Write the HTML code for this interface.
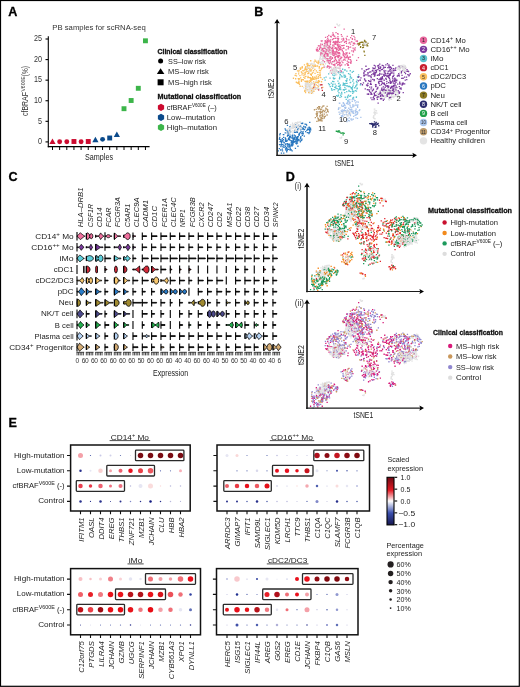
<!DOCTYPE html>
<html><head><meta charset="utf-8"><style>
html,body{margin:0;padding:0;background:#fff;}
svg{display:block;font-family:"Liberation Sans", sans-serif;will-change:transform;}
</style></head><body>
<svg width="520" height="687" viewBox="0 0 520 687">
<rect width="520" height="687" fill="#fff"/>
<rect x="0.5" y="0.5" width="518.8" height="685.8" fill="none" stroke="#000" stroke-width="1.2"/>
<text x="8.3" y="16.3" font-size="12.6" fill="#000" font-weight="bold" stroke="#000" stroke-width="0.3">A</text>
<text x="254.2" y="15.9" font-size="12.6" fill="#000" font-weight="bold" stroke="#000" stroke-width="0.3">B</text>
<text x="8.5" y="180.5" font-size="12.6" fill="#000" font-weight="bold" stroke="#000" stroke-width="0.3">C</text>
<text x="285.8" y="181" font-size="12.6" fill="#000" font-weight="bold" stroke="#000" stroke-width="0.3">D</text>
<text x="8.5" y="427" font-size="12.6" fill="#000" font-weight="bold" stroke="#000" stroke-width="0.3">E</text>
<text x="52.3" y="29.8" font-size="7.6" fill="#333" textLength="93.5" lengthAdjust="spacingAndGlyphs">PB samples for scRNA-seq</text>
<line x1="48.3" y1="36.3" x2="48.3" y2="147.2" stroke="#000" stroke-width="1.1"/>
<line x1="47.8" y1="146.6" x2="149.6" y2="146.6" stroke="#000" stroke-width="1.1"/>
<line x1="45.5" y1="39.0" x2="48.3" y2="39.0" stroke="#000" stroke-width="1.1"/>
<text x="42.0" y="41.3" font-size="8.2" fill="#333" text-anchor="end" textLength="8" lengthAdjust="spacingAndGlyphs">25</text>
<line x1="45.5" y1="59.58" x2="48.3" y2="59.58" stroke="#000" stroke-width="1.1"/>
<text x="42.0" y="61.879999999999995" font-size="8.2" fill="#333" text-anchor="end" textLength="8" lengthAdjust="spacingAndGlyphs">20</text>
<line x1="45.5" y1="80.16" x2="48.3" y2="80.16" stroke="#000" stroke-width="1.1"/>
<text x="42.0" y="82.46" font-size="8.2" fill="#333" text-anchor="end" textLength="8" lengthAdjust="spacingAndGlyphs">15</text>
<line x1="45.5" y1="100.74" x2="48.3" y2="100.74" stroke="#000" stroke-width="1.1"/>
<text x="42.0" y="103.03999999999999" font-size="8.2" fill="#333" text-anchor="end" textLength="8" lengthAdjust="spacingAndGlyphs">10</text>
<line x1="45.5" y1="121.32" x2="48.3" y2="121.32" stroke="#000" stroke-width="1.1"/>
<text x="42.0" y="123.61999999999999" font-size="8.2" fill="#333" text-anchor="end" textLength="4" lengthAdjust="spacingAndGlyphs">5</text>
<line x1="45.5" y1="141.89999999999998" x2="48.3" y2="141.89999999999998" stroke="#000" stroke-width="1.1"/>
<text x="42.0" y="144.2" font-size="8.2" fill="#333" text-anchor="end" textLength="4" lengthAdjust="spacingAndGlyphs">0</text>
<line x1="52.5" y1="146.6" x2="52.5" y2="150" stroke="#000" stroke-width="1"/>
<line x1="59.65" y1="146.6" x2="59.65" y2="150" stroke="#000" stroke-width="1"/>
<line x1="66.8" y1="146.6" x2="66.8" y2="150" stroke="#000" stroke-width="1"/>
<line x1="73.95" y1="146.6" x2="73.95" y2="150" stroke="#000" stroke-width="1"/>
<line x1="81.1" y1="146.6" x2="81.1" y2="150" stroke="#000" stroke-width="1"/>
<line x1="88.25" y1="146.6" x2="88.25" y2="150" stroke="#000" stroke-width="1"/>
<line x1="95.4" y1="146.6" x2="95.4" y2="150" stroke="#000" stroke-width="1"/>
<line x1="102.55000000000001" y1="146.6" x2="102.55000000000001" y2="150" stroke="#000" stroke-width="1"/>
<line x1="109.7" y1="146.6" x2="109.7" y2="150" stroke="#000" stroke-width="1"/>
<line x1="116.85000000000001" y1="146.6" x2="116.85000000000001" y2="150" stroke="#000" stroke-width="1"/>
<line x1="124.0" y1="146.6" x2="124.0" y2="150" stroke="#000" stroke-width="1"/>
<line x1="131.15" y1="146.6" x2="131.15" y2="150" stroke="#000" stroke-width="1"/>
<line x1="138.3" y1="146.6" x2="138.3" y2="150" stroke="#000" stroke-width="1"/>
<line x1="145.45" y1="146.6" x2="145.45" y2="150" stroke="#000" stroke-width="1"/>
<text transform="translate(28.3,116) rotate(-90)" font-size="9" fill="#333" textLength="24" lengthAdjust="spacingAndGlyphs">cfBRAF</text>
<text transform="translate(25.2,91.6) rotate(-90)" font-size="5.6" fill="#333" textLength="15.3" lengthAdjust="spacingAndGlyphs">V600E</text>
<text transform="translate(27.6,76.2) rotate(-90)" font-size="8.2" fill="#333" textLength="10" lengthAdjust="spacingAndGlyphs">(%)</text>
<text x="85" y="159.5" font-size="8.6" fill="#222" textLength="28" lengthAdjust="spacingAndGlyphs">Samples</text>
<path d="M49.4,143.95 L55.6,143.95 L52.5,138.45 Z" fill="#cc0a2f"/>
<circle cx="59.65" cy="141.7" r="2.45" fill="#cc0a2f"/>
<circle cx="66.8" cy="141.7" r="2.45" fill="#cc0a2f"/>
<rect x="71.5" y="139.05" width="4.9" height="4.9" fill="#cc0a2f"/>
<circle cx="81.1" cy="141.7" r="2.45" fill="#cc0a2f"/>
<rect x="85.8" y="139.05" width="4.9" height="4.9" fill="#cc0a2f"/>
<path d="M92.30000000000001,142.15 L98.5,142.15 L95.4,136.65 Z" fill="#0b4a8b"/>
<circle cx="102.55000000000001" cy="139.35" r="2.45" fill="#0b4a8b"/>
<rect x="107.25" y="135.55" width="4.9" height="4.9" fill="#0b4a8b"/>
<path d="M113.75000000000001,137.05 L119.95,137.05 L116.85000000000001,131.55 Z" fill="#0b4a8b"/>
<rect x="121.55" y="106.25" width="4.9" height="4.9" fill="#3cb54a"/>
<rect x="128.70000000000002" y="98.05" width="4.9" height="4.9" fill="#3cb54a"/>
<rect x="135.85000000000002" y="85.85" width="4.9" height="4.9" fill="#3cb54a"/>
<rect x="143.0" y="38.349999999999994" width="4.9" height="4.9" fill="#3cb54a"/>
<text x="157.5" y="53.5" font-size="7.2" fill="#111" font-weight="bold" stroke="#111" stroke-width="0.3" textLength="70" lengthAdjust="spacingAndGlyphs">Clinical classification</text>
<circle cx="160.6" cy="61.1" r="2.5" fill="#000"/>
<text x="168.1" y="63.6" font-size="7.3" fill="#222" textLength="37.9" lengthAdjust="spacingAndGlyphs">SS–low risk</text>
<path d="M156.85,73.89999999999999 L164.35,73.89999999999999 L160.6,68.3 Z" fill="#000"/>
<text x="168.1" y="73.9" font-size="7.3" fill="#222" textLength="40.6" lengthAdjust="spacingAndGlyphs">MS–low risk</text>
<rect x="157.6" y="79.3" width="6" height="6" fill="#000"/>
<text x="168.1" y="85.1" font-size="7.3" fill="#222" textLength="43.8" lengthAdjust="spacingAndGlyphs">MS–high risk</text>
<text x="157.6" y="99.2" font-size="7.2" fill="#111" font-weight="bold" stroke="#111" stroke-width="0.3" textLength="83.6" lengthAdjust="spacingAndGlyphs">Mutational classification</text>
<polygon points="161.00,111.00 157.88,109.20 157.88,105.60 161.00,103.80 164.12,105.60 164.12,109.20" fill="#cc0a2f"/>
<text x="166.8" y="110.1" font-size="7.3" fill="#222">cfBRAF<tspan font-size="4.6" dy="-2.8">V600E</tspan><tspan dy="2.8"> (–)</tspan></text>
<polygon points="161.00,121.00 157.88,119.20 157.88,115.60 161.00,113.80 164.12,115.60 164.12,119.20" fill="#0b4a8b"/>
<text x="166.8" y="120" font-size="7.3" fill="#222" textLength="48.4" lengthAdjust="spacingAndGlyphs">Low–mutation</text>
<polygon points="161.00,131.00 157.88,129.20 157.88,125.60 161.00,123.80 164.12,125.60 164.12,129.20" fill="#3cb54a"/>
<text x="166.8" y="129.9" font-size="7.3" fill="#222" textLength="50.2" lengthAdjust="spacingAndGlyphs">High–mutation</text>
<path d="M328.0 46.5h1.3v1.3h-1.3zM323.4 48.3h1.3v1.3h-1.3zM332.3 53.1h1.3v1.3h-1.3zM321.7 53.2h1.3v1.3h-1.3zM329.8 53.9h1.3v1.3h-1.3zM329.2 62.8h1.3v1.3h-1.3zM327.3 50.6h1.3v1.3h-1.3zM324.6 44.8h1.3v1.3h-1.3zM319.6 56.3h1.3v1.3h-1.3zM332.6 60.9h1.3v1.3h-1.3zM322.7 60.8h1.3v1.3h-1.3zM328.6 53.0h1.3v1.3h-1.3zM322.0 52.3h1.3v1.3h-1.3zM325.2 44.4h1.3v1.3h-1.3zM319.1 58.9h1.3v1.3h-1.3zM328.3 51.8h1.3v1.3h-1.3zM324.3 52.7h1.3v1.3h-1.3zM326.8 53.9h1.3v1.3h-1.3zM321.6 63.1h1.3v1.3h-1.3zM319.7 57.1h1.3v1.3h-1.3zM319.7 61.9h1.3v1.3h-1.3zM318.5 59.8h1.3v1.3h-1.3zM322.3 63.1h1.3v1.3h-1.3zM325.7 66.1h1.3v1.3h-1.3zM322.4 56.3h1.3v1.3h-1.3zM328.7 47.8h1.3v1.3h-1.3zM322.9 45.4h1.3v1.3h-1.3zM328.0 52.7h1.3v1.3h-1.3zM327.3 50.7h1.3v1.3h-1.3zM321.2 62.6h1.3v1.3h-1.3zM326.6 62.0h1.3v1.3h-1.3zM320.1 52.0h1.3v1.3h-1.3zM321.2 61.0h1.3v1.3h-1.3zM326.8 58.7h1.3v1.3h-1.3zM324.7 58.7h1.3v1.3h-1.3zM320.4 49.2h1.3v1.3h-1.3zM325.6 56.1h1.3v1.3h-1.3zM325.6 47.2h1.3v1.3h-1.3zM327.4 60.9h1.3v1.3h-1.3zM329.0 58.7h1.3v1.3h-1.3zM323.2 57.7h1.3v1.3h-1.3zM321.7 57.6h1.3v1.3h-1.3zM331.6 61.9h1.3v1.3h-1.3zM322.7 63.2h1.3v1.3h-1.3zM318.0 61.9h1.3v1.3h-1.3zM331.1 52.3h1.3v1.3h-1.3zM324.4 51.9h1.3v1.3h-1.3zM326.3 49.0h1.3v1.3h-1.3zM331.4 47.4h1.3v1.3h-1.3zM320.5 55.2h1.3v1.3h-1.3zM319.6 55.9h1.3v1.3h-1.3zM319.9 50.5h1.3v1.3h-1.3zM326.5 44.6h1.3v1.3h-1.3zM325.7 46.2h1.3v1.3h-1.3zM319.0 57.7h1.3v1.3h-1.3zM328.7 47.0h1.3v1.3h-1.3zM320.3 53.7h1.3v1.3h-1.3zM323.6 56.4h1.3v1.3h-1.3zM322.9 57.1h1.3v1.3h-1.3zM327.0 47.2h1.3v1.3h-1.3zM320.4 53.1h1.3v1.3h-1.3zM327.1 60.9h1.3v1.3h-1.3zM323.0 60.7h1.3v1.3h-1.3zM329.6 47.6h1.3v1.3h-1.3zM333.2 55.4h1.3v1.3h-1.3zM321.6 42.7h1.3v1.3h-1.3zM321.6 55.6h1.3v1.3h-1.3zM325.1 54.3h1.3v1.3h-1.3zM323.3 55.3h1.3v1.3h-1.3zM330.3 53.4h1.3v1.3h-1.3zM322.7 53.1h1.3v1.3h-1.3zM324.4 50.2h1.3v1.3h-1.3zM328.6 55.7h1.3v1.3h-1.3zM324.1 47.6h1.3v1.3h-1.3zM322.0 57.9h1.3v1.3h-1.3zM327.7 49.1h1.3v1.3h-1.3zM327.0 50.5h1.3v1.3h-1.3zM324.3 56.4h1.3v1.3h-1.3zM326.3 49.0h1.3v1.3h-1.3zM326.7 50.7h1.3v1.3h-1.3zM319.6 63.9h1.3v1.3h-1.3zM323.5 56.2h1.3v1.3h-1.3zM328.6 58.7h1.3v1.3h-1.3zM326.6 59.6h1.3v1.3h-1.3zM327.1 54.1h1.3v1.3h-1.3zM323.4 45.7h1.3v1.3h-1.3zM320.4 51.9h1.3v1.3h-1.3zM326.5 43.5h1.3v1.3h-1.3zM325.9 66.9h1.3v1.3h-1.3zM329.3 44.7h1.3v1.3h-1.3zM330.8 58.6h1.3v1.3h-1.3zM322.1 47.6h1.3v1.3h-1.3zM329.0 50.9h1.3v1.3h-1.3zM327.3 52.2h1.3v1.3h-1.3zM326.8 49.4h1.3v1.3h-1.3zM326.5 55.4h1.3v1.3h-1.3zM325.6 66.0h1.3v1.3h-1.3zM325.8 65.9h1.3v1.3h-1.3zM323.6 44.2h1.3v1.3h-1.3zM322.4 52.9h1.3v1.3h-1.3zM319.8 63.0h1.3v1.3h-1.3zM330.8 49.7h1.3v1.3h-1.3zM331.0 51.7h1.3v1.3h-1.3zM330.4 46.7h1.3v1.3h-1.3zM328.6 52.8h1.3v1.3h-1.3zM324.6 56.2h1.3v1.3h-1.3zM325.7 48.7h1.3v1.3h-1.3zM321.2 47.7h1.3v1.3h-1.3zM326.8 45.6h1.3v1.3h-1.3zM321.7 53.7h1.3v1.3h-1.3zM323.2 45.5h1.3v1.3h-1.3zM322.5 61.3h1.3v1.3h-1.3zM320.8 51.5h1.3v1.3h-1.3zM321.5 50.9h1.3v1.3h-1.3zM330.9 51.6h1.3v1.3h-1.3zM323.6 64.9h1.3v1.3h-1.3zM322.6 55.0h1.3v1.3h-1.3zM325.7 47.2h1.3v1.3h-1.3zM326.7 42.8h1.3v1.3h-1.3zM322.2 49.5h1.3v1.3h-1.3zM324.8 63.1h1.3v1.3h-1.3zM331.1 46.5h1.3v1.3h-1.3zM331.0 51.7h1.3v1.3h-1.3zM329.6 44.5h1.3v1.3h-1.3zM323.7 57.7h1.3v1.3h-1.3zM324.5 55.7h1.3v1.3h-1.3zM319.0 61.3h1.3v1.3h-1.3zM327.3 46.2h1.3v1.3h-1.3zM319.5 58.5h1.3v1.3h-1.3zM319.6 63.3h1.3v1.3h-1.3zM323.3 50.5h1.3v1.3h-1.3zM320.7 50.1h1.3v1.3h-1.3zM321.8 53.3h1.3v1.3h-1.3zM323.1 66.7h1.3v1.3h-1.3zM320.2 52.2h1.3v1.3h-1.3zM322.7 47.2h1.3v1.3h-1.3zM323.3 45.1h1.3v1.3h-1.3zM324.0 47.2h1.3v1.3h-1.3zM328.3 51.4h1.3v1.3h-1.3zM325.3 43.0h1.3v1.3h-1.3zM321.1 58.6h1.3v1.3h-1.3zM329.6 50.1h1.3v1.3h-1.3zM318.9 50.7h1.3v1.3h-1.3zM329.9 56.1h1.3v1.3h-1.3zM326.1 49.1h1.3v1.3h-1.3zM325.6 50.0h1.3v1.3h-1.3zM330.0 56.4h1.3v1.3h-1.3zM326.6 57.7h1.3v1.3h-1.3zM331.1 62.3h1.3v1.3h-1.3zM323.7 57.2h1.3v1.3h-1.3zM382.9 92.3h1.3v1.3h-1.3zM387.3 93.9h1.3v1.3h-1.3zM389.3 89.0h1.3v1.3h-1.3zM384.9 91.2h1.3v1.3h-1.3zM378.3 96.6h1.3v1.3h-1.3zM395.7 90.5h1.3v1.3h-1.3zM379.4 89.9h1.3v1.3h-1.3zM379.8 91.1h1.3v1.3h-1.3zM387.7 90.3h1.3v1.3h-1.3zM382.5 91.0h1.3v1.3h-1.3zM389.5 90.7h1.3v1.3h-1.3zM393.6 92.2h1.3v1.3h-1.3zM395.5 89.3h1.3v1.3h-1.3zM379.5 92.3h1.3v1.3h-1.3zM394.4 90.4h1.3v1.3h-1.3zM387.5 90.6h1.3v1.3h-1.3zM384.1 92.2h1.3v1.3h-1.3zM381.8 89.1h1.3v1.3h-1.3zM393.5 87.9h1.3v1.3h-1.3zM378.2 95.3h1.3v1.3h-1.3zM385.7 92.6h1.3v1.3h-1.3zM391.8 96.4h1.3v1.3h-1.3zM390.8 98.6h1.3v1.3h-1.3zM383.4 89.6h1.3v1.3h-1.3zM380.1 90.0h1.3v1.3h-1.3zM391.6 91.8h1.3v1.3h-1.3zM387.5 91.2h1.3v1.3h-1.3zM392.3 90.1h1.3v1.3h-1.3zM390.2 89.8h1.3v1.3h-1.3zM393.0 93.4h1.3v1.3h-1.3zM378.8 93.5h1.3v1.3h-1.3zM397.5 93.4h1.3v1.3h-1.3zM385.8 88.3h1.3v1.3h-1.3zM387.1 90.8h1.3v1.3h-1.3zM376.5 92.9h1.3v1.3h-1.3zM386.4 91.6h1.3v1.3h-1.3zM375.9 94.8h1.3v1.3h-1.3zM387.8 96.2h1.3v1.3h-1.3zM395.8 95.7h1.3v1.3h-1.3zM381.4 92.8h1.3v1.3h-1.3zM397.1 93.9h1.3v1.3h-1.3zM386.8 92.5h1.3v1.3h-1.3zM386.2 88.7h1.3v1.3h-1.3zM384.7 89.4h1.3v1.3h-1.3zM390.0 91.5h1.3v1.3h-1.3zM391.7 96.4h1.3v1.3h-1.3zM380.4 92.8h1.3v1.3h-1.3zM380.3 97.7h1.3v1.3h-1.3zM395.1 89.3h1.3v1.3h-1.3zM396.0 90.6h1.3v1.3h-1.3zM397.5 91.7h1.3v1.3h-1.3zM384.8 95.0h1.3v1.3h-1.3zM385.5 95.4h1.3v1.3h-1.3zM381.0 92.2h1.3v1.3h-1.3zM395.2 92.5h1.3v1.3h-1.3zM394.4 95.8h1.3v1.3h-1.3zM389.6 98.3h1.3v1.3h-1.3zM388.3 96.1h1.3v1.3h-1.3zM391.0 95.2h1.3v1.3h-1.3zM388.0 98.6h1.3v1.3h-1.3zM380.4 97.1h1.3v1.3h-1.3zM388.6 99.4h1.3v1.3h-1.3zM387.9 93.7h1.3v1.3h-1.3zM396.4 94.2h1.3v1.3h-1.3zM377.4 92.4h1.3v1.3h-1.3zM382.3 90.1h1.3v1.3h-1.3zM388.7 89.2h1.3v1.3h-1.3zM384.9 91.6h1.3v1.3h-1.3zM376.8 94.5h1.3v1.3h-1.3zM377.8 95.6h1.3v1.3h-1.3zM383.6 90.7h1.3v1.3h-1.3zM395.4 90.9h1.3v1.3h-1.3zM384.7 90.8h1.3v1.3h-1.3zM393.0 96.2h1.3v1.3h-1.3zM387.6 88.9h1.3v1.3h-1.3zM381.3 97.4h1.3v1.3h-1.3zM394.7 88.5h1.3v1.3h-1.3zM375.0 91.5h1.3v1.3h-1.3zM389.1 96.2h1.3v1.3h-1.3zM391.3 91.9h1.3v1.3h-1.3zM393.4 90.6h1.3v1.3h-1.3zM393.1 96.9h1.3v1.3h-1.3zM383.7 96.4h1.3v1.3h-1.3zM396.3 89.9h1.3v1.3h-1.3zM391.9 95.8h1.3v1.3h-1.3zM386.4 87.9h1.3v1.3h-1.3zM387.0 91.2h1.3v1.3h-1.3zM379.7 92.7h1.3v1.3h-1.3zM383.5 95.3h1.3v1.3h-1.3zM386.1 94.9h1.3v1.3h-1.3zM394.7 95.5h1.3v1.3h-1.3zM377.1 95.4h1.3v1.3h-1.3zM386.1 90.0h1.3v1.3h-1.3zM382.7 89.8h1.3v1.3h-1.3zM397.6 94.6h1.3v1.3h-1.3zM394.2 93.2h1.3v1.3h-1.3zM390.9 94.2h1.3v1.3h-1.3zM388.5 89.9h1.3v1.3h-1.3zM380.9 97.3h1.3v1.3h-1.3zM390.5 90.6h1.3v1.3h-1.3zM391.4 96.1h1.3v1.3h-1.3zM386.8 89.9h1.3v1.3h-1.3zM387.9 90.8h1.3v1.3h-1.3zM391.8 92.1h1.3v1.3h-1.3zM390.2 96.5h1.3v1.3h-1.3zM396.8 92.0h1.3v1.3h-1.3zM386.4 95.4h1.3v1.3h-1.3zM391.1 92.4h1.3v1.3h-1.3zM386.0 91.2h1.3v1.3h-1.3zM396.2 91.1h1.3v1.3h-1.3zM383.5 93.2h1.3v1.3h-1.3zM388.6 94.4h1.3v1.3h-1.3zM386.9 94.2h1.3v1.3h-1.3zM379.7 92.1h1.3v1.3h-1.3zM391.4 89.6h1.3v1.3h-1.3zM379.9 90.5h1.3v1.3h-1.3zM390.2 90.1h1.3v1.3h-1.3zM383.6 92.4h1.3v1.3h-1.3zM391.1 90.2h1.3v1.3h-1.3zM389.4 97.8h1.3v1.3h-1.3zM395.0 92.5h1.3v1.3h-1.3zM383.8 96.1h1.3v1.3h-1.3zM388.1 91.7h1.3v1.3h-1.3zM394.2 90.6h1.3v1.3h-1.3zM379.8 91.1h1.3v1.3h-1.3zM385.2 96.7h1.3v1.3h-1.3zM386.6 94.8h1.3v1.3h-1.3zM387.3 89.9h1.3v1.3h-1.3zM388.4 94.0h1.3v1.3h-1.3zM393.2 95.5h1.3v1.3h-1.3zM401.9 70.1h1.3v1.3h-1.3zM403.1 66.1h1.3v1.3h-1.3zM404.9 70.3h1.3v1.3h-1.3zM400.8 72.3h1.3v1.3h-1.3zM403.2 64.4h1.3v1.3h-1.3zM401.7 66.0h1.3v1.3h-1.3zM401.8 67.5h1.3v1.3h-1.3zM399.3 69.4h1.3v1.3h-1.3zM402.8 68.2h1.3v1.3h-1.3zM404.7 65.7h1.3v1.3h-1.3zM397.3 68.6h1.3v1.3h-1.3z" fill="#e0e0e0"/>
<path d="M380.1 66.4h1.3v1.3h-1.3zM373.2 73.7h1.3v1.3h-1.3zM373.7 97.9h1.3v1.3h-1.3zM370.6 83.7h1.3v1.3h-1.3zM396.7 75.5h1.3v1.3h-1.3zM390.5 92.6h1.3v1.3h-1.3zM368.3 68.0h1.3v1.3h-1.3zM374.6 67.2h1.3v1.3h-1.3zM372.7 68.0h1.3v1.3h-1.3zM366.7 93.5h1.3v1.3h-1.3zM398.4 91.2h1.3v1.3h-1.3zM379.9 94.4h1.3v1.3h-1.3zM391.3 69.4h1.3v1.3h-1.3zM394.4 68.3h1.3v1.3h-1.3zM379.5 70.3h1.3v1.3h-1.3zM363.1 75.3h1.3v1.3h-1.3zM381.1 98.1h1.3v1.3h-1.3zM389.7 69.0h1.3v1.3h-1.3zM383.4 69.7h1.3v1.3h-1.3zM372.5 73.0h1.3v1.3h-1.3zM382.9 88.7h1.3v1.3h-1.3zM376.2 88.5h1.3v1.3h-1.3zM402.3 83.8h1.3v1.3h-1.3zM390.9 82.3h1.3v1.3h-1.3zM394.3 78.7h1.3v1.3h-1.3zM399.4 67.1h1.3v1.3h-1.3zM372.1 78.7h1.3v1.3h-1.3zM387.0 72.9h1.3v1.3h-1.3zM381.6 89.4h1.3v1.3h-1.3zM404.1 70.1h1.3v1.3h-1.3zM392.2 80.3h1.3v1.3h-1.3zM394.4 83.0h1.3v1.3h-1.3zM386.2 75.5h1.3v1.3h-1.3zM391.5 86.4h1.3v1.3h-1.3zM388.3 66.0h1.3v1.3h-1.3zM376.7 78.0h1.3v1.3h-1.3zM397.1 83.5h1.3v1.3h-1.3zM382.7 86.3h1.3v1.3h-1.3zM389.0 97.1h1.3v1.3h-1.3zM371.2 93.7h1.3v1.3h-1.3zM366.8 85.1h1.3v1.3h-1.3zM399.2 83.4h1.3v1.3h-1.3zM383.5 88.2h1.3v1.3h-1.3zM390.4 81.0h1.3v1.3h-1.3zM388.2 89.4h1.3v1.3h-1.3zM377.2 86.8h1.3v1.3h-1.3zM401.8 82.5h1.3v1.3h-1.3zM407.5 70.6h1.3v1.3h-1.3zM387.7 74.8h1.3v1.3h-1.3zM385.3 85.3h1.3v1.3h-1.3zM400.7 72.1h1.3v1.3h-1.3zM381.5 82.8h1.3v1.3h-1.3zM404.8 67.6h1.3v1.3h-1.3zM393.1 72.4h1.3v1.3h-1.3zM370.7 92.8h1.3v1.3h-1.3zM364.3 70.8h1.3v1.3h-1.3zM365.7 69.1h1.3v1.3h-1.3zM390.8 67.6h1.3v1.3h-1.3zM375.0 72.1h1.3v1.3h-1.3zM387.4 93.2h1.3v1.3h-1.3zM379.6 80.6h1.3v1.3h-1.3zM369.1 86.4h1.3v1.3h-1.3zM392.1 75.8h1.3v1.3h-1.3zM405.9 76.4h1.3v1.3h-1.3zM379.1 63.5h1.3v1.3h-1.3zM387.7 75.4h1.3v1.3h-1.3zM395.0 69.7h1.3v1.3h-1.3zM387.2 72.5h1.3v1.3h-1.3zM389.3 79.3h1.3v1.3h-1.3zM359.3 79.4h1.3v1.3h-1.3zM381.8 95.3h1.3v1.3h-1.3zM360.3 77.3h1.3v1.3h-1.3zM386.6 95.8h1.3v1.3h-1.3zM391.3 72.5h1.3v1.3h-1.3zM380.0 95.8h1.3v1.3h-1.3zM382.3 89.9h1.3v1.3h-1.3zM368.0 93.7h1.3v1.3h-1.3zM388.0 76.9h1.3v1.3h-1.3zM373.7 92.7h1.3v1.3h-1.3zM388.7 67.1h1.3v1.3h-1.3zM373.3 70.5h1.3v1.3h-1.3zM383.3 73.8h1.3v1.3h-1.3zM394.3 81.0h1.3v1.3h-1.3zM373.8 95.0h1.3v1.3h-1.3zM389.2 79.8h1.3v1.3h-1.3zM377.0 65.3h1.3v1.3h-1.3zM387.6 70.6h1.3v1.3h-1.3zM360.2 82.9h1.3v1.3h-1.3zM379.4 73.4h1.3v1.3h-1.3zM380.8 98.2h1.3v1.3h-1.3zM392.7 67.9h1.3v1.3h-1.3zM398.1 72.9h1.3v1.3h-1.3zM375.4 94.9h1.3v1.3h-1.3zM374.9 84.1h1.3v1.3h-1.3zM388.5 92.3h1.3v1.3h-1.3zM391.3 71.2h1.3v1.3h-1.3zM400.3 87.2h1.3v1.3h-1.3zM387.7 86.4h1.3v1.3h-1.3zM390.8 85.8h1.3v1.3h-1.3zM373.6 64.8h1.3v1.3h-1.3zM381.7 76.1h1.3v1.3h-1.3zM392.4 90.0h1.3v1.3h-1.3zM380.1 77.7h1.3v1.3h-1.3zM404.6 79.5h1.3v1.3h-1.3zM387.2 92.5h1.3v1.3h-1.3zM404.0 83.3h1.3v1.3h-1.3zM370.1 93.4h1.3v1.3h-1.3zM389.1 69.4h1.3v1.3h-1.3zM383.5 79.6h1.3v1.3h-1.3zM400.4 65.2h1.3v1.3h-1.3zM406.1 78.9h1.3v1.3h-1.3zM389.7 81.0h1.3v1.3h-1.3zM407.2 73.9h1.3v1.3h-1.3zM402.5 77.6h1.3v1.3h-1.3zM386.7 94.2h1.3v1.3h-1.3zM379.6 91.5h1.3v1.3h-1.3zM367.7 75.2h1.3v1.3h-1.3zM386.9 85.6h1.3v1.3h-1.3zM386.5 75.9h1.3v1.3h-1.3zM389.4 92.2h1.3v1.3h-1.3zM363.6 70.2h1.3v1.3h-1.3zM389.8 87.2h1.3v1.3h-1.3zM389.0 66.8h1.3v1.3h-1.3zM378.1 96.3h1.3v1.3h-1.3zM361.8 84.1h1.3v1.3h-1.3zM382.8 65.3h1.3v1.3h-1.3zM381.1 88.8h1.3v1.3h-1.3zM374.3 72.4h1.3v1.3h-1.3zM369.8 83.6h1.3v1.3h-1.3zM374.1 75.1h1.3v1.3h-1.3zM385.1 84.6h1.3v1.3h-1.3zM373.7 75.5h1.3v1.3h-1.3zM402.7 82.4h1.3v1.3h-1.3zM364.9 80.4h1.3v1.3h-1.3zM385.1 85.1h1.3v1.3h-1.3zM378.2 93.7h1.3v1.3h-1.3zM381.7 68.7h1.3v1.3h-1.3zM401.4 74.7h1.3v1.3h-1.3zM404.9 72.9h1.3v1.3h-1.3zM370.1 75.4h1.3v1.3h-1.3zM367.4 73.1h1.3v1.3h-1.3zM367.3 82.8h1.3v1.3h-1.3zM386.4 75.3h1.3v1.3h-1.3zM388.6 64.5h1.3v1.3h-1.3zM379.2 84.7h1.3v1.3h-1.3zM394.4 84.5h1.3v1.3h-1.3zM383.7 83.1h1.3v1.3h-1.3zM390.8 86.8h1.3v1.3h-1.3zM401.1 77.8h1.3v1.3h-1.3zM389.8 82.2h1.3v1.3h-1.3zM378.1 67.9h1.3v1.3h-1.3zM379.9 92.6h1.3v1.3h-1.3zM373.6 78.9h1.3v1.3h-1.3zM392.1 88.3h1.3v1.3h-1.3zM373.5 92.5h1.3v1.3h-1.3zM392.7 85.1h1.3v1.3h-1.3zM397.3 74.8h1.3v1.3h-1.3zM390.3 67.3h1.3v1.3h-1.3zM372.8 88.6h1.3v1.3h-1.3zM393.2 74.6h1.3v1.3h-1.3zM359.7 79.5h1.3v1.3h-1.3zM393.1 70.2h1.3v1.3h-1.3zM370.8 92.8h1.3v1.3h-1.3zM371.9 69.8h1.3v1.3h-1.3zM383.8 75.4h1.3v1.3h-1.3zM380.8 78.8h1.3v1.3h-1.3zM365.3 65.6h1.3v1.3h-1.3zM387.2 67.0h1.3v1.3h-1.3zM367.7 75.3h1.3v1.3h-1.3zM379.1 73.5h1.3v1.3h-1.3zM379.5 68.0h1.3v1.3h-1.3zM401.5 83.6h1.3v1.3h-1.3zM378.9 70.1h1.3v1.3h-1.3zM357.5 76.3h1.3v1.3h-1.3zM385.1 70.3h1.3v1.3h-1.3zM367.3 71.9h1.3v1.3h-1.3zM398.6 92.6h1.3v1.3h-1.3zM393.1 89.2h1.3v1.3h-1.3zM364.6 88.3h1.3v1.3h-1.3zM380.8 89.5h1.3v1.3h-1.3zM408.3 75.1h1.3v1.3h-1.3zM388.8 97.3h1.3v1.3h-1.3zM401.8 66.2h1.3v1.3h-1.3zM390.0 96.7h1.3v1.3h-1.3zM406.2 70.8h1.3v1.3h-1.3zM383.7 82.4h1.3v1.3h-1.3zM384.4 89.5h1.3v1.3h-1.3zM394.6 87.3h1.3v1.3h-1.3zM382.0 89.9h1.3v1.3h-1.3zM388.7 74.8h1.3v1.3h-1.3zM370.1 80.9h1.3v1.3h-1.3zM386.8 62.9h1.3v1.3h-1.3zM374.4 74.2h1.3v1.3h-1.3zM384.7 66.8h1.3v1.3h-1.3zM365.9 84.5h1.3v1.3h-1.3zM389.0 93.3h1.3v1.3h-1.3zM378.0 64.8h1.3v1.3h-1.3zM363.9 78.3h1.3v1.3h-1.3zM390.5 87.0h1.3v1.3h-1.3zM393.3 90.9h1.3v1.3h-1.3zM399.0 91.4h1.3v1.3h-1.3zM393.3 85.7h1.3v1.3h-1.3zM379.1 72.7h1.3v1.3h-1.3zM384.5 86.7h1.3v1.3h-1.3zM391.4 93.3h1.3v1.3h-1.3zM377.9 81.5h1.3v1.3h-1.3zM357.5 76.6h1.3v1.3h-1.3zM391.9 85.9h1.3v1.3h-1.3zM374.8 65.4h1.3v1.3h-1.3zM393.0 69.8h1.3v1.3h-1.3zM364.6 74.2h1.3v1.3h-1.3zM404.0 76.5h1.3v1.3h-1.3zM383.5 74.1h1.3v1.3h-1.3zM381.0 80.4h1.3v1.3h-1.3zM363.3 71.9h1.3v1.3h-1.3zM393.0 86.3h1.3v1.3h-1.3zM382.1 82.2h1.3v1.3h-1.3zM385.1 74.6h1.3v1.3h-1.3zM383.0 67.4h1.3v1.3h-1.3zM389.6 74.5h1.3v1.3h-1.3zM384.7 92.3h1.3v1.3h-1.3zM382.7 99.8h1.3v1.3h-1.3zM366.2 74.2h1.3v1.3h-1.3zM396.0 80.0h1.3v1.3h-1.3zM362.8 82.3h1.3v1.3h-1.3zM393.9 80.6h1.3v1.3h-1.3zM375.8 70.5h1.3v1.3h-1.3zM399.1 81.6h1.3v1.3h-1.3zM380.4 77.2h1.3v1.3h-1.3zM392.3 64.7h1.3v1.3h-1.3zM377.6 74.3h1.3v1.3h-1.3zM376.4 97.0h1.3v1.3h-1.3zM380.9 69.0h1.3v1.3h-1.3zM385.6 78.6h1.3v1.3h-1.3zM385.2 64.2h1.3v1.3h-1.3zM398.5 65.5h1.3v1.3h-1.3zM379.2 92.8h1.3v1.3h-1.3zM381.2 87.5h1.3v1.3h-1.3zM372.3 67.2h1.3v1.3h-1.3zM378.3 78.9h1.3v1.3h-1.3zM383.8 84.0h1.3v1.3h-1.3zM380.9 83.9h1.3v1.3h-1.3zM387.0 85.0h1.3v1.3h-1.3zM364.2 79.2h1.3v1.3h-1.3zM388.4 76.3h1.3v1.3h-1.3zM389.2 79.7h1.3v1.3h-1.3zM399.3 88.0h1.3v1.3h-1.3zM395.5 85.4h1.3v1.3h-1.3zM386.0 85.4h1.3v1.3h-1.3zM395.2 67.2h1.3v1.3h-1.3zM375.8 71.4h1.3v1.3h-1.3zM370.3 79.4h1.3v1.3h-1.3zM389.8 66.2h1.3v1.3h-1.3zM387.4 87.0h1.3v1.3h-1.3zM373.4 72.1h1.3v1.3h-1.3zM396.2 79.5h1.3v1.3h-1.3zM371.1 74.0h1.3v1.3h-1.3zM367.3 84.8h1.3v1.3h-1.3zM370.3 97.2h1.3v1.3h-1.3zM370.5 88.3h1.3v1.3h-1.3zM373.3 98.9h1.3v1.3h-1.3zM406.4 69.0h1.3v1.3h-1.3zM368.3 89.3h1.3v1.3h-1.3zM387.9 81.9h1.3v1.3h-1.3zM368.9 90.9h1.3v1.3h-1.3zM370.1 71.2h1.3v1.3h-1.3zM400.5 88.4h1.3v1.3h-1.3zM379.4 66.2h1.3v1.3h-1.3zM380.0 78.8h1.3v1.3h-1.3zM378.0 82.1h1.3v1.3h-1.3zM366.5 84.3h1.3v1.3h-1.3zM374.3 73.7h1.3v1.3h-1.3zM399.1 82.1h1.3v1.3h-1.3zM392.3 80.9h1.3v1.3h-1.3zM393.6 84.5h1.3v1.3h-1.3zM401.4 84.4h1.3v1.3h-1.3zM377.0 96.2h1.3v1.3h-1.3zM402.1 69.9h1.3v1.3h-1.3zM383.1 83.0h1.3v1.3h-1.3zM389.5 90.3h1.3v1.3h-1.3zM385.1 77.7h1.3v1.3h-1.3zM372.6 97.1h1.3v1.3h-1.3zM403.9 66.6h1.3v1.3h-1.3zM399.5 83.3h1.3v1.3h-1.3zM408.6 74.5h1.3v1.3h-1.3zM392.6 92.7h1.3v1.3h-1.3zM387.4 72.8h1.3v1.3h-1.3zM369.0 75.3h1.3v1.3h-1.3zM370.0 82.8h1.3v1.3h-1.3zM392.1 80.1h1.3v1.3h-1.3zM392.8 88.3h1.3v1.3h-1.3zM381.9 78.3h1.3v1.3h-1.3zM383.5 75.4h1.3v1.3h-1.3zM386.2 80.7h1.3v1.3h-1.3zM370.5 76.9h1.3v1.3h-1.3zM389.5 81.2h1.3v1.3h-1.3zM389.3 79.3h1.3v1.3h-1.3zM381.7 77.3h1.3v1.3h-1.3zM388.9 77.8h1.3v1.3h-1.3zM385.4 89.8h1.3v1.3h-1.3zM395.3 81.7h1.3v1.3h-1.3zM404.1 71.8h1.3v1.3h-1.3zM375.4 85.9h1.3v1.3h-1.3zM391.9 77.3h1.3v1.3h-1.3zM373.9 67.9h1.3v1.3h-1.3zM367.2 68.8h1.3v1.3h-1.3zM368.9 71.4h1.3v1.3h-1.3zM387.9 86.0h1.3v1.3h-1.3zM377.8 66.6h1.3v1.3h-1.3zM383.3 66.7h1.3v1.3h-1.3zM396.2 87.0h1.3v1.3h-1.3zM392.9 82.4h1.3v1.3h-1.3zM384.5 72.5h1.3v1.3h-1.3zM375.0 85.8h1.3v1.3h-1.3zM402.6 91.9h1.3v1.3h-1.3zM381.1 81.0h1.3v1.3h-1.3zM372.2 89.8h1.3v1.3h-1.3zM407.9 70.9h1.3v1.3h-1.3zM370.6 76.4h1.3v1.3h-1.3zM390.0 87.7h1.3v1.3h-1.3zM375.0 70.0h1.3v1.3h-1.3zM395.1 78.5h1.3v1.3h-1.3zM375.5 84.3h1.3v1.3h-1.3zM361.3 68.3h1.3v1.3h-1.3zM379.8 67.3h1.3v1.3h-1.3zM371.8 69.9h1.3v1.3h-1.3zM387.6 64.4h1.3v1.3h-1.3zM389.7 82.6h1.3v1.3h-1.3zM388.9 73.4h1.3v1.3h-1.3zM376.7 74.8h1.3v1.3h-1.3zM375.6 69.4h1.3v1.3h-1.3zM367.9 93.3h1.3v1.3h-1.3zM378.5 83.0h1.3v1.3h-1.3zM390.1 72.4h1.3v1.3h-1.3zM394.5 69.7h1.3v1.3h-1.3zM409.6 73.1h1.3v1.3h-1.3zM373.5 80.0h1.3v1.3h-1.3zM377.2 69.0h1.3v1.3h-1.3zM392.4 78.5h1.3v1.3h-1.3zM378.4 80.9h1.3v1.3h-1.3zM371.4 99.0h1.3v1.3h-1.3zM383.5 98.4h1.3v1.3h-1.3zM386.1 82.7h1.3v1.3h-1.3zM395.3 89.3h1.3v1.3h-1.3zM357.7 80.2h1.3v1.3h-1.3zM398.5 74.5h1.3v1.3h-1.3zM398.7 85.9h1.3v1.3h-1.3zM377.0 87.9h1.3v1.3h-1.3zM373.8 94.0h1.3v1.3h-1.3zM371.7 70.1h1.3v1.3h-1.3zM376.8 98.8h1.3v1.3h-1.3zM381.4 94.1h1.3v1.3h-1.3zM383.0 74.5h1.3v1.3h-1.3zM382.0 78.2h1.3v1.3h-1.3zM381.2 73.5h1.3v1.3h-1.3zM397.6 90.0h1.3v1.3h-1.3zM388.2 93.3h1.3v1.3h-1.3zM398.5 75.4h1.3v1.3h-1.3zM366.7 89.0h1.3v1.3h-1.3zM367.5 89.2h1.3v1.3h-1.3zM383.6 71.1h1.3v1.3h-1.3zM384.3 72.3h1.3v1.3h-1.3zM389.4 70.8h1.3v1.3h-1.3zM390.0 72.5h1.3v1.3h-1.3zM363.2 73.3h1.3v1.3h-1.3zM368.0 80.0h1.3v1.3h-1.3zM397.5 66.8h1.3v1.3h-1.3zM382.7 95.4h1.3v1.3h-1.3zM392.2 92.2h1.3v1.3h-1.3zM394.6 79.9h1.3v1.3h-1.3zM377.5 102.5h1.3v1.3h-1.3zM368.8 89.5h1.3v1.3h-1.3zM388.1 85.6h1.3v1.3h-1.3zM378.6 74.7h1.3v1.3h-1.3zM398.1 66.2h1.3v1.3h-1.3zM371.7 90.3h1.3v1.3h-1.3zM365.2 80.3h1.3v1.3h-1.3zM379.9 98.1h1.3v1.3h-1.3zM380.7 78.3h1.3v1.3h-1.3zM368.8 80.8h1.3v1.3h-1.3zM381.6 64.7h1.3v1.3h-1.3zM400.8 70.8h1.3v1.3h-1.3zM363.7 75.1h1.3v1.3h-1.3zM386.3 94.2h1.3v1.3h-1.3zM378.9 78.5h1.3v1.3h-1.3zM374.8 91.4h1.3v1.3h-1.3zM389.7 73.1h1.3v1.3h-1.3zM370.1 91.7h1.3v1.3h-1.3zM358.2 76.1h1.3v1.3h-1.3zM382.8 67.4h1.3v1.3h-1.3zM391.8 89.7h1.3v1.3h-1.3zM392.7 75.7h1.3v1.3h-1.3zM375.0 94.7h1.3v1.3h-1.3zM394.0 79.8h1.3v1.3h-1.3zM375.6 90.7h1.3v1.3h-1.3zM395.0 94.0h1.3v1.3h-1.3zM394.1 77.6h1.3v1.3h-1.3zM385.1 73.0h1.3v1.3h-1.3zM373.0 96.3h1.3v1.3h-1.3zM370.9 86.5h1.3v1.3h-1.3z" fill="#7b3a9e"/>
<path d="M332.1 46.6h1.3v1.3h-1.3zM341.6 48.3h1.3v1.3h-1.3zM337.0 37.9h1.3v1.3h-1.3zM350.2 62.6h1.3v1.3h-1.3zM335.1 55.8h1.3v1.3h-1.3zM340.8 71.0h1.3v1.3h-1.3zM347.7 56.8h1.3v1.3h-1.3zM334.4 52.8h1.3v1.3h-1.3zM349.8 43.4h1.3v1.3h-1.3zM335.9 49.3h1.3v1.3h-1.3zM320.6 52.2h1.3v1.3h-1.3zM315.9 49.6h1.3v1.3h-1.3zM326.2 40.8h1.3v1.3h-1.3zM338.5 60.3h1.3v1.3h-1.3zM323.9 61.1h1.3v1.3h-1.3zM350.3 61.6h1.3v1.3h-1.3zM335.4 69.4h1.3v1.3h-1.3zM334.9 56.0h1.3v1.3h-1.3zM328.5 46.1h1.3v1.3h-1.3zM328.0 60.0h1.3v1.3h-1.3zM335.8 48.3h1.3v1.3h-1.3zM329.8 43.8h1.3v1.3h-1.3zM324.5 40.5h1.3v1.3h-1.3zM327.5 41.0h1.3v1.3h-1.3zM332.7 38.0h1.3v1.3h-1.3zM338.7 52.7h1.3v1.3h-1.3zM346.5 52.3h1.3v1.3h-1.3zM349.2 41.7h1.3v1.3h-1.3zM356.7 40.6h1.3v1.3h-1.3zM321.4 52.9h1.3v1.3h-1.3zM342.6 54.2h1.3v1.3h-1.3zM336.0 51.3h1.3v1.3h-1.3zM344.0 53.3h1.3v1.3h-1.3zM341.7 49.9h1.3v1.3h-1.3zM327.4 53.9h1.3v1.3h-1.3zM334.6 56.1h1.3v1.3h-1.3zM339.0 49.1h1.3v1.3h-1.3zM340.3 49.0h1.3v1.3h-1.3zM335.2 40.7h1.3v1.3h-1.3zM319.9 52.5h1.3v1.3h-1.3zM334.5 26.7h1.3v1.3h-1.3zM347.6 48.1h1.3v1.3h-1.3zM331.8 51.7h1.3v1.3h-1.3zM335.2 37.6h1.3v1.3h-1.3zM326.5 60.3h1.3v1.3h-1.3zM347.7 57.5h1.3v1.3h-1.3zM327.1 37.7h1.3v1.3h-1.3zM321.9 49.1h1.3v1.3h-1.3zM338.1 52.0h1.3v1.3h-1.3zM316.5 50.5h1.3v1.3h-1.3zM343.9 41.8h1.3v1.3h-1.3zM326.6 42.2h1.3v1.3h-1.3zM333.8 41.5h1.3v1.3h-1.3zM333.4 54.7h1.3v1.3h-1.3zM341.4 35.8h1.3v1.3h-1.3zM338.2 59.3h1.3v1.3h-1.3zM342.2 61.9h1.3v1.3h-1.3zM339.0 62.8h1.3v1.3h-1.3zM325.8 51.3h1.3v1.3h-1.3zM324.0 55.6h1.3v1.3h-1.3zM357.8 56.9h1.3v1.3h-1.3zM329.6 42.1h1.3v1.3h-1.3zM337.4 41.9h1.3v1.3h-1.3zM331.9 46.7h1.3v1.3h-1.3zM320.2 47.0h1.3v1.3h-1.3zM342.3 54.2h1.3v1.3h-1.3zM338.4 47.7h1.3v1.3h-1.3zM334.8 43.6h1.3v1.3h-1.3zM327.0 65.2h1.3v1.3h-1.3zM324.6 40.0h1.3v1.3h-1.3zM340.7 34.0h1.3v1.3h-1.3zM353.7 42.6h1.3v1.3h-1.3zM323.4 54.9h1.3v1.3h-1.3zM320.9 40.4h1.3v1.3h-1.3zM340.6 41.2h1.3v1.3h-1.3zM341.7 50.2h1.3v1.3h-1.3zM330.2 66.4h1.3v1.3h-1.3zM324.3 43.3h1.3v1.3h-1.3zM354.2 38.9h1.3v1.3h-1.3zM345.6 56.4h1.3v1.3h-1.3zM337.7 38.4h1.3v1.3h-1.3zM356.0 59.7h1.3v1.3h-1.3zM319.0 47.9h1.3v1.3h-1.3zM337.8 55.0h1.3v1.3h-1.3zM339.5 48.7h1.3v1.3h-1.3zM327.0 42.1h1.3v1.3h-1.3zM343.0 38.4h1.3v1.3h-1.3zM316.7 49.0h1.3v1.3h-1.3zM328.1 34.8h1.3v1.3h-1.3zM331.7 71.9h1.3v1.3h-1.3zM335.9 62.6h1.3v1.3h-1.3zM337.1 51.5h1.3v1.3h-1.3zM332.7 49.9h1.3v1.3h-1.3zM338.4 51.9h1.3v1.3h-1.3zM334.9 46.9h1.3v1.3h-1.3zM322.4 59.7h1.3v1.3h-1.3zM338.1 56.3h1.3v1.3h-1.3zM354.2 37.3h1.3v1.3h-1.3zM335.5 60.1h1.3v1.3h-1.3zM343.0 47.3h1.3v1.3h-1.3zM332.6 48.4h1.3v1.3h-1.3zM334.3 37.7h1.3v1.3h-1.3zM322.6 51.0h1.3v1.3h-1.3zM345.6 37.8h1.3v1.3h-1.3zM337.3 56.7h1.3v1.3h-1.3zM342.8 37.7h1.3v1.3h-1.3zM346.0 39.1h1.3v1.3h-1.3zM339.2 64.8h1.3v1.3h-1.3zM347.8 64.8h1.3v1.3h-1.3zM331.8 57.6h1.3v1.3h-1.3zM343.4 44.8h1.3v1.3h-1.3zM349.2 56.2h1.3v1.3h-1.3zM335.1 41.8h1.3v1.3h-1.3zM342.1 40.2h1.3v1.3h-1.3zM333.5 61.0h1.3v1.3h-1.3zM330.0 61.5h1.3v1.3h-1.3zM347.6 58.3h1.3v1.3h-1.3zM344.7 57.3h1.3v1.3h-1.3zM335.6 51.3h1.3v1.3h-1.3zM321.1 49.4h1.3v1.3h-1.3zM339.5 58.3h1.3v1.3h-1.3zM341.1 45.0h1.3v1.3h-1.3zM349.9 46.4h1.3v1.3h-1.3zM331.6 57.1h1.3v1.3h-1.3zM339.1 62.0h1.3v1.3h-1.3zM342.7 52.6h1.3v1.3h-1.3zM329.2 60.0h1.3v1.3h-1.3zM332.6 64.0h1.3v1.3h-1.3zM343.5 28.5h1.3v1.3h-1.3zM324.8 41.4h1.3v1.3h-1.3zM326.8 66.5h1.3v1.3h-1.3zM347.7 61.6h1.3v1.3h-1.3zM343.2 47.7h1.3v1.3h-1.3zM324.5 47.7h1.3v1.3h-1.3zM339.6 58.3h1.3v1.3h-1.3zM339.0 41.7h1.3v1.3h-1.3zM353.3 35.7h1.3v1.3h-1.3zM329.9 70.2h1.3v1.3h-1.3zM341.3 60.4h1.3v1.3h-1.3zM346.5 56.5h1.3v1.3h-1.3zM337.7 56.9h1.3v1.3h-1.3zM330.9 47.9h1.3v1.3h-1.3zM337.4 64.0h1.3v1.3h-1.3zM337.3 36.1h1.3v1.3h-1.3zM334.4 63.4h1.3v1.3h-1.3zM323.7 47.4h1.3v1.3h-1.3zM339.5 46.1h1.3v1.3h-1.3zM328.6 40.3h1.3v1.3h-1.3zM354.6 47.2h1.3v1.3h-1.3zM326.6 43.7h1.3v1.3h-1.3zM333.6 64.0h1.3v1.3h-1.3zM322.4 48.0h1.3v1.3h-1.3zM352.8 42.6h1.3v1.3h-1.3zM334.3 47.8h1.3v1.3h-1.3zM336.6 41.0h1.3v1.3h-1.3zM351.8 38.6h1.3v1.3h-1.3zM354.4 49.5h1.3v1.3h-1.3zM348.3 42.4h1.3v1.3h-1.3zM345.4 49.2h1.3v1.3h-1.3zM353.7 43.2h1.3v1.3h-1.3zM353.6 48.4h1.3v1.3h-1.3zM346.7 60.5h1.3v1.3h-1.3zM337.4 54.6h1.3v1.3h-1.3zM344.6 59.5h1.3v1.3h-1.3zM329.5 46.6h1.3v1.3h-1.3zM341.3 38.5h1.3v1.3h-1.3zM337.3 40.5h1.3v1.3h-1.3zM351.7 37.9h1.3v1.3h-1.3zM330.4 58.6h1.3v1.3h-1.3zM325.5 48.9h1.3v1.3h-1.3zM337.6 70.9h1.3v1.3h-1.3zM332.2 44.6h1.3v1.3h-1.3zM334.5 47.6h1.3v1.3h-1.3zM337.1 55.7h1.3v1.3h-1.3zM337.0 33.0h1.3v1.3h-1.3zM338.2 71.0h1.3v1.3h-1.3zM329.7 59.9h1.3v1.3h-1.3zM347.7 64.2h1.3v1.3h-1.3zM336.9 44.4h1.3v1.3h-1.3zM337.9 61.7h1.3v1.3h-1.3zM340.2 56.5h1.3v1.3h-1.3zM323.7 53.7h1.3v1.3h-1.3zM340.1 46.9h1.3v1.3h-1.3zM323.7 45.2h1.3v1.3h-1.3zM338.4 45.6h1.3v1.3h-1.3zM351.1 41.1h1.3v1.3h-1.3zM333.6 43.4h1.3v1.3h-1.3zM342.9 59.5h1.3v1.3h-1.3zM346.1 45.7h1.3v1.3h-1.3zM321.5 40.2h1.3v1.3h-1.3zM324.7 52.3h1.3v1.3h-1.3zM331.0 63.2h1.3v1.3h-1.3zM336.7 61.6h1.3v1.3h-1.3zM328.9 60.0h1.3v1.3h-1.3zM341.0 64.3h1.3v1.3h-1.3zM339.9 62.3h1.3v1.3h-1.3zM345.7 57.0h1.3v1.3h-1.3zM328.0 50.4h1.3v1.3h-1.3zM335.6 53.5h1.3v1.3h-1.3zM333.5 45.4h1.3v1.3h-1.3zM323.7 55.7h1.3v1.3h-1.3zM335.2 53.6h1.3v1.3h-1.3zM326.4 39.2h1.3v1.3h-1.3zM339.4 67.9h1.3v1.3h-1.3zM337.3 39.7h1.3v1.3h-1.3zM352.4 47.4h1.3v1.3h-1.3zM319.2 46.5h1.3v1.3h-1.3zM333.4 53.2h1.3v1.3h-1.3zM319.9 54.2h1.3v1.3h-1.3zM335.4 31.9h1.3v1.3h-1.3zM340.2 58.0h1.3v1.3h-1.3zM330.9 72.3h1.3v1.3h-1.3zM334.0 57.3h1.3v1.3h-1.3zM337.5 43.8h1.3v1.3h-1.3zM323.6 54.4h1.3v1.3h-1.3zM325.1 53.1h1.3v1.3h-1.3zM323.9 42.7h1.3v1.3h-1.3zM323.2 50.1h1.3v1.3h-1.3zM331.6 50.6h1.3v1.3h-1.3zM318.4 44.9h1.3v1.3h-1.3zM335.1 71.0h1.3v1.3h-1.3zM330.6 36.2h1.3v1.3h-1.3zM344.5 40.8h1.3v1.3h-1.3zM347.1 63.6h1.3v1.3h-1.3zM337.8 49.6h1.3v1.3h-1.3zM355.5 40.5h1.3v1.3h-1.3zM332.5 52.8h1.3v1.3h-1.3zM345.7 40.9h1.3v1.3h-1.3zM329.3 66.4h1.3v1.3h-1.3zM324.9 36.8h1.3v1.3h-1.3zM329.1 49.2h1.3v1.3h-1.3zM333.2 67.7h1.3v1.3h-1.3zM343.5 58.7h1.3v1.3h-1.3zM316.8 47.2h1.3v1.3h-1.3zM336.0 47.5h1.3v1.3h-1.3zM343.0 47.3h1.3v1.3h-1.3zM329.9 35.8h1.3v1.3h-1.3zM345.9 53.3h1.3v1.3h-1.3zM356.7 43.4h1.3v1.3h-1.3zM326.2 58.0h1.3v1.3h-1.3zM327.5 58.2h1.3v1.3h-1.3zM326.0 49.3h1.3v1.3h-1.3zM334.3 42.4h1.3v1.3h-1.3zM335.0 51.2h1.3v1.3h-1.3zM349.6 56.3h1.3v1.3h-1.3zM354.1 43.1h1.3v1.3h-1.3zM325.7 42.0h1.3v1.3h-1.3zM332.5 54.8h1.3v1.3h-1.3zM334.3 65.2h1.3v1.3h-1.3zM326.8 54.3h1.3v1.3h-1.3zM332.1 46.6h1.3v1.3h-1.3zM339.6 58.0h1.3v1.3h-1.3zM331.7 34.5h1.3v1.3h-1.3zM352.0 54.2h1.3v1.3h-1.3zM337.6 40.7h1.3v1.3h-1.3zM338.5 59.7h1.3v1.3h-1.3zM332.0 39.0h1.3v1.3h-1.3zM336.1 55.5h1.3v1.3h-1.3zM342.7 51.3h1.3v1.3h-1.3zM328.9 62.9h1.3v1.3h-1.3zM322.0 48.5h1.3v1.3h-1.3zM334.7 57.1h1.3v1.3h-1.3zM328.2 62.2h1.3v1.3h-1.3zM332.2 32.3h1.3v1.3h-1.3zM332.8 33.8h1.3v1.3h-1.3zM352.4 44.7h1.3v1.3h-1.3zM343.0 54.9h1.3v1.3h-1.3zM333.1 41.1h1.3v1.3h-1.3zM337.3 70.9h1.3v1.3h-1.3zM335.3 42.2h1.3v1.3h-1.3zM331.9 49.5h1.3v1.3h-1.3zM350.0 37.0h1.3v1.3h-1.3zM339.7 71.5h1.3v1.3h-1.3zM323.5 66.5h1.3v1.3h-1.3zM342.2 45.0h1.3v1.3h-1.3zM338.6 52.1h1.3v1.3h-1.3zM354.4 49.3h1.3v1.3h-1.3zM326.0 53.1h1.3v1.3h-1.3zM326.6 59.8h1.3v1.3h-1.3zM326.3 49.5h1.3v1.3h-1.3zM328.3 65.8h1.3v1.3h-1.3zM348.3 67.0h1.3v1.3h-1.3zM333.7 59.7h1.3v1.3h-1.3zM328.0 39.3h1.3v1.3h-1.3zM352.8 50.3h1.3v1.3h-1.3zM328.9 40.5h1.3v1.3h-1.3zM347.7 46.0h1.3v1.3h-1.3zM334.5 51.9h1.3v1.3h-1.3zM327.1 65.2h1.3v1.3h-1.3zM351.1 34.9h1.3v1.3h-1.3zM349.5 61.7h1.3v1.3h-1.3zM326.9 35.9h1.3v1.3h-1.3zM345.8 42.8h1.3v1.3h-1.3zM343.3 53.2h1.3v1.3h-1.3zM346.6 56.1h1.3v1.3h-1.3zM348.3 39.3h1.3v1.3h-1.3zM331.2 69.0h1.3v1.3h-1.3zM327.2 54.6h1.3v1.3h-1.3zM329.3 49.4h1.3v1.3h-1.3zM348.3 58.7h1.3v1.3h-1.3zM335.9 50.8h1.3v1.3h-1.3zM336.8 48.4h1.3v1.3h-1.3zM333.3 64.5h1.3v1.3h-1.3zM329.4 52.1h1.3v1.3h-1.3zM338.5 63.5h1.3v1.3h-1.3zM339.4 47.8h1.3v1.3h-1.3zM334.9 40.8h1.3v1.3h-1.3zM327.1 40.1h1.3v1.3h-1.3zM332.3 52.0h1.3v1.3h-1.3zM325.4 45.4h1.3v1.3h-1.3zM337.8 67.2h1.3v1.3h-1.3zM343.0 39.1h1.3v1.3h-1.3zM315.8 48.7h1.3v1.3h-1.3zM327.2 44.8h1.3v1.3h-1.3zM350.6 60.4h1.3v1.3h-1.3zM321.7 48.1h1.3v1.3h-1.3zM332.4 69.8h1.3v1.3h-1.3zM337.9 46.3h1.3v1.3h-1.3zM336.6 42.2h1.3v1.3h-1.3zM328.4 48.2h1.3v1.3h-1.3zM352.8 51.1h1.3v1.3h-1.3zM349.3 56.6h1.3v1.3h-1.3zM330.3 36.0h1.3v1.3h-1.3zM317.7 50.2h1.3v1.3h-1.3zM336.5 51.9h1.3v1.3h-1.3zM337.1 45.3h1.3v1.3h-1.3zM330.1 39.2h1.3v1.3h-1.3zM333.1 35.1h1.3v1.3h-1.3zM317.8 45.3h1.3v1.3h-1.3zM335.7 59.8h1.3v1.3h-1.3zM337.5 52.6h1.3v1.3h-1.3zM326.5 55.3h1.3v1.3h-1.3zM337.6 46.7h1.3v1.3h-1.3zM320.0 45.3h1.3v1.3h-1.3zM331.9 60.9h1.3v1.3h-1.3zM326.7 41.2h1.3v1.3h-1.3zM334.9 67.0h1.3v1.3h-1.3zM339.3 44.3h1.3v1.3h-1.3zM344.5 64.3h1.3v1.3h-1.3zM338.9 52.3h1.3v1.3h-1.3zM340.3 70.0h1.3v1.3h-1.3zM337.5 33.4h1.3v1.3h-1.3zM329.9 40.7h1.3v1.3h-1.3zM328.6 67.4h1.3v1.3h-1.3zM329.4 56.7h1.3v1.3h-1.3zM338.6 52.1h1.3v1.3h-1.3zM328.2 61.5h1.3v1.3h-1.3zM337.0 64.4h1.3v1.3h-1.3zM331.1 72.8h1.3v1.3h-1.3zM344.7 54.2h1.3v1.3h-1.3zM332.1 51.9h1.3v1.3h-1.3zM339.5 65.5h1.3v1.3h-1.3zM331.8 57.7h1.3v1.3h-1.3zM340.3 57.9h1.3v1.3h-1.3zM327.0 52.9h1.3v1.3h-1.3zM351.1 50.2h1.3v1.3h-1.3zM341.1 56.7h1.3v1.3h-1.3zM348.2 46.7h1.3v1.3h-1.3zM318.7 48.6h1.3v1.3h-1.3zM321.7 43.9h1.3v1.3h-1.3zM339.2 53.2h1.3v1.3h-1.3zM343.8 56.1h1.3v1.3h-1.3zM333.0 51.2h1.3v1.3h-1.3zM349.9 59.1h1.3v1.3h-1.3zM337.9 38.0h1.3v1.3h-1.3zM330.2 56.0h1.3v1.3h-1.3zM328.7 45.4h1.3v1.3h-1.3zM324.6 57.3h1.3v1.3h-1.3zM346.3 62.9h1.3v1.3h-1.3zM334.1 35.7h1.3v1.3h-1.3zM339.0 60.3h1.3v1.3h-1.3zM331.6 47.6h1.3v1.3h-1.3zM344.4 57.3h1.3v1.3h-1.3zM347.1 64.6h1.3v1.3h-1.3zM327.3 47.1h1.3v1.3h-1.3zM336.4 44.0h1.3v1.3h-1.3zM334.3 51.2h1.3v1.3h-1.3zM340.5 64.4h1.3v1.3h-1.3zM327.4 55.4h1.3v1.3h-1.3zM329.2 57.7h1.3v1.3h-1.3zM334.9 58.8h1.3v1.3h-1.3zM329.4 52.0h1.3v1.3h-1.3zM337.5 57.0h1.3v1.3h-1.3zM324.5 51.2h1.3v1.3h-1.3zM337.4 44.9h1.3v1.3h-1.3zM333.6 54.1h1.3v1.3h-1.3zM346.6 54.7h1.3v1.3h-1.3zM326.6 52.9h1.3v1.3h-1.3zM345.4 52.3h1.3v1.3h-1.3zM331.6 53.4h1.3v1.3h-1.3zM320.6 40.3h1.3v1.3h-1.3zM333.2 70.6h1.3v1.3h-1.3zM332.5 41.7h1.3v1.3h-1.3zM336.0 62.6h1.3v1.3h-1.3zM348.8 52.6h1.3v1.3h-1.3zM335.9 60.2h1.3v1.3h-1.3zM356.6 40.2h1.3v1.3h-1.3zM346.6 35.8h1.3v1.3h-1.3zM320.0 43.4h1.3v1.3h-1.3zM338.9 55.1h1.3v1.3h-1.3z" fill="#e8649c"/>
<path d="M352.1 86.0h1.3v1.3h-1.3zM348.5 90.6h1.3v1.3h-1.3zM334.0 89.0h1.3v1.3h-1.3zM330.9 88.1h1.3v1.3h-1.3zM338.8 78.0h1.3v1.3h-1.3zM335.7 68.5h1.3v1.3h-1.3zM332.3 83.6h1.3v1.3h-1.3zM359.8 84.1h1.3v1.3h-1.3zM337.8 85.7h1.3v1.3h-1.3zM338.7 85.6h1.3v1.3h-1.3zM352.6 78.9h1.3v1.3h-1.3zM337.8 94.6h1.3v1.3h-1.3zM356.9 76.2h1.3v1.3h-1.3zM355.8 90.4h1.3v1.3h-1.3zM346.4 82.7h1.3v1.3h-1.3zM340.1 89.0h1.3v1.3h-1.3zM344.6 96.6h1.3v1.3h-1.3zM347.3 95.5h1.3v1.3h-1.3zM349.2 95.7h1.3v1.3h-1.3zM334.8 86.6h1.3v1.3h-1.3zM345.6 98.7h1.3v1.3h-1.3zM356.6 87.6h1.3v1.3h-1.3zM334.1 86.7h1.3v1.3h-1.3zM350.0 95.0h1.3v1.3h-1.3zM356.5 79.5h1.3v1.3h-1.3zM335.9 95.0h1.3v1.3h-1.3zM343.8 82.9h1.3v1.3h-1.3zM340.1 94.7h1.3v1.3h-1.3zM332.0 85.7h1.3v1.3h-1.3zM340.3 72.0h1.3v1.3h-1.3zM349.8 75.6h1.3v1.3h-1.3zM352.5 97.6h1.3v1.3h-1.3zM352.1 97.4h1.3v1.3h-1.3zM339.0 76.6h1.3v1.3h-1.3zM338.9 78.2h1.3v1.3h-1.3zM357.9 74.2h1.3v1.3h-1.3zM333.3 89.0h1.3v1.3h-1.3zM349.0 79.3h1.3v1.3h-1.3zM343.1 83.6h1.3v1.3h-1.3zM342.7 84.0h1.3v1.3h-1.3zM355.0 85.9h1.3v1.3h-1.3zM343.5 76.3h1.3v1.3h-1.3zM344.3 68.9h1.3v1.3h-1.3zM339.3 87.1h1.3v1.3h-1.3zM344.3 69.7h1.3v1.3h-1.3zM334.1 70.8h1.3v1.3h-1.3zM356.2 84.1h1.3v1.3h-1.3zM338.4 82.4h1.3v1.3h-1.3zM347.7 85.9h1.3v1.3h-1.3zM331.4 89.6h1.3v1.3h-1.3zM341.4 76.1h1.3v1.3h-1.3zM327.9 83.0h1.3v1.3h-1.3zM337.2 71.3h1.3v1.3h-1.3zM348.4 85.6h1.3v1.3h-1.3zM337.3 80.5h1.3v1.3h-1.3zM349.6 77.2h1.3v1.3h-1.3zM339.4 70.6h1.3v1.3h-1.3zM330.7 82.4h1.3v1.3h-1.3zM333.5 78.3h1.3v1.3h-1.3zM338.3 92.1h1.3v1.3h-1.3zM328.8 84.2h1.3v1.3h-1.3zM350.0 81.7h1.3v1.3h-1.3zM332.9 78.0h1.3v1.3h-1.3zM355.8 96.2h1.3v1.3h-1.3zM345.3 79.9h1.3v1.3h-1.3zM349.6 82.0h1.3v1.3h-1.3zM349.4 86.1h1.3v1.3h-1.3zM342.4 72.2h1.3v1.3h-1.3zM342.7 89.3h1.3v1.3h-1.3zM342.7 89.1h1.3v1.3h-1.3zM337.3 90.5h1.3v1.3h-1.3zM343.3 74.5h1.3v1.3h-1.3zM345.3 88.5h1.3v1.3h-1.3zM350.9 77.5h1.3v1.3h-1.3zM347.1 100.3h1.3v1.3h-1.3zM354.6 89.9h1.3v1.3h-1.3zM353.1 91.1h1.3v1.3h-1.3zM333.2 80.9h1.3v1.3h-1.3zM349.6 70.1h1.3v1.3h-1.3zM347.9 94.4h1.3v1.3h-1.3zM351.7 89.0h1.3v1.3h-1.3zM342.0 68.6h1.3v1.3h-1.3zM350.9 87.4h1.3v1.3h-1.3zM334.2 77.8h1.3v1.3h-1.3zM346.2 70.4h1.3v1.3h-1.3zM331.7 85.5h1.3v1.3h-1.3zM352.7 90.7h1.3v1.3h-1.3zM341.2 93.3h1.3v1.3h-1.3zM343.7 89.5h1.3v1.3h-1.3zM355.4 84.9h1.3v1.3h-1.3zM342.4 71.4h1.3v1.3h-1.3zM347.9 72.9h1.3v1.3h-1.3zM334.5 83.5h1.3v1.3h-1.3zM335.5 85.2h1.3v1.3h-1.3zM336.5 87.9h1.3v1.3h-1.3zM350.5 86.9h1.3v1.3h-1.3zM341.0 91.7h1.3v1.3h-1.3zM351.6 71.6h1.3v1.3h-1.3zM339.5 85.1h1.3v1.3h-1.3zM336.0 70.3h1.3v1.3h-1.3zM339.3 96.8h1.3v1.3h-1.3zM352.7 79.0h1.3v1.3h-1.3zM344.1 91.9h1.3v1.3h-1.3zM337.2 95.6h1.3v1.3h-1.3zM352.8 70.7h1.3v1.3h-1.3zM344.2 88.7h1.3v1.3h-1.3zM349.4 73.8h1.3v1.3h-1.3zM333.4 72.8h1.3v1.3h-1.3zM351.8 87.5h1.3v1.3h-1.3zM352.5 84.4h1.3v1.3h-1.3zM352.9 96.7h1.3v1.3h-1.3zM347.0 97.0h1.3v1.3h-1.3zM346.7 96.5h1.3v1.3h-1.3zM337.9 89.3h1.3v1.3h-1.3zM352.0 90.6h1.3v1.3h-1.3zM338.6 88.8h1.3v1.3h-1.3zM325.4 76.5h1.3v1.3h-1.3zM339.6 84.3h1.3v1.3h-1.3zM340.8 75.2h1.3v1.3h-1.3zM332.0 74.3h1.3v1.3h-1.3zM350.1 90.9h1.3v1.3h-1.3zM332.0 80.8h1.3v1.3h-1.3zM355.8 80.9h1.3v1.3h-1.3zM350.7 88.0h1.3v1.3h-1.3zM339.4 74.3h1.3v1.3h-1.3zM337.9 82.9h1.3v1.3h-1.3zM334.5 74.2h1.3v1.3h-1.3zM324.5 79.4h1.3v1.3h-1.3zM338.2 72.2h1.3v1.3h-1.3zM339.7 74.0h1.3v1.3h-1.3zM351.2 86.9h1.3v1.3h-1.3zM346.1 91.0h1.3v1.3h-1.3zM333.4 72.4h1.3v1.3h-1.3zM340.8 96.0h1.3v1.3h-1.3zM335.3 87.5h1.3v1.3h-1.3zM344.2 86.7h1.3v1.3h-1.3zM329.4 77.4h1.3v1.3h-1.3zM340.5 93.3h1.3v1.3h-1.3zM338.8 88.1h1.3v1.3h-1.3zM339.9 87.4h1.3v1.3h-1.3zM350.9 77.3h1.3v1.3h-1.3zM344.6 84.7h1.3v1.3h-1.3zM354.1 87.1h1.3v1.3h-1.3zM353.1 82.5h1.3v1.3h-1.3zM344.9 76.0h1.3v1.3h-1.3zM355.7 96.6h1.3v1.3h-1.3zM346.2 79.6h1.3v1.3h-1.3zM328.9 84.1h1.3v1.3h-1.3zM356.4 82.1h1.3v1.3h-1.3zM344.3 76.7h1.3v1.3h-1.3zM329.6 85.9h1.3v1.3h-1.3zM345.9 80.7h1.3v1.3h-1.3zM344.4 74.8h1.3v1.3h-1.3zM346.0 85.2h1.3v1.3h-1.3zM332.7 77.3h1.3v1.3h-1.3zM342.4 84.8h1.3v1.3h-1.3zM323.6 77.3h1.3v1.3h-1.3zM342.7 82.4h1.3v1.3h-1.3zM348.3 89.7h1.3v1.3h-1.3zM356.3 88.3h1.3v1.3h-1.3zM332.1 83.9h1.3v1.3h-1.3zM346.4 77.9h1.3v1.3h-1.3zM332.5 80.9h1.3v1.3h-1.3zM346.7 85.3h1.3v1.3h-1.3zM333.4 75.0h1.3v1.3h-1.3zM328.0 73.2h1.3v1.3h-1.3zM344.0 84.4h1.3v1.3h-1.3zM352.1 80.5h1.3v1.3h-1.3zM352.1 92.6h1.3v1.3h-1.3zM345.2 82.8h1.3v1.3h-1.3z" fill="#5bc4d0"/>
<path d="M309.9 73.6h1.3v1.3h-1.3zM307.4 63.8h1.3v1.3h-1.3zM305.0 83.9h1.3v1.3h-1.3zM320.2 77.0h1.3v1.3h-1.3zM309.3 68.0h1.3v1.3h-1.3zM296.9 70.3h1.3v1.3h-1.3zM309.7 76.9h1.3v1.3h-1.3zM308.2 83.9h1.3v1.3h-1.3zM297.7 81.9h1.3v1.3h-1.3zM309.1 67.7h1.3v1.3h-1.3zM306.9 81.2h1.3v1.3h-1.3zM306.0 69.0h1.3v1.3h-1.3zM312.9 66.2h1.3v1.3h-1.3zM317.6 60.5h1.3v1.3h-1.3zM311.5 78.0h1.3v1.3h-1.3zM303.8 64.2h1.3v1.3h-1.3zM308.8 76.9h1.3v1.3h-1.3zM309.1 69.8h1.3v1.3h-1.3zM318.7 80.7h1.3v1.3h-1.3zM319.6 70.1h1.3v1.3h-1.3zM304.4 73.1h1.3v1.3h-1.3zM310.7 89.9h1.3v1.3h-1.3zM313.1 77.7h1.3v1.3h-1.3zM303.8 69.5h1.3v1.3h-1.3zM310.2 79.6h1.3v1.3h-1.3zM306.0 83.4h1.3v1.3h-1.3zM297.8 81.8h1.3v1.3h-1.3zM318.7 66.0h1.3v1.3h-1.3zM316.5 87.6h1.3v1.3h-1.3zM317.3 62.4h1.3v1.3h-1.3zM319.5 76.4h1.3v1.3h-1.3zM305.4 81.1h1.3v1.3h-1.3zM316.9 65.4h1.3v1.3h-1.3zM312.4 71.7h1.3v1.3h-1.3zM300.0 77.3h1.3v1.3h-1.3zM312.0 76.1h1.3v1.3h-1.3zM317.6 62.9h1.3v1.3h-1.3zM310.8 82.3h1.3v1.3h-1.3zM295.7 81.6h1.3v1.3h-1.3zM315.7 70.2h1.3v1.3h-1.3zM307.7 64.9h1.3v1.3h-1.3zM315.1 65.5h1.3v1.3h-1.3zM308.5 70.4h1.3v1.3h-1.3zM321.1 67.6h1.3v1.3h-1.3zM307.2 76.9h1.3v1.3h-1.3zM311.7 78.3h1.3v1.3h-1.3zM316.2 77.5h1.3v1.3h-1.3zM297.6 82.1h1.3v1.3h-1.3zM298.1 71.2h1.3v1.3h-1.3zM304.2 89.7h1.3v1.3h-1.3zM312.0 67.4h1.3v1.3h-1.3zM321.8 78.7h1.3v1.3h-1.3zM309.2 70.1h1.3v1.3h-1.3zM312.2 76.9h1.3v1.3h-1.3zM302.4 72.7h1.3v1.3h-1.3zM317.8 79.9h1.3v1.3h-1.3zM299.5 85.6h1.3v1.3h-1.3zM316.6 65.3h1.3v1.3h-1.3zM318.9 80.4h1.3v1.3h-1.3zM311.4 82.9h1.3v1.3h-1.3zM320.1 64.0h1.3v1.3h-1.3zM305.3 85.6h1.3v1.3h-1.3zM313.0 81.3h1.3v1.3h-1.3zM318.1 61.7h1.3v1.3h-1.3zM312.5 89.0h1.3v1.3h-1.3zM322.6 63.9h1.3v1.3h-1.3zM312.5 87.0h1.3v1.3h-1.3zM308.1 72.6h1.3v1.3h-1.3zM316.7 81.4h1.3v1.3h-1.3zM299.9 68.6h1.3v1.3h-1.3zM314.2 68.7h1.3v1.3h-1.3zM304.4 80.6h1.3v1.3h-1.3zM313.3 85.6h1.3v1.3h-1.3zM298.6 78.1h1.3v1.3h-1.3zM317.2 84.9h1.3v1.3h-1.3zM313.0 78.6h1.3v1.3h-1.3zM317.3 74.0h1.3v1.3h-1.3zM305.1 71.6h1.3v1.3h-1.3zM315.2 77.2h1.3v1.3h-1.3zM301.6 85.8h1.3v1.3h-1.3zM314.2 86.3h1.3v1.3h-1.3zM316.2 61.7h1.3v1.3h-1.3zM307.2 80.8h1.3v1.3h-1.3zM320.9 81.1h1.3v1.3h-1.3zM315.7 75.5h1.3v1.3h-1.3zM310.2 63.7h1.3v1.3h-1.3zM310.2 87.4h1.3v1.3h-1.3zM304.2 77.8h1.3v1.3h-1.3zM313.6 61.3h1.3v1.3h-1.3zM311.2 90.9h1.3v1.3h-1.3zM301.6 65.9h1.3v1.3h-1.3zM313.0 69.9h1.3v1.3h-1.3zM316.6 82.0h1.3v1.3h-1.3zM296.6 82.3h1.3v1.3h-1.3zM305.7 88.6h1.3v1.3h-1.3zM314.0 64.6h1.3v1.3h-1.3zM313.1 85.4h1.3v1.3h-1.3zM311.2 79.4h1.3v1.3h-1.3zM315.0 88.5h1.3v1.3h-1.3zM318.6 67.5h1.3v1.3h-1.3zM305.0 90.1h1.3v1.3h-1.3zM305.2 66.0h1.3v1.3h-1.3zM301.9 78.9h1.3v1.3h-1.3zM300.2 67.2h1.3v1.3h-1.3zM297.5 82.7h1.3v1.3h-1.3zM310.9 73.5h1.3v1.3h-1.3zM317.8 86.0h1.3v1.3h-1.3zM306.4 68.8h1.3v1.3h-1.3zM310.5 83.2h1.3v1.3h-1.3zM304.7 75.9h1.3v1.3h-1.3zM311.0 69.2h1.3v1.3h-1.3zM319.9 69.9h1.3v1.3h-1.3zM314.3 59.4h1.3v1.3h-1.3zM308.7 80.2h1.3v1.3h-1.3zM306.2 63.5h1.3v1.3h-1.3zM311.6 91.9h1.3v1.3h-1.3zM310.1 60.1h1.3v1.3h-1.3zM304.8 71.9h1.3v1.3h-1.3zM307.2 72.9h1.3v1.3h-1.3zM304.1 90.7h1.3v1.3h-1.3zM313.3 90.6h1.3v1.3h-1.3zM309.9 78.2h1.3v1.3h-1.3zM302.7 79.1h1.3v1.3h-1.3zM310.1 69.6h1.3v1.3h-1.3zM308.8 81.9h1.3v1.3h-1.3zM322.1 66.9h1.3v1.3h-1.3zM302.2 69.9h1.3v1.3h-1.3zM312.2 90.5h1.3v1.3h-1.3zM308.8 85.0h1.3v1.3h-1.3zM309.9 80.6h1.3v1.3h-1.3zM312.3 88.6h1.3v1.3h-1.3zM304.6 68.0h1.3v1.3h-1.3zM305.5 85.2h1.3v1.3h-1.3zM314.0 76.4h1.3v1.3h-1.3zM297.6 78.0h1.3v1.3h-1.3zM318.8 69.8h1.3v1.3h-1.3zM313.2 86.0h1.3v1.3h-1.3zM306.4 80.2h1.3v1.3h-1.3zM313.3 82.9h1.3v1.3h-1.3zM315.7 84.2h1.3v1.3h-1.3zM307.3 70.9h1.3v1.3h-1.3zM306.7 66.4h1.3v1.3h-1.3zM306.8 65.1h1.3v1.3h-1.3zM317.7 75.9h1.3v1.3h-1.3zM301.4 74.2h1.3v1.3h-1.3zM314.4 72.7h1.3v1.3h-1.3zM300.1 67.7h1.3v1.3h-1.3zM306.1 67.7h1.3v1.3h-1.3zM310.8 92.6h1.3v1.3h-1.3zM315.2 60.6h1.3v1.3h-1.3zM305.7 87.4h1.3v1.3h-1.3zM301.2 72.2h1.3v1.3h-1.3zM314.4 64.2h1.3v1.3h-1.3zM318.8 74.7h1.3v1.3h-1.3zM298.4 69.8h1.3v1.3h-1.3zM295.8 75.3h1.3v1.3h-1.3zM311.5 83.0h1.3v1.3h-1.3zM298.3 81.1h1.3v1.3h-1.3zM304.4 68.2h1.3v1.3h-1.3zM300.8 80.6h1.3v1.3h-1.3zM305.7 81.5h1.3v1.3h-1.3zM305.1 69.0h1.3v1.3h-1.3zM304.9 92.0h1.3v1.3h-1.3zM300.7 71.2h1.3v1.3h-1.3zM311.7 72.4h1.3v1.3h-1.3zM314.2 78.4h1.3v1.3h-1.3zM310.7 74.7h1.3v1.3h-1.3zM311.9 77.1h1.3v1.3h-1.3zM294.5 74.8h1.3v1.3h-1.3zM318.6 66.2h1.3v1.3h-1.3zM315.7 78.3h1.3v1.3h-1.3zM317.2 87.6h1.3v1.3h-1.3zM310.3 88.0h1.3v1.3h-1.3zM302.6 70.2h1.3v1.3h-1.3zM315.7 80.6h1.3v1.3h-1.3zM310.1 77.3h1.3v1.3h-1.3zM317.6 77.6h1.3v1.3h-1.3zM310.2 80.5h1.3v1.3h-1.3zM310.7 78.1h1.3v1.3h-1.3zM304.4 73.7h1.3v1.3h-1.3zM312.0 66.5h1.3v1.3h-1.3zM306.6 62.7h1.3v1.3h-1.3zM298.2 79.1h1.3v1.3h-1.3zM313.8 82.7h1.3v1.3h-1.3zM303.2 76.8h1.3v1.3h-1.3zM306.0 70.5h1.3v1.3h-1.3zM319.3 72.0h1.3v1.3h-1.3zM312.3 78.8h1.3v1.3h-1.3zM307.4 75.8h1.3v1.3h-1.3zM298.8 83.7h1.3v1.3h-1.3zM298.0 73.3h1.3v1.3h-1.3zM309.9 69.7h1.3v1.3h-1.3zM307.2 89.1h1.3v1.3h-1.3zM307.9 67.8h1.3v1.3h-1.3zM306.9 63.3h1.3v1.3h-1.3zM311.3 67.0h1.3v1.3h-1.3zM315.2 81.8h1.3v1.3h-1.3zM317.2 71.8h1.3v1.3h-1.3zM315.9 87.2h1.3v1.3h-1.3zM310.1 64.3h1.3v1.3h-1.3zM312.1 87.6h1.3v1.3h-1.3zM307.5 76.7h1.3v1.3h-1.3zM314.9 65.7h1.3v1.3h-1.3zM311.8 91.3h1.3v1.3h-1.3zM308.8 91.6h1.3v1.3h-1.3zM313.6 65.5h1.3v1.3h-1.3zM304.8 66.7h1.3v1.3h-1.3zM295.0 78.1h1.3v1.3h-1.3zM309.7 80.7h1.3v1.3h-1.3zM301.7 67.1h1.3v1.3h-1.3zM305.1 87.4h1.3v1.3h-1.3zM300.7 79.1h1.3v1.3h-1.3zM299.3 74.9h1.3v1.3h-1.3zM308.9 85.6h1.3v1.3h-1.3zM299.6 67.6h1.3v1.3h-1.3zM320.6 68.4h1.3v1.3h-1.3zM298.4 82.4h1.3v1.3h-1.3zM307.1 82.5h1.3v1.3h-1.3zM308.0 91.9h1.3v1.3h-1.3zM304.8 89.4h1.3v1.3h-1.3zM309.2 68.8h1.3v1.3h-1.3zM303.3 74.6h1.3v1.3h-1.3zM322.1 86.8h1.3v1.3h-1.3zM319.5 73.4h1.3v1.3h-1.3zM308.9 65.1h1.3v1.3h-1.3zM304.3 71.8h1.3v1.3h-1.3zM308.1 71.7h1.3v1.3h-1.3zM317.8 82.3h1.3v1.3h-1.3zM309.2 67.8h1.3v1.3h-1.3zM295.3 72.9h1.3v1.3h-1.3zM305.2 86.3h1.3v1.3h-1.3zM319.5 74.7h1.3v1.3h-1.3zM292.8 77.6h1.3v1.3h-1.3zM312.2 64.6h1.3v1.3h-1.3zM305.2 75.8h1.3v1.3h-1.3zM318.1 81.1h1.3v1.3h-1.3zM310.3 70.5h1.3v1.3h-1.3zM305.5 67.8h1.3v1.3h-1.3zM316.7 71.8h1.3v1.3h-1.3zM315.8 80.8h1.3v1.3h-1.3z" fill="#fbbf5e"/>
<path d="M297.0 128.8h1.3v1.3h-1.3zM290.7 149.2h1.3v1.3h-1.3zM295.0 140.8h1.3v1.3h-1.3zM297.6 135.9h1.3v1.3h-1.3zM290.6 137.2h1.3v1.3h-1.3zM284.9 144.2h1.3v1.3h-1.3zM297.0 139.5h1.3v1.3h-1.3zM303.9 129.0h1.3v1.3h-1.3zM288.1 139.0h1.3v1.3h-1.3zM280.3 145.9h1.3v1.3h-1.3zM285.6 147.3h1.3v1.3h-1.3zM296.7 138.3h1.3v1.3h-1.3zM285.9 147.0h1.3v1.3h-1.3zM300.8 122.7h1.3v1.3h-1.3zM292.3 144.1h1.3v1.3h-1.3zM310.1 129.2h1.3v1.3h-1.3zM301.3 127.3h1.3v1.3h-1.3zM289.3 126.0h1.3v1.3h-1.3zM292.7 142.1h1.3v1.3h-1.3zM288.0 131.8h1.3v1.3h-1.3zM289.6 148.1h1.3v1.3h-1.3zM290.0 131.2h1.3v1.3h-1.3zM294.1 137.0h1.3v1.3h-1.3zM284.9 148.3h1.3v1.3h-1.3zM284.6 137.3h1.3v1.3h-1.3zM294.4 136.3h1.3v1.3h-1.3zM292.8 126.5h1.3v1.3h-1.3zM289.5 146.5h1.3v1.3h-1.3zM287.4 131.7h1.3v1.3h-1.3zM292.6 137.9h1.3v1.3h-1.3zM280.2 144.3h1.3v1.3h-1.3zM283.4 146.8h1.3v1.3h-1.3zM302.7 127.6h1.3v1.3h-1.3zM283.3 144.8h1.3v1.3h-1.3zM301.3 138.4h1.3v1.3h-1.3zM304.5 127.1h1.3v1.3h-1.3zM294.1 141.0h1.3v1.3h-1.3zM293.9 141.5h1.3v1.3h-1.3zM296.5 136.9h1.3v1.3h-1.3zM279.1 136.7h1.3v1.3h-1.3zM298.4 127.7h1.3v1.3h-1.3zM298.8 125.1h1.3v1.3h-1.3zM285.2 129.6h1.3v1.3h-1.3zM307.5 127.4h1.3v1.3h-1.3zM287.2 143.8h1.3v1.3h-1.3zM305.0 126.5h1.3v1.3h-1.3zM284.5 128.2h1.3v1.3h-1.3zM284.7 146.0h1.3v1.3h-1.3zM293.9 126.5h1.3v1.3h-1.3zM309.1 127.6h1.3v1.3h-1.3zM306.0 124.4h1.3v1.3h-1.3zM285.2 138.6h1.3v1.3h-1.3zM309.1 127.1h1.3v1.3h-1.3zM289.0 143.5h1.3v1.3h-1.3zM282.9 136.8h1.3v1.3h-1.3zM299.7 127.7h1.3v1.3h-1.3zM280.2 139.0h1.3v1.3h-1.3zM296.8 129.5h1.3v1.3h-1.3zM295.9 131.5h1.3v1.3h-1.3zM298.9 125.0h1.3v1.3h-1.3zM287.4 143.4h1.3v1.3h-1.3zM293.7 134.4h1.3v1.3h-1.3zM290.8 141.0h1.3v1.3h-1.3zM288.9 127.7h1.3v1.3h-1.3zM280.8 143.8h1.3v1.3h-1.3zM294.9 124.0h1.3v1.3h-1.3zM290.6 145.3h1.3v1.3h-1.3zM281.7 138.0h1.3v1.3h-1.3zM300.5 127.6h1.3v1.3h-1.3zM298.3 133.4h1.3v1.3h-1.3zM285.6 140.3h1.3v1.3h-1.3zM304.4 123.5h1.3v1.3h-1.3zM286.7 145.5h1.3v1.3h-1.3zM280.7 140.6h1.3v1.3h-1.3zM292.4 137.0h1.3v1.3h-1.3zM308.3 133.0h1.3v1.3h-1.3zM287.6 138.6h1.3v1.3h-1.3zM288.7 143.6h1.3v1.3h-1.3zM309.1 130.2h1.3v1.3h-1.3zM305.6 123.8h1.3v1.3h-1.3zM288.9 130.2h1.3v1.3h-1.3zM291.2 143.4h1.3v1.3h-1.3zM302.0 122.6h1.3v1.3h-1.3zM281.8 139.8h1.3v1.3h-1.3zM286.8 135.4h1.3v1.3h-1.3zM288.0 148.7h1.3v1.3h-1.3zM300.1 131.9h1.3v1.3h-1.3zM294.7 126.4h1.3v1.3h-1.3zM288.9 145.3h1.3v1.3h-1.3zM294.2 138.7h1.3v1.3h-1.3zM309.9 129.1h1.3v1.3h-1.3zM282.3 140.9h1.3v1.3h-1.3zM291.7 141.1h1.3v1.3h-1.3zM303.3 129.0h1.3v1.3h-1.3zM288.6 146.5h1.3v1.3h-1.3zM286.7 132.5h1.3v1.3h-1.3zM287.2 148.7h1.3v1.3h-1.3zM280.0 149.3h1.3v1.3h-1.3zM296.9 126.8h1.3v1.3h-1.3zM301.8 134.7h1.3v1.3h-1.3zM308.0 129.0h1.3v1.3h-1.3zM290.6 140.0h1.3v1.3h-1.3zM296.5 131.0h1.3v1.3h-1.3zM280.9 144.5h1.3v1.3h-1.3zM298.7 139.4h1.3v1.3h-1.3zM304.6 126.2h1.3v1.3h-1.3zM292.1 135.7h1.3v1.3h-1.3zM285.2 143.2h1.3v1.3h-1.3zM291.6 143.1h1.3v1.3h-1.3zM288.8 138.2h1.3v1.3h-1.3zM300.2 128.8h1.3v1.3h-1.3zM292.8 139.0h1.3v1.3h-1.3zM301.4 128.3h1.3v1.3h-1.3zM299.6 141.1h1.3v1.3h-1.3zM292.2 137.6h1.3v1.3h-1.3zM295.9 131.0h1.3v1.3h-1.3zM296.1 126.6h1.3v1.3h-1.3zM292.9 137.9h1.3v1.3h-1.3zM291.8 134.5h1.3v1.3h-1.3zM302.6 133.1h1.3v1.3h-1.3zM301.4 128.0h1.3v1.3h-1.3zM285.3 149.5h1.3v1.3h-1.3zM293.9 137.5h1.3v1.3h-1.3zM297.1 138.8h1.3v1.3h-1.3zM292.8 141.1h1.3v1.3h-1.3zM285.8 140.7h1.3v1.3h-1.3zM279.1 134.2h1.3v1.3h-1.3zM282.0 139.9h1.3v1.3h-1.3zM282.3 146.1h1.3v1.3h-1.3zM294.8 147.8h1.3v1.3h-1.3zM301.4 123.0h1.3v1.3h-1.3zM303.7 135.5h1.3v1.3h-1.3zM280.2 149.4h1.3v1.3h-1.3zM300.1 140.2h1.3v1.3h-1.3zM292.4 141.4h1.3v1.3h-1.3zM302.4 128.0h1.3v1.3h-1.3zM293.2 140.4h1.3v1.3h-1.3zM278.7 148.0h1.3v1.3h-1.3zM295.7 142.4h1.3v1.3h-1.3zM301.7 134.7h1.3v1.3h-1.3zM284.8 140.8h1.3v1.3h-1.3zM307.4 128.9h1.3v1.3h-1.3zM291.1 141.3h1.3v1.3h-1.3zM307.0 128.7h1.3v1.3h-1.3zM286.4 130.7h1.3v1.3h-1.3zM293.8 131.6h1.3v1.3h-1.3zM290.7 143.7h1.3v1.3h-1.3zM295.8 131.5h1.3v1.3h-1.3zM281.9 150.3h1.3v1.3h-1.3zM289.6 136.5h1.3v1.3h-1.3zM280.9 142.1h1.3v1.3h-1.3zM302.2 131.7h1.3v1.3h-1.3zM292.2 141.3h1.3v1.3h-1.3zM278.8 138.6h1.3v1.3h-1.3zM294.8 131.8h1.3v1.3h-1.3zM289.4 149.4h1.3v1.3h-1.3zM279.5 140.9h1.3v1.3h-1.3zM297.3 140.2h1.3v1.3h-1.3zM306.7 131.9h1.3v1.3h-1.3zM286.3 147.7h1.3v1.3h-1.3zM297.5 139.5h1.3v1.3h-1.3zM279.6 133.0h1.3v1.3h-1.3zM296.6 140.5h1.3v1.3h-1.3zM295.1 142.4h1.3v1.3h-1.3zM278.9 137.8h1.3v1.3h-1.3zM291.5 142.2h1.3v1.3h-1.3zM298.8 133.3h1.3v1.3h-1.3zM281.7 148.4h1.3v1.3h-1.3zM295.9 138.1h1.3v1.3h-1.3zM287.7 146.2h1.3v1.3h-1.3zM297.3 145.6h1.3v1.3h-1.3zM299.8 138.1h1.3v1.3h-1.3zM296.2 141.6h1.3v1.3h-1.3zM292.6 126.7h1.3v1.3h-1.3zM296.1 138.8h1.3v1.3h-1.3zM290.6 142.0h1.3v1.3h-1.3zM291.8 141.5h1.3v1.3h-1.3zM291.8 137.3h1.3v1.3h-1.3zM308.2 132.0h1.3v1.3h-1.3zM292.8 141.1h1.3v1.3h-1.3zM291.6 145.2h1.3v1.3h-1.3zM296.8 136.1h1.3v1.3h-1.3zM287.0 130.4h1.3v1.3h-1.3zM301.3 133.0h1.3v1.3h-1.3zM282.8 138.9h1.3v1.3h-1.3zM294.7 135.2h1.3v1.3h-1.3zM295.8 136.7h1.3v1.3h-1.3zM309.9 127.8h1.3v1.3h-1.3zM296.7 140.2h1.3v1.3h-1.3zM291.4 143.8h1.3v1.3h-1.3zM303.1 125.8h1.3v1.3h-1.3zM297.7 138.8h1.3v1.3h-1.3zM300.1 129.2h1.3v1.3h-1.3zM289.2 144.9h1.3v1.3h-1.3zM287.0 131.6h1.3v1.3h-1.3zM290.2 135.4h1.3v1.3h-1.3zM292.8 139.8h1.3v1.3h-1.3zM292.3 139.5h1.3v1.3h-1.3zM280.8 152.4h1.3v1.3h-1.3zM296.4 140.3h1.3v1.3h-1.3zM287.0 134.6h1.3v1.3h-1.3zM286.8 124.7h1.3v1.3h-1.3zM283.8 142.2h1.3v1.3h-1.3zM286.5 140.1h1.3v1.3h-1.3zM300.0 125.6h1.3v1.3h-1.3zM296.8 142.4h1.3v1.3h-1.3zM282.7 134.0h1.3v1.3h-1.3zM301.0 139.8h1.3v1.3h-1.3zM286.1 151.1h1.3v1.3h-1.3zM298.1 134.4h1.3v1.3h-1.3zM309.0 129.1h1.3v1.3h-1.3zM291.0 144.4h1.3v1.3h-1.3zM308.6 131.9h1.3v1.3h-1.3zM302.4 130.9h1.3v1.3h-1.3zM292.0 142.7h1.3v1.3h-1.3zM296.8 131.8h1.3v1.3h-1.3zM306.2 129.8h1.3v1.3h-1.3zM294.1 129.7h1.3v1.3h-1.3zM298.0 124.8h1.3v1.3h-1.3zM284.6 132.3h1.3v1.3h-1.3zM300.2 136.1h1.3v1.3h-1.3zM295.9 143.2h1.3v1.3h-1.3zM297.0 138.9h1.3v1.3h-1.3zM282.2 143.9h1.3v1.3h-1.3zM294.2 137.6h1.3v1.3h-1.3zM284.8 139.8h1.3v1.3h-1.3zM292.0 140.8h1.3v1.3h-1.3zM297.5 128.3h1.3v1.3h-1.3zM288.9 136.7h1.3v1.3h-1.3zM297.2 136.2h1.3v1.3h-1.3zM296.9 136.9h1.3v1.3h-1.3zM289.3 139.4h1.3v1.3h-1.3zM298.9 132.6h1.3v1.3h-1.3zM299.3 126.3h1.3v1.3h-1.3zM285.8 148.0h1.3v1.3h-1.3zM294.8 140.8h1.3v1.3h-1.3zM288.9 135.6h1.3v1.3h-1.3zM277.7 150.3h1.3v1.3h-1.3zM292.2 140.8h1.3v1.3h-1.3zM302.2 127.6h1.3v1.3h-1.3zM298.7 134.4h1.3v1.3h-1.3zM286.7 143.1h1.3v1.3h-1.3zM309.4 131.1h1.3v1.3h-1.3zM295.3 139.4h1.3v1.3h-1.3zM286.6 131.4h1.3v1.3h-1.3zM289.1 129.5h1.3v1.3h-1.3zM284.9 138.3h1.3v1.3h-1.3zM280.0 139.5h1.3v1.3h-1.3zM278.9 144.0h1.3v1.3h-1.3zM301.9 128.4h1.3v1.3h-1.3zM283.1 152.5h1.3v1.3h-1.3zM287.9 133.3h1.3v1.3h-1.3zM291.2 137.3h1.3v1.3h-1.3zM305.0 130.9h1.3v1.3h-1.3zM288.0 137.5h1.3v1.3h-1.3zM300.5 130.9h1.3v1.3h-1.3zM286.6 149.6h1.3v1.3h-1.3zM292.3 137.2h1.3v1.3h-1.3zM287.4 144.6h1.3v1.3h-1.3zM298.7 134.2h1.3v1.3h-1.3zM287.7 134.8h1.3v1.3h-1.3zM299.0 127.2h1.3v1.3h-1.3zM289.1 133.8h1.3v1.3h-1.3zM283.1 133.9h1.3v1.3h-1.3zM283.3 141.9h1.3v1.3h-1.3zM291.5 150.2h1.3v1.3h-1.3zM309.1 121.7h1.3v1.3h-1.3zM299.9 137.0h1.3v1.3h-1.3zM308.5 126.5h1.3v1.3h-1.3zM291.9 134.6h1.3v1.3h-1.3z" fill="#2a78c0"/>
<path d="M350.9 107.2h1.3v1.3h-1.3zM354.5 114.7h1.3v1.3h-1.3zM348.9 112.1h1.3v1.3h-1.3zM352.5 111.6h1.3v1.3h-1.3zM339.1 102.6h1.3v1.3h-1.3zM355.6 114.1h1.3v1.3h-1.3zM351.6 100.8h1.3v1.3h-1.3zM343.9 114.2h1.3v1.3h-1.3zM347.8 109.9h1.3v1.3h-1.3zM352.3 104.9h1.3v1.3h-1.3zM351.4 111.5h1.3v1.3h-1.3zM351.2 119.4h1.3v1.3h-1.3zM345.1 110.0h1.3v1.3h-1.3zM342.8 110.5h1.3v1.3h-1.3zM358.5 110.0h1.3v1.3h-1.3zM342.9 102.5h1.3v1.3h-1.3zM352.5 112.7h1.3v1.3h-1.3zM354.5 100.0h1.3v1.3h-1.3zM354.5 104.4h1.3v1.3h-1.3zM343.6 109.2h1.3v1.3h-1.3zM355.6 108.5h1.3v1.3h-1.3zM356.2 111.1h1.3v1.3h-1.3zM354.8 114.5h1.3v1.3h-1.3zM348.3 112.8h1.3v1.3h-1.3zM346.6 119.3h1.3v1.3h-1.3zM343.8 110.3h1.3v1.3h-1.3zM353.2 105.5h1.3v1.3h-1.3zM348.4 101.5h1.3v1.3h-1.3zM344.9 110.4h1.3v1.3h-1.3zM346.3 111.1h1.3v1.3h-1.3zM355.0 110.0h1.3v1.3h-1.3zM341.0 115.7h1.3v1.3h-1.3zM360.2 116.7h1.3v1.3h-1.3zM342.3 112.1h1.3v1.3h-1.3zM348.2 100.7h1.3v1.3h-1.3zM349.2 103.1h1.3v1.3h-1.3zM347.2 115.1h1.3v1.3h-1.3zM341.6 109.3h1.3v1.3h-1.3zM342.6 102.0h1.3v1.3h-1.3zM346.8 101.7h1.3v1.3h-1.3zM351.3 109.3h1.3v1.3h-1.3zM356.2 101.3h1.3v1.3h-1.3zM347.8 100.8h1.3v1.3h-1.3zM349.4 101.7h1.3v1.3h-1.3zM338.1 108.0h1.3v1.3h-1.3zM338.5 111.6h1.3v1.3h-1.3zM340.4 119.2h1.3v1.3h-1.3zM346.0 102.8h1.3v1.3h-1.3zM353.0 115.7h1.3v1.3h-1.3zM341.4 105.7h1.3v1.3h-1.3zM354.9 112.2h1.3v1.3h-1.3zM346.6 103.1h1.3v1.3h-1.3zM348.1 107.6h1.3v1.3h-1.3zM342.7 102.9h1.3v1.3h-1.3zM348.2 110.6h1.3v1.3h-1.3zM352.3 103.9h1.3v1.3h-1.3zM342.0 114.8h1.3v1.3h-1.3zM351.6 99.0h1.3v1.3h-1.3zM357.7 101.5h1.3v1.3h-1.3zM349.2 113.4h1.3v1.3h-1.3zM347.9 103.4h1.3v1.3h-1.3zM348.0 120.0h1.3v1.3h-1.3zM355.7 104.5h1.3v1.3h-1.3zM346.3 121.0h1.3v1.3h-1.3zM348.9 120.3h1.3v1.3h-1.3zM347.8 99.5h1.3v1.3h-1.3zM350.6 118.2h1.3v1.3h-1.3zM341.0 104.5h1.3v1.3h-1.3zM352.5 118.6h1.3v1.3h-1.3zM344.9 107.8h1.3v1.3h-1.3zM357.0 106.7h1.3v1.3h-1.3zM349.9 106.5h1.3v1.3h-1.3zM340.7 115.2h1.3v1.3h-1.3zM353.1 98.6h1.3v1.3h-1.3zM342.5 116.3h1.3v1.3h-1.3zM338.3 107.1h1.3v1.3h-1.3zM357.2 104.2h1.3v1.3h-1.3zM346.8 109.5h1.3v1.3h-1.3zM346.9 110.4h1.3v1.3h-1.3zM342.7 105.7h1.3v1.3h-1.3zM356.6 111.3h1.3v1.3h-1.3zM340.3 112.5h1.3v1.3h-1.3zM357.1 112.1h1.3v1.3h-1.3zM348.6 117.2h1.3v1.3h-1.3zM341.5 115.1h1.3v1.3h-1.3zM337.8 108.6h1.3v1.3h-1.3zM342.2 110.8h1.3v1.3h-1.3zM338.9 113.7h1.3v1.3h-1.3zM356.9 117.7h1.3v1.3h-1.3zM349.8 115.0h1.3v1.3h-1.3zM350.8 109.0h1.3v1.3h-1.3zM353.1 112.7h1.3v1.3h-1.3zM344.4 105.0h1.3v1.3h-1.3zM349.4 104.9h1.3v1.3h-1.3zM355.2 111.0h1.3v1.3h-1.3zM341.0 110.6h1.3v1.3h-1.3zM349.2 99.0h1.3v1.3h-1.3zM343.2 104.9h1.3v1.3h-1.3zM343.9 103.6h1.3v1.3h-1.3zM343.1 109.9h1.3v1.3h-1.3zM342.4 113.3h1.3v1.3h-1.3zM350.2 118.5h1.3v1.3h-1.3zM356.8 113.2h1.3v1.3h-1.3zM345.6 113.7h1.3v1.3h-1.3zM340.5 110.2h1.3v1.3h-1.3zM345.9 111.9h1.3v1.3h-1.3zM356.3 113.8h1.3v1.3h-1.3zM344.1 107.1h1.3v1.3h-1.3zM355.3 108.5h1.3v1.3h-1.3zM353.3 110.3h1.3v1.3h-1.3zM345.2 106.7h1.3v1.3h-1.3zM355.3 117.3h1.3v1.3h-1.3zM338.7 102.5h1.3v1.3h-1.3zM347.1 118.2h1.3v1.3h-1.3zM350.5 110.7h1.3v1.3h-1.3zM351.6 110.8h1.3v1.3h-1.3zM349.9 109.1h1.3v1.3h-1.3zM354.9 102.2h1.3v1.3h-1.3zM359.1 109.1h1.3v1.3h-1.3zM352.2 106.1h1.3v1.3h-1.3zM347.5 114.2h1.3v1.3h-1.3zM353.9 100.2h1.3v1.3h-1.3zM356.9 105.6h1.3v1.3h-1.3zM349.1 108.7h1.3v1.3h-1.3zM349.8 114.4h1.3v1.3h-1.3z" fill="#a8c4ec"/>
<path d="M322.0 114.8h1.3v1.3h-1.3zM318.7 106.6h1.3v1.3h-1.3zM320.7 118.4h1.3v1.3h-1.3zM318.0 119.1h1.3v1.3h-1.3zM319.9 110.6h1.3v1.3h-1.3zM321.9 112.3h1.3v1.3h-1.3zM324.6 115.6h1.3v1.3h-1.3zM321.8 110.6h1.3v1.3h-1.3zM320.6 111.6h1.3v1.3h-1.3zM316.4 112.1h1.3v1.3h-1.3zM321.5 117.4h1.3v1.3h-1.3zM316.9 107.1h1.3v1.3h-1.3zM319.3 115.6h1.3v1.3h-1.3zM319.5 111.1h1.3v1.3h-1.3zM323.4 116.0h1.3v1.3h-1.3zM317.1 117.3h1.3v1.3h-1.3zM321.0 118.2h1.3v1.3h-1.3zM316.7 114.4h1.3v1.3h-1.3zM316.8 112.9h1.3v1.3h-1.3zM318.6 107.9h1.3v1.3h-1.3zM326.0 108.3h1.3v1.3h-1.3zM323.6 117.4h1.3v1.3h-1.3zM323.7 113.5h1.3v1.3h-1.3zM320.2 108.6h1.3v1.3h-1.3zM315.8 113.6h1.3v1.3h-1.3zM316.0 114.0h1.3v1.3h-1.3zM326.5 105.8h1.3v1.3h-1.3zM326.5 114.3h1.3v1.3h-1.3zM314.7 117.0h1.3v1.3h-1.3zM319.9 111.9h1.3v1.3h-1.3zM321.5 120.3h1.3v1.3h-1.3zM324.0 110.9h1.3v1.3h-1.3zM322.2 105.6h1.3v1.3h-1.3zM319.7 117.2h1.3v1.3h-1.3zM318.3 111.2h1.3v1.3h-1.3zM325.1 107.4h1.3v1.3h-1.3zM317.8 108.4h1.3v1.3h-1.3zM321.6 114.1h1.3v1.3h-1.3zM315.7 113.0h1.3v1.3h-1.3zM319.5 119.5h1.3v1.3h-1.3zM316.2 111.0h1.3v1.3h-1.3zM316.1 115.6h1.3v1.3h-1.3zM327.0 109.6h1.3v1.3h-1.3zM319.6 119.1h1.3v1.3h-1.3zM326.8 110.8h1.3v1.3h-1.3zM316.7 114.9h1.3v1.3h-1.3zM320.4 120.1h1.3v1.3h-1.3zM325.5 108.4h1.3v1.3h-1.3zM321.3 106.7h1.3v1.3h-1.3zM320.9 116.9h1.3v1.3h-1.3zM322.2 114.8h1.3v1.3h-1.3zM323.2 105.2h1.3v1.3h-1.3zM322.7 109.7h1.3v1.3h-1.3zM317.7 117.9h1.3v1.3h-1.3zM324.5 109.7h1.3v1.3h-1.3zM321.7 115.2h1.3v1.3h-1.3zM320.1 114.4h1.3v1.3h-1.3zM327.7 111.3h1.3v1.3h-1.3zM321.6 115.8h1.3v1.3h-1.3zM326.3 114.4h1.3v1.3h-1.3zM319.8 112.8h1.3v1.3h-1.3zM315.6 108.8h1.3v1.3h-1.3zM316.4 111.2h1.3v1.3h-1.3zM318.0 106.0h1.3v1.3h-1.3zM323.9 116.3h1.3v1.3h-1.3zM319.7 108.7h1.3v1.3h-1.3zM318.8 119.9h1.3v1.3h-1.3zM321.0 108.4h1.3v1.3h-1.3zM317.6 118.4h1.3v1.3h-1.3zM322.0 118.0h1.3v1.3h-1.3zM327.0 109.1h1.3v1.3h-1.3zM322.2 110.8h1.3v1.3h-1.3zM318.8 119.3h1.3v1.3h-1.3zM319.1 106.0h1.3v1.3h-1.3zM319.7 119.8h1.3v1.3h-1.3zM316.2 120.7h1.3v1.3h-1.3zM319.3 114.8h1.3v1.3h-1.3zM325.6 112.0h1.3v1.3h-1.3zM317.7 120.2h1.3v1.3h-1.3zM313.8 109.1h1.3v1.3h-1.3z" fill="#bb9a6b"/>
<path d="M364.5 41.4h1.3v1.3h-1.3zM362.2 41.4h1.3v1.3h-1.3zM359.9 46.8h1.3v1.3h-1.3zM366.7 44.8h1.3v1.3h-1.3zM365.9 44.0h1.3v1.3h-1.3zM364.9 44.7h1.3v1.3h-1.3zM361.3 41.5h1.3v1.3h-1.3zM359.4 41.9h1.3v1.3h-1.3zM366.4 44.2h1.3v1.3h-1.3zM359.1 43.7h1.3v1.3h-1.3zM362.0 44.3h1.3v1.3h-1.3zM366.4 45.1h1.3v1.3h-1.3zM357.4 42.8h1.3v1.3h-1.3zM364.1 44.6h1.3v1.3h-1.3zM363.9 39.8h1.3v1.3h-1.3zM362.8 46.6h1.3v1.3h-1.3zM358.3 43.2h1.3v1.3h-1.3zM364.1 40.6h1.3v1.3h-1.3zM360.6 41.6h1.3v1.3h-1.3zM362.8 42.8h1.3v1.3h-1.3zM361.6 41.5h1.3v1.3h-1.3zM359.0 42.7h1.3v1.3h-1.3zM367.3 42.7h1.3v1.3h-1.3zM360.0 46.0h1.3v1.3h-1.3zM362.0 46.9h1.3v1.3h-1.3zM367.1 45.3h1.3v1.3h-1.3zM362.5 44.7h1.3v1.3h-1.3zM365.6 41.6h1.3v1.3h-1.3zM363.4 44.0h1.3v1.3h-1.3zM364.4 40.6h1.3v1.3h-1.3zM361.7 41.6h1.3v1.3h-1.3zM358.1 44.4h1.3v1.3h-1.3zM363.6 51.3h1.3v1.3h-1.3zM363.4 50.5h1.3v1.3h-1.3zM364.2 54.8h1.3v1.3h-1.3z" fill="#8c7a22"/>
<path d="M378.1 125.1h1.3v1.3h-1.3zM376.2 123.5h1.3v1.3h-1.3zM377.3 123.1h1.3v1.3h-1.3zM371.3 123.8h1.3v1.3h-1.3zM373.0 123.9h1.3v1.3h-1.3zM378.1 125.1h1.3v1.3h-1.3zM369.1 122.9h1.3v1.3h-1.3zM375.1 125.4h1.3v1.3h-1.3zM371.3 123.1h1.3v1.3h-1.3zM377.5 122.8h1.3v1.3h-1.3zM374.5 126.7h1.3v1.3h-1.3zM374.0 123.3h1.3v1.3h-1.3zM372.1 126.5h1.3v1.3h-1.3zM374.8 123.5h1.3v1.3h-1.3zM376.9 123.7h1.3v1.3h-1.3zM372.3 125.3h1.3v1.3h-1.3zM372.6 124.8h1.3v1.3h-1.3zM372.2 124.1h1.3v1.3h-1.3zM371.1 122.8h1.3v1.3h-1.3zM375.4 124.3h1.3v1.3h-1.3zM373.7 124.4h1.3v1.3h-1.3zM375.4 126.5h1.3v1.3h-1.3zM370.3 123.1h1.3v1.3h-1.3zM372.9 124.3h1.3v1.3h-1.3zM373.8 121.2h1.3v1.3h-1.3zM375.1 122.4h1.3v1.3h-1.3zM371.7 122.9h1.3v1.3h-1.3zM372.0 125.2h1.3v1.3h-1.3zM375.6 121.7h1.3v1.3h-1.3zM373.2 123.1h1.3v1.3h-1.3z" fill="#2d2e70"/>
<path d="M335.7 130.6h1.3v1.3h-1.3zM339.0 131.5h1.3v1.3h-1.3zM339.4 131.5h1.3v1.3h-1.3zM338.1 130.5h1.3v1.3h-1.3zM338.4 130.1h1.3v1.3h-1.3zM336.2 130.5h1.3v1.3h-1.3zM337.0 130.8h1.3v1.3h-1.3zM337.5 130.8h1.3v1.3h-1.3zM338.6 131.4h1.3v1.3h-1.3zM337.2 131.2h1.3v1.3h-1.3zM342.5 134.2h1.3v1.3h-1.3zM342.3 132.3h1.3v1.3h-1.3zM343.5 132.8h1.3v1.3h-1.3zM341.8 132.2h1.3v1.3h-1.3zM340.4 132.6h1.3v1.3h-1.3zM342.8 132.4h1.3v1.3h-1.3zM342.2 132.5h1.3v1.3h-1.3zM342.4 132.4h1.3v1.3h-1.3z" fill="#22a04a"/>
<path d="M321.7 89.8h1.3v1.3h-1.3zM321.2 84.1h1.3v1.3h-1.3zM314.6 87.3h1.3v1.3h-1.3zM312.5 87.0h1.3v1.3h-1.3zM317.0 87.9h1.3v1.3h-1.3zM313.9 84.2h1.3v1.3h-1.3zM321.1 87.2h1.3v1.3h-1.3zM318.0 89.2h1.3v1.3h-1.3zM319.8 84.3h1.3v1.3h-1.3z" fill="#c8202e"/>
<path d="M405.0 70.5h1.3v1.3h-1.3zM402.4 71.2h1.3v1.3h-1.3zM404.2 68.3h1.3v1.3h-1.3zM397.3 67.1h1.3v1.3h-1.3zM398.2 67.0h1.3v1.3h-1.3zM403.2 70.1h1.3v1.3h-1.3zM401.6 66.6h1.3v1.3h-1.3zM396.9 66.8h1.3v1.3h-1.3zM401.0 65.2h1.3v1.3h-1.3zM404.2 66.4h1.3v1.3h-1.3zM404.5 67.5h1.3v1.3h-1.3zM400.7 65.6h1.3v1.3h-1.3zM404.1 67.3h1.3v1.3h-1.3zM402.3 68.1h1.3v1.3h-1.3zM403.2 68.9h1.3v1.3h-1.3zM400.4 67.0h1.3v1.3h-1.3zM403.9 70.5h1.3v1.3h-1.3zM398.3 68.0h1.3v1.3h-1.3zM404.2 68.3h1.3v1.3h-1.3zM399.4 65.0h1.3v1.3h-1.3zM405.2 66.7h1.3v1.3h-1.3zM401.6 64.8h1.3v1.3h-1.3zM398.8 69.2h1.3v1.3h-1.3zM404.0 67.2h1.3v1.3h-1.3zM403.7 65.7h1.3v1.3h-1.3zM400.1 66.3h1.3v1.3h-1.3zM398.9 67.7h1.3v1.3h-1.3zM397.5 66.5h1.3v1.3h-1.3zM402.5 69.6h1.3v1.3h-1.3zM404.5 65.3h1.3v1.3h-1.3zM399.2 71.8h1.3v1.3h-1.3zM404.5 69.7h1.3v1.3h-1.3zM404.2 70.4h1.3v1.3h-1.3zM402.6 71.0h1.3v1.3h-1.3zM318.8 84.0h1.3v1.3h-1.3zM307.5 85.8h1.3v1.3h-1.3zM309.5 85.1h1.3v1.3h-1.3zM304.7 82.4h1.3v1.3h-1.3zM314.7 87.6h1.3v1.3h-1.3zM303.1 87.3h1.3v1.3h-1.3zM311.2 86.4h1.3v1.3h-1.3zM308.5 84.6h1.3v1.3h-1.3zM311.0 82.4h1.3v1.3h-1.3zM309.5 88.6h1.3v1.3h-1.3zM307.7 82.3h1.3v1.3h-1.3zM318.2 83.7h1.3v1.3h-1.3zM316.2 87.6h1.3v1.3h-1.3zM308.2 84.1h1.3v1.3h-1.3zM309.2 87.9h1.3v1.3h-1.3zM310.6 82.9h1.3v1.3h-1.3zM306.8 83.7h1.3v1.3h-1.3zM315.8 80.8h1.3v1.3h-1.3zM306.2 87.3h1.3v1.3h-1.3zM309.1 89.5h1.3v1.3h-1.3zM310.8 88.8h1.3v1.3h-1.3zM305.9 85.0h1.3v1.3h-1.3zM307.1 83.5h1.3v1.3h-1.3zM306.1 86.4h1.3v1.3h-1.3zM307.1 86.4h1.3v1.3h-1.3zM307.9 90.7h1.3v1.3h-1.3zM305.7 88.4h1.3v1.3h-1.3zM306.4 90.2h1.3v1.3h-1.3zM309.5 84.1h1.3v1.3h-1.3zM306.3 85.0h1.3v1.3h-1.3zM306.7 82.7h1.3v1.3h-1.3zM316.2 86.9h1.3v1.3h-1.3zM312.6 89.3h1.3v1.3h-1.3zM313.1 84.4h1.3v1.3h-1.3zM308.8 92.4h1.3v1.3h-1.3zM310.2 88.3h1.3v1.3h-1.3zM308.0 84.4h1.3v1.3h-1.3zM312.0 90.5h1.3v1.3h-1.3zM303.1 86.7h1.3v1.3h-1.3zM312.6 81.9h1.3v1.3h-1.3zM306.1 83.4h1.3v1.3h-1.3zM309.4 86.0h1.3v1.3h-1.3zM318.4 85.0h1.3v1.3h-1.3zM307.9 85.4h1.3v1.3h-1.3zM317.3 87.7h1.3v1.3h-1.3zM314.8 83.1h1.3v1.3h-1.3zM306.0 82.5h1.3v1.3h-1.3zM305.2 89.1h1.3v1.3h-1.3zM313.8 88.6h1.3v1.3h-1.3zM309.3 91.0h1.3v1.3h-1.3zM305.1 83.7h1.3v1.3h-1.3zM307.9 83.2h1.3v1.3h-1.3zM307.8 86.2h1.3v1.3h-1.3zM305.1 86.7h1.3v1.3h-1.3zM311.1 88.8h1.3v1.3h-1.3zM311.7 83.0h1.3v1.3h-1.3zM304.4 84.4h1.3v1.3h-1.3zM308.9 88.6h1.3v1.3h-1.3zM307.5 88.4h1.3v1.3h-1.3zM310.4 82.4h1.3v1.3h-1.3zM311.9 86.7h1.3v1.3h-1.3zM318.4 88.1h1.3v1.3h-1.3zM315.4 86.9h1.3v1.3h-1.3zM310.1 84.6h1.3v1.3h-1.3zM312.2 92.4h1.3v1.3h-1.3zM310.3 83.6h1.3v1.3h-1.3zM310.7 91.4h1.3v1.3h-1.3zM309.0 87.0h1.3v1.3h-1.3zM308.5 88.6h1.3v1.3h-1.3zM309.6 85.9h1.3v1.3h-1.3zM332.0 71.9h1.3v1.3h-1.3zM330.8 67.5h1.3v1.3h-1.3zM332.0 70.6h1.3v1.3h-1.3zM333.9 71.2h1.3v1.3h-1.3zM335.4 67.7h1.3v1.3h-1.3zM331.3 72.2h1.3v1.3h-1.3zM333.7 69.4h1.3v1.3h-1.3zM333.7 68.5h1.3v1.3h-1.3zM337.2 67.7h1.3v1.3h-1.3zM337.3 66.7h1.3v1.3h-1.3zM336.7 70.0h1.3v1.3h-1.3zM332.0 72.6h1.3v1.3h-1.3zM339.6 67.3h1.3v1.3h-1.3zM329.6 70.9h1.3v1.3h-1.3zM335.1 72.4h1.3v1.3h-1.3zM335.9 74.1h1.3v1.3h-1.3zM333.7 67.3h1.3v1.3h-1.3zM334.1 69.6h1.3v1.3h-1.3zM331.1 71.4h1.3v1.3h-1.3zM338.5 66.8h1.3v1.3h-1.3zM334.0 69.4h1.3v1.3h-1.3zM336.4 67.2h1.3v1.3h-1.3zM332.4 70.6h1.3v1.3h-1.3zM334.1 71.3h1.3v1.3h-1.3zM333.2 70.9h1.3v1.3h-1.3zM336.2 73.5h1.3v1.3h-1.3zM334.5 67.9h1.3v1.3h-1.3zM335.6 67.5h1.3v1.3h-1.3zM336.1 67.1h1.3v1.3h-1.3zM334.4 72.2h1.3v1.3h-1.3zM333.0 69.7h1.3v1.3h-1.3zM335.0 70.6h1.3v1.3h-1.3zM339.4 68.1h1.3v1.3h-1.3zM331.1 68.5h1.3v1.3h-1.3zM336.5 70.7h1.3v1.3h-1.3zM335.9 73.4h1.3v1.3h-1.3zM332.8 69.0h1.3v1.3h-1.3zM335.7 68.6h1.3v1.3h-1.3zM330.6 69.1h1.3v1.3h-1.3zM329.1 72.2h1.3v1.3h-1.3zM335.0 72.9h1.3v1.3h-1.3zM332.6 67.5h1.3v1.3h-1.3zM339.2 71.1h1.3v1.3h-1.3zM335.5 66.2h1.3v1.3h-1.3zM335.1 69.7h1.3v1.3h-1.3zM300.2 127.0h1.3v1.3h-1.3zM289.2 133.5h1.3v1.3h-1.3zM292.2 130.0h1.3v1.3h-1.3zM294.9 129.9h1.3v1.3h-1.3zM286.4 132.4h1.3v1.3h-1.3zM288.3 127.9h1.3v1.3h-1.3zM294.5 126.8h1.3v1.3h-1.3zM293.7 125.5h1.3v1.3h-1.3zM293.9 126.0h1.3v1.3h-1.3zM291.2 126.7h1.3v1.3h-1.3zM298.5 128.5h1.3v1.3h-1.3zM298.8 127.3h1.3v1.3h-1.3zM293.0 126.5h1.3v1.3h-1.3zM290.4 128.3h1.3v1.3h-1.3zM295.7 122.0h1.3v1.3h-1.3zM295.0 128.0h1.3v1.3h-1.3zM299.2 126.6h1.3v1.3h-1.3zM297.3 121.5h1.3v1.3h-1.3zM296.9 122.6h1.3v1.3h-1.3zM294.6 124.6h1.3v1.3h-1.3zM292.3 128.0h1.3v1.3h-1.3zM291.7 126.4h1.3v1.3h-1.3zM298.9 124.6h1.3v1.3h-1.3zM286.1 131.0h1.3v1.3h-1.3zM292.6 131.5h1.3v1.3h-1.3zM292.1 132.5h1.3v1.3h-1.3zM291.8 125.9h1.3v1.3h-1.3zM288.2 131.4h1.3v1.3h-1.3zM296.2 129.7h1.3v1.3h-1.3zM296.9 121.6h1.3v1.3h-1.3zM294.8 128.9h1.3v1.3h-1.3zM292.1 126.3h1.3v1.3h-1.3zM294.9 127.8h1.3v1.3h-1.3zM288.7 133.4h1.3v1.3h-1.3zM298.2 121.8h1.3v1.3h-1.3zM291.4 127.5h1.3v1.3h-1.3zM299.5 121.1h1.3v1.3h-1.3zM296.3 130.2h1.3v1.3h-1.3zM300.9 128.1h1.3v1.3h-1.3zM300.0 127.7h1.3v1.3h-1.3zM293.6 123.7h1.3v1.3h-1.3zM289.9 124.4h1.3v1.3h-1.3zM298.8 126.9h1.3v1.3h-1.3zM293.2 124.2h1.3v1.3h-1.3zM297.3 126.5h1.3v1.3h-1.3zM294.0 129.1h1.3v1.3h-1.3zM292.2 126.3h1.3v1.3h-1.3zM292.7 127.3h1.3v1.3h-1.3zM290.7 130.8h1.3v1.3h-1.3zM294.0 126.3h1.3v1.3h-1.3zM286.7 128.7h1.3v1.3h-1.3zM288.8 131.2h1.3v1.3h-1.3zM297.4 125.0h1.3v1.3h-1.3zM291.8 125.2h1.3v1.3h-1.3zM294.7 122.0h1.3v1.3h-1.3zM294.5 127.1h1.3v1.3h-1.3zM297.0 126.8h1.3v1.3h-1.3zM292.8 125.0h1.3v1.3h-1.3zM299.8 128.2h1.3v1.3h-1.3zM291.9 122.6h1.3v1.3h-1.3zM288.1 129.8h1.3v1.3h-1.3zM299.9 122.1h1.3v1.3h-1.3zM294.7 126.3h1.3v1.3h-1.3zM297.2 124.4h1.3v1.3h-1.3zM288.7 127.6h1.3v1.3h-1.3zM297.9 130.0h1.3v1.3h-1.3zM296.3 125.0h1.3v1.3h-1.3zM291.8 124.2h1.3v1.3h-1.3zM299.5 126.7h1.3v1.3h-1.3zM289.3 131.4h1.3v1.3h-1.3zM293.4 124.1h1.3v1.3h-1.3zM294.1 123.0h1.3v1.3h-1.3zM290.0 124.2h1.3v1.3h-1.3zM295.0 128.3h1.3v1.3h-1.3zM296.1 123.0h1.3v1.3h-1.3zM376.3 112.4h1.3v1.3h-1.3zM374.5 114.0h1.3v1.3h-1.3zM374.2 113.6h1.3v1.3h-1.3zM375.1 112.2h1.3v1.3h-1.3zM374.1 108.5h1.3v1.3h-1.3zM373.7 108.4h1.3v1.3h-1.3zM373.1 116.7h1.3v1.3h-1.3zM373.8 110.5h1.3v1.3h-1.3zM375.3 110.1h1.3v1.3h-1.3zM373.4 112.1h1.3v1.3h-1.3zM374.7 112.1h1.3v1.3h-1.3zM375.8 110.3h1.3v1.3h-1.3zM373.2 115.1h1.3v1.3h-1.3zM372.7 116.6h1.3v1.3h-1.3zM374.3 118.1h1.3v1.3h-1.3zM373.0 117.5h1.3v1.3h-1.3zM339.0 24.3h1.3v1.3h-1.3zM336.2 23.5h1.3v1.3h-1.3zM338.3 25.3h1.3v1.3h-1.3zM337.4 25.0h1.3v1.3h-1.3zM336.8 23.7h1.3v1.3h-1.3zM364.0 42.3h1.3v1.3h-1.3zM365.2 44.5h1.3v1.3h-1.3zM365.2 43.5h1.3v1.3h-1.3zM364.6 43.3h1.3v1.3h-1.3zM364.2 44.4h1.3v1.3h-1.3zM366.1 42.5h1.3v1.3h-1.3zM364.9 43.5h1.3v1.3h-1.3zM363.0 43.2h1.3v1.3h-1.3zM313.2 63.3h1.3v1.3h-1.3zM310.6 66.0h1.3v1.3h-1.3zM305.9 67.4h1.3v1.3h-1.3zM308.2 70.1h1.3v1.3h-1.3zM313.0 67.4h1.3v1.3h-1.3zM309.0 70.4h1.3v1.3h-1.3zM308.0 62.9h1.3v1.3h-1.3zM311.0 62.8h1.3v1.3h-1.3zM313.5 64.1h1.3v1.3h-1.3zM309.1 67.4h1.3v1.3h-1.3zM313.7 63.5h1.3v1.3h-1.3zM307.6 67.2h1.3v1.3h-1.3zM311.7 66.5h1.3v1.3h-1.3zM306.1 66.5h1.3v1.3h-1.3zM312.2 66.8h1.3v1.3h-1.3zM311.4 62.9h1.3v1.3h-1.3zM307.7 66.4h1.3v1.3h-1.3zM308.3 71.0h1.3v1.3h-1.3zM311.0 63.2h1.3v1.3h-1.3zM309.8 63.5h1.3v1.3h-1.3zM347.5 109.9h1.3v1.3h-1.3zM346.8 114.0h1.3v1.3h-1.3zM343.3 111.2h1.3v1.3h-1.3zM347.8 113.9h1.3v1.3h-1.3zM339.8 107.3h1.3v1.3h-1.3zM346.1 115.3h1.3v1.3h-1.3zM344.5 111.0h1.3v1.3h-1.3zM339.0 112.5h1.3v1.3h-1.3zM350.0 112.6h1.3v1.3h-1.3zM347.2 111.7h1.3v1.3h-1.3zM342.5 112.5h1.3v1.3h-1.3zM345.1 111.1h1.3v1.3h-1.3zM342.5 113.0h1.3v1.3h-1.3zM347.3 111.0h1.3v1.3h-1.3zM347.9 115.0h1.3v1.3h-1.3zM339.4 137.3h1.3v1.3h-1.3zM340.5 137.5h1.3v1.3h-1.3zM341.0 136.6h1.3v1.3h-1.3z" fill="#e0e0e0"/>
<line x1="277.1" y1="22" x2="277.1" y2="156" stroke="#1a1a1a" stroke-width="1.5"/>
<path d="M277.1,19 L279.90000000000003,23.6 L277.1,22.8 L274.3,23.6 Z" fill="#000"/>
<line x1="276.4" y1="155.3" x2="414" y2="155.3" stroke="#1a1a1a" stroke-width="1.2"/>
<path d="M417,155.3 L412.4,152.70000000000002 L413.2,155.3 L412.4,157.9 Z" fill="#000"/>
<text transform="translate(273.7,98.2) rotate(-90)" font-size="9.8" fill="#222" textLength="19.6" lengthAdjust="spacingAndGlyphs">tSNE2</text>
<text x="335.1" y="165.6" font-size="9.6" fill="#222" textLength="19.2" lengthAdjust="spacingAndGlyphs">tSNE1</text>
<text x="351" y="33.8" font-size="7.6" fill="#222">1</text>
<text x="371.9" y="39.9" font-size="7.6" fill="#222">7</text>
<text x="293" y="69.6" font-size="7.6" fill="#222">5</text>
<text x="321.5" y="97.3" font-size="7.6" fill="#222">4</text>
<text x="332.3" y="101.2" font-size="7.6" fill="#222">3</text>
<text x="396.4" y="101.4" font-size="7.6" fill="#222">2</text>
<text x="284.2" y="124.4" font-size="7.6" fill="#222">6</text>
<text x="318.2" y="131.3" font-size="7.6" fill="#222">11</text>
<text x="338.9" y="122.3" font-size="7.6" fill="#222">10</text>
<text x="344" y="144.3" font-size="7.6" fill="#222">9</text>
<text x="372.7" y="134.8" font-size="7.6" fill="#222">8</text>
<circle cx="423.5" cy="40.2" r="3.7" fill="#e8649c"/>
<text x="423.5" y="42.1" font-size="5.3" fill="#222" text-anchor="middle">1</text>
<text x="430.4" y="42.7" font-size="7.4" fill="#222" textLength="35.5" lengthAdjust="spacingAndGlyphs">CD14<tspan font-size="5" dy="-2.6">+</tspan><tspan dy="2.6"> Mo</tspan></text>
<circle cx="423.5" cy="49.35" r="3.7" fill="#7b3a9e"/>
<text x="423.5" y="51.25" font-size="5.3" fill="#fff" text-anchor="middle">2</text>
<text x="430.4" y="51.85" font-size="7.4" fill="#222" textLength="39.2" lengthAdjust="spacingAndGlyphs">CD16<tspan font-size="5" dy="-2.6">++</tspan><tspan dy="2.6"> Mo</tspan></text>
<circle cx="423.5" cy="58.5" r="3.7" fill="#5bc4d0"/>
<text x="423.5" y="60.4" font-size="5.3" fill="#222" text-anchor="middle">3</text>
<text x="430.4" y="61.0" font-size="7.4" fill="#222" textLength="13" lengthAdjust="spacingAndGlyphs">iMo</text>
<circle cx="423.5" cy="67.65" r="3.7" fill="#c8202e"/>
<text x="423.5" y="69.55000000000001" font-size="5.3" fill="#fff" text-anchor="middle">4</text>
<text x="430.4" y="70.15" font-size="7.4" fill="#222" textLength="18" lengthAdjust="spacingAndGlyphs">cDC1</text>
<circle cx="423.5" cy="76.80000000000001" r="3.7" fill="#fbbf5e"/>
<text x="423.5" y="78.70000000000002" font-size="5.3" fill="#333" text-anchor="middle">5</text>
<text x="430.4" y="79.30000000000001" font-size="7.4" fill="#222" textLength="35.7" lengthAdjust="spacingAndGlyphs">cDC2/DC3</text>
<circle cx="423.5" cy="85.95" r="3.7" fill="#2a78c0"/>
<text x="423.5" y="87.85000000000001" font-size="5.3" fill="#fff" text-anchor="middle">6</text>
<text x="430.4" y="88.45" font-size="7.4" fill="#222" textLength="15.5" lengthAdjust="spacingAndGlyphs">pDC</text>
<circle cx="423.5" cy="95.10000000000001" r="3.7" fill="#8c7a22"/>
<text x="423.5" y="97.00000000000001" font-size="5.3" fill="#222" text-anchor="middle">7</text>
<text x="430.4" y="97.60000000000001" font-size="7.4" fill="#222" textLength="14.5" lengthAdjust="spacingAndGlyphs">Neu</text>
<circle cx="423.5" cy="104.25" r="3.7" fill="#2d2e70"/>
<text x="423.5" y="106.15" font-size="5.3" fill="#fff" text-anchor="middle">8</text>
<text x="430.4" y="106.75" font-size="7.4" fill="#222" textLength="31.2" lengthAdjust="spacingAndGlyphs">NK/T cell</text>
<circle cx="423.5" cy="113.4" r="3.7" fill="#22a04a"/>
<text x="423.5" y="115.30000000000001" font-size="5.3" fill="#fff" text-anchor="middle">9</text>
<text x="430.4" y="115.9" font-size="7.4" fill="#222" textLength="18" lengthAdjust="spacingAndGlyphs">B cell</text>
<circle cx="423.5" cy="122.55000000000001" r="3.7" fill="#a8c4ec"/>
<text x="423.5" y="124.45000000000002" font-size="4.6" fill="#333" text-anchor="middle" textLength="5" lengthAdjust="spacingAndGlyphs">10</text>
<text x="430.4" y="125.05000000000001" font-size="7.4" fill="#222" textLength="37" lengthAdjust="spacingAndGlyphs">Plasma cell</text>
<circle cx="423.5" cy="131.7" r="3.7" fill="#bb9a6b"/>
<text x="423.5" y="133.6" font-size="4.6" fill="#333" text-anchor="middle" textLength="5" lengthAdjust="spacingAndGlyphs">11</text>
<text x="430.4" y="134.2" font-size="7.4" fill="#222" textLength="60" lengthAdjust="spacingAndGlyphs">CD34<tspan font-size="5" dy="-2.6">+</tspan><tspan dy="2.6"> Progenitor</tspan></text>
<circle cx="423.5" cy="140.85000000000002" r="3.7" fill="#e4e4e4"/>
<text x="430.4" y="143.35000000000002" font-size="7.4" fill="#222" textLength="54.5" lengthAdjust="spacingAndGlyphs">Healthy children</text>
<text transform="translate(83.39999999999999,227.2) rotate(-90)" font-size="8.0" fill="#222" font-style="italic" textLength="39.7" lengthAdjust="spacingAndGlyphs">HLA–DRB1</text>
<text transform="translate(92.66,227.2) rotate(-90)" font-size="8.0" fill="#222" font-style="italic" textLength="23.4" lengthAdjust="spacingAndGlyphs">CSF1R</text>
<text transform="translate(101.91999999999999,227.2) rotate(-90)" font-size="8.0" fill="#222" font-style="italic" textLength="19.7" lengthAdjust="spacingAndGlyphs">CD14</text>
<text transform="translate(111.17999999999999,227.2) rotate(-90)" font-size="8.0" fill="#222" font-style="italic" textLength="19.7" lengthAdjust="spacingAndGlyphs">FCAR</text>
<text transform="translate(120.43999999999998,227.2) rotate(-90)" font-size="8.0" fill="#222" font-style="italic" textLength="30.3" lengthAdjust="spacingAndGlyphs">FCGR3A</text>
<text transform="translate(129.7,227.2) rotate(-90)" font-size="8.0" fill="#222" font-style="italic" textLength="23.4" lengthAdjust="spacingAndGlyphs">C5AR1</text>
<text transform="translate(138.96,227.2) rotate(-90)" font-size="8.0" fill="#222" font-style="italic" textLength="29.9" lengthAdjust="spacingAndGlyphs">CLEC9A</text>
<text transform="translate(148.22,227.2) rotate(-90)" font-size="8.0" fill="#222" font-style="italic" textLength="27.3" lengthAdjust="spacingAndGlyphs">CADM1</text>
<text transform="translate(157.48000000000002,227.2) rotate(-90)" font-size="8.0" fill="#222" font-style="italic" textLength="21.2" lengthAdjust="spacingAndGlyphs">CD1C</text>
<text transform="translate(166.74,227.2) rotate(-90)" font-size="8.0" fill="#222" font-style="italic" textLength="29.0" lengthAdjust="spacingAndGlyphs">FCER1A</text>
<text transform="translate(176.0,227.2) rotate(-90)" font-size="8.0" fill="#222" font-style="italic" textLength="29.9" lengthAdjust="spacingAndGlyphs">CLEC4C</text>
<text transform="translate(185.26,227.2) rotate(-90)" font-size="8.0" fill="#222" font-style="italic" textLength="17.8" lengthAdjust="spacingAndGlyphs">NRP1</text>
<text transform="translate(194.52,227.2) rotate(-90)" font-size="8.0" fill="#222" font-style="italic" textLength="29.9" lengthAdjust="spacingAndGlyphs">FCGR3B</text>
<text transform="translate(203.78,227.2) rotate(-90)" font-size="8.0" fill="#222" font-style="italic" textLength="24.7" lengthAdjust="spacingAndGlyphs">CXCR2</text>
<text transform="translate(213.04,227.2) rotate(-90)" font-size="8.0" fill="#222" font-style="italic" textLength="24.7" lengthAdjust="spacingAndGlyphs">CD247</text>
<text transform="translate(222.3,227.2) rotate(-90)" font-size="8.0" fill="#222" font-style="italic" textLength="15.2" lengthAdjust="spacingAndGlyphs">CD2</text>
<text transform="translate(231.56,227.2) rotate(-90)" font-size="8.0" fill="#222" font-style="italic" textLength="24.7" lengthAdjust="spacingAndGlyphs">MS4A1</text>
<text transform="translate(240.82,227.2) rotate(-90)" font-size="8.0" fill="#222" font-style="italic" textLength="20.4" lengthAdjust="spacingAndGlyphs">CD22</text>
<text transform="translate(250.08,227.2) rotate(-90)" font-size="8.0" fill="#222" font-style="italic" textLength="20.4" lengthAdjust="spacingAndGlyphs">CD38</text>
<text transform="translate(259.34,227.2) rotate(-90)" font-size="8.0" fill="#222" font-style="italic" textLength="20.4" lengthAdjust="spacingAndGlyphs">CD27</text>
<text transform="translate(268.59999999999997,227.2) rotate(-90)" font-size="8.0" fill="#222" font-style="italic" textLength="20.4" lengthAdjust="spacingAndGlyphs">CD34</text>
<text transform="translate(277.86,227.2) rotate(-90)" font-size="8.0" fill="#222" font-style="italic" textLength="24.7" lengthAdjust="spacingAndGlyphs">SPINK2</text>
<text x="73.6" y="238.7" font-size="8" fill="#222" text-anchor="end" textLength="38.4" lengthAdjust="spacingAndGlyphs">CD14<tspan font-size="6" dy="-3.2">+</tspan><tspan dy="3.2"> Mo</tspan></text>
<text x="73.6" y="249.79999999999998" font-size="8" fill="#222" text-anchor="end" textLength="42.4" lengthAdjust="spacingAndGlyphs">CD16<tspan font-size="6" dy="-3.2">++</tspan><tspan dy="3.2"> Mo</tspan></text>
<text x="73.6" y="260.9" font-size="8" fill="#222" text-anchor="end" textLength="14" lengthAdjust="spacingAndGlyphs">iMo</text>
<text x="73.6" y="272.0" font-size="8" fill="#222" text-anchor="end" textLength="19.8" lengthAdjust="spacingAndGlyphs">cDC1</text>
<text x="73.6" y="283.09999999999997" font-size="8" fill="#222" text-anchor="end" textLength="38" lengthAdjust="spacingAndGlyphs">cDC2/DC3</text>
<text x="73.6" y="294.2" font-size="8" fill="#222" text-anchor="end" textLength="15.9" lengthAdjust="spacingAndGlyphs">pDC</text>
<text x="73.6" y="305.29999999999995" font-size="8" fill="#222" text-anchor="end" textLength="14.9" lengthAdjust="spacingAndGlyphs">Neu</text>
<text x="73.6" y="316.4" font-size="8" fill="#222" text-anchor="end" textLength="32.6" lengthAdjust="spacingAndGlyphs">NK/T cell</text>
<text x="73.6" y="327.5" font-size="8" fill="#222" text-anchor="end" textLength="18.8" lengthAdjust="spacingAndGlyphs">B cell</text>
<text x="73.6" y="338.59999999999997" font-size="8" fill="#222" text-anchor="end" textLength="39" lengthAdjust="spacingAndGlyphs">Plasma cell</text>
<text x="73.6" y="349.7" font-size="8" fill="#222" text-anchor="end" textLength="64.4" lengthAdjust="spacingAndGlyphs">CD34<tspan font-size="6" dy="-3.2">+</tspan><tspan dy="3.2"> Progenitor</tspan></text>
<path d="M77.0,235.8 77.5,235.7 78.0,235.2 78.5,234.7 79.0,234.1 79.5,233.6 80.0,233.1 80.3,232.8 80.5,233.0 81.1,233.4 81.6,233.8 82.1,234.2 82.6,234.6 83.1,235.0 83.6,235.4 84.1,235.8 84.6,235.8 L84.6,236.5 84.1,236.6 83.6,237.0 83.1,237.4 82.6,237.8 82.1,238.2 81.6,238.6 81.1,239.0 80.5,239.4 80.3,239.6 80.0,239.3 79.5,238.8 79.0,238.3 78.5,237.7 78.0,237.2 77.5,236.7 77.0,236.5 Z M86.3,235.8 86.8,233.1 87.1,232.9 87.3,232.9 87.8,233.0 88.3,233.3 88.8,233.7 89.3,234.4 89.7,235.8 89.8,235.3 90.3,234.2 90.8,233.8 91.3,233.7 91.8,233.8 92.3,234.3 92.8,235.8 L92.8,236.5 92.3,238.1 91.8,238.6 91.3,238.7 90.8,238.6 90.3,238.2 89.8,237.1 89.7,236.5 89.3,238.0 88.8,238.7 88.3,239.1 87.8,239.4 87.3,239.5 87.1,239.5 86.8,239.3 86.3,236.5 Z M95.7,235.8 96.2,235.8 96.8,235.8 97.3,235.8 97.8,235.8 98.3,235.8 98.8,235.8 98.9,235.8 99.4,235.1 99.9,234.2 100.4,233.3 100.6,232.9 101.0,233.4 101.5,234.0 102.0,234.5 102.5,235.1 103.1,235.8 103.4,235.8 103.6,235.8 L103.6,236.5 103.4,236.5 103.1,236.6 102.5,237.3 102.0,237.8 101.5,238.4 101.0,239.0 100.6,239.5 100.4,239.1 99.9,238.2 99.4,237.3 98.9,236.5 98.8,236.5 98.3,236.5 97.8,236.5 97.3,236.5 96.8,236.5 96.2,236.5 95.7,236.5 Z M105.0,235.8 105.5,235.8 106.0,235.8 106.3,235.8 106.5,235.5 107.0,235.1 107.5,234.8 108.0,234.7 108.3,234.7 108.6,234.7 109.1,234.8 109.6,235.1 110.1,235.5 110.3,235.8 110.6,235.8 111.1,235.8 111.6,235.8 L111.6,236.5 111.1,236.5 110.6,236.5 110.3,236.5 110.1,236.9 109.6,237.3 109.1,237.6 108.6,237.7 108.3,237.7 108.0,237.7 107.5,237.6 107.0,237.3 106.5,236.9 106.3,236.5 106.0,236.5 105.5,236.5 105.0,236.5 Z M114.3,235.8 114.5,232.9 114.8,233.2 115.3,233.7 115.9,234.3 116.4,234.7 116.9,235.2 117.4,235.7 117.9,235.8 118.4,235.8 119.0,235.8 119.5,235.8 120.0,235.8 120.5,235.8 L120.5,236.5 120.0,236.5 119.5,236.5 119.0,236.5 118.4,236.5 117.9,236.5 117.4,236.7 116.9,237.2 116.4,237.7 115.9,238.1 115.3,238.7 114.8,239.2 114.5,239.5 114.3,236.5 Z M123.7,235.8 124.2,235.1 124.7,234.8 125.2,234.7 125.7,234.2 126.2,233.6 126.7,233.2 127.2,232.9 127.7,232.9 127.8,232.9 128.2,233.0 128.8,233.2 129.2,233.6 129.8,234.3 130.2,235.8 L130.2,236.5 129.8,238.1 129.2,238.8 128.8,239.2 128.2,239.4 127.8,239.5 127.7,239.5 127.2,239.5 126.7,239.2 126.2,238.8 125.7,238.2 125.2,237.7 124.7,237.6 124.2,237.3 123.7,236.5 Z M133.0,235.0 133.5,235.3 134.0,235.6 134.5,235.8 135.0,235.8 135.5,235.8 L135.5,236.5 135.0,236.5 134.5,236.5 134.0,236.8 133.5,237.1 133.0,237.4 Z" fill="#f0709e" stroke="#000" stroke-width="0.85" stroke-linejoin="round"/>
<path d="M142.3,235.8H146.6V236.5H142.3Z M151.6,235.8H157.1V236.5H151.6Z M161.0,235.8H167.0V236.5H161.0Z M170.3,235.8H175.3V236.5H170.3Z M179.6,235.8H185.1V236.5H179.6Z M189.0,235.8H194.0V236.5H189.0Z M198.3,235.8H203.3V236.5H198.3Z M207.6,235.8H213.1V236.5H207.6Z M216.9,235.8H221.9V236.5H216.9Z M226.3,235.8H231.3V236.5H226.3Z M235.6,235.8H241.1V236.5H235.6Z M244.9,235.8H249.9V236.5H244.9Z M254.3,235.8H259.3V236.5H254.3Z M263.6,235.8H268.6V236.5H263.6Z M272.9,235.8H276.9V236.5H272.9Z M105.0,246.9H110.2V247.6H105.0Z M142.3,246.9H146.8V247.6H142.3Z M151.6,246.9H156.1V247.6H151.6Z M161.0,246.9H166.0V247.6H161.0Z M170.3,246.9H174.8V247.6H170.3Z M179.6,246.9H184.1V247.6H179.6Z M189.0,246.9H193.0V247.6H189.0Z M198.3,246.9H202.8V247.6H198.3Z M207.6,246.9H211.6V247.6H207.6Z M216.9,246.9H220.9V247.6H216.9Z M226.3,246.9H229.3V247.6H226.3Z M235.6,246.9H240.1V247.6H235.6Z M244.9,246.9H248.9V247.6H244.9Z M254.3,246.9H257.3V247.6H254.3Z M263.6,246.9H268.1V247.6H263.6Z M272.9,246.9H276.4V247.6H272.9Z M105.0,258.0H110.7V258.8H105.0Z M133.0,258.0H136.0V258.8H133.0Z M142.3,258.0H148.3V258.8H142.3Z M151.6,258.0H158.6V258.8H151.6Z M161.0,258.0H168.0V258.8H161.0Z M170.3,258.0H177.3V258.8H170.3Z M179.6,258.0H187.1V258.8H179.6Z M189.0,258.0H196.0V258.8H189.0Z M198.3,258.0H205.3V258.8H198.3Z M207.6,258.0H214.6V258.8H207.6Z M216.9,258.0H222.9V258.8H216.9Z M226.3,258.0H233.8V258.8H226.3Z M235.6,258.0H242.6V258.8H235.6Z M244.9,258.0H251.4V258.8H244.9Z M254.3,258.0H259.3V258.8H254.3Z M263.6,258.0H269.6V258.8H263.6Z M272.9,258.0H277.4V258.8H272.9Z M161.0,269.1H166.0V269.9H161.0Z M235.6,269.1H238.6V269.9H235.6Z M244.9,269.1H247.9V269.9H244.9Z M272.9,269.1H274.9V269.9H272.9Z M105.0,280.2H108.1V280.9H105.0Z M133.0,280.2H138.0V280.9H133.0Z M142.3,280.2H148.3V280.9H142.3Z M170.3,280.2H175.3V280.9H170.3Z M179.6,280.2H184.6V280.9H179.6Z M189.0,280.2H192.0V280.9H189.0Z M198.3,280.2H203.3V280.9H198.3Z M207.6,280.2H212.6V280.9H207.6Z M216.9,280.2H222.9V280.9H216.9Z M235.6,280.2H240.6V280.9H235.6Z M244.9,280.2H250.9V280.9H244.9Z M254.3,280.2H259.3V280.9H254.3Z M263.6,280.2H268.6V280.9H263.6Z M272.9,280.2H276.9V280.9H272.9Z M105.0,291.3H108.0V292.1H105.0Z M133.0,291.3H136.0V292.1H133.0Z M142.3,291.3H145.3V292.1H142.3Z M151.6,291.3H154.6V292.1H151.6Z M198.3,291.3H202.3V292.1H198.3Z M207.6,291.3H211.6V292.1H207.6Z M216.9,291.3H221.9V292.1H216.9Z M226.3,291.3H230.3V292.1H226.3Z M235.6,291.3H239.6V292.1H235.6Z M244.9,291.3H248.9V292.1H244.9Z M254.3,291.3H258.3V292.1H254.3Z M263.6,291.3H267.6V292.1H263.6Z M272.9,291.3H276.9V292.1H272.9Z M133.0,302.4H141.5V303.1H133.0Z M142.3,302.4H147.3V303.1H142.3Z M151.6,302.4H156.6V303.1H151.6Z M161.0,302.4H165.0V303.1H161.0Z M170.3,302.4H172.3V303.1H170.3Z M179.6,302.4H182.6V303.1H179.6Z M207.6,302.4H210.6V303.1H207.6Z M216.9,302.4H219.9V303.1H216.9Z M235.6,302.4H239.6V303.1H235.6Z M254.3,302.4H258.3V303.1H254.3Z M263.6,302.4H267.6V303.1H263.6Z M272.9,302.4H275.9V303.1H272.9Z M86.3,313.5H89.3V314.2H86.3Z M105.0,313.5H107.0V314.2H105.0Z M142.3,313.5H147.3V314.2H142.3Z M151.6,313.5H154.6V314.2H151.6Z M161.0,313.5H164.0V314.2H161.0Z M179.6,313.5H182.6V314.2H179.6Z M189.0,313.5H192.0V314.2H189.0Z M198.3,313.5H202.3V314.2H198.3Z M226.3,313.5H229.3V314.2H226.3Z M235.6,313.5H239.6V314.2H235.6Z M244.9,313.5H248.9V314.2H244.9Z M254.3,313.5H258.3V314.2H254.3Z M263.6,313.5H265.6V314.2H263.6Z M272.9,313.5H276.9V314.2H272.9Z M105.0,324.6H109.0V325.4H105.0Z M142.3,324.6H144.3V325.4H142.3Z M161.0,324.6H165.0V325.4H161.0Z M179.6,324.6H182.6V325.4H179.6Z M198.3,324.6H201.3V325.4H198.3Z M207.6,324.6H210.6V325.4H207.6Z M216.9,324.6H219.9V325.4H216.9Z M244.9,324.6H248.9V325.4H244.9Z M263.6,324.6H266.6V325.4H263.6Z M272.9,324.6H275.9V325.4H272.9Z M105.0,335.7H108.0V336.4H105.0Z M133.0,335.7H137.0V336.4H133.0Z M151.6,335.7H156.6V336.4H151.6Z M161.0,335.7H166.0V336.4H161.0Z M170.3,335.7H175.3V336.4H170.3Z M179.6,335.7H184.6V336.4H179.6Z M189.0,335.7H194.0V336.4H189.0Z M198.3,335.7H203.3V336.4H198.3Z M207.6,335.7H212.6V336.4H207.6Z M216.9,335.7H221.9V336.4H216.9Z M226.3,335.7H231.3V336.4H226.3Z M235.6,335.7H240.6V336.4H235.6Z M263.6,335.7H267.6V336.4H263.6Z M272.9,335.7H276.9V336.4H272.9Z M105.0,346.8H108.0V347.6H105.0Z M133.0,346.8H138.0V347.6H133.0Z M142.3,346.8H147.3V347.6H142.3Z M151.6,346.8H154.6V347.6H151.6Z M170.3,346.8H174.3V347.6H170.3Z M179.6,346.8H183.6V347.6H179.6Z M189.0,346.8H194.0V347.6H189.0Z M198.3,346.8H203.3V347.6H198.3Z M207.6,346.8H211.6V347.6H207.6Z M216.9,346.8H219.9V347.6H216.9Z M226.3,346.8H229.3V347.6H226.3Z M235.6,346.8H240.6V347.6H235.6Z M244.9,346.8H250.9V347.6H244.9Z M254.3,346.8H258.3V347.6H254.3Z" fill="#000" stroke="#000" stroke-width="0.85" stroke-linejoin="round"/>
<path d="M77.0,246.9 77.5,246.9 78.0,246.9 78.5,246.9 79.0,246.9 79.1,246.9 79.6,246.5 80.1,245.9 80.6,245.2 81.1,244.6 81.3,244.3 81.6,244.7 82.2,245.4 82.7,246.0 83.2,246.7 83.7,246.9 L83.7,247.6 83.2,247.9 82.7,248.5 82.2,249.2 81.6,249.9 81.3,250.3 81.1,250.0 80.6,249.4 80.1,248.7 79.6,248.1 79.1,247.6 79.0,247.6 78.5,247.6 78.0,247.6 77.5,247.6 77.0,247.6 Z M86.3,246.9 86.8,246.9 87.3,246.9 87.9,246.9 88.4,246.9 88.9,246.9 89.3,246.9 89.4,246.9 89.9,246.2 90.4,245.2 90.9,244.3 91.0,244.5 91.5,245.4 92.0,246.4 92.5,246.9 L92.5,247.6 92.0,248.2 91.5,249.2 91.0,250.1 90.9,250.3 90.4,249.4 89.9,248.4 89.4,247.6 89.3,247.6 88.9,247.6 88.4,247.6 87.9,247.6 87.3,247.6 86.8,247.6 86.3,247.6 Z M95.7,246.9 95.9,244.0 96.2,244.2 96.7,244.6 97.3,245.0 97.8,245.3 98.3,245.7 98.8,246.0 99.3,246.4 99.9,246.8 100.4,246.9 100.6,246.9 100.9,246.9 101.4,246.9 102.0,246.9 102.5,246.9 103.0,246.9 L103.0,247.6 102.5,247.6 102.0,247.6 101.4,247.6 100.9,247.6 100.6,247.6 100.4,247.6 99.9,247.8 99.3,248.2 98.8,248.6 98.3,248.9 97.8,249.3 97.3,249.6 96.7,250.0 96.2,250.4 95.9,250.6 95.7,247.6 Z M114.3,246.9 114.8,246.9 115.3,246.9 115.8,246.9 116.3,246.9 116.8,246.9 117.3,246.9 117.8,246.9 118.1,246.9 118.3,246.9 118.8,246.1 119.3,245.2 119.8,244.3 120.3,245.3 120.8,246.3 121.3,246.9 L121.3,247.6 120.8,248.3 120.3,249.3 119.8,250.3 119.3,249.4 118.8,248.5 118.3,247.7 118.1,247.6 117.8,247.6 117.3,247.6 116.8,247.6 116.3,247.6 115.8,247.6 115.3,247.6 114.8,247.6 114.3,247.6 Z M123.7,246.9 124.2,246.9 124.7,246.9 125.2,246.9 125.7,246.9 125.9,246.9 126.2,246.8 126.7,246.0 127.2,245.2 127.7,244.3 127.9,244.0 128.2,244.4 128.7,245.1 129.2,245.9 129.7,246.6 130.2,246.9 L130.2,247.6 129.7,248.0 129.2,248.7 128.7,249.5 128.2,250.2 127.9,250.6 127.7,250.3 127.2,249.4 126.7,248.6 126.2,247.8 125.9,247.6 125.7,247.6 125.2,247.6 124.7,247.6 124.2,247.6 123.7,247.6 Z M133.0,246.1 133.5,246.4 134.0,246.7 134.5,246.9 135.0,246.9 135.5,246.9 L135.5,247.6 135.0,247.6 134.5,247.6 134.0,247.9 133.5,248.2 133.0,248.5 Z" fill="#7b3a9e" stroke="#000" stroke-width="0.85" stroke-linejoin="round"/>
<path d="M77.0,258.0 77.5,257.8 78.0,257.1 78.5,256.5 79.0,255.9 79.5,255.3 79.8,254.9 80.0,255.1 80.5,255.5 81.1,256.0 81.6,256.4 82.1,256.8 82.6,257.2 83.1,257.6 83.6,258.0 84.1,258.0 L84.1,258.8 83.6,258.8 83.1,259.2 82.6,259.6 82.1,260.0 81.6,260.4 81.1,260.8 80.5,261.3 80.0,261.7 79.8,261.9 79.5,261.5 79.0,260.9 78.5,260.3 78.0,259.6 77.5,259.0 77.0,258.8 Z M86.3,258.0 86.8,255.9 87.3,256.2 87.8,256.2 88.3,255.9 88.8,255.7 89.3,255.6 89.4,255.6 89.8,255.6 90.3,255.7 90.8,255.8 91.3,256.0 91.8,256.2 92.3,256.5 92.8,257.0 93.3,258.0 L93.3,258.8 92.8,259.8 92.3,260.3 91.8,260.6 91.3,260.8 90.8,261.0 90.3,261.1 89.8,261.2 89.4,261.2 89.3,261.2 88.8,261.1 88.3,260.9 87.8,260.6 87.3,260.6 86.8,260.9 86.3,258.8 Z M95.7,258.0 96.2,255.4 96.7,255.5 97.3,255.9 97.8,256.6 98.2,258.0 98.3,257.5 98.8,256.3 99.3,255.7 99.9,255.3 100.4,255.2 100.6,255.2 100.9,255.2 101.4,255.4 102.0,255.8 102.5,256.4 103.0,258.0 L103.0,258.8 102.5,260.4 102.0,261.0 101.4,261.4 100.9,261.6 100.6,261.6 100.4,261.6 99.9,261.5 99.3,261.1 98.8,260.5 98.3,259.3 98.2,258.8 97.8,260.2 97.3,260.9 96.7,261.3 96.2,261.4 95.7,258.8 Z M114.3,258.0 114.5,255.6 114.8,255.8 115.3,256.1 115.8,256.4 116.3,256.7 116.8,257.0 117.3,257.3 117.8,257.7 118.3,258.0 118.8,258.0 119.0,258.0 119.3,258.0 119.8,258.0 120.3,258.0 120.8,258.0 L120.8,258.8 120.3,258.8 119.8,258.8 119.3,258.8 119.0,258.8 118.8,258.8 118.3,258.8 117.8,259.1 117.3,259.5 116.8,259.8 116.3,260.1 115.8,260.4 115.3,260.7 114.8,261.0 114.5,261.2 114.3,258.8 Z M123.7,258.0 124.2,256.4 124.7,256.8 125.2,257.2 125.7,257.6 126.2,257.4 126.7,256.4 127.2,255.4 127.7,255.9 128.2,256.4 128.7,256.9 129.2,257.4 129.7,257.9 130.2,258.0 L130.2,258.8 129.7,258.9 129.2,259.4 128.7,259.9 128.2,260.4 127.7,260.9 127.2,261.4 126.7,260.4 126.2,259.4 125.7,259.2 125.2,259.6 124.7,260.0 124.2,260.4 123.7,258.8 Z" fill="#5fd0dc" stroke="#000" stroke-width="0.85" stroke-linejoin="round"/>
<path d="M83.6,266.3 83.9,266.0 84.1,266.1 L84.1,272.9 83.9,273.0 83.6,272.7 Z M86.3,266.0 86.8,266.0 87.4,266.2 87.9,266.3 88.4,266.6 88.9,267.0 89.5,267.7 90.0,269.1 L90.0,269.9 89.5,271.3 88.9,272.0 88.4,272.4 87.9,272.7 87.4,272.8 86.8,273.0 86.3,273.0 Z M95.7,267.1 96.3,266.1 96.7,266.0 96.9,266.0 97.5,266.6 L97.5,272.4 96.9,273.0 96.7,273.0 96.3,272.9 95.7,271.9 Z M105.0,268.3 105.5,268.6 106.0,268.9 106.5,269.1 107.0,269.1 L107.0,269.9 106.5,269.9 106.0,270.1 105.5,270.4 105.0,270.7 Z M114.5,268.6 114.8,267.2 115.3,266.3 115.9,266.0 116.4,266.2 116.9,267.0 117.3,268.6 L117.3,270.4 116.9,272.0 116.4,272.8 115.9,273.0 115.3,272.7 114.8,271.8 114.5,270.4 Z M123.7,266.0 124.2,266.0 124.8,266.2 125.2,266.5 125.8,266.9 126.4,267.6 126.9,269.1 L126.9,269.9 126.4,271.4 125.8,272.1 125.2,272.5 124.8,272.8 124.2,273.0 123.7,273.0 Z M133.0,269.1 133.5,269.1 134.0,269.1 134.5,269.1 135.0,269.1 135.5,269.1 136.0,269.1 136.5,268.6 137.0,268.2 137.5,267.8 138.0,267.3 138.5,266.9 139.0,266.4 139.5,266.0 139.9,269.1 140.0,269.1 L140.0,269.9 139.9,269.9 139.5,273.0 139.0,272.6 138.5,272.1 138.0,271.7 137.5,271.2 137.0,270.8 136.5,270.4 136.0,269.9 135.5,269.9 135.0,269.9 134.5,269.9 134.0,269.9 133.5,269.9 133.0,269.9 Z M142.3,269.1 142.8,269.1 143.3,269.1 143.6,269.1 143.8,268.3 144.4,267.3 144.9,266.8 145.4,266.4 145.9,266.2 146.4,266.1 146.9,266.0 147.1,266.0 147.5,266.1 148.0,266.4 148.5,267.1 149.0,269.1 L149.0,269.9 148.5,271.9 148.0,272.6 147.5,272.9 147.1,273.0 146.9,273.0 146.4,272.9 145.9,272.8 145.4,272.6 144.9,272.2 144.4,271.7 143.8,270.7 143.6,269.9 143.3,269.9 142.8,269.9 142.3,269.9 Z M151.6,269.1 151.8,266.0 152.1,266.3 152.6,266.8 153.1,267.3 153.6,267.8 154.1,268.2 154.6,268.7 155.2,269.1 155.4,269.1 155.7,269.1 156.2,269.1 156.7,269.1 157.2,269.1 157.7,269.1 158.2,269.1 L158.2,269.9 157.7,269.9 157.2,269.9 156.7,269.9 156.2,269.9 155.7,269.9 155.4,269.9 155.2,269.9 154.6,270.3 154.1,270.8 153.6,271.2 153.1,271.7 152.6,272.2 152.1,272.7 151.8,273.0 151.6,269.9 Z M170.3,268.5 170.7,268.8 171.1,269.0 171.4,269.1 171.8,269.1 L171.8,269.9 171.4,269.9 171.1,270.0 170.7,270.2 170.3,270.5 Z M179.6,268.5 180.0,268.8 180.4,269.0 180.7,269.1 181.1,269.1 L181.1,269.9 180.7,269.9 180.4,270.0 180.0,270.2 179.6,270.5 Z M189.0,268.3 189.5,268.6 190.0,268.9 190.5,269.1 191.0,269.1 L191.0,269.9 190.5,269.9 190.0,270.1 189.5,270.4 189.0,270.7 Z M263.6,268.3 264.1,268.6 264.6,268.9 265.1,269.1 265.6,269.1 L265.6,269.9 265.1,269.9 264.6,270.1 264.1,270.4 263.6,270.7 Z" fill="#d42a3a" stroke="#000" stroke-width="0.85" stroke-linejoin="round"/>
<path d="M77.0,280.2 77.5,280.2 78.0,280.2 78.5,280.2 79.0,280.2 79.5,280.2 80.0,280.2 80.5,279.9 81.0,279.2 81.5,278.6 82.0,277.9 82.2,277.6 82.5,278.1 83.0,278.9 83.5,279.8 84.0,280.2 L84.0,280.9 83.5,281.4 83.0,282.3 82.5,283.1 82.2,283.6 82.0,283.3 81.5,282.6 81.0,282.0 80.5,281.3 80.0,280.9 79.5,280.9 79.0,280.9 78.5,280.9 78.0,280.9 77.5,280.9 77.0,280.9 Z M86.3,280.2 86.8,277.7 87.0,277.6 87.3,277.6 87.9,278.0 88.4,278.7 88.8,280.2 88.9,280.2 89.2,280.2 89.4,279.2 89.9,278.2 90.4,277.8 91.0,277.6 91.5,277.8 92.0,278.4 92.5,280.2 L92.5,280.9 92.0,282.8 91.5,283.4 91.0,283.6 90.4,283.4 89.9,283.0 89.4,282.0 89.2,280.9 88.9,280.9 88.8,280.9 88.4,282.5 87.9,283.2 87.3,283.6 87.0,283.6 86.8,283.5 86.3,280.9 Z M95.7,280.2 95.9,277.3 96.2,277.5 96.8,278.0 97.3,278.4 97.8,278.8 98.4,279.3 98.9,279.7 99.5,280.1 100.0,280.2 100.1,280.2 100.5,280.2 101.1,280.2 101.6,280.2 L101.6,280.9 101.1,280.9 100.5,280.9 100.1,280.9 100.0,280.9 99.5,281.1 98.9,281.5 98.4,281.9 97.8,282.4 97.3,282.8 96.8,283.2 96.2,283.7 95.9,283.9 95.7,280.9 Z M114.3,280.2 114.8,277.8 115.4,277.1 115.6,277.1 115.9,277.1 116.4,277.3 116.9,277.5 117.5,278.1 118.0,279.0 118.3,280.2 118.5,280.2 119.0,280.2 119.6,280.2 120.1,280.2 L120.1,280.9 119.6,280.9 119.0,280.9 118.5,280.9 118.3,280.9 118.0,282.2 117.5,283.1 116.9,283.7 116.4,283.9 115.9,284.1 115.6,284.1 115.4,284.1 114.8,283.4 114.3,280.9 Z M123.7,280.2 123.9,277.1 124.2,277.4 124.7,277.9 125.2,278.4 125.7,278.9 126.2,279.4 126.7,279.9 127.2,280.2 127.4,280.2 127.7,280.2 128.2,280.2 128.7,280.2 129.2,280.2 129.7,280.2 L129.7,280.9 129.2,280.9 128.7,280.9 128.2,280.9 127.7,280.9 127.4,280.9 127.2,280.9 126.7,281.3 126.2,281.8 125.7,282.3 125.2,282.8 124.7,283.3 124.2,283.8 123.9,284.1 123.7,280.9 Z M151.6,280.2 152.1,278.9 152.6,278.6 153.1,278.9 153.6,280.2 153.7,280.2 154.1,278.7 154.6,277.9 155.1,277.5 155.7,277.2 156.2,277.1 156.7,277.2 157.2,277.4 157.7,277.8 158.2,278.5 158.7,280.2 L158.7,280.9 158.2,282.7 157.7,283.4 157.2,283.8 156.7,284.0 156.2,284.1 155.7,284.0 155.1,283.7 154.6,283.3 154.1,282.5 153.7,280.9 153.6,280.9 153.1,282.3 152.6,282.6 152.1,282.3 151.6,280.9 Z M161.0,280.2 161.5,280.2 162.0,280.2 162.6,280.2 163.1,280.2 163.6,280.2 164.1,280.2 164.4,280.2 164.6,280.2 165.2,279.6 165.7,279.0 166.2,278.4 166.7,277.8 166.9,277.6 167.3,278.5 167.8,279.5 168.3,280.2 L168.3,280.9 167.8,281.7 167.3,282.7 166.9,283.6 166.7,283.4 166.2,282.8 165.7,282.2 165.2,281.6 164.6,280.9 164.4,280.9 164.1,280.9 163.6,280.9 163.1,280.9 162.6,280.9 162.0,280.9 161.5,280.9 161.0,280.9 Z" fill="#f8c870" stroke="#000" stroke-width="0.85" stroke-linejoin="round"/>
<path d="M77.0,291.3 77.5,291.3 78.0,291.3 78.5,291.3 78.8,291.3 79.0,291.3 79.5,290.5 80.0,289.7 80.5,288.9 81.0,288.1 81.2,287.8 81.5,288.0 82.0,288.6 82.5,289.2 83.0,289.8 83.5,290.4 84.0,291.0 84.5,291.3 L84.5,292.1 84.0,292.4 83.5,293.0 83.0,293.6 82.5,294.2 82.0,294.8 81.5,295.4 81.2,295.6 81.0,295.3 80.5,294.5 80.0,293.7 79.5,292.9 79.0,292.1 78.8,292.1 78.5,292.1 78.0,292.1 77.5,292.1 77.0,292.1 Z M86.3,291.3 86.5,288.4 86.8,288.8 87.3,289.4 87.9,290.1 88.4,290.7 88.9,291.3 89.2,291.3 89.4,291.3 89.9,291.3 90.5,291.3 91.0,291.3 91.5,291.3 L91.5,292.1 91.0,292.1 90.5,292.1 89.9,292.1 89.4,292.1 89.2,292.1 88.9,292.1 88.4,292.7 87.9,293.3 87.3,294.0 86.8,294.6 86.5,295.0 86.3,292.1 Z M95.7,291.3 95.9,288.7 96.2,288.9 96.8,289.4 97.3,289.8 97.9,290.2 98.4,290.6 98.9,291.0 99.5,291.3 99.8,291.3 100.0,291.3 100.6,291.3 101.1,291.3 L101.1,292.1 100.6,292.1 100.0,292.1 99.8,292.1 99.5,292.1 98.9,292.4 98.4,292.8 97.9,293.2 97.3,293.6 96.8,294.0 96.2,294.5 95.9,294.7 95.7,292.1 Z M114.3,291.3 114.5,288.2 114.8,288.4 115.4,288.9 115.9,289.3 116.4,289.7 116.9,290.2 117.5,290.6 118.0,291.0 118.5,291.3 118.8,291.3 119.0,291.3 119.6,291.3 120.1,291.3 L120.1,292.1 119.6,292.1 119.0,292.1 118.8,292.1 118.5,292.1 118.0,292.4 117.5,292.8 116.9,293.2 116.4,293.7 115.9,294.1 115.4,294.5 114.8,295.0 114.5,295.2 114.3,292.1 Z M123.7,291.3 123.9,288.7 124.2,289.0 124.7,289.5 125.2,290.0 125.7,290.5 126.2,291.0 126.7,291.3 126.9,291.3 127.2,291.3 127.7,291.3 128.2,291.3 L128.2,292.1 127.7,292.1 127.2,292.1 126.9,292.1 126.7,292.1 126.2,292.4 125.7,292.9 125.2,293.4 124.7,293.9 124.2,294.4 123.9,294.7 123.7,292.1 Z M161.0,291.3 161.3,288.7 161.5,288.9 162.1,289.7 162.6,290.3 163.1,290.9 163.7,291.3 163.8,291.3 164.2,291.3 164.7,290.2 165.2,289.7 165.8,289.5 166.0,289.5 166.3,289.5 166.8,289.7 167.4,290.3 167.8,291.3 167.9,291.3 L167.9,292.1 167.8,292.1 167.4,293.1 166.8,293.7 166.3,293.9 166.0,293.9 165.8,293.9 165.2,293.7 164.7,293.2 164.2,292.1 163.8,292.1 163.7,292.1 163.1,292.5 162.6,293.1 162.1,293.7 161.5,294.5 161.3,294.7 161.0,292.1 Z M170.3,291.3 170.6,288.7 170.8,288.9 171.4,289.7 171.9,290.3 172.4,290.9 173.0,291.3 173.1,291.3 173.5,291.3 174.0,290.2 174.5,289.7 175.1,289.5 175.3,289.5 175.6,289.5 176.1,289.7 176.7,290.3 177.1,291.3 177.2,291.3 L177.2,292.1 177.1,292.1 176.7,293.1 176.1,293.7 175.6,293.9 175.3,293.9 175.1,293.9 174.5,293.7 174.0,293.2 173.5,292.1 173.1,292.1 173.0,292.1 172.4,292.5 171.9,293.1 171.4,293.7 170.8,294.5 170.6,294.7 170.3,292.1 Z M179.6,291.3 179.9,288.7 180.1,288.9 180.7,289.7 181.2,290.3 181.7,290.9 182.3,291.3 182.4,291.3 182.8,291.3 183.3,290.2 183.8,289.7 184.4,289.5 184.6,289.5 184.9,289.5 185.4,289.7 186.0,290.3 186.4,291.3 186.5,291.3 L186.5,292.1 186.4,292.1 186.0,293.1 185.4,293.7 184.9,293.9 184.6,293.9 184.4,293.9 183.8,293.7 183.3,293.2 182.8,292.1 182.4,292.1 182.3,292.1 181.7,292.5 181.2,293.1 180.7,293.7 180.1,294.5 179.9,294.7 179.6,292.1 Z" fill="#2a7cc8" stroke="#000" stroke-width="0.85" stroke-linejoin="round"/>
<path d="M77.0,302.4 77.5,299.3 78.0,299.3 78.5,299.5 79.0,299.8 79.5,300.2 80.0,300.9 80.5,302.4 L80.5,303.1 80.0,304.7 79.5,305.4 79.0,305.8 78.5,306.1 78.0,306.3 77.5,306.3 77.0,303.1 Z M86.3,302.4 86.5,300.3 86.8,300.6 87.3,301.0 87.9,301.6 88.4,302.1 88.9,302.4 89.2,302.4 89.4,302.4 90.0,302.4 90.5,302.4 91.0,302.4 L91.0,303.1 90.5,303.1 90.0,303.1 89.4,303.1 89.2,303.1 88.9,303.1 88.4,303.5 87.9,304.0 87.3,304.6 86.8,305.0 86.5,305.3 86.3,303.1 Z M95.7,302.4 95.9,299.3 96.2,299.5 96.8,299.9 97.3,300.2 97.8,300.6 98.3,300.9 98.9,301.3 99.4,301.7 99.9,302.0 100.5,302.4 101.0,302.4 101.1,302.4 101.5,302.4 102.0,302.4 102.6,302.4 103.1,302.4 L103.1,303.1 102.6,303.1 102.0,303.1 101.5,303.1 101.1,303.1 101.0,303.1 100.5,303.2 99.9,303.6 99.4,303.9 98.9,304.3 98.3,304.7 97.8,305.0 97.3,305.4 96.8,305.7 96.2,306.1 95.9,306.3 95.7,303.1 Z M105.0,302.4 105.2,299.6 105.5,299.8 106.0,300.2 106.5,300.5 107.0,300.9 107.5,301.2 108.0,301.6 108.5,301.9 109.0,302.3 109.5,302.4 109.7,302.4 110.0,302.4 110.5,302.4 111.0,302.4 111.5,302.4 112.0,302.4 112.5,302.4 113.0,302.4 L113.0,303.1 112.5,303.1 112.0,303.1 111.5,303.1 111.0,303.1 110.5,303.1 110.0,303.1 109.7,303.1 109.5,303.1 109.0,303.3 108.5,303.7 108.0,304.0 107.5,304.4 107.0,304.7 106.5,305.1 106.0,305.4 105.5,305.8 105.2,306.0 105.0,303.1 Z M114.3,302.4 114.8,300.0 115.4,299.3 115.5,299.3 115.9,299.3 116.4,299.4 117.0,299.6 117.5,299.9 118.0,300.3 118.6,301.0 119.1,302.4 L119.1,303.1 118.6,304.6 118.0,305.3 117.5,305.7 117.0,306.0 116.4,306.2 115.9,306.3 115.5,306.3 115.4,306.3 114.8,305.6 114.3,303.1 Z M123.7,302.4 124.2,301.5 124.7,301.3 125.2,301.4 125.7,301.7 126.0,302.1 126.2,301.4 126.7,300.4 127.2,299.8 127.7,299.5 128.2,299.3 128.5,299.3 128.7,299.3 129.2,299.4 129.7,299.7 130.2,300.1 130.7,300.8 131.2,302.4 L131.2,303.1 130.7,304.8 130.2,305.5 129.7,305.9 129.2,306.2 128.7,306.3 128.5,306.3 128.2,306.3 127.7,306.1 127.2,305.8 126.7,305.2 126.2,304.2 126.0,303.5 125.7,303.9 125.2,304.2 124.7,304.3 124.2,304.1 123.7,303.1 Z M189.0,302.4 189.5,302.4 190.1,302.4 190.6,302.4 191.1,302.4 191.5,302.4 191.6,302.4 192.2,302.0 192.7,301.4 193.2,300.8 193.8,300.0 194.0,299.8 194.3,301.6 194.5,302.4 194.8,302.4 195.3,302.4 195.9,302.4 196.4,302.4 L196.4,303.1 195.9,303.1 195.3,303.1 194.8,303.1 194.5,303.1 194.3,304.0 194.0,305.8 193.8,305.6 193.2,304.8 192.7,304.2 192.2,303.6 191.6,303.1 191.5,303.1 191.1,303.1 190.6,303.1 190.1,303.1 189.5,303.1 189.0,303.1 Z M198.3,302.4 198.8,301.5 199.3,301.3 199.4,301.3 199.9,301.6 200.0,301.7 200.3,301.2 200.4,300.9 201.0,300.0 201.5,299.6 202.0,299.4 202.5,299.3 202.6,299.3 203.1,299.4 203.6,299.6 204.1,299.9 204.7,300.7 205.2,302.4 L205.2,303.1 204.7,304.9 204.1,305.7 203.6,306.0 203.1,306.2 202.6,306.3 202.5,306.3 202.0,306.2 201.5,306.0 201.0,305.6 200.4,304.7 200.3,304.4 200.0,303.9 199.9,304.0 199.4,304.3 199.3,304.3 198.8,304.1 198.3,303.1 Z M226.3,302.4 226.8,302.4 227.3,301.8 227.8,302.2 228.3,302.4 228.5,302.4 228.8,302.4 229.3,302.4 229.8,302.4 230.3,302.4 L230.3,303.1 229.8,303.1 229.3,303.1 228.8,303.1 228.5,303.1 228.3,303.1 227.8,303.4 227.3,303.8 226.8,303.1 226.3,303.1 Z M244.9,302.4 245.1,301.3 245.4,301.6 246.0,302.2 246.5,302.4 246.6,302.4 247.0,301.5 247.6,301.0 247.9,301.0 248.1,301.0 248.7,301.4 249.2,302.4 L249.2,303.1 248.7,304.2 248.1,304.6 247.9,304.6 247.6,304.6 247.0,304.1 246.6,303.1 246.5,303.1 246.0,303.4 245.4,304.0 245.1,304.3 244.9,303.1 Z" fill="#a08a30" stroke="#000" stroke-width="0.85" stroke-linejoin="round"/>
<path d="M77.0,313.5 77.5,313.2 78.0,312.6 78.5,311.9 79.0,311.2 79.5,310.6 80.0,309.9 80.5,310.5 81.0,311.0 81.5,311.6 82.0,312.2 82.5,312.8 83.0,313.3 83.5,313.5 L83.5,314.2 83.0,314.5 82.5,315.0 82.0,315.6 81.5,316.2 81.0,316.8 80.5,317.3 80.0,317.9 79.5,317.2 79.0,316.6 78.5,315.9 78.0,315.2 77.5,314.6 77.0,314.2 Z M95.7,313.5 95.9,310.4 96.2,310.6 96.8,311.1 97.3,311.6 97.8,312.0 98.4,312.5 98.9,312.9 99.4,313.3 100.0,313.5 100.1,313.5 100.5,313.5 101.0,313.5 101.6,313.5 102.1,313.5 L102.1,314.2 101.6,314.2 101.0,314.2 100.5,314.2 100.1,314.2 100.0,314.2 99.4,314.5 98.9,314.9 98.4,315.3 97.8,315.8 97.3,316.2 96.8,316.6 96.2,317.1 95.9,317.4 95.7,314.2 Z M114.3,313.5 114.5,310.4 114.8,310.7 115.3,311.1 115.9,311.6 116.4,312.0 116.9,312.4 117.4,312.9 118.0,313.4 118.5,313.5 118.6,313.5 119.0,313.5 119.5,313.5 120.1,313.5 120.6,313.5 121.1,313.5 L121.1,314.2 120.6,314.2 120.1,314.2 119.5,314.2 119.0,314.2 118.6,314.2 118.5,314.2 118.0,314.4 117.4,314.9 116.9,315.4 116.4,315.8 115.9,316.2 115.3,316.7 114.8,317.1 114.5,317.4 114.3,314.2 Z M123.7,313.5 123.9,311.4 124.2,311.6 124.7,312.1 125.2,312.5 125.7,312.9 126.2,313.3 126.7,313.5 126.9,313.5 127.2,313.5 127.7,313.5 128.2,313.5 128.7,313.5 129.2,313.5 129.7,313.5 L129.7,314.2 129.2,314.2 128.7,314.2 128.2,314.2 127.7,314.2 127.2,314.2 126.9,314.2 126.7,314.2 126.2,314.5 125.7,314.9 125.2,315.3 124.7,315.7 124.2,316.1 123.9,316.4 123.7,314.2 Z M207.6,313.5 208.1,311.6 208.6,310.9 209.1,310.5 209.6,310.4 209.7,310.4 210.2,310.6 210.7,311.1 211.2,312.3 211.4,313.5 211.6,313.5 211.7,312.9 212.2,311.7 212.7,311.1 213.2,310.9 213.4,310.9 213.8,311.0 214.3,311.3 214.8,311.9 215.3,313.5 L215.3,314.2 214.8,315.9 214.3,316.5 213.8,316.8 213.4,316.9 213.2,316.9 212.7,316.7 212.2,316.1 211.7,314.9 211.6,314.2 211.4,314.2 211.2,315.5 210.7,316.7 210.2,317.2 209.7,317.4 209.6,317.4 209.1,317.3 208.6,316.9 208.1,316.2 207.6,314.2 Z M216.9,313.5 217.4,310.9 217.9,311.5 218.4,312.1 218.9,312.7 219.4,313.3 219.9,313.5 220.4,313.5 220.6,313.5 220.9,312.5 221.4,311.8 221.9,311.5 222.4,311.4 222.9,311.5 223.4,311.8 223.9,312.5 224.2,313.5 224.4,313.5 L224.4,314.2 224.2,314.2 223.9,315.3 223.4,316.0 222.9,316.3 222.4,316.4 221.9,316.3 221.4,316.0 220.9,315.3 220.6,314.2 220.4,314.2 219.9,314.2 219.4,314.5 218.9,315.1 218.4,315.7 217.9,316.3 217.4,316.9 216.9,314.2 Z" fill="#4c4a8c" stroke="#000" stroke-width="0.85" stroke-linejoin="round"/>
<path d="M77.0,324.6 77.5,324.6 78.0,324.6 78.5,324.3 79.0,323.6 79.5,322.9 80.0,322.2 80.5,321.5 81.0,322.1 81.5,322.7 82.0,323.2 82.5,323.8 83.0,324.4 83.5,324.6 L83.5,325.4 83.0,325.6 82.5,326.2 82.0,326.8 81.5,327.3 81.0,327.9 80.5,328.5 80.0,327.8 79.5,327.1 79.0,326.4 78.5,325.7 78.0,325.4 77.5,325.4 77.0,325.4 Z M86.3,324.6 86.5,322.3 86.8,322.6 87.3,323.2 87.8,323.7 88.3,324.2 88.8,324.6 89.0,324.6 89.3,324.6 L89.3,325.4 89.0,325.4 88.8,325.4 88.3,325.8 87.8,326.3 87.3,326.8 86.8,327.4 86.5,327.7 86.3,325.4 Z M95.7,324.6 95.9,321.5 96.2,321.8 96.7,322.2 97.2,322.6 97.7,323.0 98.3,323.5 98.8,323.9 99.3,324.3 99.8,324.6 100.1,324.6 100.3,324.6 L100.3,325.4 100.1,325.4 99.8,325.4 99.3,325.7 98.8,326.1 98.3,326.5 97.7,327.0 97.2,327.4 96.7,327.8 96.2,328.2 95.9,328.5 95.7,325.4 Z M114.3,324.6 114.5,321.7 114.8,322.0 115.3,322.4 115.8,322.9 116.3,323.4 116.8,323.8 117.3,324.3 117.8,324.6 118.1,324.6 118.3,324.6 L118.3,325.4 118.1,325.4 117.8,325.4 117.3,325.7 116.8,326.2 116.3,326.6 115.8,327.1 115.3,327.6 114.8,328.0 114.5,328.3 114.3,325.4 Z M123.7,324.6 123.9,322.2 124.2,322.5 124.7,323.0 125.2,323.5 125.7,324.0 126.2,324.5 126.7,324.6 127.2,324.6 127.7,324.6 128.2,324.6 128.7,324.6 L128.7,325.4 128.2,325.4 127.7,325.4 127.2,325.4 126.7,325.4 126.2,325.5 125.7,326.0 125.2,326.5 124.7,327.0 124.2,327.5 123.9,327.8 123.7,325.4 Z M151.6,324.6 152.1,322.0 152.6,322.4 153.1,322.9 153.6,323.3 154.1,323.7 154.6,324.1 155.1,324.6 155.6,324.6 156.1,324.5 156.6,324.0 157.1,323.5 157.6,323.0 158.1,322.5 158.6,322.0 159.1,324.6 L159.1,325.4 158.6,328.0 158.1,327.5 157.6,327.0 157.1,326.5 156.6,326.0 156.1,325.5 155.6,325.4 155.1,325.4 154.6,325.9 154.1,326.3 153.6,326.7 153.1,327.1 152.6,327.6 152.1,328.0 151.6,325.4 Z M189.0,324.0 189.5,324.3 190.0,324.6 190.5,324.6 191.0,324.6 L191.0,325.4 190.5,325.4 190.0,325.4 189.5,325.7 189.0,326.0 Z M226.3,324.6 226.8,324.6 227.3,324.6 227.8,324.6 228.3,324.6 228.8,324.6 229.3,324.6 229.8,324.1 230.3,323.7 230.8,323.3 231.3,322.9 231.8,322.4 232.3,322.0 232.8,323.9 233.1,324.6 233.3,324.6 L233.3,325.4 233.1,325.4 232.8,326.1 232.3,328.0 231.8,327.6 231.3,327.1 230.8,326.7 230.3,326.3 229.8,325.9 229.3,325.4 228.8,325.4 228.3,325.4 227.8,325.4 227.3,325.4 226.8,325.4 226.3,325.4 Z M235.6,324.6 236.1,322.0 236.6,322.5 237.2,323.1 237.7,323.6 238.2,324.1 238.7,324.6 239.1,324.6 239.3,324.6 239.8,324.2 240.3,323.6 240.8,323.0 241.4,322.2 241.6,322.0 241.9,323.1 242.4,324.6 L242.4,325.4 241.9,326.9 241.6,328.0 241.4,327.8 240.8,327.0 240.3,326.4 239.8,325.8 239.3,325.4 239.1,325.4 238.7,325.4 238.2,325.9 237.7,326.4 237.2,326.9 236.6,327.5 236.1,328.0 235.6,325.4 Z M254.3,324.6 254.8,324.6 255.3,324.6 255.8,324.6 256.3,323.5 256.8,324.0 257.3,324.5 257.8,324.6 258.3,324.6 L258.3,325.4 257.8,325.4 257.3,325.5 256.8,326.0 256.3,326.5 255.8,325.4 255.3,325.4 254.8,325.4 254.3,325.4 Z" fill="#22b04e" stroke="#000" stroke-width="0.85" stroke-linejoin="round"/>
<path d="M77.0,335.7 77.5,335.4 78.0,334.7 78.5,334.0 79.0,333.3 79.5,332.6 80.0,333.1 80.5,333.6 81.0,334.1 81.5,334.6 82.0,335.1 82.5,335.6 83.0,335.7 L83.0,336.4 82.5,336.6 82.0,337.1 81.5,337.6 81.0,338.1 80.5,338.6 80.0,339.1 79.5,339.6 79.0,338.9 78.5,338.2 78.0,337.5 77.5,336.8 77.0,336.4 Z M86.3,335.7 86.5,333.6 86.8,333.8 87.3,334.3 87.8,334.7 88.3,335.1 88.8,335.5 89.3,335.7 89.5,335.7 89.8,335.7 90.3,335.7 90.8,335.7 91.3,335.7 L91.3,336.4 90.8,336.4 90.3,336.4 89.8,336.4 89.5,336.4 89.3,336.4 88.8,336.7 88.3,337.1 87.8,337.5 87.3,337.9 86.8,338.3 86.5,338.6 86.3,336.4 Z M95.7,335.7 95.9,333.1 96.2,333.3 96.7,333.7 97.2,334.1 97.7,334.5 98.2,334.9 98.7,335.3 99.2,335.7 99.7,335.7 L99.7,336.4 99.2,336.5 98.7,336.9 98.2,337.3 97.7,337.7 97.2,338.1 96.7,338.5 96.2,338.9 95.9,339.1 95.7,336.4 Z M114.3,335.7 114.8,333.2 115.3,332.8 115.4,332.8 115.9,332.9 116.5,333.1 117.0,333.5 117.6,334.2 118.1,335.7 L118.1,336.4 117.6,338.0 117.0,338.7 116.5,339.1 115.9,339.3 115.4,339.4 115.3,339.4 114.8,339.0 114.3,336.4 Z M123.7,335.7 123.9,333.1 124.2,333.4 124.7,333.8 125.2,334.3 125.7,334.7 126.2,335.2 126.7,335.6 127.2,335.7 L127.2,336.4 126.7,336.6 126.2,337.0 125.7,337.5 125.2,337.9 124.7,338.4 124.2,338.8 123.9,339.1 123.7,336.4 Z M142.3,335.7 142.8,335.7 143.3,335.7 143.8,335.7 144.3,335.7 144.8,335.7 145.3,335.7 145.8,335.7 146.3,334.6 146.8,334.9 147.3,335.2 147.8,335.5 148.3,335.7 148.8,335.7 149.3,335.7 L149.3,336.4 148.8,336.4 148.3,336.4 147.8,336.7 147.3,337.0 146.8,337.3 146.3,337.6 145.8,336.4 145.3,336.4 144.8,336.4 144.3,336.4 143.8,336.4 143.3,336.4 142.8,336.4 142.3,336.4 Z M244.9,335.7 245.4,333.8 245.9,333.5 246.0,333.5 246.5,334.0 246.9,335.7 247.0,335.7 247.5,335.2 248.1,334.2 248.6,333.5 249.1,332.7 249.7,333.3 250.2,333.9 250.7,334.4 251.2,334.9 251.8,335.6 252.3,335.7 L252.3,336.4 251.8,336.6 251.2,337.3 250.7,337.8 250.2,338.3 249.7,338.9 249.1,339.5 248.6,338.7 248.1,338.0 247.5,337.0 247.0,336.4 246.9,336.4 246.5,338.2 246.0,338.7 245.9,338.7 245.4,338.4 244.9,336.4 Z M254.3,335.7 254.8,333.8 255.3,333.5 255.4,333.5 255.9,334.0 256.3,335.7 256.4,335.7 256.6,335.7 256.9,335.6 257.5,334.7 258.0,333.9 258.5,333.2 258.8,332.7 259.0,332.9 259.6,333.5 260.1,334.0 260.6,334.5 261.1,335.0 261.7,335.6 262.2,335.7 L262.2,336.4 261.7,336.6 261.1,337.2 260.6,337.7 260.1,338.2 259.6,338.7 259.0,339.3 258.8,339.5 258.5,339.0 258.0,338.3 257.5,337.5 256.9,336.6 256.6,336.4 256.4,336.4 256.3,336.4 255.9,338.2 255.4,338.7 255.3,338.7 254.8,338.4 254.3,336.4 Z" fill="#b4d2f4" stroke="#000" stroke-width="0.85" stroke-linejoin="round"/>
<path d="M77.0,346.8 77.5,346.4 78.0,345.6 78.5,344.8 79.0,344.0 79.5,343.2 80.0,343.6 80.5,344.1 81.0,344.5 81.5,345.0 82.0,345.4 82.5,345.9 83.0,346.3 83.5,346.8 84.0,346.8 L84.0,347.6 83.5,347.6 83.0,348.1 82.5,348.5 82.0,349.0 81.5,349.4 81.0,349.9 80.5,350.3 80.0,350.8 79.5,351.2 79.0,350.4 78.5,349.6 78.0,348.8 77.5,348.0 77.0,347.6 Z M86.3,346.8 86.5,344.5 86.8,344.8 87.3,345.3 87.8,345.8 88.3,346.2 88.8,346.7 89.3,346.8 L89.3,347.6 88.8,347.7 88.3,348.2 87.8,348.6 87.3,349.1 86.8,349.6 86.5,349.9 86.3,347.6 Z M95.7,346.8 95.9,344.2 96.2,344.5 96.8,345.0 97.3,345.4 97.9,345.9 98.4,346.3 99.0,346.8 99.4,346.8 99.5,346.8 L99.5,347.6 99.4,347.6 99.0,347.6 98.4,348.1 97.9,348.5 97.3,349.0 96.8,349.4 96.2,349.9 95.9,350.2 95.7,347.6 Z M114.3,346.8 114.8,344.2 115.3,343.7 115.8,343.7 116.3,343.9 116.8,344.2 117.3,344.6 117.8,345.3 118.3,346.8 L118.3,347.6 117.8,349.1 117.3,349.8 116.8,350.2 116.3,350.5 115.8,350.7 115.3,350.7 114.8,350.2 114.3,347.6 Z M123.7,346.8 123.9,344.2 124.2,344.5 124.7,344.9 125.2,345.4 125.7,345.9 126.2,346.4 126.7,346.8 127.1,346.8 127.2,346.8 L127.2,347.6 127.1,347.6 126.7,347.6 126.2,348.0 125.7,348.5 125.2,349.0 124.7,349.4 124.2,349.9 123.9,350.2 123.7,347.6 Z M161.0,346.8 161.5,346.8 162.0,346.2 162.5,346.7 163.0,346.8 163.5,346.8 164.0,346.8 L164.0,347.6 163.5,347.6 163.0,347.6 162.5,347.7 162.0,348.2 161.5,347.6 161.0,347.6 Z M263.6,346.8 264.1,343.7 264.7,344.4 265.2,345.0 265.7,345.6 266.2,346.1 266.8,346.8 267.1,346.8 267.3,345.8 267.8,344.8 268.3,344.2 268.8,343.9 269.4,343.7 269.6,343.7 269.9,343.7 270.4,343.9 271.0,344.4 271.5,345.1 272.0,346.8 L272.0,347.6 271.5,349.3 271.0,350.0 270.4,350.5 269.9,350.7 269.6,350.7 269.4,350.7 268.8,350.5 268.3,350.2 267.8,349.6 267.3,348.6 267.1,347.6 266.8,347.6 266.2,348.2 265.7,348.8 265.2,349.4 264.7,350.0 264.1,350.7 263.6,347.6 Z M272.9,346.8 273.4,344.2 273.9,344.7 274.4,345.2 274.9,345.7 275.4,346.2 275.9,346.7 276.4,346.5 276.9,345.8 277.5,345.0 278.0,344.3 278.4,343.7 278.5,343.8 279.0,344.5 279.5,345.2 280.0,345.9 280.5,346.5 281.0,346.8 L281.0,347.6 280.5,347.9 280.0,348.5 279.5,349.2 279.0,349.9 278.5,350.6 278.4,350.7 278.0,350.1 277.5,349.4 276.9,348.6 276.4,347.9 275.9,347.7 275.4,348.2 274.9,348.7 274.4,349.2 273.9,349.7 273.4,350.2 272.9,347.6 Z" fill="#d4ac74" stroke="#000" stroke-width="0.85" stroke-linejoin="round"/>
<path d="M77.00 231.90V240.50M86.33 232.90V239.50M95.66 234.70V237.70M104.99 232.20V240.20M114.32 232.90V239.50M123.65 234.70V237.70M132.98 232.40V240.00M142.31 232.40V240.00M151.64 232.40V240.00M160.97 232.40V240.00M170.30 232.40V240.00M179.63 232.40V240.00M188.96 232.40V240.00M198.29 232.40V240.00M207.62 232.40V240.00M216.95 232.40V240.00M226.28 232.40V240.00M235.61 232.40V240.00M244.94 232.40V240.00M254.27 232.40V240.00M263.60 232.40V240.00M272.93 232.40V240.00M77.00 243.00V251.60M86.33 246.30V248.30M95.66 244.00V250.60M104.99 243.80V250.80M114.32 246.30V248.30M123.65 246.30V248.30M132.98 243.80V250.80M142.31 243.50V251.10M151.64 243.50V251.10M160.97 243.50V251.10M170.30 243.50V251.10M179.63 243.50V251.10M188.96 243.50V251.10M198.29 243.50V251.10M207.62 243.50V251.10M216.95 243.50V251.10M226.28 243.50V251.10M235.61 243.50V251.10M244.94 243.50V251.10M254.27 243.50V251.10M263.60 243.50V251.10M272.93 243.50V251.10M77.00 254.10V262.70M86.33 255.90V260.90M95.66 255.40V261.40M104.99 254.60V262.20M114.32 255.60V261.20M123.65 256.40V260.40M132.98 254.60V262.20M142.31 254.60V262.20M151.64 254.60V262.20M160.97 254.60V262.20M170.30 254.60V262.20M179.63 254.60V262.20M188.96 254.60V262.20M198.29 254.60V262.20M207.62 254.60V262.20M216.95 254.60V262.20M226.28 254.60V262.20M235.61 254.60V262.20M244.94 254.60V262.20M254.27 254.60V262.20M263.60 254.60V262.20M272.93 254.60V262.20M77.00 265.00V274.00M86.33 266.00V273.00M104.99 266.00V273.00M123.65 266.00V273.00M132.98 268.70V270.30M142.31 268.70V270.30M151.64 266.00V273.00M160.97 265.50V273.50M170.30 265.50V273.50M179.63 265.50V273.50M188.96 265.50V273.50M198.29 265.50V273.50M207.62 265.50V273.50M216.95 265.50V273.50M226.28 266.00V273.00M235.61 265.70V273.30M244.94 265.70V273.30M254.27 265.50V273.50M263.60 266.00V273.00M272.93 265.70V273.30M77.00 276.30V284.90M86.33 277.60V283.60M95.66 277.30V283.90M104.99 277.10V284.10M114.32 277.60V283.60M123.65 277.10V284.10M132.98 276.80V284.40M142.31 276.80V284.40M151.64 278.60V282.60M160.97 279.10V282.10M170.30 276.80V284.40M179.63 276.80V284.40M188.96 276.80V284.40M198.29 276.80V284.40M207.62 276.80V284.40M216.95 276.80V284.40M226.28 276.60V284.60M235.61 276.80V284.40M244.94 276.80V284.40M254.27 276.80V284.40M263.60 276.80V284.40M272.93 276.80V284.40M77.00 287.40V296.00M86.33 288.20V295.20M95.66 288.70V294.70M104.99 288.20V295.20M114.32 288.20V295.20M123.65 288.70V294.70M132.98 287.90V295.50M142.31 287.90V295.50M151.64 287.90V295.50M160.97 288.70V294.70M170.30 288.70V294.70M179.63 288.70V294.70M188.96 287.70V295.70M198.29 287.90V295.50M207.62 287.90V295.50M216.95 287.90V295.50M226.28 287.90V295.50M235.61 287.90V295.50M244.94 287.90V295.50M254.27 287.90V295.50M263.60 287.90V295.50M272.93 287.90V295.50M77.00 298.50V307.10M86.33 299.80V305.80M95.66 299.30V306.30M104.99 299.30V306.30M114.32 299.30V306.30M123.65 301.30V304.30M132.98 299.00V306.60M142.31 299.00V306.60M151.64 299.00V306.60M160.97 299.00V306.60M170.30 299.00V306.60M179.63 299.00V306.60M188.96 301.80V303.80M198.29 301.30V304.30M207.62 299.00V306.60M216.95 299.00V306.60M226.28 299.30V306.30M235.61 299.00V306.60M244.94 299.80V305.80M254.27 299.00V306.60M263.60 299.00V306.60M272.93 299.00V306.60M77.00 309.60V318.20M86.33 310.40V317.40M95.66 310.40V317.40M104.99 310.40V317.40M114.32 310.40V317.40M123.65 310.90V316.90M132.98 309.90V317.90M142.31 310.10V317.70M151.64 310.10V317.70M160.97 310.10V317.70M170.30 309.90V317.90M179.63 310.10V317.70M188.96 310.10V317.70M198.29 310.10V317.70M207.62 311.90V315.90M216.95 310.90V316.90M226.28 310.10V317.70M235.61 310.10V317.70M244.94 310.10V317.70M254.27 310.10V317.70M263.60 310.10V317.70M272.93 310.10V317.70M77.00 320.70V329.30M86.33 322.30V327.70M95.66 321.50V328.50M104.99 321.50V328.50M114.32 321.70V328.30M123.65 322.20V327.80M132.98 321.00V329.00M142.31 321.20V328.80M151.64 322.00V328.00M160.97 321.20V328.80M170.30 321.00V329.00M179.63 321.20V328.80M188.96 321.50V328.50M198.29 321.20V328.80M207.62 321.20V328.80M216.95 321.20V328.80M226.28 324.00V326.00M235.61 322.00V328.00M244.94 321.20V328.80M254.27 321.50V328.50M263.60 321.20V328.80M272.93 321.20V328.80M77.00 331.80V340.40M86.33 333.10V339.10M95.66 333.10V339.10M104.99 332.60V339.60M114.32 332.80V339.40M123.65 333.10V339.10M132.98 332.30V339.90M142.31 332.60V339.60M151.64 332.30V339.90M160.97 332.30V339.90M170.30 332.30V339.90M179.63 332.30V339.90M188.96 332.30V339.90M198.29 332.30V339.90M207.62 332.30V339.90M216.95 332.30V339.90M226.28 332.30V339.90M235.61 332.30V339.90M244.94 333.30V338.90M254.27 333.30V338.90M263.60 332.30V339.90M272.93 332.30V339.90M77.00 342.90V351.50M86.33 344.50V349.90M95.66 344.20V350.20M104.99 343.70V350.70M114.32 343.70V350.70M123.65 344.20V350.20M132.98 343.40V351.00M142.31 343.40V351.00M151.64 343.40V351.00M160.97 343.70V350.70M170.30 343.40V351.00M179.63 343.40V351.00M188.96 343.40V351.00M198.29 343.40V351.00M207.62 343.40V351.00M216.95 343.40V351.00M226.28 343.40V351.00M235.61 343.40V351.00M244.94 343.40V351.00M254.27 343.40V351.00M263.60 343.70V350.70M272.93 344.20V350.20" stroke="#000" stroke-width="1.1" fill="none"/>
<path d="M76.50 352.3H84.20M77.00 352.3V355.4M78.60 352.3V355.4M80.20 352.3V355.4M81.80 352.3V355.4M83.40 352.3V355.4M85.83 352.3H93.53M86.33 352.3V355.4M87.93 352.3V355.4M89.53 352.3V355.4M91.13 352.3V355.4M92.73 352.3V355.4M95.16 352.3H102.86M95.66 352.3V355.4M97.26 352.3V355.4M98.86 352.3V355.4M100.46 352.3V355.4M102.06 352.3V355.4M104.49 352.3H112.19M104.99 352.3V355.4M106.59 352.3V355.4M108.19 352.3V355.4M109.79 352.3V355.4M111.39 352.3V355.4M113.82 352.3H121.52M114.32 352.3V355.4M115.92 352.3V355.4M117.52 352.3V355.4M119.12 352.3V355.4M120.72 352.3V355.4M123.15 352.3H130.85M123.65 352.3V355.4M125.25 352.3V355.4M126.85 352.3V355.4M128.45 352.3V355.4M130.05 352.3V355.4M132.48 352.3H140.18M132.98 352.3V355.4M134.58 352.3V355.4M136.18 352.3V355.4M137.78 352.3V355.4M139.38 352.3V355.4M141.81 352.3H149.51M142.31 352.3V355.4M143.91 352.3V355.4M145.51 352.3V355.4M147.11 352.3V355.4M148.71 352.3V355.4M151.14 352.3H158.84M151.64 352.3V355.4M153.24 352.3V355.4M154.84 352.3V355.4M156.44 352.3V355.4M158.04 352.3V355.4M160.47 352.3H168.17M160.97 352.3V355.4M162.57 352.3V355.4M164.17 352.3V355.4M165.77 352.3V355.4M167.37 352.3V355.4M169.80 352.3H177.50M170.30 352.3V355.4M171.90 352.3V355.4M173.50 352.3V355.4M175.10 352.3V355.4M176.70 352.3V355.4M179.13 352.3H186.83M179.63 352.3V355.4M181.23 352.3V355.4M182.83 352.3V355.4M184.43 352.3V355.4M186.03 352.3V355.4M188.46 352.3H196.16M188.96 352.3V355.4M190.56 352.3V355.4M192.16 352.3V355.4M193.76 352.3V355.4M195.36 352.3V355.4M197.79 352.3H205.49M198.29 352.3V355.4M199.89 352.3V355.4M201.49 352.3V355.4M203.09 352.3V355.4M204.69 352.3V355.4M207.12 352.3H214.82M207.62 352.3V355.4M209.22 352.3V355.4M210.82 352.3V355.4M212.42 352.3V355.4M214.02 352.3V355.4M216.45 352.3H224.15M216.95 352.3V355.4M218.55 352.3V355.4M220.15 352.3V355.4M221.75 352.3V355.4M223.35 352.3V355.4M225.78 352.3H233.48M226.28 352.3V355.4M227.88 352.3V355.4M229.48 352.3V355.4M231.08 352.3V355.4M232.68 352.3V355.4M235.11 352.3H242.81M235.61 352.3V355.4M237.21 352.3V355.4M238.81 352.3V355.4M240.41 352.3V355.4M242.01 352.3V355.4M244.44 352.3H252.14M244.94 352.3V355.4M246.54 352.3V355.4M248.14 352.3V355.4M249.74 352.3V355.4M251.34 352.3V355.4M253.77 352.3H261.47M254.27 352.3V355.4M255.87 352.3V355.4M257.47 352.3V355.4M259.07 352.3V355.4M260.67 352.3V355.4M263.10 352.3H270.80M263.60 352.3V355.4M265.20 352.3V355.4M266.80 352.3V355.4M268.40 352.3V355.4M270.00 352.3V355.4M272.43 352.3H280.13M272.93 352.3V355.4M274.53 352.3V355.4M276.13 352.3V355.4M277.73 352.3V355.4M279.33 352.3V355.4" stroke="#111" stroke-width="0.75" fill="none"/>
<text x="77.4" y="363.2" font-size="6.6" fill="#333" text-anchor="middle">0</text>
<text x="83.5" y="363.2" font-size="6.6" fill="#333" text-anchor="middle">6</text>
<text x="86.73" y="363.2" font-size="6.6" fill="#333" text-anchor="middle">0</text>
<text x="92.83" y="363.2" font-size="6.6" fill="#333" text-anchor="middle">6</text>
<text x="96.06" y="363.2" font-size="6.6" fill="#333" text-anchor="middle">0</text>
<text x="102.16" y="363.2" font-size="6.6" fill="#333" text-anchor="middle">6</text>
<text x="105.39000000000001" y="363.2" font-size="6.6" fill="#333" text-anchor="middle">0</text>
<text x="111.49000000000001" y="363.2" font-size="6.6" fill="#333" text-anchor="middle">6</text>
<text x="114.72" y="363.2" font-size="6.6" fill="#333" text-anchor="middle">0</text>
<text x="120.82" y="363.2" font-size="6.6" fill="#333" text-anchor="middle">6</text>
<text x="124.05000000000001" y="363.2" font-size="6.6" fill="#333" text-anchor="middle">0</text>
<text x="130.15" y="363.2" font-size="6.6" fill="#333" text-anchor="middle">6</text>
<text x="133.38000000000002" y="363.2" font-size="6.6" fill="#333" text-anchor="middle">0</text>
<text x="139.48000000000002" y="363.2" font-size="6.6" fill="#333" text-anchor="middle">5</text>
<text x="142.71" y="363.2" font-size="6.6" fill="#333" text-anchor="middle">0</text>
<text x="148.81" y="363.2" font-size="6.6" fill="#333" text-anchor="middle">6</text>
<text x="152.04" y="363.2" font-size="6.6" fill="#333" text-anchor="middle">0</text>
<text x="158.14" y="363.2" font-size="6.6" fill="#333" text-anchor="middle">6</text>
<text x="161.37" y="363.2" font-size="6.6" fill="#333" text-anchor="middle">0</text>
<text x="167.47" y="363.2" font-size="6.6" fill="#333" text-anchor="middle">6</text>
<text x="170.70000000000002" y="363.2" font-size="6.6" fill="#333" text-anchor="middle">0</text>
<text x="176.8" y="363.2" font-size="6.6" fill="#333" text-anchor="middle">4</text>
<text x="180.03" y="363.2" font-size="6.6" fill="#333" text-anchor="middle">0</text>
<text x="186.13" y="363.2" font-size="6.6" fill="#333" text-anchor="middle">4</text>
<text x="189.36" y="363.2" font-size="6.6" fill="#333" text-anchor="middle">0</text>
<text x="195.46" y="363.2" font-size="6.6" fill="#333" text-anchor="middle">6</text>
<text x="198.69000000000003" y="363.2" font-size="6.6" fill="#333" text-anchor="middle">0</text>
<text x="204.79000000000002" y="363.2" font-size="6.6" fill="#333" text-anchor="middle">6</text>
<text x="208.02" y="363.2" font-size="6.6" fill="#333" text-anchor="middle">0</text>
<text x="214.12" y="363.2" font-size="6.6" fill="#333" text-anchor="middle">4</text>
<text x="217.35" y="363.2" font-size="6.6" fill="#333" text-anchor="middle">0</text>
<text x="223.45" y="363.2" font-size="6.6" fill="#333" text-anchor="middle">5</text>
<text x="226.68" y="363.2" font-size="6.6" fill="#333" text-anchor="middle">0</text>
<text x="232.78" y="363.2" font-size="6.6" fill="#333" text-anchor="middle">6</text>
<text x="236.01000000000002" y="363.2" font-size="6.6" fill="#333" text-anchor="middle">0</text>
<text x="242.11" y="363.2" font-size="6.6" fill="#333" text-anchor="middle">5</text>
<text x="245.34" y="363.2" font-size="6.6" fill="#333" text-anchor="middle">0</text>
<text x="251.44" y="363.2" font-size="6.6" fill="#333" text-anchor="middle">4</text>
<text x="254.67000000000002" y="363.2" font-size="6.6" fill="#333" text-anchor="middle">0</text>
<text x="260.77" y="363.2" font-size="6.6" fill="#333" text-anchor="middle">6</text>
<text x="264.0" y="363.2" font-size="6.6" fill="#333" text-anchor="middle">0</text>
<text x="270.1" y="363.2" font-size="6.6" fill="#333" text-anchor="middle">4</text>
<text x="273.33" y="363.2" font-size="6.6" fill="#333" text-anchor="middle">0</text>
<text x="279.43" y="363.2" font-size="6.6" fill="#333" text-anchor="middle">6</text>
<text x="170.6" y="376.3" font-size="8.2" fill="#222" text-anchor="middle" textLength="35" lengthAdjust="spacingAndGlyphs">Expression</text>
<path d="M352.5 202.0h1.3v1.3h-1.3zM348.6 203.5h1.3v1.3h-1.3zM356.2 207.5h1.3v1.3h-1.3zM347.1 207.6h1.3v1.3h-1.3zM354.0 208.2h1.3v1.3h-1.3zM353.5 215.6h1.3v1.3h-1.3zM351.9 205.4h1.3v1.3h-1.3zM349.6 200.5h1.3v1.3h-1.3zM345.4 210.2h1.3v1.3h-1.3zM356.3 214.1h1.3v1.3h-1.3zM348.0 214.0h1.3v1.3h-1.3zM353.0 207.4h1.3v1.3h-1.3zM347.4 206.9h1.3v1.3h-1.3zM350.1 200.2h1.3v1.3h-1.3zM345.0 212.3h1.3v1.3h-1.3zM352.7 206.4h1.3v1.3h-1.3zM349.4 207.1h1.3v1.3h-1.3zM351.4 208.2h1.3v1.3h-1.3zM347.1 215.9h1.3v1.3h-1.3zM345.5 210.8h1.3v1.3h-1.3zM345.5 214.9h1.3v1.3h-1.3zM344.5 213.1h1.3v1.3h-1.3zM347.7 215.9h1.3v1.3h-1.3zM350.5 218.4h1.3v1.3h-1.3zM347.7 210.2h1.3v1.3h-1.3zM353.0 203.0h1.3v1.3h-1.3zM348.1 201.0h1.3v1.3h-1.3zM352.5 207.1h1.3v1.3h-1.3zM351.9 205.5h1.3v1.3h-1.3zM346.7 215.5h1.3v1.3h-1.3zM351.3 215.0h1.3v1.3h-1.3zM345.8 206.6h1.3v1.3h-1.3zM346.8 214.1h1.3v1.3h-1.3zM351.5 212.2h1.3v1.3h-1.3zM349.7 212.2h1.3v1.3h-1.3zM346.1 204.2h1.3v1.3h-1.3zM350.4 210.0h1.3v1.3h-1.3zM350.4 202.5h1.3v1.3h-1.3zM352.0 214.0h1.3v1.3h-1.3zM353.4 212.2h1.3v1.3h-1.3zM348.5 211.3h1.3v1.3h-1.3zM347.2 211.3h1.3v1.3h-1.3zM355.5 214.9h1.3v1.3h-1.3zM348.0 216.0h1.3v1.3h-1.3zM344.0 214.8h1.3v1.3h-1.3zM355.1 206.8h1.3v1.3h-1.3zM349.5 206.5h1.3v1.3h-1.3zM351.1 204.0h1.3v1.3h-1.3zM355.4 202.7h1.3v1.3h-1.3zM346.2 209.2h1.3v1.3h-1.3zM345.4 209.9h1.3v1.3h-1.3zM345.6 205.3h1.3v1.3h-1.3zM351.2 200.4h1.3v1.3h-1.3zM350.5 201.7h1.3v1.3h-1.3zM344.9 211.4h1.3v1.3h-1.3zM353.1 202.4h1.3v1.3h-1.3zM346.0 208.0h1.3v1.3h-1.3zM348.8 210.2h1.3v1.3h-1.3zM348.1 210.8h1.3v1.3h-1.3zM351.6 202.5h1.3v1.3h-1.3zM346.1 207.5h1.3v1.3h-1.3zM351.7 214.0h1.3v1.3h-1.3zM348.3 213.8h1.3v1.3h-1.3zM353.8 202.9h1.3v1.3h-1.3zM356.9 209.4h1.3v1.3h-1.3zM347.1 198.7h1.3v1.3h-1.3zM347.1 209.6h1.3v1.3h-1.3zM350.0 208.5h1.3v1.3h-1.3zM348.5 209.4h1.3v1.3h-1.3zM354.5 207.7h1.3v1.3h-1.3zM348.0 207.5h1.3v1.3h-1.3zM349.5 205.1h1.3v1.3h-1.3zM353.0 209.6h1.3v1.3h-1.3zM349.2 202.9h1.3v1.3h-1.3zM347.4 211.5h1.3v1.3h-1.3zM352.2 204.2h1.3v1.3h-1.3zM351.6 205.3h1.3v1.3h-1.3zM349.3 210.2h1.3v1.3h-1.3zM351.0 204.1h1.3v1.3h-1.3zM351.4 205.5h1.3v1.3h-1.3zM345.4 216.6h1.3v1.3h-1.3zM348.7 210.1h1.3v1.3h-1.3zM353.0 212.2h1.3v1.3h-1.3zM351.3 213.0h1.3v1.3h-1.3zM351.7 208.3h1.3v1.3h-1.3zM348.6 201.3h1.3v1.3h-1.3zM346.1 206.5h1.3v1.3h-1.3zM351.2 199.4h1.3v1.3h-1.3zM350.7 219.1h1.3v1.3h-1.3zM353.6 200.5h1.3v1.3h-1.3zM354.9 212.1h1.3v1.3h-1.3zM347.5 202.9h1.3v1.3h-1.3zM353.3 205.7h1.3v1.3h-1.3zM351.9 206.7h1.3v1.3h-1.3zM351.5 204.4h1.3v1.3h-1.3zM351.2 209.4h1.3v1.3h-1.3zM350.5 218.3h1.3v1.3h-1.3zM350.6 218.3h1.3v1.3h-1.3zM348.8 200.0h1.3v1.3h-1.3zM347.7 207.3h1.3v1.3h-1.3zM345.6 215.8h1.3v1.3h-1.3zM354.8 204.6h1.3v1.3h-1.3zM355.1 206.3h1.3v1.3h-1.3zM354.5 202.1h1.3v1.3h-1.3zM353.0 207.3h1.3v1.3h-1.3zM349.6 210.1h1.3v1.3h-1.3zM350.6 203.8h1.3v1.3h-1.3zM346.8 203.0h1.3v1.3h-1.3zM351.5 201.2h1.3v1.3h-1.3zM347.2 208.0h1.3v1.3h-1.3zM348.4 201.1h1.3v1.3h-1.3zM347.9 214.3h1.3v1.3h-1.3zM346.4 206.2h1.3v1.3h-1.3zM347.0 205.7h1.3v1.3h-1.3zM354.9 206.3h1.3v1.3h-1.3zM348.7 217.4h1.3v1.3h-1.3zM347.9 209.1h1.3v1.3h-1.3zM350.5 202.6h1.3v1.3h-1.3zM351.4 198.9h1.3v1.3h-1.3zM347.6 204.5h1.3v1.3h-1.3zM349.8 215.9h1.3v1.3h-1.3zM355.1 202.0h1.3v1.3h-1.3zM355.0 206.3h1.3v1.3h-1.3zM353.9 200.3h1.3v1.3h-1.3zM348.8 211.3h1.3v1.3h-1.3zM349.5 209.7h1.3v1.3h-1.3zM344.9 214.4h1.3v1.3h-1.3zM351.9 201.7h1.3v1.3h-1.3zM345.3 212.0h1.3v1.3h-1.3zM345.4 216.0h1.3v1.3h-1.3zM348.5 205.3h1.3v1.3h-1.3zM346.4 205.0h1.3v1.3h-1.3zM347.3 207.6h1.3v1.3h-1.3zM348.3 218.9h1.3v1.3h-1.3zM345.9 206.7h1.3v1.3h-1.3zM348.0 202.6h1.3v1.3h-1.3zM348.5 200.8h1.3v1.3h-1.3zM349.1 202.5h1.3v1.3h-1.3zM352.8 206.1h1.3v1.3h-1.3zM350.2 199.0h1.3v1.3h-1.3zM346.6 212.1h1.3v1.3h-1.3zM353.9 205.0h1.3v1.3h-1.3zM344.8 205.5h1.3v1.3h-1.3zM354.1 210.0h1.3v1.3h-1.3zM350.9 204.1h1.3v1.3h-1.3zM350.4 204.9h1.3v1.3h-1.3zM354.1 210.3h1.3v1.3h-1.3zM351.3 211.3h1.3v1.3h-1.3zM355.1 215.2h1.3v1.3h-1.3zM348.9 211.0h1.3v1.3h-1.3zM399.0 240.4h1.3v1.3h-1.3zM402.7 241.8h1.3v1.3h-1.3zM404.4 237.6h1.3v1.3h-1.3zM400.6 239.5h1.3v1.3h-1.3zM395.0 244.0h1.3v1.3h-1.3zM409.7 238.9h1.3v1.3h-1.3zM396.0 238.4h1.3v1.3h-1.3zM396.3 239.4h1.3v1.3h-1.3zM403.0 238.7h1.3v1.3h-1.3zM398.6 239.3h1.3v1.3h-1.3zM404.5 239.0h1.3v1.3h-1.3zM408.0 240.3h1.3v1.3h-1.3zM409.6 237.8h1.3v1.3h-1.3zM396.1 240.4h1.3v1.3h-1.3zM408.7 238.8h1.3v1.3h-1.3zM402.8 239.0h1.3v1.3h-1.3zM399.9 240.3h1.3v1.3h-1.3zM398.0 237.7h1.3v1.3h-1.3zM407.9 236.7h1.3v1.3h-1.3zM395.0 242.9h1.3v1.3h-1.3zM401.3 240.7h1.3v1.3h-1.3zM406.4 243.9h1.3v1.3h-1.3zM405.6 245.7h1.3v1.3h-1.3zM399.4 238.1h1.3v1.3h-1.3zM396.6 238.4h1.3v1.3h-1.3zM406.3 240.0h1.3v1.3h-1.3zM402.8 239.4h1.3v1.3h-1.3zM406.9 238.5h1.3v1.3h-1.3zM405.2 238.3h1.3v1.3h-1.3zM407.4 241.3h1.3v1.3h-1.3zM395.5 241.4h1.3v1.3h-1.3zM411.3 241.3h1.3v1.3h-1.3zM401.4 237.0h1.3v1.3h-1.3zM402.5 239.1h1.3v1.3h-1.3zM393.5 240.9h1.3v1.3h-1.3zM401.9 239.8h1.3v1.3h-1.3zM393.0 242.5h1.3v1.3h-1.3zM403.0 243.6h1.3v1.3h-1.3zM409.8 243.2h1.3v1.3h-1.3zM397.7 240.8h1.3v1.3h-1.3zM410.9 241.8h1.3v1.3h-1.3zM402.3 240.5h1.3v1.3h-1.3zM401.8 237.4h1.3v1.3h-1.3zM400.4 237.9h1.3v1.3h-1.3zM404.9 239.7h1.3v1.3h-1.3zM406.4 243.8h1.3v1.3h-1.3zM396.9 240.8h1.3v1.3h-1.3zM396.7 244.9h1.3v1.3h-1.3zM409.3 237.9h1.3v1.3h-1.3zM410.0 239.0h1.3v1.3h-1.3zM411.3 239.9h1.3v1.3h-1.3zM400.6 242.6h1.3v1.3h-1.3zM401.2 243.0h1.3v1.3h-1.3zM397.3 240.3h1.3v1.3h-1.3zM409.4 240.6h1.3v1.3h-1.3zM408.7 243.3h1.3v1.3h-1.3zM404.6 245.5h1.3v1.3h-1.3zM403.5 243.5h1.3v1.3h-1.3zM405.8 242.8h1.3v1.3h-1.3zM403.2 245.7h1.3v1.3h-1.3zM396.8 244.4h1.3v1.3h-1.3zM403.8 246.4h1.3v1.3h-1.3zM403.2 241.6h1.3v1.3h-1.3zM410.3 242.0h1.3v1.3h-1.3zM394.2 240.5h1.3v1.3h-1.3zM398.5 238.5h1.3v1.3h-1.3zM403.9 237.7h1.3v1.3h-1.3zM400.6 239.8h1.3v1.3h-1.3zM393.8 242.3h1.3v1.3h-1.3zM394.6 243.2h1.3v1.3h-1.3zM399.5 239.0h1.3v1.3h-1.3zM409.5 239.2h1.3v1.3h-1.3zM400.5 239.1h1.3v1.3h-1.3zM407.5 243.6h1.3v1.3h-1.3zM402.9 237.6h1.3v1.3h-1.3zM397.6 244.6h1.3v1.3h-1.3zM408.9 237.2h1.3v1.3h-1.3zM392.3 239.7h1.3v1.3h-1.3zM404.1 243.7h1.3v1.3h-1.3zM406.1 240.1h1.3v1.3h-1.3zM407.8 239.0h1.3v1.3h-1.3zM407.6 244.2h1.3v1.3h-1.3zM399.6 243.9h1.3v1.3h-1.3zM410.2 238.4h1.3v1.3h-1.3zM406.5 243.3h1.3v1.3h-1.3zM401.9 236.7h1.3v1.3h-1.3zM402.4 239.5h1.3v1.3h-1.3zM396.2 240.7h1.3v1.3h-1.3zM399.5 242.9h1.3v1.3h-1.3zM401.6 242.5h1.3v1.3h-1.3zM408.9 243.1h1.3v1.3h-1.3zM394.0 243.0h1.3v1.3h-1.3zM401.6 238.4h1.3v1.3h-1.3zM398.8 238.3h1.3v1.3h-1.3zM411.4 242.3h1.3v1.3h-1.3zM408.5 241.1h1.3v1.3h-1.3zM405.7 242.0h1.3v1.3h-1.3zM403.7 238.4h1.3v1.3h-1.3zM397.3 244.5h1.3v1.3h-1.3zM405.4 238.9h1.3v1.3h-1.3zM406.1 243.6h1.3v1.3h-1.3zM402.2 238.4h1.3v1.3h-1.3zM403.2 239.2h1.3v1.3h-1.3zM406.5 240.2h1.3v1.3h-1.3zM405.1 243.9h1.3v1.3h-1.3zM410.7 240.2h1.3v1.3h-1.3zM401.9 243.0h1.3v1.3h-1.3zM405.9 240.4h1.3v1.3h-1.3zM401.6 239.5h1.3v1.3h-1.3zM410.2 239.4h1.3v1.3h-1.3zM399.5 241.1h1.3v1.3h-1.3zM403.8 242.2h1.3v1.3h-1.3zM402.3 241.9h1.3v1.3h-1.3zM396.2 240.2h1.3v1.3h-1.3zM406.1 238.1h1.3v1.3h-1.3zM396.4 238.9h1.3v1.3h-1.3zM405.1 238.5h1.3v1.3h-1.3zM399.5 240.5h1.3v1.3h-1.3zM405.9 238.6h1.3v1.3h-1.3zM404.5 245.0h1.3v1.3h-1.3zM409.1 240.5h1.3v1.3h-1.3zM399.7 243.6h1.3v1.3h-1.3zM403.3 239.9h1.3v1.3h-1.3zM408.5 239.0h1.3v1.3h-1.3zM396.3 239.4h1.3v1.3h-1.3zM400.9 244.1h1.3v1.3h-1.3zM402.0 242.5h1.3v1.3h-1.3zM402.7 238.3h1.3v1.3h-1.3zM403.6 241.8h1.3v1.3h-1.3zM407.7 243.1h1.3v1.3h-1.3zM415.0 221.7h1.3v1.3h-1.3zM416.0 218.4h1.3v1.3h-1.3zM417.5 221.9h1.3v1.3h-1.3zM414.1 223.6h1.3v1.3h-1.3zM416.1 217.0h1.3v1.3h-1.3zM414.9 218.3h1.3v1.3h-1.3zM414.9 219.5h1.3v1.3h-1.3zM412.8 221.2h1.3v1.3h-1.3zM415.8 220.2h1.3v1.3h-1.3zM417.4 218.1h1.3v1.3h-1.3zM411.1 220.5h1.3v1.3h-1.3zM417.6 222.1h1.3v1.3h-1.3zM415.4 222.7h1.3v1.3h-1.3zM417.0 220.2h1.3v1.3h-1.3zM411.1 219.2h1.3v1.3h-1.3zM411.8 219.2h1.3v1.3h-1.3zM416.1 221.8h1.3v1.3h-1.3zM414.8 218.8h1.3v1.3h-1.3zM410.8 219.0h1.3v1.3h-1.3zM414.2 217.6h1.3v1.3h-1.3zM416.9 218.6h1.3v1.3h-1.3zM417.2 219.5h1.3v1.3h-1.3zM414.0 218.0h1.3v1.3h-1.3zM416.9 219.4h1.3v1.3h-1.3zM415.3 220.1h1.3v1.3h-1.3zM416.1 220.7h1.3v1.3h-1.3zM413.7 219.1h1.3v1.3h-1.3zM416.7 222.1h1.3v1.3h-1.3zM411.9 220.0h1.3v1.3h-1.3zM417.0 220.2h1.3v1.3h-1.3zM412.9 217.5h1.3v1.3h-1.3zM417.8 218.9h1.3v1.3h-1.3zM414.7 217.3h1.3v1.3h-1.3zM412.4 221.0h1.3v1.3h-1.3zM416.8 219.3h1.3v1.3h-1.3zM416.5 218.1h1.3v1.3h-1.3zM413.4 218.5h1.3v1.3h-1.3zM412.4 219.8h1.3v1.3h-1.3zM411.3 218.8h1.3v1.3h-1.3zM415.5 221.4h1.3v1.3h-1.3zM417.2 217.7h1.3v1.3h-1.3zM412.7 223.2h1.3v1.3h-1.3zM417.2 221.4h1.3v1.3h-1.3zM417.0 222.0h1.3v1.3h-1.3zM415.6 222.5h1.3v1.3h-1.3zM344.7 233.5h1.3v1.3h-1.3zM335.2 234.9h1.3v1.3h-1.3zM336.8 234.3h1.3v1.3h-1.3zM332.8 232.1h1.3v1.3h-1.3zM341.3 236.4h1.3v1.3h-1.3zM331.4 236.2h1.3v1.3h-1.3zM338.3 235.4h1.3v1.3h-1.3zM336.0 234.0h1.3v1.3h-1.3zM338.1 232.1h1.3v1.3h-1.3zM336.9 237.3h1.3v1.3h-1.3zM335.3 232.0h1.3v1.3h-1.3zM344.2 233.1h1.3v1.3h-1.3zM342.5 236.4h1.3v1.3h-1.3zM335.7 233.5h1.3v1.3h-1.3zM336.6 236.7h1.3v1.3h-1.3zM337.7 232.5h1.3v1.3h-1.3zM334.6 233.2h1.3v1.3h-1.3zM342.2 230.7h1.3v1.3h-1.3zM334.1 236.2h1.3v1.3h-1.3zM336.5 238.0h1.3v1.3h-1.3zM337.9 237.5h1.3v1.3h-1.3zM333.8 234.3h1.3v1.3h-1.3zM334.8 233.0h1.3v1.3h-1.3zM334.0 235.4h1.3v1.3h-1.3zM334.8 235.5h1.3v1.3h-1.3zM335.5 239.1h1.3v1.3h-1.3zM333.6 237.1h1.3v1.3h-1.3zM334.2 238.6h1.3v1.3h-1.3zM336.8 233.5h1.3v1.3h-1.3zM334.2 234.3h1.3v1.3h-1.3zM334.5 232.3h1.3v1.3h-1.3zM342.5 235.9h1.3v1.3h-1.3zM339.4 237.8h1.3v1.3h-1.3zM339.9 233.7h1.3v1.3h-1.3zM336.2 240.5h1.3v1.3h-1.3zM337.5 237.1h1.3v1.3h-1.3zM335.6 233.7h1.3v1.3h-1.3zM339.0 238.9h1.3v1.3h-1.3zM331.4 235.6h1.3v1.3h-1.3zM339.5 231.7h1.3v1.3h-1.3zM334.0 232.9h1.3v1.3h-1.3zM336.7 235.1h1.3v1.3h-1.3zM344.3 234.2h1.3v1.3h-1.3zM335.5 234.6h1.3v1.3h-1.3zM343.4 236.6h1.3v1.3h-1.3zM341.4 232.7h1.3v1.3h-1.3zM333.8 232.1h1.3v1.3h-1.3zM333.2 237.7h1.3v1.3h-1.3zM340.4 237.3h1.3v1.3h-1.3zM336.6 239.3h1.3v1.3h-1.3zM333.1 233.2h1.3v1.3h-1.3zM335.4 232.7h1.3v1.3h-1.3zM335.4 235.3h1.3v1.3h-1.3zM333.1 235.7h1.3v1.3h-1.3zM338.2 237.5h1.3v1.3h-1.3zM338.7 232.6h1.3v1.3h-1.3zM332.5 233.7h1.3v1.3h-1.3zM336.3 237.3h1.3v1.3h-1.3zM335.1 237.2h1.3v1.3h-1.3zM337.6 232.1h1.3v1.3h-1.3zM338.9 235.7h1.3v1.3h-1.3zM344.4 236.8h1.3v1.3h-1.3zM341.9 235.9h1.3v1.3h-1.3zM337.3 233.9h1.3v1.3h-1.3zM339.1 240.5h1.3v1.3h-1.3zM337.5 233.0h1.3v1.3h-1.3zM337.8 239.6h1.3v1.3h-1.3zM336.4 235.9h1.3v1.3h-1.3zM336.0 237.3h1.3v1.3h-1.3zM336.9 235.0h1.3v1.3h-1.3zM355.9 223.3h1.3v1.3h-1.3zM354.9 219.6h1.3v1.3h-1.3zM355.9 222.2h1.3v1.3h-1.3zM357.5 222.6h1.3v1.3h-1.3zM358.8 219.8h1.3v1.3h-1.3zM355.3 223.5h1.3v1.3h-1.3zM357.3 221.2h1.3v1.3h-1.3zM357.3 220.4h1.3v1.3h-1.3zM360.3 219.8h1.3v1.3h-1.3zM360.4 218.9h1.3v1.3h-1.3zM359.8 221.7h1.3v1.3h-1.3zM355.8 223.8h1.3v1.3h-1.3zM362.3 219.4h1.3v1.3h-1.3zM353.8 222.5h1.3v1.3h-1.3zM358.5 223.7h1.3v1.3h-1.3zM359.1 225.1h1.3v1.3h-1.3zM357.3 219.4h1.3v1.3h-1.3zM357.6 221.3h1.3v1.3h-1.3zM355.1 222.8h1.3v1.3h-1.3zM361.4 219.0h1.3v1.3h-1.3zM357.5 221.2h1.3v1.3h-1.3zM359.6 219.3h1.3v1.3h-1.3zM356.2 222.1h1.3v1.3h-1.3zM357.7 222.8h1.3v1.3h-1.3zM356.9 222.4h1.3v1.3h-1.3zM359.4 224.6h1.3v1.3h-1.3zM358.0 219.9h1.3v1.3h-1.3zM358.9 219.5h1.3v1.3h-1.3zM359.3 219.3h1.3v1.3h-1.3zM357.9 223.5h1.3v1.3h-1.3zM356.7 221.4h1.3v1.3h-1.3zM358.4 222.2h1.3v1.3h-1.3zM362.2 220.1h1.3v1.3h-1.3zM355.1 220.4h1.3v1.3h-1.3zM359.7 222.2h1.3v1.3h-1.3zM359.1 224.5h1.3v1.3h-1.3zM356.5 220.8h1.3v1.3h-1.3zM359.0 220.5h1.3v1.3h-1.3zM354.7 220.9h1.3v1.3h-1.3zM353.4 223.5h1.3v1.3h-1.3zM358.4 224.1h1.3v1.3h-1.3zM356.4 219.6h1.3v1.3h-1.3zM362.0 222.6h1.3v1.3h-1.3zM358.8 218.5h1.3v1.3h-1.3zM358.5 221.4h1.3v1.3h-1.3zM329.0 269.5h1.3v1.3h-1.3zM319.7 274.9h1.3v1.3h-1.3zM322.2 272.0h1.3v1.3h-1.3zM324.5 272.0h1.3v1.3h-1.3zM317.3 274.1h1.3v1.3h-1.3zM318.9 270.3h1.3v1.3h-1.3zM324.1 269.3h1.3v1.3h-1.3zM323.4 268.3h1.3v1.3h-1.3zM323.6 268.7h1.3v1.3h-1.3zM321.4 269.2h1.3v1.3h-1.3zM327.5 270.7h1.3v1.3h-1.3zM327.8 269.7h1.3v1.3h-1.3zM322.9 269.1h1.3v1.3h-1.3zM320.6 270.6h1.3v1.3h-1.3zM325.2 265.3h1.3v1.3h-1.3zM324.6 270.3h1.3v1.3h-1.3zM328.1 269.1h1.3v1.3h-1.3zM326.5 264.8h1.3v1.3h-1.3zM326.2 265.8h1.3v1.3h-1.3zM324.2 267.5h1.3v1.3h-1.3zM322.3 270.3h1.3v1.3h-1.3zM321.7 269.0h1.3v1.3h-1.3zM327.9 267.4h1.3v1.3h-1.3zM317.0 272.9h1.3v1.3h-1.3zM322.6 273.3h1.3v1.3h-1.3zM322.1 274.1h1.3v1.3h-1.3zM321.9 268.6h1.3v1.3h-1.3zM318.9 273.2h1.3v1.3h-1.3zM325.6 271.8h1.3v1.3h-1.3zM326.2 265.0h1.3v1.3h-1.3zM324.4 271.1h1.3v1.3h-1.3zM322.1 268.9h1.3v1.3h-1.3zM324.5 270.2h1.3v1.3h-1.3zM319.2 274.9h1.3v1.3h-1.3zM327.3 265.2h1.3v1.3h-1.3zM321.5 269.9h1.3v1.3h-1.3zM328.4 264.5h1.3v1.3h-1.3zM325.7 272.2h1.3v1.3h-1.3zM329.5 270.4h1.3v1.3h-1.3zM328.8 270.1h1.3v1.3h-1.3zM323.3 266.7h1.3v1.3h-1.3zM320.3 267.3h1.3v1.3h-1.3zM327.8 269.4h1.3v1.3h-1.3zM323.1 267.1h1.3v1.3h-1.3zM326.5 269.1h1.3v1.3h-1.3zM323.7 271.2h1.3v1.3h-1.3zM322.2 268.9h1.3v1.3h-1.3zM322.6 269.7h1.3v1.3h-1.3zM320.9 272.7h1.3v1.3h-1.3zM323.7 268.9h1.3v1.3h-1.3zM317.5 270.9h1.3v1.3h-1.3zM319.3 273.0h1.3v1.3h-1.3zM326.6 267.9h1.3v1.3h-1.3zM321.9 268.0h1.3v1.3h-1.3zM324.3 265.3h1.3v1.3h-1.3zM324.1 269.6h1.3v1.3h-1.3zM326.3 269.3h1.3v1.3h-1.3zM322.7 267.8h1.3v1.3h-1.3zM328.7 270.5h1.3v1.3h-1.3zM321.9 265.8h1.3v1.3h-1.3zM318.7 271.9h1.3v1.3h-1.3zM328.7 265.3h1.3v1.3h-1.3zM324.3 268.9h1.3v1.3h-1.3zM326.4 267.4h1.3v1.3h-1.3zM319.2 270.0h1.3v1.3h-1.3zM327.0 272.1h1.3v1.3h-1.3zM325.7 267.8h1.3v1.3h-1.3zM321.9 267.2h1.3v1.3h-1.3zM328.4 269.3h1.3v1.3h-1.3zM319.8 273.2h1.3v1.3h-1.3zM323.2 267.1h1.3v1.3h-1.3zM323.8 266.1h1.3v1.3h-1.3zM320.3 267.2h1.3v1.3h-1.3zM324.6 270.6h1.3v1.3h-1.3zM325.5 266.2h1.3v1.3h-1.3zM393.4 257.3h1.3v1.3h-1.3zM391.8 258.6h1.3v1.3h-1.3zM391.6 258.2h1.3v1.3h-1.3zM392.3 257.1h1.3v1.3h-1.3zM391.5 253.9h1.3v1.3h-1.3zM391.2 253.9h1.3v1.3h-1.3zM390.6 260.9h1.3v1.3h-1.3zM391.2 255.6h1.3v1.3h-1.3zM392.5 255.4h1.3v1.3h-1.3zM390.9 257.0h1.3v1.3h-1.3zM392.0 257.0h1.3v1.3h-1.3zM392.9 255.5h1.3v1.3h-1.3zM390.7 259.5h1.3v1.3h-1.3zM390.3 260.8h1.3v1.3h-1.3zM391.7 262.1h1.3v1.3h-1.3zM390.6 261.5h1.3v1.3h-1.3zM361.8 183.4h1.3v1.3h-1.3zM359.5 182.7h1.3v1.3h-1.3zM361.2 184.2h1.3v1.3h-1.3zM360.4 183.9h1.3v1.3h-1.3zM360.0 182.8h1.3v1.3h-1.3zM383.0 198.4h1.3v1.3h-1.3zM383.9 200.3h1.3v1.3h-1.3zM384.0 199.4h1.3v1.3h-1.3zM383.4 199.3h1.3v1.3h-1.3zM383.1 200.2h1.3v1.3h-1.3zM384.7 198.6h1.3v1.3h-1.3zM383.7 199.4h1.3v1.3h-1.3zM382.1 199.2h1.3v1.3h-1.3zM340.0 216.0h1.3v1.3h-1.3zM337.7 218.3h1.3v1.3h-1.3zM333.8 219.5h1.3v1.3h-1.3zM335.7 221.8h1.3v1.3h-1.3zM339.8 219.5h1.3v1.3h-1.3zM336.4 222.0h1.3v1.3h-1.3zM335.6 215.7h1.3v1.3h-1.3zM338.1 215.6h1.3v1.3h-1.3zM340.2 216.7h1.3v1.3h-1.3zM336.5 219.5h1.3v1.3h-1.3zM340.4 216.3h1.3v1.3h-1.3zM335.2 219.3h1.3v1.3h-1.3zM338.7 218.7h1.3v1.3h-1.3zM334.0 218.7h1.3v1.3h-1.3zM339.1 219.0h1.3v1.3h-1.3zM338.5 215.7h1.3v1.3h-1.3zM335.3 218.7h1.3v1.3h-1.3zM335.9 222.5h1.3v1.3h-1.3zM338.1 216.0h1.3v1.3h-1.3zM337.1 216.2h1.3v1.3h-1.3zM369.0 255.2h1.3v1.3h-1.3zM368.4 258.6h1.3v1.3h-1.3zM365.4 256.3h1.3v1.3h-1.3zM369.3 258.5h1.3v1.3h-1.3zM362.5 252.9h1.3v1.3h-1.3zM367.8 259.6h1.3v1.3h-1.3zM366.4 256.1h1.3v1.3h-1.3zM361.8 257.3h1.3v1.3h-1.3zM371.1 257.4h1.3v1.3h-1.3zM368.8 256.7h1.3v1.3h-1.3zM364.7 257.4h1.3v1.3h-1.3zM367.0 256.2h1.3v1.3h-1.3zM364.8 257.8h1.3v1.3h-1.3zM368.8 256.1h1.3v1.3h-1.3zM369.3 259.4h1.3v1.3h-1.3zM362.1 278.2h1.3v1.3h-1.3zM363.1 278.3h1.3v1.3h-1.3zM363.5 277.6h1.3v1.3h-1.3zM330.5 236.5h1.3v1.3h-1.3zM332.9 227.3h1.3v1.3h-1.3zM341.5 233.0h1.3v1.3h-1.3zM329.3 233.6h1.3v1.3h-1.3zM331.5 234.8h1.3v1.3h-1.3zM331.7 237.5h1.3v1.3h-1.3zM340.5 233.9h1.3v1.3h-1.3zM338.7 232.9h1.3v1.3h-1.3zM340.1 230.5h1.3v1.3h-1.3zM334.3 233.7h1.3v1.3h-1.3zM339.6 236.7h1.3v1.3h-1.3zM332.4 229.7h1.3v1.3h-1.3zM329.1 236.3h1.3v1.3h-1.3zM333.6 231.4h1.3v1.3h-1.3zM333.8 233.2h1.3v1.3h-1.3zM336.9 227.5h1.3v1.3h-1.3zM334.9 229.3h1.3v1.3h-1.3zM337.5 236.4h1.3v1.3h-1.3zM337.7 236.7h1.3v1.3h-1.3zM338.0 227.4h1.3v1.3h-1.3zM338.1 236.1h1.3v1.3h-1.3zM340.6 231.7h1.3v1.3h-1.3zM332.5 235.8h1.3v1.3h-1.3zM342.6 229.8h1.3v1.3h-1.3zM330.3 231.3h1.3v1.3h-1.3zM335.6 229.2h1.3v1.3h-1.3z" fill="#e2e2e2"/>
<path d="M370.7 221.8h1.3v1.3h-1.3zM362.9 223.4h1.3v1.3h-1.3zM365.6 226.9h1.3v1.3h-1.3zM370.3 229.5h1.3v1.3h-1.3zM341.1 236.2h1.3v1.3h-1.3zM319.3 278.9h1.3v1.3h-1.3zM333.6 236.3h1.3v1.3h-1.3zM372.4 255.9h1.3v1.3h-1.3zM354.5 212.1h1.3v1.3h-1.3zM369.5 253.3h1.3v1.3h-1.3zM360.8 242.3h1.3v1.3h-1.3zM369.7 248.1h1.3v1.3h-1.3zM364.4 196.7h1.3v1.3h-1.3zM370.4 254.2h1.3v1.3h-1.3zM333.9 267.3h1.3v1.3h-1.3zM337.4 230.5h1.3v1.3h-1.3zM370.6 235.2h1.3v1.3h-1.3zM396.5 229.1h1.3v1.3h-1.3zM355.9 230.7h1.3v1.3h-1.3zM393.4 244.3h1.3v1.3h-1.3zM366.0 233.8h1.3v1.3h-1.3zM359.5 272.5h1.3v1.3h-1.3zM373.7 245.6h1.3v1.3h-1.3zM353.0 219.5h1.3v1.3h-1.3zM383.5 237.0h1.3v1.3h-1.3zM351.5 218.7h1.3v1.3h-1.3zM326.7 228.4h1.3v1.3h-1.3zM371.7 236.8h1.3v1.3h-1.3zM349.4 199.2h1.3v1.3h-1.3zM388.3 266.2h1.3v1.3h-1.3zM361.4 206.6h1.3v1.3h-1.3zM385.0 200.8h1.3v1.3h-1.3zM360.2 222.8h1.3v1.3h-1.3zM402.8 236.0h1.3v1.3h-1.3zM391.2 240.7h1.3v1.3h-1.3zM373.7 232.1h1.3v1.3h-1.3zM376.7 236.5h1.3v1.3h-1.3zM389.7 268.0h1.3v1.3h-1.3zM327.5 232.1h1.3v1.3h-1.3zM390.0 219.4h1.3v1.3h-1.3zM387.0 238.0h1.3v1.3h-1.3zM373.2 262.4h1.3v1.3h-1.3zM396.0 224.5h1.3v1.3h-1.3zM398.8 246.7h1.3v1.3h-1.3zM378.0 226.8h1.3v1.3h-1.3zM362.4 223.0h1.3v1.3h-1.3zM371.8 254.4h1.3v1.3h-1.3zM362.7 237.6h1.3v1.3h-1.3zM356.0 202.0h1.3v1.3h-1.3zM321.3 283.3h1.3v1.3h-1.3zM408.6 228.9h1.3v1.3h-1.3zM388.1 241.3h1.3v1.3h-1.3zM358.7 236.4h1.3v1.3h-1.3zM385.9 237.8h1.3v1.3h-1.3zM347.2 238.3h1.3v1.3h-1.3zM361.5 206.7h1.3v1.3h-1.3zM364.9 232.1h1.3v1.3h-1.3zM372.7 236.3h1.3v1.3h-1.3zM377.2 250.3h1.3v1.3h-1.3zM367.9 229.7h1.3v1.3h-1.3zM345.3 256.2h1.3v1.3h-1.3zM361.0 272.4h1.3v1.3h-1.3zM328.8 227.8h1.3v1.3h-1.3zM360.0 200.2h1.3v1.3h-1.3zM334.9 230.7h1.3v1.3h-1.3zM389.6 221.6h1.3v1.3h-1.3zM381.0 197.9h1.3v1.3h-1.3zM399.5 245.5h1.3v1.3h-1.3zM351.8 208.8h1.3v1.3h-1.3zM407.3 237.0h1.3v1.3h-1.3zM364.9 237.7h1.3v1.3h-1.3zM313.3 287.4h1.3v1.3h-1.3zM349.1 209.6h1.3v1.3h-1.3zM388.7 240.8h1.3v1.3h-1.3zM356.7 228.4h1.3v1.3h-1.3zM373.4 239.0h1.3v1.3h-1.3zM388.5 227.0h1.3v1.3h-1.3zM392.2 234.9h1.3v1.3h-1.3zM414.1 222.3h1.3v1.3h-1.3zM385.7 232.4h1.3v1.3h-1.3zM325.2 231.4h1.3v1.3h-1.3zM359.8 197.3h1.3v1.3h-1.3zM352.0 208.2h1.3v1.3h-1.3zM353.9 235.1h1.3v1.3h-1.3zM364.7 258.0h1.3v1.3h-1.3zM385.3 237.6h1.3v1.3h-1.3zM354.4 193.2h1.3v1.3h-1.3zM353.2 233.6h1.3v1.3h-1.3zM334.3 230.2h1.3v1.3h-1.3zM350.0 207.5h1.3v1.3h-1.3zM358.8 221.2h1.3v1.3h-1.3zM365.8 238.0h1.3v1.3h-1.3zM363.3 226.0h1.3v1.3h-1.3zM362.3 233.6h1.3v1.3h-1.3zM394.4 249.0h1.3v1.3h-1.3zM364.6 257.0h1.3v1.3h-1.3zM390.1 224.2h1.3v1.3h-1.3zM325.3 272.9h1.3v1.3h-1.3zM355.6 205.4h1.3v1.3h-1.3zM372.8 230.5h1.3v1.3h-1.3zM361.6 228.4h1.3v1.3h-1.3zM360.3 230.5h1.3v1.3h-1.3zM356.3 230.8h1.3v1.3h-1.3zM397.2 233.4h1.3v1.3h-1.3zM359.9 214.7h1.3v1.3h-1.3zM353.2 213.3h1.3v1.3h-1.3zM374.4 247.0h1.3v1.3h-1.3zM343.1 252.8h1.3v1.3h-1.3zM382.2 224.5h1.3v1.3h-1.3zM358.3 219.2h1.3v1.3h-1.3zM385.6 201.0h1.3v1.3h-1.3z" fill="#e0262e"/>
<path d="M398.2 228.6h1.3v1.3h-1.3zM390.6 243.7h1.3v1.3h-1.3zM347.4 257.1h1.3v1.3h-1.3zM329.9 269.7h1.3v1.3h-1.3zM401.0 238.3h1.3v1.3h-1.3zM345.6 255.8h1.3v1.3h-1.3zM394.9 267.9h1.3v1.3h-1.3zM350.8 253.8h1.3v1.3h-1.3zM412.8 236.7h1.3v1.3h-1.3zM343.7 261.9h1.3v1.3h-1.3zM355.9 233.3h1.3v1.3h-1.3zM316.8 281.0h1.3v1.3h-1.3zM338.3 239.2h1.3v1.3h-1.3zM390.9 223.4h1.3v1.3h-1.3zM326.8 231.8h1.3v1.3h-1.3zM370.4 197.9h1.3v1.3h-1.3zM406.7 230.1h1.3v1.3h-1.3zM400.8 234.3h1.3v1.3h-1.3zM346.5 231.0h1.3v1.3h-1.3zM363.3 222.5h1.3v1.3h-1.3zM410.2 235.9h1.3v1.3h-1.3zM330.2 219.3h1.3v1.3h-1.3zM366.8 253.4h1.3v1.3h-1.3zM333.4 231.0h1.3v1.3h-1.3zM408.7 233.8h1.3v1.3h-1.3zM315.9 285.4h1.3v1.3h-1.3zM312.5 280.9h1.3v1.3h-1.3zM344.5 253.5h1.3v1.3h-1.3zM356.1 190.0h1.3v1.3h-1.3zM386.6 220.0h1.3v1.3h-1.3zM345.6 233.7h1.3v1.3h-1.3zM364.3 259.2h1.3v1.3h-1.3zM348.8 209.6h1.3v1.3h-1.3zM330.0 270.6h1.3v1.3h-1.3zM396.3 219.4h1.3v1.3h-1.3zM388.0 232.4h1.3v1.3h-1.3zM349.6 259.9h1.3v1.3h-1.3zM311.1 275.6h1.3v1.3h-1.3zM368.1 228.3h1.3v1.3h-1.3zM392.3 221.7h1.3v1.3h-1.3zM373.0 250.9h1.3v1.3h-1.3zM357.9 207.2h1.3v1.3h-1.3zM364.0 254.7h1.3v1.3h-1.3zM323.6 273.3h1.3v1.3h-1.3zM341.2 261.1h1.3v1.3h-1.3zM354.1 221.8h1.3v1.3h-1.3zM316.6 286.5h1.3v1.3h-1.3zM345.4 261.3h1.3v1.3h-1.3zM313.7 283.6h1.3v1.3h-1.3zM324.8 224.1h1.3v1.3h-1.3zM397.1 238.0h1.3v1.3h-1.3zM370.9 199.3h1.3v1.3h-1.3zM404.1 244.4h1.3v1.3h-1.3zM396.0 221.9h1.3v1.3h-1.3zM321.7 283.0h1.3v1.3h-1.3zM372.9 240.7h1.3v1.3h-1.3zM343.7 215.7h1.3v1.3h-1.3zM358.9 206.0h1.3v1.3h-1.3zM364.8 275.6h1.3v1.3h-1.3zM333.0 272.8h1.3v1.3h-1.3zM364.8 208.4h1.3v1.3h-1.3zM344.7 263.1h1.3v1.3h-1.3zM342.1 233.6h1.3v1.3h-1.3zM345.6 256.8h1.3v1.3h-1.3zM351.2 251.7h1.3v1.3h-1.3zM372.0 192.3h1.3v1.3h-1.3zM326.3 279.5h1.3v1.3h-1.3zM339.2 237.3h1.3v1.3h-1.3zM375.9 244.0h1.3v1.3h-1.3zM342.3 258.6h1.3v1.3h-1.3zM324.4 273.5h1.3v1.3h-1.3zM351.9 202.5h1.3v1.3h-1.3z" fill="#f5891f"/>
<path d="M336.6 221.7h1.3v1.3h-1.3zM405.6 234.9h1.3v1.3h-1.3zM407.6 221.9h1.3v1.3h-1.3zM320.0 287.2h1.3v1.3h-1.3zM353.2 215.7h1.3v1.3h-1.3zM313.5 289.0h1.3v1.3h-1.3zM412.2 240.6h1.3v1.3h-1.3zM335.8 233.3h1.3v1.3h-1.3zM399.3 224.9h1.3v1.3h-1.3zM368.2 210.0h1.3v1.3h-1.3zM319.4 272.2h1.3v1.3h-1.3zM339.2 229.1h1.3v1.3h-1.3zM414.9 232.2h1.3v1.3h-1.3zM342.8 236.4h1.3v1.3h-1.3zM399.3 218.9h1.3v1.3h-1.3zM408.3 230.6h1.3v1.3h-1.3zM319.7 284.5h1.3v1.3h-1.3zM359.2 204.3h1.3v1.3h-1.3zM355.7 211.3h1.3v1.3h-1.3zM346.2 206.8h1.3v1.3h-1.3zM322.1 276.8h1.3v1.3h-1.3zM367.7 207.6h1.3v1.3h-1.3zM363.1 217.0h1.3v1.3h-1.3zM343.4 223.2h1.3v1.3h-1.3zM342.5 228.0h1.3v1.3h-1.3zM337.4 213.4h1.3v1.3h-1.3zM412.9 219.2h1.3v1.3h-1.3zM317.2 286.9h1.3v1.3h-1.3zM405.3 230.9h1.3v1.3h-1.3zM325.9 277.8h1.3v1.3h-1.3zM320.9 280.4h1.3v1.3h-1.3zM394.9 243.7h1.3v1.3h-1.3zM413.8 237.1h1.3v1.3h-1.3zM403.2 231.6h1.3v1.3h-1.3zM404.0 228.2h1.3v1.3h-1.3zM404.7 231.9h1.3v1.3h-1.3zM330.2 218.2h1.3v1.3h-1.3zM399.0 219.5h1.3v1.3h-1.3zM333.0 233.3h1.3v1.3h-1.3zM395.7 223.9h1.3v1.3h-1.3zM367.9 222.0h1.3v1.3h-1.3zM335.6 240.0h1.3v1.3h-1.3zM335.7 273.7h1.3v1.3h-1.3zM325.2 273.3h1.3v1.3h-1.3zM345.4 221.7h1.3v1.3h-1.3zM334.6 217.6h1.3v1.3h-1.3zM334.1 271.9h1.3v1.3h-1.3zM336.7 220.0h1.3v1.3h-1.3zM360.8 204.5h1.3v1.3h-1.3zM355.7 211.3h1.3v1.3h-1.3zM328.6 278.8h1.3v1.3h-1.3zM361.8 197.9h1.3v1.3h-1.3zM336.1 273.6h1.3v1.3h-1.3zM399.5 226.2h1.3v1.3h-1.3zM364.5 200.7h1.3v1.3h-1.3zM396.1 239.7h1.3v1.3h-1.3zM395.6 221.8h1.3v1.3h-1.3zM391.1 267.3h1.3v1.3h-1.3zM407.6 223.7h1.3v1.3h-1.3zM338.8 239.6h1.3v1.3h-1.3zM404.1 241.2h1.3v1.3h-1.3zM332.0 216.8h1.3v1.3h-1.3zM363.2 197.6h1.3v1.3h-1.3zM352.5 195.9h1.3v1.3h-1.3zM342.2 236.1h1.3v1.3h-1.3zM332.5 220.1h1.3v1.3h-1.3zM408.6 230.9h1.3v1.3h-1.3zM320.8 282.1h1.3v1.3h-1.3zM373.2 200.5h1.3v1.3h-1.3zM369.0 203.3h1.3v1.3h-1.3zM363.0 262.9h1.3v1.3h-1.3zM337.3 221.3h1.3v1.3h-1.3zM342.2 230.7h1.3v1.3h-1.3zM318.1 273.4h1.3v1.3h-1.3zM357.9 216.1h1.3v1.3h-1.3zM363.5 260.0h1.3v1.3h-1.3zM333.1 223.0h1.3v1.3h-1.3zM330.6 273.4h1.3v1.3h-1.3zM406.8 230.3h1.3v1.3h-1.3zM335.7 223.9h1.3v1.3h-1.3zM337.6 232.7h1.3v1.3h-1.3zM404.6 238.7h1.3v1.3h-1.3zM370.7 231.8h1.3v1.3h-1.3zM358.3 212.3h1.3v1.3h-1.3zM349.6 211.0h1.3v1.3h-1.3zM360.7 195.2h1.3v1.3h-1.3zM412.5 239.6h1.3v1.3h-1.3zM367.0 255.2h1.3v1.3h-1.3zM325.9 280.8h1.3v1.3h-1.3zM369.2 210.6h1.3v1.3h-1.3zM407.4 232.1h1.3v1.3h-1.3zM400.3 235.7h1.3v1.3h-1.3zM404.4 240.3h1.3v1.3h-1.3zM396.5 228.1h1.3v1.3h-1.3zM354.3 195.8h1.3v1.3h-1.3zM328.7 220.5h1.3v1.3h-1.3zM327.8 274.8h1.3v1.3h-1.3zM318.6 287.7h1.3v1.3h-1.3zM406.1 221.2h1.3v1.3h-1.3zM374.6 199.1h1.3v1.3h-1.3zM340.8 228.7h1.3v1.3h-1.3zM310.9 279.2h1.3v1.3h-1.3zM364.9 207.1h1.3v1.3h-1.3zM403.0 217.0h1.3v1.3h-1.3zM375.2 257.1h1.3v1.3h-1.3zM337.9 240.6h1.3v1.3h-1.3zM407.2 219.9h1.3v1.3h-1.3zM375.8 196.9h1.3v1.3h-1.3zM347.5 235.8h1.3v1.3h-1.3zM336.3 217.6h1.3v1.3h-1.3zM360.3 243.1h1.3v1.3h-1.3zM354.0 199.7h1.3v1.3h-1.3zM404.8 218.5h1.3v1.3h-1.3zM337.1 224.7h1.3v1.3h-1.3zM394.1 235.8h1.3v1.3h-1.3zM309.9 289.0h1.3v1.3h-1.3zM400.8 224.2h1.3v1.3h-1.3zM370.6 250.9h1.3v1.3h-1.3zM325.7 280.6h1.3v1.3h-1.3zM374.2 198.7h1.3v1.3h-1.3zM326.1 282.4h1.3v1.3h-1.3zM415.6 240.0h1.3v1.3h-1.3zM344.5 219.6h1.3v1.3h-1.3zM346.9 196.7h1.3v1.3h-1.3zM316.4 288.4h1.3v1.3h-1.3zM328.5 270.1h1.3v1.3h-1.3zM391.7 223.7h1.3v1.3h-1.3zM355.6 202.9h1.3v1.3h-1.3zM356.1 206.5h1.3v1.3h-1.3zM342.9 217.7h1.3v1.3h-1.3zM421.5 224.3h1.3v1.3h-1.3zM345.7 199.3h1.3v1.3h-1.3zM340.3 214.3h1.3v1.3h-1.3zM387.2 226.2h1.3v1.3h-1.3zM375.0 202.5h1.3v1.3h-1.3zM368.2 206.8h1.3v1.3h-1.3zM397.9 220.6h1.3v1.3h-1.3zM329.3 272.8h1.3v1.3h-1.3zM350.6 206.0h1.3v1.3h-1.3zM314.2 279.5h1.3v1.3h-1.3zM402.3 234.7h1.3v1.3h-1.3zM332.4 223.2h1.3v1.3h-1.3zM404.7 224.3h1.3v1.3h-1.3zM371.8 252.9h1.3v1.3h-1.3zM396.4 240.7h1.3v1.3h-1.3zM328.9 271.0h1.3v1.3h-1.3zM369.2 247.5h1.3v1.3h-1.3zM397.9 238.0h1.3v1.3h-1.3zM391.0 230.1h1.3v1.3h-1.3zM408.4 228.0h1.3v1.3h-1.3zM333.6 237.3h1.3v1.3h-1.3zM373.5 205.9h1.3v1.3h-1.3zM370.4 249.4h1.3v1.3h-1.3zM357.7 235.7h1.3v1.3h-1.3zM389.5 221.7h1.3v1.3h-1.3zM405.2 219.4h1.3v1.3h-1.3z" fill="#1c9a5c"/>
<path d="M358.5 222.5h1.3v1.3h-1.3zM402.5 240.6h1.3v1.3h-1.3zM354.3 209.9h1.3v1.3h-1.3zM384.8 225.2h1.3v1.3h-1.3zM394.2 266.3h1.3v1.3h-1.3zM405.4 240.6h1.3v1.3h-1.3zM364.9 251.7h1.3v1.3h-1.3zM392.9 222.1h1.3v1.3h-1.3zM366.1 252.8h1.3v1.3h-1.3zM399.6 232.1h1.3v1.3h-1.3zM361.7 236.9h1.3v1.3h-1.3zM388.9 225.0h1.3v1.3h-1.3zM355.1 216.0h1.3v1.3h-1.3zM356.9 222.1h1.3v1.3h-1.3zM360.6 222.4h1.3v1.3h-1.3zM377.1 257.0h1.3v1.3h-1.3zM354.2 214.5h1.3v1.3h-1.3zM361.1 223.5h1.3v1.3h-1.3zM367.6 230.7h1.3v1.3h-1.3zM398.8 243.0h1.3v1.3h-1.3zM388.2 229.6h1.3v1.3h-1.3zM390.3 220.0h1.3v1.3h-1.3zM375.0 238.4h1.3v1.3h-1.3zM337.4 236.3h1.3v1.3h-1.3zM377.5 227.0h1.3v1.3h-1.3zM392.6 233.6h1.3v1.3h-1.3zM352.6 192.1h1.3v1.3h-1.3zM380.6 220.3h1.3v1.3h-1.3zM372.8 235.1h1.3v1.3h-1.3zM360.9 237.9h1.3v1.3h-1.3zM321.9 281.7h1.3v1.3h-1.3zM345.7 207.0h1.3v1.3h-1.3zM351.6 207.3h1.3v1.3h-1.3zM352.5 213.3h1.3v1.3h-1.3zM327.3 229.3h1.3v1.3h-1.3zM333.9 220.8h1.3v1.3h-1.3zM386.1 226.0h1.3v1.3h-1.3zM370.7 214.7h1.3v1.3h-1.3zM369.3 249.7h1.3v1.3h-1.3zM345.7 200.9h1.3v1.3h-1.3zM368.6 244.3h1.3v1.3h-1.3zM384.4 220.9h1.3v1.3h-1.3zM367.4 245.8h1.3v1.3h-1.3zM399.5 237.0h1.3v1.3h-1.3zM347.6 251.6h1.3v1.3h-1.3zM407.5 235.4h1.3v1.3h-1.3zM387.1 222.8h1.3v1.3h-1.3zM397.4 245.2h1.3v1.3h-1.3zM393.7 228.4h1.3v1.3h-1.3zM373.6 244.1h1.3v1.3h-1.3zM349.5 205.9h1.3v1.3h-1.3zM366.1 240.1h1.3v1.3h-1.3zM408.7 221.4h1.3v1.3h-1.3zM351.6 193.1h1.3v1.3h-1.3zM356.4 216.7h1.3v1.3h-1.3zM370.6 248.3h1.3v1.3h-1.3zM373.2 244.9h1.3v1.3h-1.3zM357.8 217.7h1.3v1.3h-1.3zM326.9 231.6h1.3v1.3h-1.3zM358.3 209.9h1.3v1.3h-1.3zM337.0 227.5h1.3v1.3h-1.3zM373.2 257.5h1.3v1.3h-1.3zM379.4 233.5h1.3v1.3h-1.3zM334.9 222.5h1.3v1.3h-1.3zM393.3 266.6h1.3v1.3h-1.3zM373.0 250.2h1.3v1.3h-1.3zM333.3 234.8h1.3v1.3h-1.3zM333.9 232.9h1.3v1.3h-1.3zM373.2 233.7h1.3v1.3h-1.3zM358.8 234.5h1.3v1.3h-1.3zM352.6 214.6h1.3v1.3h-1.3zM368.0 232.4h1.3v1.3h-1.3zM377.6 248.1h1.3v1.3h-1.3zM372.1 235.9h1.3v1.3h-1.3zM385.2 200.6h1.3v1.3h-1.3zM347.4 203.6h1.3v1.3h-1.3zM368.2 208.8h1.3v1.3h-1.3zM334.8 232.1h1.3v1.3h-1.3zM327.1 224.4h1.3v1.3h-1.3zM357.0 207.5h1.3v1.3h-1.3zM369.6 247.4h1.3v1.3h-1.3zM347.3 255.8h1.3v1.3h-1.3zM398.1 228.7h1.3v1.3h-1.3zM408.3 229.9h1.3v1.3h-1.3zM349.0 198.8h1.3v1.3h-1.3zM369.7 238.2h1.3v1.3h-1.3zM361.2 252.8h1.3v1.3h-1.3zM375.3 235.0h1.3v1.3h-1.3zM371.6 235.9h1.3v1.3h-1.3zM381.4 197.7h1.3v1.3h-1.3zM356.5 227.8h1.3v1.3h-1.3zM359.1 203.5h1.3v1.3h-1.3zM370.4 243.2h1.3v1.3h-1.3zM389.0 266.0h1.3v1.3h-1.3zM402.1 243.4h1.3v1.3h-1.3zM397.4 237.4h1.3v1.3h-1.3zM391.5 225.9h1.3v1.3h-1.3zM353.1 201.0h1.3v1.3h-1.3zM394.0 243.7h1.3v1.3h-1.3zM331.0 221.8h1.3v1.3h-1.3zM362.0 207.6h1.3v1.3h-1.3zM392.3 265.6h1.3v1.3h-1.3zM355.4 238.2h1.3v1.3h-1.3zM359.0 220.4h1.3v1.3h-1.3zM376.9 251.5h1.3v1.3h-1.3zM388.4 227.4h1.3v1.3h-1.3z" fill="#e0262e"/>
<path d="M360.5 191.0h1.3v1.3h-1.3zM345.8 258.9h1.3v1.3h-1.3zM368.7 216.3h1.3v1.3h-1.3zM399.5 229.7h1.3v1.3h-1.3zM326.5 280.5h1.3v1.3h-1.3zM338.9 218.8h1.3v1.3h-1.3zM420.4 226.0h1.3v1.3h-1.3zM393.9 236.7h1.3v1.3h-1.3zM334.6 231.1h1.3v1.3h-1.3zM326.0 280.5h1.3v1.3h-1.3zM391.2 241.8h1.3v1.3h-1.3zM389.9 238.3h1.3v1.3h-1.3zM386.3 241.6h1.3v1.3h-1.3zM409.4 237.9h1.3v1.3h-1.3zM326.1 273.5h1.3v1.3h-1.3zM362.5 215.3h1.3v1.3h-1.3zM358.5 198.0h1.3v1.3h-1.3zM354.1 193.0h1.3v1.3h-1.3zM373.2 202.7h1.3v1.3h-1.3zM328.8 268.4h1.3v1.3h-1.3zM318.3 279.3h1.3v1.3h-1.3zM356.3 207.2h1.3v1.3h-1.3zM351.3 198.3h1.3v1.3h-1.3zM334.4 215.6h1.3v1.3h-1.3zM349.0 260.5h1.3v1.3h-1.3zM386.0 226.2h1.3v1.3h-1.3zM340.5 254.5h1.3v1.3h-1.3zM350.8 204.3h1.3v1.3h-1.3zM361.9 215.0h1.3v1.3h-1.3zM342.9 259.4h1.3v1.3h-1.3zM377.0 261.7h1.3v1.3h-1.3zM358.3 197.2h1.3v1.3h-1.3zM403.3 234.7h1.3v1.3h-1.3zM359.2 215.5h1.3v1.3h-1.3zM315.8 273.9h1.3v1.3h-1.3zM357.6 237.6h1.3v1.3h-1.3zM349.8 193.8h1.3v1.3h-1.3zM364.6 223.5h1.3v1.3h-1.3zM342.5 214.7h1.3v1.3h-1.3zM360.7 210.7h1.3v1.3h-1.3zM403.4 241.2h1.3v1.3h-1.3zM371.4 214.6h1.3v1.3h-1.3zM357.8 194.6h1.3v1.3h-1.3zM329.9 274.5h1.3v1.3h-1.3zM358.6 194.5h1.3v1.3h-1.3zM351.3 209.4h1.3v1.3h-1.3zM327.8 267.9h1.3v1.3h-1.3zM399.1 232.6h1.3v1.3h-1.3zM368.6 247.1h1.3v1.3h-1.3zM330.0 270.3h1.3v1.3h-1.3zM352.9 201.7h1.3v1.3h-1.3zM319.4 276.7h1.3v1.3h-1.3zM325.3 283.1h1.3v1.3h-1.3zM327.8 233.2h1.3v1.3h-1.3zM367.2 204.2h1.3v1.3h-1.3zM340.0 235.1h1.3v1.3h-1.3zM361.1 206.6h1.3v1.3h-1.3zM355.1 224.0h1.3v1.3h-1.3zM313.6 280.3h1.3v1.3h-1.3zM395.0 229.1h1.3v1.3h-1.3zM336.3 234.3h1.3v1.3h-1.3zM380.1 197.8h1.3v1.3h-1.3zM364.0 204.8h1.3v1.3h-1.3zM376.5 231.8h1.3v1.3h-1.3zM402.4 224.1h1.3v1.3h-1.3zM407.7 225.5h1.3v1.3h-1.3zM319.4 277.6h1.3v1.3h-1.3zM338.6 240.1h1.3v1.3h-1.3zM365.3 202.9h1.3v1.3h-1.3zM367.2 206.8h1.3v1.3h-1.3zM397.8 217.3h1.3v1.3h-1.3zM347.1 203.3h1.3v1.3h-1.3zM353.6 204.4h1.3v1.3h-1.3zM333.5 219.8h1.3v1.3h-1.3zM331.1 270.0h1.3v1.3h-1.3zM367.4 210.8h1.3v1.3h-1.3zM363.2 191.5h1.3v1.3h-1.3zM321.1 284.1h1.3v1.3h-1.3zM351.1 258.9h1.3v1.3h-1.3zM336.0 222.0h1.3v1.3h-1.3z" fill="#f5891f"/>
<path d="M417.5 219.7h1.3v1.3h-1.3zM365.5 207.6h1.3v1.3h-1.3zM403.8 219.3h1.3v1.3h-1.3zM359.2 202.8h1.3v1.3h-1.3zM323.8 281.2h1.3v1.3h-1.3zM336.6 220.7h1.3v1.3h-1.3zM336.3 234.8h1.3v1.3h-1.3zM358.0 225.2h1.3v1.3h-1.3zM404.4 229.4h1.3v1.3h-1.3zM362.3 211.9h1.3v1.3h-1.3zM369.7 198.5h1.3v1.3h-1.3zM335.1 216.5h1.3v1.3h-1.3zM328.2 268.9h1.3v1.3h-1.3zM324.6 228.4h1.3v1.3h-1.3zM316.0 287.4h1.3v1.3h-1.3zM321.4 278.1h1.3v1.3h-1.3zM398.9 237.4h1.3v1.3h-1.3zM353.4 204.2h1.3v1.3h-1.3zM362.9 204.0h1.3v1.3h-1.3zM395.7 216.2h1.3v1.3h-1.3zM360.8 209.1h1.3v1.3h-1.3zM396.4 242.1h1.3v1.3h-1.3zM322.2 278.4h1.3v1.3h-1.3zM353.0 196.8h1.3v1.3h-1.3zM322.7 279.6h1.3v1.3h-1.3zM414.6 233.8h1.3v1.3h-1.3zM344.7 221.5h1.3v1.3h-1.3zM370.7 210.2h1.3v1.3h-1.3zM336.2 239.8h1.3v1.3h-1.3zM319.5 271.6h1.3v1.3h-1.3zM396.8 227.7h1.3v1.3h-1.3zM406.1 223.7h1.3v1.3h-1.3zM412.7 232.9h1.3v1.3h-1.3zM415.3 233.2h1.3v1.3h-1.3zM361.5 207.2h1.3v1.3h-1.3zM321.0 281.2h1.3v1.3h-1.3zM351.8 200.5h1.3v1.3h-1.3zM331.4 268.5h1.3v1.3h-1.3zM401.9 226.1h1.3v1.3h-1.3zM403.1 235.1h1.3v1.3h-1.3zM312.1 284.1h1.3v1.3h-1.3zM334.9 224.1h1.3v1.3h-1.3zM367.6 198.9h1.3v1.3h-1.3zM369.2 216.8h1.3v1.3h-1.3zM361.3 232.0h1.3v1.3h-1.3zM405.0 236.5h1.3v1.3h-1.3zM355.9 202.0h1.3v1.3h-1.3zM403.9 244.6h1.3v1.3h-1.3zM373.7 257.5h1.3v1.3h-1.3zM311.0 283.8h1.3v1.3h-1.3zM402.0 226.6h1.3v1.3h-1.3zM367.9 264.5h1.3v1.3h-1.3zM339.1 227.4h1.3v1.3h-1.3zM407.0 228.8h1.3v1.3h-1.3zM415.0 218.5h1.3v1.3h-1.3zM343.9 230.0h1.3v1.3h-1.3zM313.3 278.7h1.3v1.3h-1.3zM400.5 219.0h1.3v1.3h-1.3zM360.9 194.8h1.3v1.3h-1.3zM318.4 285.6h1.3v1.3h-1.3zM361.3 203.0h1.3v1.3h-1.3zM358.2 210.8h1.3v1.3h-1.3zM385.8 224.3h1.3v1.3h-1.3zM355.6 223.2h1.3v1.3h-1.3zM342.8 231.8h1.3v1.3h-1.3zM326.1 221.9h1.3v1.3h-1.3zM360.4 197.0h1.3v1.3h-1.3zM383.1 229.4h1.3v1.3h-1.3zM353.5 211.3h1.3v1.3h-1.3zM356.2 221.5h1.3v1.3h-1.3zM414.6 233.1h1.3v1.3h-1.3zM417.6 224.1h1.3v1.3h-1.3zM329.0 277.1h1.3v1.3h-1.3zM337.2 221.5h1.3v1.3h-1.3zM412.1 239.5h1.3v1.3h-1.3zM377.0 252.5h1.3v1.3h-1.3zM400.3 223.8h1.3v1.3h-1.3zM337.3 216.9h1.3v1.3h-1.3zM356.8 197.4h1.3v1.3h-1.3zM345.8 216.6h1.3v1.3h-1.3zM317.8 273.4h1.3v1.3h-1.3zM324.4 281.1h1.3v1.3h-1.3zM364.9 206.0h1.3v1.3h-1.3zM312.5 290.8h1.3v1.3h-1.3zM403.5 218.3h1.3v1.3h-1.3zM407.7 239.2h1.3v1.3h-1.3zM322.2 281.0h1.3v1.3h-1.3zM374.8 204.5h1.3v1.3h-1.3zM311.1 277.6h1.3v1.3h-1.3zM401.8 226.3h1.3v1.3h-1.3zM367.6 256.8h1.3v1.3h-1.3zM322.0 275.9h1.3v1.3h-1.3zM341.6 227.7h1.3v1.3h-1.3zM316.3 271.7h1.3v1.3h-1.3zM361.7 228.5h1.3v1.3h-1.3zM325.5 269.2h1.3v1.3h-1.3zM407.7 234.8h1.3v1.3h-1.3zM367.4 210.3h1.3v1.3h-1.3zM323.9 278.4h1.3v1.3h-1.3zM359.6 199.9h1.3v1.3h-1.3zM404.3 229.9h1.3v1.3h-1.3zM351.1 204.5h1.3v1.3h-1.3zM398.9 219.5h1.3v1.3h-1.3zM374.3 199.2h1.3v1.3h-1.3zM370.4 246.0h1.3v1.3h-1.3zM316.1 279.0h1.3v1.3h-1.3zM321.6 289.0h1.3v1.3h-1.3zM333.2 226.5h1.3v1.3h-1.3zM405.0 244.1h1.3v1.3h-1.3zM369.1 211.8h1.3v1.3h-1.3zM332.3 239.1h1.3v1.3h-1.3zM356.9 237.6h1.3v1.3h-1.3zM403.9 225.7h1.3v1.3h-1.3zM338.1 221.0h1.3v1.3h-1.3zM346.7 219.7h1.3v1.3h-1.3zM376.3 248.0h1.3v1.3h-1.3zM319.4 284.9h1.3v1.3h-1.3zM353.5 213.2h1.3v1.3h-1.3zM372.1 263.2h1.3v1.3h-1.3zM402.7 241.2h1.3v1.3h-1.3zM350.6 198.2h1.3v1.3h-1.3zM409.2 241.8h1.3v1.3h-1.3zM367.8 201.3h1.3v1.3h-1.3zM407.0 238.4h1.3v1.3h-1.3zM418.6 229.2h1.3v1.3h-1.3zM406.8 217.2h1.3v1.3h-1.3zM328.9 280.6h1.3v1.3h-1.3zM406.5 227.8h1.3v1.3h-1.3zM369.1 201.6h1.3v1.3h-1.3zM385.3 241.4h1.3v1.3h-1.3zM357.3 213.0h1.3v1.3h-1.3zM378.8 254.5h1.3v1.3h-1.3zM397.6 241.9h1.3v1.3h-1.3zM388.3 244.5h1.3v1.3h-1.3zM387.8 233.1h1.3v1.3h-1.3zM342.3 204.6h1.3v1.3h-1.3zM344.7 225.7h1.3v1.3h-1.3zM345.9 202.4h1.3v1.3h-1.3zM360.1 194.7h1.3v1.3h-1.3zM365.7 254.6h1.3v1.3h-1.3zM413.7 236.1h1.3v1.3h-1.3zM398.8 235.3h1.3v1.3h-1.3zM359.2 215.5h1.3v1.3h-1.3zM322.7 281.3h1.3v1.3h-1.3zM358.6 207.9h1.3v1.3h-1.3zM357.7 192.9h1.3v1.3h-1.3zM391.7 225.2h1.3v1.3h-1.3zM362.8 242.4h1.3v1.3h-1.3zM333.4 234.4h1.3v1.3h-1.3zM327.4 221.5h1.3v1.3h-1.3zM329.9 225.2h1.3v1.3h-1.3zM403.6 226.9h1.3v1.3h-1.3zM360.4 238.9h1.3v1.3h-1.3zM372.2 254.7h1.3v1.3h-1.3z" fill="#1c9a5c"/>
<path d="M357.1 228.6h1.3v1.3h-1.3zM332.5 224.3h1.3v1.3h-1.3zM357.2 216.7h1.3v1.3h-1.3zM332.8 218.9h1.3v1.3h-1.3zM361.7 258.3h1.3v1.3h-1.3zM362.9 211.5h1.3v1.3h-1.3zM361.5 249.0h1.3v1.3h-1.3zM362.1 225.2h1.3v1.3h-1.3zM378.8 199.6h1.3v1.3h-1.3zM361.6 234.7h1.3v1.3h-1.3zM369.7 219.2h1.3v1.3h-1.3zM355.9 234.9h1.3v1.3h-1.3zM408.7 232.6h1.3v1.3h-1.3zM404.3 229.9h1.3v1.3h-1.3zM370.6 224.9h1.3v1.3h-1.3zM361.3 213.5h1.3v1.3h-1.3zM375.8 253.9h1.3v1.3h-1.3zM379.3 229.6h1.3v1.3h-1.3zM366.4 216.9h1.3v1.3h-1.3zM383.5 225.2h1.3v1.3h-1.3zM370.2 257.0h1.3v1.3h-1.3zM367.2 229.9h1.3v1.3h-1.3zM397.4 230.9h1.3v1.3h-1.3zM360.2 206.2h1.3v1.3h-1.3zM354.9 236.8h1.3v1.3h-1.3zM388.1 226.2h1.3v1.3h-1.3zM397.9 226.8h1.3v1.3h-1.3zM344.4 200.7h1.3v1.3h-1.3zM384.1 218.0h1.3v1.3h-1.3zM328.5 219.7h1.3v1.3h-1.3zM388.6 240.8h1.3v1.3h-1.3zM354.4 218.7h1.3v1.3h-1.3zM373.8 251.4h1.3v1.3h-1.3zM373.2 256.6h1.3v1.3h-1.3zM336.2 231.6h1.3v1.3h-1.3zM376.0 243.7h1.3v1.3h-1.3zM394.8 267.9h1.3v1.3h-1.3zM376.4 233.5h1.3v1.3h-1.3zM317.8 272.3h1.3v1.3h-1.3zM389.8 269.0h1.3v1.3h-1.3zM365.1 248.9h1.3v1.3h-1.3zM361.8 273.2h1.3v1.3h-1.3zM381.1 233.5h1.3v1.3h-1.3zM374.6 236.0h1.3v1.3h-1.3zM395.8 234.0h1.3v1.3h-1.3zM348.9 202.7h1.3v1.3h-1.3zM341.5 237.2h1.3v1.3h-1.3zM365.2 233.1h1.3v1.3h-1.3zM358.3 235.6h1.3v1.3h-1.3zM357.1 224.1h1.3v1.3h-1.3zM342.8 205.3h1.3v1.3h-1.3zM395.1 230.8h1.3v1.3h-1.3zM389.8 229.0h1.3v1.3h-1.3zM362.9 257.4h1.3v1.3h-1.3zM369.2 235.0h1.3v1.3h-1.3zM361.8 204.1h1.3v1.3h-1.3zM343.1 202.6h1.3v1.3h-1.3zM404.1 219.0h1.3v1.3h-1.3zM345.1 260.0h1.3v1.3h-1.3zM351.3 199.6h1.3v1.3h-1.3zM394.1 220.8h1.3v1.3h-1.3zM362.1 236.0h1.3v1.3h-1.3zM357.1 201.0h1.3v1.3h-1.3zM364.7 222.9h1.3v1.3h-1.3zM358.9 213.3h1.3v1.3h-1.3zM393.0 222.9h1.3v1.3h-1.3zM345.6 208.4h1.3v1.3h-1.3zM392.6 235.1h1.3v1.3h-1.3zM398.2 238.3h1.3v1.3h-1.3zM378.3 255.2h1.3v1.3h-1.3zM338.5 228.4h1.3v1.3h-1.3zM399.6 232.6h1.3v1.3h-1.3zM398.8 217.7h1.3v1.3h-1.3zM391.1 229.1h1.3v1.3h-1.3zM382.6 221.8h1.3v1.3h-1.3zM371.8 227.8h1.3v1.3h-1.3zM350.3 201.0h1.3v1.3h-1.3zM356.4 204.8h1.3v1.3h-1.3zM361.3 216.2h1.3v1.3h-1.3zM397.9 227.8h1.3v1.3h-1.3zM342.0 254.2h1.3v1.3h-1.3zM371.3 262.4h1.3v1.3h-1.3zM379.7 260.8h1.3v1.3h-1.3zM347.8 203.2h1.3v1.3h-1.3zM390.8 222.1h1.3v1.3h-1.3zM382.5 205.3h1.3v1.3h-1.3zM387.0 230.8h1.3v1.3h-1.3zM380.6 197.7h1.3v1.3h-1.3zM370.4 258.1h1.3v1.3h-1.3zM365.9 249.9h1.3v1.3h-1.3zM402.6 223.8h1.3v1.3h-1.3zM353.3 233.5h1.3v1.3h-1.3zM359.3 209.5h1.3v1.3h-1.3zM347.6 259.3h1.3v1.3h-1.3zM341.6 231.6h1.3v1.3h-1.3zM357.1 225.9h1.3v1.3h-1.3zM348.4 205.0h1.3v1.3h-1.3zM366.2 220.8h1.3v1.3h-1.3zM347.0 263.9h1.3v1.3h-1.3zM366.2 237.3h1.3v1.3h-1.3zM371.9 236.3h1.3v1.3h-1.3zM404.8 236.1h1.3v1.3h-1.3zM391.9 219.3h1.3v1.3h-1.3zM390.4 237.3h1.3v1.3h-1.3zM376.0 238.8h1.3v1.3h-1.3z" fill="#e0262e"/>
<path d="M368.3 234.5h1.3v1.3h-1.3zM324.3 276.4h1.3v1.3h-1.3zM362.8 211.6h1.3v1.3h-1.3zM333.0 240.1h1.3v1.3h-1.3zM403.7 217.1h1.3v1.3h-1.3zM399.7 226.2h1.3v1.3h-1.3zM379.8 227.8h1.3v1.3h-1.3zM365.5 200.5h1.3v1.3h-1.3zM343.3 261.3h1.3v1.3h-1.3zM360.5 272.7h1.3v1.3h-1.3zM359.2 213.4h1.3v1.3h-1.3zM330.5 265.8h1.3v1.3h-1.3zM322.3 278.0h1.3v1.3h-1.3zM328.4 234.8h1.3v1.3h-1.3zM330.8 223.9h1.3v1.3h-1.3zM373.4 229.3h1.3v1.3h-1.3zM360.6 202.1h1.3v1.3h-1.3zM376.6 229.7h1.3v1.3h-1.3zM346.6 253.9h1.3v1.3h-1.3zM390.7 224.8h1.3v1.3h-1.3zM358.3 202.3h1.3v1.3h-1.3zM346.4 261.0h1.3v1.3h-1.3zM406.8 240.3h1.3v1.3h-1.3zM327.9 274.2h1.3v1.3h-1.3zM371.6 213.6h1.3v1.3h-1.3zM342.5 256.1h1.3v1.3h-1.3zM392.7 239.0h1.3v1.3h-1.3zM361.7 209.2h1.3v1.3h-1.3zM359.1 242.6h1.3v1.3h-1.3zM362.7 202.3h1.3v1.3h-1.3zM360.1 217.0h1.3v1.3h-1.3zM364.9 233.4h1.3v1.3h-1.3zM346.3 262.3h1.3v1.3h-1.3zM383.2 222.3h1.3v1.3h-1.3zM327.2 222.7h1.3v1.3h-1.3zM320.9 284.9h1.3v1.3h-1.3zM352.2 256.4h1.3v1.3h-1.3zM350.1 253.0h1.3v1.3h-1.3zM327.5 270.1h1.3v1.3h-1.3zM397.1 228.6h1.3v1.3h-1.3zM390.5 266.9h1.3v1.3h-1.3zM393.3 237.2h1.3v1.3h-1.3zM361.8 227.2h1.3v1.3h-1.3zM400.8 216.8h1.3v1.3h-1.3zM335.2 269.9h1.3v1.3h-1.3zM391.8 269.2h1.3v1.3h-1.3zM348.4 251.2h1.3v1.3h-1.3zM355.8 214.0h1.3v1.3h-1.3zM321.7 284.7h1.3v1.3h-1.3zM333.6 266.8h1.3v1.3h-1.3zM343.1 217.8h1.3v1.3h-1.3zM412.6 231.4h1.3v1.3h-1.3zM362.8 210.4h1.3v1.3h-1.3zM360.3 273.0h1.3v1.3h-1.3zM358.7 198.4h1.3v1.3h-1.3zM382.9 228.6h1.3v1.3h-1.3zM328.9 273.6h1.3v1.3h-1.3zM350.3 227.1h1.3v1.3h-1.3zM325.2 226.1h1.3v1.3h-1.3zM328.9 219.3h1.3v1.3h-1.3zM313.4 280.3h1.3v1.3h-1.3zM323.8 271.8h1.3v1.3h-1.3zM365.0 237.8h1.3v1.3h-1.3zM386.3 241.3h1.3v1.3h-1.3z" fill="#f5891f"/>
<path d="M344.9 203.1h1.3v1.3h-1.3zM402.3 215.8h1.3v1.3h-1.3zM319.5 283.3h1.3v1.3h-1.3zM376.9 257.9h1.3v1.3h-1.3zM333.1 236.3h1.3v1.3h-1.3zM373.7 260.0h1.3v1.3h-1.3zM322.3 280.0h1.3v1.3h-1.3zM354.0 213.2h1.3v1.3h-1.3zM314.8 286.1h1.3v1.3h-1.3zM389.5 238.7h1.3v1.3h-1.3zM371.0 212.5h1.3v1.3h-1.3zM357.6 211.0h1.3v1.3h-1.3zM332.7 220.0h1.3v1.3h-1.3zM353.7 206.7h1.3v1.3h-1.3zM345.4 262.9h1.3v1.3h-1.3zM361.3 201.2h1.3v1.3h-1.3zM395.3 225.6h1.3v1.3h-1.3zM354.9 223.6h1.3v1.3h-1.3zM342.9 223.1h1.3v1.3h-1.3zM332.5 230.5h1.3v1.3h-1.3zM407.2 240.7h1.3v1.3h-1.3zM363.5 216.9h1.3v1.3h-1.3zM325.2 282.4h1.3v1.3h-1.3zM335.8 274.5h1.3v1.3h-1.3zM347.8 213.0h1.3v1.3h-1.3zM394.8 217.3h1.3v1.3h-1.3zM409.6 234.6h1.3v1.3h-1.3zM366.6 211.0h1.3v1.3h-1.3zM323.7 278.3h1.3v1.3h-1.3zM388.5 233.2h1.3v1.3h-1.3zM397.5 236.4h1.3v1.3h-1.3zM365.2 195.8h1.3v1.3h-1.3zM350.4 204.0h1.3v1.3h-1.3zM330.6 221.6h1.3v1.3h-1.3zM408.0 233.8h1.3v1.3h-1.3zM418.6 222.3h1.3v1.3h-1.3zM363.7 241.2h1.3v1.3h-1.3zM412.3 235.0h1.3v1.3h-1.3zM405.7 232.0h1.3v1.3h-1.3zM376.7 256.4h1.3v1.3h-1.3zM343.8 235.1h1.3v1.3h-1.3zM345.3 227.0h1.3v1.3h-1.3zM339.9 228.1h1.3v1.3h-1.3zM340.7 217.1h1.3v1.3h-1.3zM320.0 277.5h1.3v1.3h-1.3zM369.2 255.1h1.3v1.3h-1.3zM360.4 216.6h1.3v1.3h-1.3zM351.4 255.9h1.3v1.3h-1.3zM403.0 235.5h1.3v1.3h-1.3zM406.1 222.7h1.3v1.3h-1.3zM324.5 267.0h1.3v1.3h-1.3zM397.5 224.6h1.3v1.3h-1.3zM349.0 214.2h1.3v1.3h-1.3zM371.0 254.5h1.3v1.3h-1.3zM373.9 192.9h1.3v1.3h-1.3zM339.7 218.5h1.3v1.3h-1.3zM372.7 195.3h1.3v1.3h-1.3zM340.1 234.8h1.3v1.3h-1.3zM351.0 197.1h1.3v1.3h-1.3zM413.8 217.7h1.3v1.3h-1.3zM362.2 203.1h1.3v1.3h-1.3zM317.3 272.6h1.3v1.3h-1.3zM317.6 274.1h1.3v1.3h-1.3zM343.3 236.5h1.3v1.3h-1.3zM336.2 230.2h1.3v1.3h-1.3zM397.3 230.4h1.3v1.3h-1.3zM315.9 280.3h1.3v1.3h-1.3zM349.5 196.9h1.3v1.3h-1.3zM394.6 218.9h1.3v1.3h-1.3zM398.0 242.9h1.3v1.3h-1.3zM317.8 275.9h1.3v1.3h-1.3zM401.7 230.7h1.3v1.3h-1.3zM364.6 208.4h1.3v1.3h-1.3zM338.9 227.6h1.3v1.3h-1.3zM332.7 268.9h1.3v1.3h-1.3zM311.5 274.5h1.3v1.3h-1.3zM360.4 210.5h1.3v1.3h-1.3zM410.9 233.0h1.3v1.3h-1.3zM332.5 224.7h1.3v1.3h-1.3zM358.0 202.9h1.3v1.3h-1.3zM331.0 274.6h1.3v1.3h-1.3zM416.8 223.2h1.3v1.3h-1.3zM391.6 224.8h1.3v1.3h-1.3zM408.9 230.0h1.3v1.3h-1.3zM406.2 241.2h1.3v1.3h-1.3zM392.3 223.4h1.3v1.3h-1.3zM368.3 213.7h1.3v1.3h-1.3zM420.7 225.5h1.3v1.3h-1.3zM364.1 205.1h1.3v1.3h-1.3zM312.2 285.3h1.3v1.3h-1.3zM357.8 203.0h1.3v1.3h-1.3zM404.6 220.8h1.3v1.3h-1.3zM340.5 232.3h1.3v1.3h-1.3zM313.8 281.2h1.3v1.3h-1.3zM420.1 222.4h1.3v1.3h-1.3zM353.2 196.9h1.3v1.3h-1.3zM328.9 271.3h1.3v1.3h-1.3zM370.9 259.0h1.3v1.3h-1.3zM369.7 257.6h1.3v1.3h-1.3zM338.3 219.2h1.3v1.3h-1.3zM336.5 272.2h1.3v1.3h-1.3zM348.6 209.0h1.3v1.3h-1.3zM365.8 210.0h1.3v1.3h-1.3zM418.4 227.0h1.3v1.3h-1.3zM322.7 280.3h1.3v1.3h-1.3zM406.7 237.1h1.3v1.3h-1.3zM312.6 283.6h1.3v1.3h-1.3zM369.3 217.3h1.3v1.3h-1.3zM368.2 193.0h1.3v1.3h-1.3zM361.8 213.5h1.3v1.3h-1.3zM362.2 211.9h1.3v1.3h-1.3zM343.7 228.0h1.3v1.3h-1.3zM343.4 215.3h1.3v1.3h-1.3zM366.4 225.7h1.3v1.3h-1.3zM409.2 228.8h1.3v1.3h-1.3zM349.6 196.5h1.3v1.3h-1.3zM333.2 235.3h1.3v1.3h-1.3zM403.0 226.2h1.3v1.3h-1.3zM328.2 225.8h1.3v1.3h-1.3zM391.2 226.3h1.3v1.3h-1.3zM320.5 276.5h1.3v1.3h-1.3zM367.3 194.7h1.3v1.3h-1.3zM363.0 255.4h1.3v1.3h-1.3zM414.3 228.3h1.3v1.3h-1.3zM409.4 219.3h1.3v1.3h-1.3zM337.5 216.4h1.3v1.3h-1.3zM363.5 250.6h1.3v1.3h-1.3zM396.4 245.2h1.3v1.3h-1.3zM343.5 225.1h1.3v1.3h-1.3zM396.5 243.3h1.3v1.3h-1.3zM337.2 271.3h1.3v1.3h-1.3zM404.9 223.8h1.3v1.3h-1.3zM361.1 212.7h1.3v1.3h-1.3zM323.6 269.1h1.3v1.3h-1.3zM407.5 237.8h1.3v1.3h-1.3zM344.1 231.0h1.3v1.3h-1.3zM399.4 225.1h1.3v1.3h-1.3zM401.2 228.9h1.3v1.3h-1.3zM367.7 249.2h1.3v1.3h-1.3zM365.9 258.7h1.3v1.3h-1.3zM403.6 240.4h1.3v1.3h-1.3zM393.7 245.8h1.3v1.3h-1.3zM368.1 210.3h1.3v1.3h-1.3zM337.5 236.7h1.3v1.3h-1.3zM331.6 271.2h1.3v1.3h-1.3zM333.0 269.1h1.3v1.3h-1.3zM412.7 231.8h1.3v1.3h-1.3zM408.7 220.2h1.3v1.3h-1.3zM368.8 243.1h1.3v1.3h-1.3zM335.1 271.1h1.3v1.3h-1.3zM321.8 281.3h1.3v1.3h-1.3zM368.0 215.7h1.3v1.3h-1.3zM372.0 205.1h1.3v1.3h-1.3zM337.2 228.5h1.3v1.3h-1.3zM395.0 241.5h1.3v1.3h-1.3zM327.1 267.7h1.3v1.3h-1.3zM321.7 282.3h1.3v1.3h-1.3zM339.0 226.8h1.3v1.3h-1.3zM351.3 207.3h1.3v1.3h-1.3zM326.2 269.3h1.3v1.3h-1.3zM318.0 287.7h1.3v1.3h-1.3zM393.7 225.7h1.3v1.3h-1.3zM400.8 221.9h1.3v1.3h-1.3zM317.4 280.5h1.3v1.3h-1.3zM316.3 279.3h1.3v1.3h-1.3zM311.4 281.1h1.3v1.3h-1.3zM329.8 223.5h1.3v1.3h-1.3zM332.0 221.3h1.3v1.3h-1.3zM400.8 234.0h1.3v1.3h-1.3zM411.3 219.0h1.3v1.3h-1.3zM322.3 283.9h1.3v1.3h-1.3z" fill="#1c9a5c"/>
<path d="M364.6 274.0h1.3v1.3h-1.3zM356.9 230.8h1.3v1.3h-1.3zM364.9 248.5h1.3v1.3h-1.3zM377.0 226.9h1.3v1.3h-1.3zM387.2 235.4h1.3v1.3h-1.3zM357.2 199.4h1.3v1.3h-1.3zM366.5 244.0h1.3v1.3h-1.3zM354.8 232.1h1.3v1.3h-1.3zM315.8 278.1h1.3v1.3h-1.3zM349.5 229.6h1.3v1.3h-1.3zM372.6 237.6h1.3v1.3h-1.3zM394.8 231.9h1.3v1.3h-1.3zM362.2 234.4h1.3v1.3h-1.3zM346.2 196.8h1.3v1.3h-1.3zM397.2 245.3h1.3v1.3h-1.3zM331.1 229.3h1.3v1.3h-1.3zM373.9 255.5h1.3v1.3h-1.3zM361.0 253.6h1.3v1.3h-1.3zM352.0 197.4h1.3v1.3h-1.3zM372.5 223.0h1.3v1.3h-1.3zM377.8 225.2h1.3v1.3h-1.3zM406.2 235.4h1.3v1.3h-1.3zM351.7 196.6h1.3v1.3h-1.3zM363.1 241.3h1.3v1.3h-1.3zM371.8 227.9h1.3v1.3h-1.3zM364.9 249.3h1.3v1.3h-1.3zM365.2 209.0h1.3v1.3h-1.3zM385.7 223.2h1.3v1.3h-1.3zM381.9 232.0h1.3v1.3h-1.3zM378.9 229.6h1.3v1.3h-1.3zM396.0 218.5h1.3v1.3h-1.3zM357.6 222.3h1.3v1.3h-1.3zM372.3 256.5h1.3v1.3h-1.3zM396.2 230.6h1.3v1.3h-1.3zM371.2 239.2h1.3v1.3h-1.3zM368.4 248.3h1.3v1.3h-1.3zM364.7 234.1h1.3v1.3h-1.3zM391.0 240.5h1.3v1.3h-1.3zM377.5 227.2h1.3v1.3h-1.3zM391.3 242.6h1.3v1.3h-1.3zM355.0 203.2h1.3v1.3h-1.3zM362.1 219.9h1.3v1.3h-1.3zM371.5 255.8h1.3v1.3h-1.3zM368.6 217.1h1.3v1.3h-1.3zM358.0 233.0h1.3v1.3h-1.3zM326.6 232.3h1.3v1.3h-1.3zM370.7 227.7h1.3v1.3h-1.3zM393.9 217.7h1.3v1.3h-1.3zM345.0 202.0h1.3v1.3h-1.3zM402.2 242.0h1.3v1.3h-1.3zM369.7 234.8h1.3v1.3h-1.3zM364.5 274.1h1.3v1.3h-1.3zM373.7 239.4h1.3v1.3h-1.3zM358.4 205.9h1.3v1.3h-1.3zM379.5 202.2h1.3v1.3h-1.3zM345.3 263.2h1.3v1.3h-1.3zM376.0 230.8h1.3v1.3h-1.3zM365.6 212.2h1.3v1.3h-1.3zM392.6 267.2h1.3v1.3h-1.3zM339.4 236.0h1.3v1.3h-1.3zM392.0 266.5h1.3v1.3h-1.3zM388.1 222.7h1.3v1.3h-1.3zM360.8 201.8h1.3v1.3h-1.3zM364.3 220.5h1.3v1.3h-1.3zM351.3 213.1h1.3v1.3h-1.3zM363.3 243.5h1.3v1.3h-1.3zM352.4 232.6h1.3v1.3h-1.3zM367.8 239.3h1.3v1.3h-1.3zM365.4 225.4h1.3v1.3h-1.3zM346.5 196.9h1.3v1.3h-1.3zM369.3 242.2h1.3v1.3h-1.3zM325.9 232.0h1.3v1.3h-1.3zM366.7 226.7h1.3v1.3h-1.3zM362.2 273.2h1.3v1.3h-1.3zM357.0 217.0h1.3v1.3h-1.3zM366.2 235.7h1.3v1.3h-1.3zM351.5 208.5h1.3v1.3h-1.3zM363.2 259.6h1.3v1.3h-1.3zM356.3 197.9h1.3v1.3h-1.3zM343.7 205.0h1.3v1.3h-1.3zM342.2 203.8h1.3v1.3h-1.3zM372.9 252.0h1.3v1.3h-1.3zM390.2 267.7h1.3v1.3h-1.3zM389.0 241.6h1.3v1.3h-1.3zM402.9 222.2h1.3v1.3h-1.3zM377.6 230.2h1.3v1.3h-1.3zM372.5 247.5h1.3v1.3h-1.3zM367.7 234.4h1.3v1.3h-1.3zM362.6 236.3h1.3v1.3h-1.3zM362.2 201.6h1.3v1.3h-1.3zM369.4 263.6h1.3v1.3h-1.3zM360.7 234.8h1.3v1.3h-1.3zM346.7 204.4h1.3v1.3h-1.3zM391.2 264.6h1.3v1.3h-1.3z" fill="#e0262e"/>
<path d="M351.2 213.5h1.3v1.3h-1.3zM352.8 203.4h1.3v1.3h-1.3zM401.5 234.6h1.3v1.3h-1.3zM392.1 233.5h1.3v1.3h-1.3zM339.8 221.6h1.3v1.3h-1.3zM348.7 227.8h1.3v1.3h-1.3zM361.4 213.1h1.3v1.3h-1.3zM376.4 237.1h1.3v1.3h-1.3zM317.6 267.6h1.3v1.3h-1.3zM353.7 206.6h1.3v1.3h-1.3zM325.8 272.8h1.3v1.3h-1.3zM330.3 276.0h1.3v1.3h-1.3zM370.5 210.1h1.3v1.3h-1.3zM373.4 222.3h1.3v1.3h-1.3zM360.4 208.7h1.3v1.3h-1.3zM344.7 252.4h1.3v1.3h-1.3zM356.1 200.4h1.3v1.3h-1.3zM335.6 271.2h1.3v1.3h-1.3zM356.7 205.9h1.3v1.3h-1.3zM363.6 200.7h1.3v1.3h-1.3zM400.8 225.6h1.3v1.3h-1.3zM327.4 274.8h1.3v1.3h-1.3zM312.6 282.2h1.3v1.3h-1.3zM376.2 213.0h1.3v1.3h-1.3zM346.1 263.7h1.3v1.3h-1.3zM317.1 289.7h1.3v1.3h-1.3zM360.9 214.7h1.3v1.3h-1.3zM355.5 210.9h1.3v1.3h-1.3zM344.6 230.7h1.3v1.3h-1.3zM362.2 222.2h1.3v1.3h-1.3zM347.1 259.6h1.3v1.3h-1.3zM341.0 223.9h1.3v1.3h-1.3zM311.9 280.0h1.3v1.3h-1.3zM366.3 227.3h1.3v1.3h-1.3zM349.5 255.0h1.3v1.3h-1.3zM318.6 274.8h1.3v1.3h-1.3zM342.9 258.9h1.3v1.3h-1.3zM362.3 211.6h1.3v1.3h-1.3zM369.7 195.9h1.3v1.3h-1.3zM372.0 197.4h1.3v1.3h-1.3zM389.6 221.5h1.3v1.3h-1.3zM351.7 254.4h1.3v1.3h-1.3zM352.0 209.5h1.3v1.3h-1.3zM371.0 252.3h1.3v1.3h-1.3zM383.7 230.4h1.3v1.3h-1.3zM347.3 204.1h1.3v1.3h-1.3zM317.5 273.2h1.3v1.3h-1.3zM366.5 212.8h1.3v1.3h-1.3zM346.6 262.2h1.3v1.3h-1.3zM341.4 218.1h1.3v1.3h-1.3zM347.1 260.1h1.3v1.3h-1.3zM400.5 240.4h1.3v1.3h-1.3zM369.3 224.1h1.3v1.3h-1.3zM339.9 234.6h1.3v1.3h-1.3zM371.1 242.6h1.3v1.3h-1.3zM351.1 195.8h1.3v1.3h-1.3zM352.5 224.4h1.3v1.3h-1.3zM410.2 229.6h1.3v1.3h-1.3zM326.5 285.1h1.3v1.3h-1.3zM367.7 195.8h1.3v1.3h-1.3zM366.4 197.2h1.3v1.3h-1.3zM347.9 205.7h1.3v1.3h-1.3zM351.8 217.6h1.3v1.3h-1.3zM357.4 197.8h1.3v1.3h-1.3zM352.7 218.2h1.3v1.3h-1.3zM325.3 273.3h1.3v1.3h-1.3zM362.2 217.9h1.3v1.3h-1.3zM339.8 231.2h1.3v1.3h-1.3zM319.4 270.1h1.3v1.3h-1.3zM334.1 216.2h1.3v1.3h-1.3zM348.8 261.4h1.3v1.3h-1.3zM355.2 220.9h1.3v1.3h-1.3zM315.7 270.5h1.3v1.3h-1.3zM339.4 237.6h1.3v1.3h-1.3zM362.2 203.8h1.3v1.3h-1.3zM332.4 238.2h1.3v1.3h-1.3zM346.8 252.5h1.3v1.3h-1.3zM374.6 195.6h1.3v1.3h-1.3zM416.8 232.9h1.3v1.3h-1.3zM312.1 279.5h1.3v1.3h-1.3zM326.1 271.6h1.3v1.3h-1.3zM362.4 225.0h1.3v1.3h-1.3zM367.5 197.3h1.3v1.3h-1.3zM327.7 279.9h1.3v1.3h-1.3zM381.2 200.1h1.3v1.3h-1.3z" fill="#f5891f"/>
<path d="M369.6 212.2h1.3v1.3h-1.3zM329.4 229.3h1.3v1.3h-1.3zM405.7 219.7h1.3v1.3h-1.3zM399.5 222.6h1.3v1.3h-1.3zM402.6 219.1h1.3v1.3h-1.3zM382.3 223.3h1.3v1.3h-1.3zM405.3 236.0h1.3v1.3h-1.3zM404.5 231.1h1.3v1.3h-1.3zM370.0 207.1h1.3v1.3h-1.3zM355.8 225.3h1.3v1.3h-1.3zM409.1 221.4h1.3v1.3h-1.3zM357.1 214.1h1.3v1.3h-1.3zM388.8 235.5h1.3v1.3h-1.3zM315.1 282.2h1.3v1.3h-1.3zM316.6 280.6h1.3v1.3h-1.3zM342.7 257.0h1.3v1.3h-1.3zM322.0 282.7h1.3v1.3h-1.3zM404.3 229.5h1.3v1.3h-1.3zM324.0 277.3h1.3v1.3h-1.3zM400.1 223.6h1.3v1.3h-1.3zM408.8 236.2h1.3v1.3h-1.3zM340.8 220.6h1.3v1.3h-1.3zM335.5 219.8h1.3v1.3h-1.3zM364.5 214.9h1.3v1.3h-1.3zM360.4 198.1h1.3v1.3h-1.3zM405.0 223.7h1.3v1.3h-1.3zM360.8 254.0h1.3v1.3h-1.3zM344.2 214.7h1.3v1.3h-1.3zM335.0 226.6h1.3v1.3h-1.3zM373.5 205.1h1.3v1.3h-1.3zM414.0 223.4h1.3v1.3h-1.3zM397.1 229.1h1.3v1.3h-1.3zM361.8 215.6h1.3v1.3h-1.3zM415.7 232.0h1.3v1.3h-1.3zM410.6 226.3h1.3v1.3h-1.3zM419.5 224.9h1.3v1.3h-1.3zM396.1 220.0h1.3v1.3h-1.3zM411.2 225.7h1.3v1.3h-1.3zM366.0 207.6h1.3v1.3h-1.3zM313.8 285.5h1.3v1.3h-1.3zM369.0 258.7h1.3v1.3h-1.3zM365.0 255.6h1.3v1.3h-1.3zM330.1 234.9h1.3v1.3h-1.3zM376.8 199.3h1.3v1.3h-1.3zM373.5 198.7h1.3v1.3h-1.3zM411.8 224.1h1.3v1.3h-1.3zM345.3 225.6h1.3v1.3h-1.3zM337.8 225.6h1.3v1.3h-1.3zM369.2 246.5h1.3v1.3h-1.3zM395.6 228.8h1.3v1.3h-1.3zM333.9 222.1h1.3v1.3h-1.3zM416.9 221.7h1.3v1.3h-1.3zM317.9 283.6h1.3v1.3h-1.3zM392.7 265.1h1.3v1.3h-1.3zM338.7 223.7h1.3v1.3h-1.3zM365.2 202.6h1.3v1.3h-1.3zM360.6 197.1h1.3v1.3h-1.3zM338.5 232.5h1.3v1.3h-1.3zM328.7 277.9h1.3v1.3h-1.3zM363.7 195.3h1.3v1.3h-1.3zM336.5 269.6h1.3v1.3h-1.3zM327.6 228.5h1.3v1.3h-1.3zM346.2 220.4h1.3v1.3h-1.3zM318.7 279.5h1.3v1.3h-1.3zM372.6 194.7h1.3v1.3h-1.3zM327.7 275.5h1.3v1.3h-1.3zM402.4 234.3h1.3v1.3h-1.3zM419.8 222.2h1.3v1.3h-1.3zM334.8 270.9h1.3v1.3h-1.3zM337.5 222.1h1.3v1.3h-1.3zM334.0 219.7h1.3v1.3h-1.3zM326.3 280.0h1.3v1.3h-1.3zM318.6 273.5h1.3v1.3h-1.3zM358.5 197.1h1.3v1.3h-1.3zM369.6 255.7h1.3v1.3h-1.3zM321.9 278.1h1.3v1.3h-1.3zM355.8 202.1h1.3v1.3h-1.3zM352.5 205.2h1.3v1.3h-1.3zM323.5 275.7h1.3v1.3h-1.3zM368.5 255.5h1.3v1.3h-1.3zM377.7 210.7h1.3v1.3h-1.3zM406.9 230.8h1.3v1.3h-1.3zM371.3 215.5h1.3v1.3h-1.3zM352.7 215.2h1.3v1.3h-1.3zM370.5 210.5h1.3v1.3h-1.3zM401.0 234.5h1.3v1.3h-1.3zM362.0 217.3h1.3v1.3h-1.3zM371.1 194.0h1.3v1.3h-1.3zM360.1 190.6h1.3v1.3h-1.3zM388.1 230.8h1.3v1.3h-1.3zM342.9 204.1h1.3v1.3h-1.3zM375.5 261.4h1.3v1.3h-1.3zM403.0 225.7h1.3v1.3h-1.3zM348.7 208.6h1.3v1.3h-1.3zM359.2 205.5h1.3v1.3h-1.3zM416.7 218.8h1.3v1.3h-1.3zM349.1 256.0h1.3v1.3h-1.3zM403.4 237.9h1.3v1.3h-1.3zM355.6 191.9h1.3v1.3h-1.3zM322.4 277.9h1.3v1.3h-1.3zM369.2 214.6h1.3v1.3h-1.3zM339.8 228.9h1.3v1.3h-1.3zM319.6 275.2h1.3v1.3h-1.3zM320.9 283.5h1.3v1.3h-1.3zM411.4 238.4h1.3v1.3h-1.3zM343.8 226.6h1.3v1.3h-1.3zM355.9 195.6h1.3v1.3h-1.3zM343.8 200.9h1.3v1.3h-1.3zM347.9 216.6h1.3v1.3h-1.3zM312.6 284.2h1.3v1.3h-1.3zM404.7 232.2h1.3v1.3h-1.3zM351.0 211.6h1.3v1.3h-1.3zM412.9 232.8h1.3v1.3h-1.3zM359.9 203.5h1.3v1.3h-1.3zM333.2 218.3h1.3v1.3h-1.3zM338.7 228.6h1.3v1.3h-1.3zM363.8 193.0h1.3v1.3h-1.3zM314.2 275.3h1.3v1.3h-1.3zM394.7 231.3h1.3v1.3h-1.3zM333.0 238.5h1.3v1.3h-1.3zM316.9 286.3h1.3v1.3h-1.3zM336.5 270.0h1.3v1.3h-1.3zM354.1 197.1h1.3v1.3h-1.3zM350.4 256.9h1.3v1.3h-1.3zM318.6 278.3h1.3v1.3h-1.3zM414.6 225.6h1.3v1.3h-1.3zM364.8 260.5h1.3v1.3h-1.3zM355.8 204.4h1.3v1.3h-1.3zM376.4 258.4h1.3v1.3h-1.3zM376.8 197.1h1.3v1.3h-1.3zM337.2 270.1h1.3v1.3h-1.3zM324.3 269.0h1.3v1.3h-1.3zM412.1 225.5h1.3v1.3h-1.3zM347.3 229.0h1.3v1.3h-1.3zM417.3 229.7h1.3v1.3h-1.3zM358.7 189.7h1.3v1.3h-1.3zM323.0 280.7h1.3v1.3h-1.3zM357.2 208.4h1.3v1.3h-1.3zM358.0 185.4h1.3v1.3h-1.3zM338.3 229.6h1.3v1.3h-1.3zM407.5 221.5h1.3v1.3h-1.3zM340.0 238.9h1.3v1.3h-1.3zM366.6 208.4h1.3v1.3h-1.3zM356.5 194.8h1.3v1.3h-1.3zM385.6 220.7h1.3v1.3h-1.3zM406.7 226.6h1.3v1.3h-1.3zM329.2 270.0h1.3v1.3h-1.3zM355.7 206.3h1.3v1.3h-1.3zM348.9 208.0h1.3v1.3h-1.3zM360.4 196.3h1.3v1.3h-1.3zM363.5 210.5h1.3v1.3h-1.3zM326.9 279.4h1.3v1.3h-1.3zM327.9 269.7h1.3v1.3h-1.3zM404.2 221.2h1.3v1.3h-1.3zM344.5 218.5h1.3v1.3h-1.3zM356.0 206.5h1.3v1.3h-1.3zM418.8 220.8h1.3v1.3h-1.3zM328.9 219.7h1.3v1.3h-1.3zM330.4 270.7h1.3v1.3h-1.3zM327.9 267.8h1.3v1.3h-1.3zM326.0 279.0h1.3v1.3h-1.3z" fill="#1c9a5c"/>
<path d="M335.1 235.4h1.3v1.3h-1.3zM334.4 232.2h1.3v1.3h-1.3zM333.2 238.9h1.3v1.3h-1.3zM333.3 233.6h1.3v1.3h-1.3zM332.2 231.6h1.3v1.3h-1.3zM335.3 234.0h1.3v1.3h-1.3zM342.4 234.4h1.3v1.3h-1.3zM330.0 237.1h1.3v1.3h-1.3zM333.5 228.1h1.3v1.3h-1.3zM339.7 229.4h1.3v1.3h-1.3zM332.1 232.6h1.3v1.3h-1.3zM338.3 239.3h1.3v1.3h-1.3zM334.0 228.7h1.3v1.3h-1.3zM332.3 229.9h1.3v1.3h-1.3zM329.6 231.4h1.3v1.3h-1.3zM337.7 227.5h1.3v1.3h-1.3zM338.1 234.4h1.3v1.3h-1.3zM328.4 228.2h1.3v1.3h-1.3zM331.6 236.6h1.3v1.3h-1.3zM335.2 231.6h1.3v1.3h-1.3zM328.2 233.7h1.3v1.3h-1.3zM337.4 235.8h1.3v1.3h-1.3zM341.1 229.2h1.3v1.3h-1.3zM339.0 233.5h1.3v1.3h-1.3zM334.0 239.1h1.3v1.3h-1.3zM331.4 238.5h1.3v1.3h-1.3zM341.6 234.6h1.3v1.3h-1.3zM336.8 232.0h1.3v1.3h-1.3zM334.2 235.8h1.3v1.3h-1.3zM331.2 230.2h1.3v1.3h-1.3zM334.5 232.6h1.3v1.3h-1.3zM335.7 239.2h1.3v1.3h-1.3zM337.1 230.4h1.3v1.3h-1.3zM337.1 230.0h1.3v1.3h-1.3zM334.3 237.9h1.3v1.3h-1.3zM337.1 240.3h1.3v1.3h-1.3zM336.6 236.3h1.3v1.3h-1.3zM339.1 238.5h1.3v1.3h-1.3zM329.6 237.3h1.3v1.3h-1.3zM337.2 230.5h1.3v1.3h-1.3zM338.9 233.7h1.3v1.3h-1.3zM336.6 227.7h1.3v1.3h-1.3zM336.1 231.3h1.3v1.3h-1.3zM328.0 231.4h1.3v1.3h-1.3zM342.5 231.6h1.3v1.3h-1.3zM333.2 228.9h1.3v1.3h-1.3zM342.6 230.4h1.3v1.3h-1.3zM338.6 232.4h1.3v1.3h-1.3zM334.6 239.8h1.3v1.3h-1.3zM343.4 235.9h1.3v1.3h-1.3zM339.9 234.7h1.3v1.3h-1.3zM333.7 238.1h1.3v1.3h-1.3zM334.3 239.1h1.3v1.3h-1.3zM333.4 236.4h1.3v1.3h-1.3zM335.0 238.2h1.3v1.3h-1.3zM339.1 239.7h1.3v1.3h-1.3zM335.2 227.4h1.3v1.3h-1.3zM337.3 233.1h1.3v1.3h-1.3zM335.4 237.8h1.3v1.3h-1.3zM333.7 237.9h1.3v1.3h-1.3zM340.1 231.9h1.3v1.3h-1.3zM332.3 239.8h1.3v1.3h-1.3zM331.1 230.2h1.3v1.3h-1.3zM327.5 232.1h1.3v1.3h-1.3zM399.1 243.4h1.3v1.3h-1.3zM406.1 235.8h1.3v1.3h-1.3zM410.2 230.1h1.3v1.3h-1.3zM416.1 238.1h1.3v1.3h-1.3zM401.2 239.3h1.3v1.3h-1.3zM405.2 242.7h1.3v1.3h-1.3zM415.7 240.4h1.3v1.3h-1.3zM405.9 237.5h1.3v1.3h-1.3zM407.6 243.1h1.3v1.3h-1.3zM405.4 240.4h1.3v1.3h-1.3zM404.8 233.7h1.3v1.3h-1.3zM418.0 239.0h1.3v1.3h-1.3zM410.0 239.3h1.3v1.3h-1.3zM414.2 237.4h1.3v1.3h-1.3zM397.2 237.6h1.3v1.3h-1.3zM409.3 241.6h1.3v1.3h-1.3zM407.7 236.0h1.3v1.3h-1.3zM403.7 239.7h1.3v1.3h-1.3zM409.8 240.7h1.3v1.3h-1.3zM398.7 236.8h1.3v1.3h-1.3zM406.2 240.0h1.3v1.3h-1.3zM409.4 238.1h1.3v1.3h-1.3zM404.0 236.1h1.3v1.3h-1.3zM404.6 236.3h1.3v1.3h-1.3zM413.8 235.4h1.3v1.3h-1.3zM415.1 234.6h1.3v1.3h-1.3zM398.2 240.2h1.3v1.3h-1.3zM416.0 236.6h1.3v1.3h-1.3zM409.6 236.2h1.3v1.3h-1.3zM407.9 236.0h1.3v1.3h-1.3zM403.7 235.3h1.3v1.3h-1.3zM407.0 236.8h1.3v1.3h-1.3zM413.6 241.0h1.3v1.3h-1.3zM403.7 234.4h1.3v1.3h-1.3zM406.2 241.1h1.3v1.3h-1.3zM405.8 236.7h1.3v1.3h-1.3zM415.8 241.1h1.3v1.3h-1.3zM412.0 232.0h1.3v1.3h-1.3zM412.8 239.5h1.3v1.3h-1.3zM408.6 244.0h1.3v1.3h-1.3zM407.6 239.8h1.3v1.3h-1.3zM415.7 237.8h1.3v1.3h-1.3zM407.1 243.8h1.3v1.3h-1.3zM415.9 237.9h1.3v1.3h-1.3zM410.7 241.3h1.3v1.3h-1.3zM397.0 238.9h1.3v1.3h-1.3zM403.7 242.6h1.3v1.3h-1.3zM404.3 239.5h1.3v1.3h-1.3zM405.5 230.2h1.3v1.3h-1.3zM414.2 239.4h1.3v1.3h-1.3zM408.3 238.1h1.3v1.3h-1.3zM415.6 234.5h1.3v1.3h-1.3zM405.8 231.8h1.3v1.3h-1.3zM398.6 237.0h1.3v1.3h-1.3zM409.1 238.4h1.3v1.3h-1.3zM411.2 242.2h1.3v1.3h-1.3zM414.8 235.9h1.3v1.3h-1.3zM408.8 240.1h1.3v1.3h-1.3zM407.5 238.8h1.3v1.3h-1.3zM400.4 235.2h1.3v1.3h-1.3zM408.6 239.2h1.3v1.3h-1.3zM409.5 238.8h1.3v1.3h-1.3zM415.2 235.3h1.3v1.3h-1.3zM400.7 241.6h1.3v1.3h-1.3zM415.0 234.6h1.3v1.3h-1.3zM410.1 242.4h1.3v1.3h-1.3zM397.3 240.6h1.3v1.3h-1.3zM400.7 237.5h1.3v1.3h-1.3zM410.4 233.7h1.3v1.3h-1.3zM411.4 243.8h1.3v1.3h-1.3zM407.8 239.6h1.3v1.3h-1.3zM400.2 235.7h1.3v1.3h-1.3zM399.0 234.7h1.3v1.3h-1.3zM413.1 240.9h1.3v1.3h-1.3zM412.3 235.8h1.3v1.3h-1.3zM401.1 241.9h1.3v1.3h-1.3zM401.8 240.7h1.3v1.3h-1.3zM417.5 239.4h1.3v1.3h-1.3zM405.8 238.1h1.3v1.3h-1.3zM409.7 229.9h1.3v1.3h-1.3zM415.2 241.8h1.3v1.3h-1.3zM412.1 237.3h1.3v1.3h-1.3zM403.9 237.1h1.3v1.3h-1.3zM407.4 243.9h1.3v1.3h-1.3zM416.6 242.4h1.3v1.3h-1.3zM403.5 240.1h1.3v1.3h-1.3zM414.7 238.5h1.3v1.3h-1.3zM407.6 232.7h1.3v1.3h-1.3zM414.5 241.9h1.3v1.3h-1.3zM404.6 241.6h1.3v1.3h-1.3zM326.7 267.1h1.3v1.3h-1.3zM324.5 267.1h1.3v1.3h-1.3zM326.7 269.7h1.3v1.3h-1.3zM322.6 275.2h1.3v1.3h-1.3zM324.5 275.3h1.3v1.3h-1.3zM317.7 278.4h1.3v1.3h-1.3zM315.4 276.7h1.3v1.3h-1.3zM316.6 275.6h1.3v1.3h-1.3zM317.5 272.2h1.3v1.3h-1.3zM324.2 269.7h1.3v1.3h-1.3zM316.9 271.3h1.3v1.3h-1.3zM323.5 275.4h1.3v1.3h-1.3zM325.7 274.2h1.3v1.3h-1.3zM324.4 270.0h1.3v1.3h-1.3zM319.1 279.7h1.3v1.3h-1.3zM327.6 273.1h1.3v1.3h-1.3zM320.1 275.1h1.3v1.3h-1.3zM320.8 275.9h1.3v1.3h-1.3zM317.0 275.7h1.3v1.3h-1.3zM318.9 272.8h1.3v1.3h-1.3zM319.7 275.0h1.3v1.3h-1.3zM320.5 271.9h1.3v1.3h-1.3zM320.5 275.1h1.3v1.3h-1.3zM317.9 276.7h1.3v1.3h-1.3zM320.9 274.2h1.3v1.3h-1.3zM315.3 271.7h1.3v1.3h-1.3zM322.3 272.8h1.3v1.3h-1.3zM325.9 266.9h1.3v1.3h-1.3zM321.6 273.2h1.3v1.3h-1.3zM326.2 267.8h1.3v1.3h-1.3zM325.5 268.7h1.3v1.3h-1.3zM326.1 267.0h1.3v1.3h-1.3zM321.9 278.3h1.3v1.3h-1.3zM323.1 273.2h1.3v1.3h-1.3zM326.0 273.6h1.3v1.3h-1.3zM317.8 277.7h1.3v1.3h-1.3zM324.8 270.6h1.3v1.3h-1.3zM320.5 272.5h1.3v1.3h-1.3zM329.0 267.5h1.3v1.3h-1.3zM322.2 272.7h1.3v1.3h-1.3zM349.4 202.8h1.3v1.3h-1.3zM348.5 215.6h1.3v1.3h-1.3zM351.1 215.6h1.3v1.3h-1.3zM348.7 208.3h1.3v1.3h-1.3zM349.2 218.4h1.3v1.3h-1.3zM355.5 214.8h1.3v1.3h-1.3zM350.9 217.1h1.3v1.3h-1.3zM352.1 214.7h1.3v1.3h-1.3zM350.8 205.1h1.3v1.3h-1.3zM349.9 213.6h1.3v1.3h-1.3zM347.0 210.7h1.3v1.3h-1.3zM351.2 202.8h1.3v1.3h-1.3zM349.5 216.6h1.3v1.3h-1.3zM352.9 213.3h1.3v1.3h-1.3zM349.9 211.0h1.3v1.3h-1.3zM351.1 219.1h1.3v1.3h-1.3zM349.3 213.7h1.3v1.3h-1.3zM350.9 206.1h1.3v1.3h-1.3zM354.3 216.1h1.3v1.3h-1.3zM349.9 218.0h1.3v1.3h-1.3zM350.1 219.2h1.3v1.3h-1.3zM354.2 209.5h1.3v1.3h-1.3zM354.7 212.3h1.3v1.3h-1.3zM346.8 212.1h1.3v1.3h-1.3zM351.7 209.5h1.3v1.3h-1.3zM354.4 207.7h1.3v1.3h-1.3zM354.2 212.9h1.3v1.3h-1.3zM352.8 212.5h1.3v1.3h-1.3zM350.3 220.6h1.3v1.3h-1.3zM350.4 205.7h1.3v1.3h-1.3zM354.4 212.4h1.3v1.3h-1.3zM346.1 212.5h1.3v1.3h-1.3zM350.5 203.6h1.3v1.3h-1.3zM354.7 212.4h1.3v1.3h-1.3zM349.1 210.4h1.3v1.3h-1.3zM353.2 213.5h1.3v1.3h-1.3zM352.0 212.3h1.3v1.3h-1.3zM355.4 216.5h1.3v1.3h-1.3zM353.2 215.4h1.3v1.3h-1.3zM356.2 207.8h1.3v1.3h-1.3zM367.7 223.7h1.3v1.3h-1.3zM363.1 225.8h1.3v1.3h-1.3zM363.4 227.9h1.3v1.3h-1.3zM361.7 227.8h1.3v1.3h-1.3zM363.3 224.8h1.3v1.3h-1.3zM362.2 220.8h1.3v1.3h-1.3zM367.4 224.2h1.3v1.3h-1.3zM358.0 224.1h1.3v1.3h-1.3zM359.7 227.0h1.3v1.3h-1.3zM359.8 226.1h1.3v1.3h-1.3zM364.0 221.9h1.3v1.3h-1.3zM361.4 227.7h1.3v1.3h-1.3zM358.2 227.4h1.3v1.3h-1.3zM365.9 228.3h1.3v1.3h-1.3zM362.3 219.2h1.3v1.3h-1.3zM361.8 226.7h1.3v1.3h-1.3zM356.7 225.0h1.3v1.3h-1.3zM360.2 226.6h1.3v1.3h-1.3zM355.3 225.8h1.3v1.3h-1.3zM356.7 226.9h1.3v1.3h-1.3zM369.8 255.9h1.3v1.3h-1.3zM371.1 249.1h1.3v1.3h-1.3zM369.4 256.5h1.3v1.3h-1.3zM369.5 258.2h1.3v1.3h-1.3zM370.2 254.5h1.3v1.3h-1.3zM363.2 251.8h1.3v1.3h-1.3zM363.2 250.4h1.3v1.3h-1.3zM369.5 252.9h1.3v1.3h-1.3zM366.3 254.8h1.3v1.3h-1.3zM366.5 255.1h1.3v1.3h-1.3zM373.8 248.9h1.3v1.3h-1.3zM365.5 254.7h1.3v1.3h-1.3zM370.9 254.9h1.3v1.3h-1.3zM366.4 254.9h1.3v1.3h-1.3zM366.6 256.8h1.3v1.3h-1.3zM367.1 248.4h1.3v1.3h-1.3zM363.5 255.7h1.3v1.3h-1.3zM370.1 254.6h1.3v1.3h-1.3zM366.8 250.4h1.3v1.3h-1.3zM374.0 254.9h1.3v1.3h-1.3zM371.9 255.3h1.3v1.3h-1.3zM372.7 248.8h1.3v1.3h-1.3zM374.9 254.9h1.3v1.3h-1.3zM372.1 253.4h1.3v1.3h-1.3zM375.5 249.7h1.3v1.3h-1.3zM373.9 250.2h1.3v1.3h-1.3zM367.9 254.8h1.3v1.3h-1.3zM366.2 256.3h1.3v1.3h-1.3zM366.4 253.2h1.3v1.3h-1.3zM371.5 249.7h1.3v1.3h-1.3zM345.3 261.4h1.3v1.3h-1.3zM347.0 261.3h1.3v1.3h-1.3zM347.0 252.8h1.3v1.3h-1.3zM346.4 260.7h1.3v1.3h-1.3zM347.2 256.4h1.3v1.3h-1.3zM345.2 259.0h1.3v1.3h-1.3zM344.6 258.0h1.3v1.3h-1.3zM347.5 256.7h1.3v1.3h-1.3zM349.2 256.5h1.3v1.3h-1.3zM348.6 259.0h1.3v1.3h-1.3zM348.2 259.0h1.3v1.3h-1.3zM345.3 256.5h1.3v1.3h-1.3zM346.2 259.5h1.3v1.3h-1.3zM348.0 259.7h1.3v1.3h-1.3zM346.4 259.8h1.3v1.3h-1.3zM345.9 255.8h1.3v1.3h-1.3zM345.3 255.7h1.3v1.3h-1.3zM342.9 256.8h1.3v1.3h-1.3zM346.1 259.7h1.3v1.3h-1.3zM345.8 256.3h1.3v1.3h-1.3z" fill="#e2e2e2"/>
<line x1="307" y1="186" x2="307" y2="292.3" stroke="#1a1a1a" stroke-width="1.6"/>
<path d="M307,182.8 L309.8,187.4 L307,186.60000000000002 L304.2,187.4 Z" fill="#000"/>
<line x1="306.2" y1="291.5" x2="420" y2="291.5" stroke="#1a1a1a" stroke-width="1.2"/>
<path d="M424,291.5 L419.4,288.9 L420.2,291.5 L419.4,294.1 Z" fill="#000"/>
<text transform="translate(304.3,248.5) rotate(-90)" font-size="9.6" fill="#222" textLength="19.8" lengthAdjust="spacingAndGlyphs">tSNE2</text>
<path d="M352.5 318.6h1.3v1.3h-1.3zM348.6 320.1h1.3v1.3h-1.3zM356.2 324.1h1.3v1.3h-1.3zM347.1 324.2h1.3v1.3h-1.3zM354.0 324.8h1.3v1.3h-1.3zM353.5 332.2h1.3v1.3h-1.3zM351.9 322.0h1.3v1.3h-1.3zM349.6 317.1h1.3v1.3h-1.3zM345.4 326.8h1.3v1.3h-1.3zM356.3 330.7h1.3v1.3h-1.3zM348.0 330.6h1.3v1.3h-1.3zM353.0 324.0h1.3v1.3h-1.3zM347.4 323.5h1.3v1.3h-1.3zM350.1 316.8h1.3v1.3h-1.3zM345.0 328.9h1.3v1.3h-1.3zM352.7 323.0h1.3v1.3h-1.3zM349.4 323.7h1.3v1.3h-1.3zM351.4 324.8h1.3v1.3h-1.3zM347.1 332.5h1.3v1.3h-1.3zM345.5 327.4h1.3v1.3h-1.3zM345.5 331.5h1.3v1.3h-1.3zM344.5 329.7h1.3v1.3h-1.3zM347.7 332.5h1.3v1.3h-1.3zM350.5 335.0h1.3v1.3h-1.3zM347.7 326.8h1.3v1.3h-1.3zM353.0 319.6h1.3v1.3h-1.3zM348.1 317.6h1.3v1.3h-1.3zM352.5 323.7h1.3v1.3h-1.3zM351.9 322.1h1.3v1.3h-1.3zM346.7 332.1h1.3v1.3h-1.3zM351.3 331.6h1.3v1.3h-1.3zM345.8 323.2h1.3v1.3h-1.3zM346.8 330.7h1.3v1.3h-1.3zM351.5 328.8h1.3v1.3h-1.3zM349.7 328.8h1.3v1.3h-1.3zM346.1 320.8h1.3v1.3h-1.3zM350.4 326.6h1.3v1.3h-1.3zM350.4 319.1h1.3v1.3h-1.3zM352.0 330.6h1.3v1.3h-1.3zM353.4 328.8h1.3v1.3h-1.3zM348.5 327.9h1.3v1.3h-1.3zM347.2 327.9h1.3v1.3h-1.3zM355.5 331.5h1.3v1.3h-1.3zM348.0 332.6h1.3v1.3h-1.3zM344.0 331.4h1.3v1.3h-1.3zM355.1 323.4h1.3v1.3h-1.3zM349.5 323.1h1.3v1.3h-1.3zM351.1 320.6h1.3v1.3h-1.3zM355.4 319.3h1.3v1.3h-1.3zM346.2 325.8h1.3v1.3h-1.3zM345.4 326.5h1.3v1.3h-1.3zM345.6 321.9h1.3v1.3h-1.3zM351.2 317.0h1.3v1.3h-1.3zM350.5 318.3h1.3v1.3h-1.3zM344.9 328.0h1.3v1.3h-1.3zM353.1 319.0h1.3v1.3h-1.3zM346.0 324.6h1.3v1.3h-1.3zM348.8 326.8h1.3v1.3h-1.3zM348.1 327.4h1.3v1.3h-1.3zM351.6 319.1h1.3v1.3h-1.3zM346.1 324.1h1.3v1.3h-1.3zM351.7 330.6h1.3v1.3h-1.3zM348.3 330.4h1.3v1.3h-1.3zM353.8 319.5h1.3v1.3h-1.3zM356.9 326.0h1.3v1.3h-1.3zM347.1 315.3h1.3v1.3h-1.3zM347.1 326.2h1.3v1.3h-1.3zM350.0 325.1h1.3v1.3h-1.3zM348.5 326.0h1.3v1.3h-1.3zM354.5 324.3h1.3v1.3h-1.3zM348.0 324.1h1.3v1.3h-1.3zM349.5 321.7h1.3v1.3h-1.3zM353.0 326.2h1.3v1.3h-1.3zM349.2 319.5h1.3v1.3h-1.3zM347.4 328.1h1.3v1.3h-1.3zM352.2 320.8h1.3v1.3h-1.3zM351.6 321.9h1.3v1.3h-1.3zM349.3 326.8h1.3v1.3h-1.3zM351.0 320.7h1.3v1.3h-1.3zM351.4 322.1h1.3v1.3h-1.3zM345.4 333.2h1.3v1.3h-1.3zM348.7 326.7h1.3v1.3h-1.3zM353.0 328.8h1.3v1.3h-1.3zM351.3 329.6h1.3v1.3h-1.3zM351.7 324.9h1.3v1.3h-1.3zM348.6 317.9h1.3v1.3h-1.3zM346.1 323.1h1.3v1.3h-1.3zM351.2 316.0h1.3v1.3h-1.3zM350.7 335.7h1.3v1.3h-1.3zM353.6 317.1h1.3v1.3h-1.3zM354.9 328.7h1.3v1.3h-1.3zM347.5 319.5h1.3v1.3h-1.3zM353.3 322.3h1.3v1.3h-1.3zM351.9 323.3h1.3v1.3h-1.3zM351.5 321.0h1.3v1.3h-1.3zM351.2 326.0h1.3v1.3h-1.3zM350.5 334.9h1.3v1.3h-1.3zM350.6 334.9h1.3v1.3h-1.3zM348.8 316.6h1.3v1.3h-1.3zM347.7 323.9h1.3v1.3h-1.3zM345.6 332.4h1.3v1.3h-1.3zM354.8 321.2h1.3v1.3h-1.3zM355.1 322.9h1.3v1.3h-1.3zM354.5 318.7h1.3v1.3h-1.3zM353.0 323.9h1.3v1.3h-1.3zM349.6 326.7h1.3v1.3h-1.3zM350.6 320.4h1.3v1.3h-1.3zM346.8 319.6h1.3v1.3h-1.3zM351.5 317.8h1.3v1.3h-1.3zM347.2 324.6h1.3v1.3h-1.3zM348.4 317.7h1.3v1.3h-1.3zM347.9 330.9h1.3v1.3h-1.3zM346.4 322.8h1.3v1.3h-1.3zM347.0 322.3h1.3v1.3h-1.3zM354.9 322.9h1.3v1.3h-1.3zM348.7 334.0h1.3v1.3h-1.3zM347.9 325.7h1.3v1.3h-1.3zM350.5 319.2h1.3v1.3h-1.3zM351.4 315.5h1.3v1.3h-1.3zM347.6 321.1h1.3v1.3h-1.3zM349.8 332.5h1.3v1.3h-1.3zM355.1 318.6h1.3v1.3h-1.3zM355.0 322.9h1.3v1.3h-1.3zM353.9 316.9h1.3v1.3h-1.3zM348.8 327.9h1.3v1.3h-1.3zM349.5 326.3h1.3v1.3h-1.3zM344.9 331.0h1.3v1.3h-1.3zM351.9 318.3h1.3v1.3h-1.3zM345.3 328.6h1.3v1.3h-1.3zM345.4 332.6h1.3v1.3h-1.3zM348.5 321.9h1.3v1.3h-1.3zM346.4 321.6h1.3v1.3h-1.3zM347.3 324.2h1.3v1.3h-1.3zM348.3 335.5h1.3v1.3h-1.3zM345.9 323.3h1.3v1.3h-1.3zM348.0 319.2h1.3v1.3h-1.3zM348.5 317.4h1.3v1.3h-1.3zM349.1 319.1h1.3v1.3h-1.3zM352.8 322.7h1.3v1.3h-1.3zM350.2 315.6h1.3v1.3h-1.3zM346.6 328.7h1.3v1.3h-1.3zM353.9 321.6h1.3v1.3h-1.3zM344.8 322.1h1.3v1.3h-1.3zM354.1 326.6h1.3v1.3h-1.3zM350.9 320.7h1.3v1.3h-1.3zM350.4 321.5h1.3v1.3h-1.3zM354.1 326.9h1.3v1.3h-1.3zM351.3 327.9h1.3v1.3h-1.3zM355.1 331.8h1.3v1.3h-1.3zM348.9 327.6h1.3v1.3h-1.3zM399.0 357.0h1.3v1.3h-1.3zM402.7 358.4h1.3v1.3h-1.3zM404.4 354.2h1.3v1.3h-1.3zM400.6 356.1h1.3v1.3h-1.3zM395.0 360.6h1.3v1.3h-1.3zM409.7 355.5h1.3v1.3h-1.3zM396.0 355.0h1.3v1.3h-1.3zM396.3 356.0h1.3v1.3h-1.3zM403.0 355.3h1.3v1.3h-1.3zM398.6 355.9h1.3v1.3h-1.3zM404.5 355.6h1.3v1.3h-1.3zM408.0 356.9h1.3v1.3h-1.3zM409.6 354.4h1.3v1.3h-1.3zM396.1 357.0h1.3v1.3h-1.3zM408.7 355.4h1.3v1.3h-1.3zM402.8 355.6h1.3v1.3h-1.3zM399.9 356.9h1.3v1.3h-1.3zM398.0 354.3h1.3v1.3h-1.3zM407.9 353.3h1.3v1.3h-1.3zM395.0 359.5h1.3v1.3h-1.3zM401.3 357.3h1.3v1.3h-1.3zM406.4 360.5h1.3v1.3h-1.3zM405.6 362.3h1.3v1.3h-1.3zM399.4 354.7h1.3v1.3h-1.3zM396.6 355.0h1.3v1.3h-1.3zM406.3 356.6h1.3v1.3h-1.3zM402.8 356.0h1.3v1.3h-1.3zM406.9 355.1h1.3v1.3h-1.3zM405.2 354.9h1.3v1.3h-1.3zM407.4 357.9h1.3v1.3h-1.3zM395.5 358.0h1.3v1.3h-1.3zM411.3 357.9h1.3v1.3h-1.3zM401.4 353.6h1.3v1.3h-1.3zM402.5 355.7h1.3v1.3h-1.3zM393.5 357.5h1.3v1.3h-1.3zM401.9 356.4h1.3v1.3h-1.3zM393.0 359.1h1.3v1.3h-1.3zM403.0 360.2h1.3v1.3h-1.3zM409.8 359.8h1.3v1.3h-1.3zM397.7 357.4h1.3v1.3h-1.3zM410.9 358.4h1.3v1.3h-1.3zM402.3 357.1h1.3v1.3h-1.3zM401.8 354.0h1.3v1.3h-1.3zM400.4 354.5h1.3v1.3h-1.3zM404.9 356.3h1.3v1.3h-1.3zM406.4 360.4h1.3v1.3h-1.3zM396.9 357.4h1.3v1.3h-1.3zM396.7 361.5h1.3v1.3h-1.3zM409.3 354.5h1.3v1.3h-1.3zM410.0 355.6h1.3v1.3h-1.3zM411.3 356.5h1.3v1.3h-1.3zM400.6 359.2h1.3v1.3h-1.3zM401.2 359.6h1.3v1.3h-1.3zM397.3 356.9h1.3v1.3h-1.3zM409.4 357.2h1.3v1.3h-1.3zM408.7 359.9h1.3v1.3h-1.3zM404.6 362.1h1.3v1.3h-1.3zM403.5 360.1h1.3v1.3h-1.3zM405.8 359.4h1.3v1.3h-1.3zM403.2 362.3h1.3v1.3h-1.3zM396.8 361.0h1.3v1.3h-1.3zM403.8 363.0h1.3v1.3h-1.3zM403.2 358.2h1.3v1.3h-1.3zM410.3 358.6h1.3v1.3h-1.3zM394.2 357.1h1.3v1.3h-1.3zM398.5 355.1h1.3v1.3h-1.3zM403.9 354.3h1.3v1.3h-1.3zM400.6 356.4h1.3v1.3h-1.3zM393.8 358.9h1.3v1.3h-1.3zM394.6 359.8h1.3v1.3h-1.3zM399.5 355.6h1.3v1.3h-1.3zM409.5 355.8h1.3v1.3h-1.3zM400.5 355.7h1.3v1.3h-1.3zM407.5 360.2h1.3v1.3h-1.3zM402.9 354.2h1.3v1.3h-1.3zM397.6 361.2h1.3v1.3h-1.3zM408.9 353.8h1.3v1.3h-1.3zM392.3 356.3h1.3v1.3h-1.3zM404.1 360.3h1.3v1.3h-1.3zM406.1 356.7h1.3v1.3h-1.3zM407.8 355.6h1.3v1.3h-1.3zM407.6 360.8h1.3v1.3h-1.3zM399.6 360.5h1.3v1.3h-1.3zM410.2 355.0h1.3v1.3h-1.3zM406.5 359.9h1.3v1.3h-1.3zM401.9 353.3h1.3v1.3h-1.3zM402.4 356.1h1.3v1.3h-1.3zM396.2 357.3h1.3v1.3h-1.3zM399.5 359.5h1.3v1.3h-1.3zM401.6 359.1h1.3v1.3h-1.3zM408.9 359.7h1.3v1.3h-1.3zM394.0 359.6h1.3v1.3h-1.3zM401.6 355.0h1.3v1.3h-1.3zM398.8 354.9h1.3v1.3h-1.3zM411.4 358.9h1.3v1.3h-1.3zM408.5 357.7h1.3v1.3h-1.3zM405.7 358.6h1.3v1.3h-1.3zM403.7 355.0h1.3v1.3h-1.3zM397.3 361.1h1.3v1.3h-1.3zM405.4 355.5h1.3v1.3h-1.3zM406.1 360.2h1.3v1.3h-1.3zM402.2 355.0h1.3v1.3h-1.3zM403.2 355.8h1.3v1.3h-1.3zM406.5 356.8h1.3v1.3h-1.3zM405.1 360.5h1.3v1.3h-1.3zM410.7 356.8h1.3v1.3h-1.3zM401.9 359.6h1.3v1.3h-1.3zM405.9 357.0h1.3v1.3h-1.3zM401.6 356.1h1.3v1.3h-1.3zM410.2 356.0h1.3v1.3h-1.3zM399.5 357.7h1.3v1.3h-1.3zM403.8 358.8h1.3v1.3h-1.3zM402.3 358.5h1.3v1.3h-1.3zM396.2 356.8h1.3v1.3h-1.3zM406.1 354.7h1.3v1.3h-1.3zM396.4 355.5h1.3v1.3h-1.3zM405.1 355.1h1.3v1.3h-1.3zM399.5 357.1h1.3v1.3h-1.3zM405.9 355.2h1.3v1.3h-1.3zM404.5 361.6h1.3v1.3h-1.3zM409.1 357.1h1.3v1.3h-1.3zM399.7 360.2h1.3v1.3h-1.3zM403.3 356.5h1.3v1.3h-1.3zM408.5 355.6h1.3v1.3h-1.3zM396.3 356.0h1.3v1.3h-1.3zM400.9 360.7h1.3v1.3h-1.3zM402.0 359.1h1.3v1.3h-1.3zM402.7 354.9h1.3v1.3h-1.3zM403.6 358.4h1.3v1.3h-1.3zM407.7 359.7h1.3v1.3h-1.3zM415.0 338.3h1.3v1.3h-1.3zM416.0 335.0h1.3v1.3h-1.3zM417.5 338.5h1.3v1.3h-1.3zM414.1 340.2h1.3v1.3h-1.3zM416.1 333.6h1.3v1.3h-1.3zM414.9 334.9h1.3v1.3h-1.3zM414.9 336.1h1.3v1.3h-1.3zM412.8 337.8h1.3v1.3h-1.3zM415.8 336.8h1.3v1.3h-1.3zM417.4 334.7h1.3v1.3h-1.3zM411.1 337.1h1.3v1.3h-1.3zM417.6 338.7h1.3v1.3h-1.3zM415.4 339.3h1.3v1.3h-1.3zM417.0 336.8h1.3v1.3h-1.3zM411.1 335.8h1.3v1.3h-1.3zM411.8 335.8h1.3v1.3h-1.3zM416.1 338.4h1.3v1.3h-1.3zM414.8 335.4h1.3v1.3h-1.3zM410.8 335.6h1.3v1.3h-1.3zM414.2 334.2h1.3v1.3h-1.3zM416.9 335.2h1.3v1.3h-1.3zM417.2 336.1h1.3v1.3h-1.3zM414.0 334.6h1.3v1.3h-1.3zM416.9 336.0h1.3v1.3h-1.3zM415.3 336.7h1.3v1.3h-1.3zM416.1 337.3h1.3v1.3h-1.3zM413.7 335.7h1.3v1.3h-1.3zM416.7 338.7h1.3v1.3h-1.3zM411.9 336.6h1.3v1.3h-1.3zM417.0 336.8h1.3v1.3h-1.3zM412.9 334.1h1.3v1.3h-1.3zM417.8 335.5h1.3v1.3h-1.3zM414.7 333.9h1.3v1.3h-1.3zM412.4 337.6h1.3v1.3h-1.3zM416.8 335.9h1.3v1.3h-1.3zM416.5 334.7h1.3v1.3h-1.3zM413.4 335.1h1.3v1.3h-1.3zM412.4 336.4h1.3v1.3h-1.3zM411.3 335.4h1.3v1.3h-1.3zM415.5 338.0h1.3v1.3h-1.3zM417.2 334.3h1.3v1.3h-1.3zM412.7 339.8h1.3v1.3h-1.3zM417.2 338.0h1.3v1.3h-1.3zM417.0 338.6h1.3v1.3h-1.3zM415.6 339.1h1.3v1.3h-1.3zM344.7 350.1h1.3v1.3h-1.3zM335.2 351.5h1.3v1.3h-1.3zM336.8 350.9h1.3v1.3h-1.3zM332.8 348.7h1.3v1.3h-1.3zM341.3 353.0h1.3v1.3h-1.3zM331.4 352.8h1.3v1.3h-1.3zM338.3 352.0h1.3v1.3h-1.3zM336.0 350.6h1.3v1.3h-1.3zM338.1 348.7h1.3v1.3h-1.3zM336.9 353.9h1.3v1.3h-1.3zM335.3 348.6h1.3v1.3h-1.3zM344.2 349.7h1.3v1.3h-1.3zM342.5 353.0h1.3v1.3h-1.3zM335.7 350.1h1.3v1.3h-1.3zM336.6 353.3h1.3v1.3h-1.3zM337.7 349.1h1.3v1.3h-1.3zM334.6 349.8h1.3v1.3h-1.3zM342.2 347.3h1.3v1.3h-1.3zM334.1 352.8h1.3v1.3h-1.3zM336.5 354.6h1.3v1.3h-1.3zM337.9 354.1h1.3v1.3h-1.3zM333.8 350.9h1.3v1.3h-1.3zM334.8 349.6h1.3v1.3h-1.3zM334.0 352.0h1.3v1.3h-1.3zM334.8 352.1h1.3v1.3h-1.3zM335.5 355.7h1.3v1.3h-1.3zM333.6 353.7h1.3v1.3h-1.3zM334.2 355.2h1.3v1.3h-1.3zM336.8 350.1h1.3v1.3h-1.3zM334.2 350.9h1.3v1.3h-1.3zM334.5 348.9h1.3v1.3h-1.3zM342.5 352.5h1.3v1.3h-1.3zM339.4 354.4h1.3v1.3h-1.3zM339.9 350.3h1.3v1.3h-1.3zM336.2 357.1h1.3v1.3h-1.3zM337.5 353.7h1.3v1.3h-1.3zM335.6 350.3h1.3v1.3h-1.3zM339.0 355.5h1.3v1.3h-1.3zM331.4 352.2h1.3v1.3h-1.3zM339.5 348.3h1.3v1.3h-1.3zM334.0 349.5h1.3v1.3h-1.3zM336.7 351.7h1.3v1.3h-1.3zM344.3 350.8h1.3v1.3h-1.3zM335.5 351.2h1.3v1.3h-1.3zM343.4 353.2h1.3v1.3h-1.3zM341.4 349.3h1.3v1.3h-1.3zM333.8 348.7h1.3v1.3h-1.3zM333.2 354.3h1.3v1.3h-1.3zM340.4 353.9h1.3v1.3h-1.3zM336.6 355.9h1.3v1.3h-1.3zM333.1 349.8h1.3v1.3h-1.3zM335.4 349.3h1.3v1.3h-1.3zM335.4 351.9h1.3v1.3h-1.3zM333.1 352.3h1.3v1.3h-1.3zM338.2 354.1h1.3v1.3h-1.3zM338.7 349.2h1.3v1.3h-1.3zM332.5 350.3h1.3v1.3h-1.3zM336.3 353.9h1.3v1.3h-1.3zM335.1 353.8h1.3v1.3h-1.3zM337.6 348.7h1.3v1.3h-1.3zM338.9 352.3h1.3v1.3h-1.3zM344.4 353.4h1.3v1.3h-1.3zM341.9 352.5h1.3v1.3h-1.3zM337.3 350.5h1.3v1.3h-1.3zM339.1 357.1h1.3v1.3h-1.3zM337.5 349.6h1.3v1.3h-1.3zM337.8 356.2h1.3v1.3h-1.3zM336.4 352.5h1.3v1.3h-1.3zM336.0 353.9h1.3v1.3h-1.3zM336.9 351.6h1.3v1.3h-1.3zM355.9 339.9h1.3v1.3h-1.3zM354.9 336.2h1.3v1.3h-1.3zM355.9 338.8h1.3v1.3h-1.3zM357.5 339.2h1.3v1.3h-1.3zM358.8 336.4h1.3v1.3h-1.3zM355.3 340.1h1.3v1.3h-1.3zM357.3 337.8h1.3v1.3h-1.3zM357.3 337.0h1.3v1.3h-1.3zM360.3 336.4h1.3v1.3h-1.3zM360.4 335.5h1.3v1.3h-1.3zM359.8 338.3h1.3v1.3h-1.3zM355.8 340.4h1.3v1.3h-1.3zM362.3 336.0h1.3v1.3h-1.3zM353.8 339.1h1.3v1.3h-1.3zM358.5 340.3h1.3v1.3h-1.3zM359.1 341.7h1.3v1.3h-1.3zM357.3 336.0h1.3v1.3h-1.3zM357.6 337.9h1.3v1.3h-1.3zM355.1 339.4h1.3v1.3h-1.3zM361.4 335.6h1.3v1.3h-1.3zM357.5 337.8h1.3v1.3h-1.3zM359.6 335.9h1.3v1.3h-1.3zM356.2 338.7h1.3v1.3h-1.3zM357.7 339.4h1.3v1.3h-1.3zM356.9 339.0h1.3v1.3h-1.3zM359.4 341.2h1.3v1.3h-1.3zM358.0 336.5h1.3v1.3h-1.3zM358.9 336.1h1.3v1.3h-1.3zM359.3 335.9h1.3v1.3h-1.3zM357.9 340.1h1.3v1.3h-1.3zM356.7 338.0h1.3v1.3h-1.3zM358.4 338.8h1.3v1.3h-1.3zM362.2 336.7h1.3v1.3h-1.3zM355.1 337.0h1.3v1.3h-1.3zM359.7 338.8h1.3v1.3h-1.3zM359.1 341.1h1.3v1.3h-1.3zM356.5 337.4h1.3v1.3h-1.3zM359.0 337.1h1.3v1.3h-1.3zM354.7 337.5h1.3v1.3h-1.3zM353.4 340.1h1.3v1.3h-1.3zM358.4 340.7h1.3v1.3h-1.3zM356.4 336.2h1.3v1.3h-1.3zM362.0 339.2h1.3v1.3h-1.3zM358.8 335.1h1.3v1.3h-1.3zM358.5 338.0h1.3v1.3h-1.3zM329.0 386.1h1.3v1.3h-1.3zM319.7 391.5h1.3v1.3h-1.3zM322.2 388.6h1.3v1.3h-1.3zM324.5 388.6h1.3v1.3h-1.3zM317.3 390.7h1.3v1.3h-1.3zM318.9 386.9h1.3v1.3h-1.3zM324.1 385.9h1.3v1.3h-1.3zM323.4 384.9h1.3v1.3h-1.3zM323.6 385.3h1.3v1.3h-1.3zM321.4 385.8h1.3v1.3h-1.3zM327.5 387.3h1.3v1.3h-1.3zM327.8 386.3h1.3v1.3h-1.3zM322.9 385.7h1.3v1.3h-1.3zM320.6 387.2h1.3v1.3h-1.3zM325.2 381.9h1.3v1.3h-1.3zM324.6 386.9h1.3v1.3h-1.3zM328.1 385.7h1.3v1.3h-1.3zM326.5 381.4h1.3v1.3h-1.3zM326.2 382.4h1.3v1.3h-1.3zM324.2 384.1h1.3v1.3h-1.3zM322.3 386.9h1.3v1.3h-1.3zM321.7 385.6h1.3v1.3h-1.3zM327.9 384.0h1.3v1.3h-1.3zM317.0 389.5h1.3v1.3h-1.3zM322.6 389.9h1.3v1.3h-1.3zM322.1 390.7h1.3v1.3h-1.3zM321.9 385.2h1.3v1.3h-1.3zM318.9 389.8h1.3v1.3h-1.3zM325.6 388.4h1.3v1.3h-1.3zM326.2 381.6h1.3v1.3h-1.3zM324.4 387.7h1.3v1.3h-1.3zM322.1 385.5h1.3v1.3h-1.3zM324.5 386.8h1.3v1.3h-1.3zM319.2 391.5h1.3v1.3h-1.3zM327.3 381.8h1.3v1.3h-1.3zM321.5 386.5h1.3v1.3h-1.3zM328.4 381.1h1.3v1.3h-1.3zM325.7 388.8h1.3v1.3h-1.3zM329.5 387.0h1.3v1.3h-1.3zM328.8 386.7h1.3v1.3h-1.3zM323.3 383.3h1.3v1.3h-1.3zM320.3 383.9h1.3v1.3h-1.3zM327.8 386.0h1.3v1.3h-1.3zM323.1 383.7h1.3v1.3h-1.3zM326.5 385.7h1.3v1.3h-1.3zM323.7 387.8h1.3v1.3h-1.3zM322.2 385.5h1.3v1.3h-1.3zM322.6 386.3h1.3v1.3h-1.3zM320.9 389.3h1.3v1.3h-1.3zM323.7 385.5h1.3v1.3h-1.3zM317.5 387.5h1.3v1.3h-1.3zM319.3 389.6h1.3v1.3h-1.3zM326.6 384.5h1.3v1.3h-1.3zM321.9 384.6h1.3v1.3h-1.3zM324.3 381.9h1.3v1.3h-1.3zM324.1 386.2h1.3v1.3h-1.3zM326.3 385.9h1.3v1.3h-1.3zM322.7 384.4h1.3v1.3h-1.3zM328.7 387.1h1.3v1.3h-1.3zM321.9 382.4h1.3v1.3h-1.3zM318.7 388.5h1.3v1.3h-1.3zM328.7 381.9h1.3v1.3h-1.3zM324.3 385.5h1.3v1.3h-1.3zM326.4 384.0h1.3v1.3h-1.3zM319.2 386.6h1.3v1.3h-1.3zM327.0 388.7h1.3v1.3h-1.3zM325.7 384.4h1.3v1.3h-1.3zM321.9 383.8h1.3v1.3h-1.3zM328.4 385.9h1.3v1.3h-1.3zM319.8 389.8h1.3v1.3h-1.3zM323.2 383.7h1.3v1.3h-1.3zM323.8 382.7h1.3v1.3h-1.3zM320.3 383.8h1.3v1.3h-1.3zM324.6 387.2h1.3v1.3h-1.3zM325.5 382.8h1.3v1.3h-1.3zM393.4 373.9h1.3v1.3h-1.3zM391.8 375.2h1.3v1.3h-1.3zM391.6 374.8h1.3v1.3h-1.3zM392.3 373.7h1.3v1.3h-1.3zM391.5 370.5h1.3v1.3h-1.3zM391.2 370.5h1.3v1.3h-1.3zM390.6 377.5h1.3v1.3h-1.3zM391.2 372.2h1.3v1.3h-1.3zM392.5 372.0h1.3v1.3h-1.3zM390.9 373.6h1.3v1.3h-1.3zM392.0 373.6h1.3v1.3h-1.3zM392.9 372.1h1.3v1.3h-1.3zM390.7 376.1h1.3v1.3h-1.3zM390.3 377.4h1.3v1.3h-1.3zM391.7 378.7h1.3v1.3h-1.3zM390.6 378.1h1.3v1.3h-1.3zM361.8 300.0h1.3v1.3h-1.3zM359.5 299.3h1.3v1.3h-1.3zM361.2 300.8h1.3v1.3h-1.3zM360.4 300.5h1.3v1.3h-1.3zM360.0 299.4h1.3v1.3h-1.3zM383.0 315.0h1.3v1.3h-1.3zM383.9 316.9h1.3v1.3h-1.3zM384.0 316.0h1.3v1.3h-1.3zM383.4 315.9h1.3v1.3h-1.3zM383.1 316.8h1.3v1.3h-1.3zM384.7 315.2h1.3v1.3h-1.3zM383.7 316.0h1.3v1.3h-1.3zM382.1 315.8h1.3v1.3h-1.3zM340.0 332.6h1.3v1.3h-1.3zM337.7 334.9h1.3v1.3h-1.3zM333.8 336.1h1.3v1.3h-1.3zM335.7 338.4h1.3v1.3h-1.3zM339.8 336.1h1.3v1.3h-1.3zM336.4 338.6h1.3v1.3h-1.3zM335.6 332.3h1.3v1.3h-1.3zM338.1 332.2h1.3v1.3h-1.3zM340.2 333.3h1.3v1.3h-1.3zM336.5 336.1h1.3v1.3h-1.3zM340.4 332.9h1.3v1.3h-1.3zM335.2 335.9h1.3v1.3h-1.3zM338.7 335.3h1.3v1.3h-1.3zM334.0 335.3h1.3v1.3h-1.3zM339.1 335.6h1.3v1.3h-1.3zM338.5 332.3h1.3v1.3h-1.3zM335.3 335.3h1.3v1.3h-1.3zM335.9 339.1h1.3v1.3h-1.3zM338.1 332.6h1.3v1.3h-1.3zM337.1 332.8h1.3v1.3h-1.3zM369.0 371.8h1.3v1.3h-1.3zM368.4 375.2h1.3v1.3h-1.3zM365.4 372.9h1.3v1.3h-1.3zM369.3 375.1h1.3v1.3h-1.3zM362.5 369.5h1.3v1.3h-1.3zM367.8 376.2h1.3v1.3h-1.3zM366.4 372.7h1.3v1.3h-1.3zM361.8 373.9h1.3v1.3h-1.3zM371.1 374.0h1.3v1.3h-1.3zM368.8 373.3h1.3v1.3h-1.3zM364.7 374.0h1.3v1.3h-1.3zM367.0 372.8h1.3v1.3h-1.3zM364.8 374.4h1.3v1.3h-1.3zM368.8 372.7h1.3v1.3h-1.3zM369.3 376.0h1.3v1.3h-1.3zM362.1 394.8h1.3v1.3h-1.3zM363.1 394.9h1.3v1.3h-1.3zM363.5 394.2h1.3v1.3h-1.3zM330.5 353.1h1.3v1.3h-1.3zM332.9 343.9h1.3v1.3h-1.3zM341.5 349.6h1.3v1.3h-1.3zM329.3 350.2h1.3v1.3h-1.3zM331.5 351.4h1.3v1.3h-1.3zM331.7 354.1h1.3v1.3h-1.3zM340.5 350.5h1.3v1.3h-1.3zM338.7 349.5h1.3v1.3h-1.3zM340.1 347.1h1.3v1.3h-1.3zM334.3 350.3h1.3v1.3h-1.3zM339.6 353.3h1.3v1.3h-1.3zM332.4 346.3h1.3v1.3h-1.3zM329.1 352.9h1.3v1.3h-1.3zM333.6 348.0h1.3v1.3h-1.3zM333.8 349.8h1.3v1.3h-1.3zM336.9 344.1h1.3v1.3h-1.3zM334.9 345.9h1.3v1.3h-1.3zM337.5 353.0h1.3v1.3h-1.3zM337.7 353.3h1.3v1.3h-1.3zM338.0 344.0h1.3v1.3h-1.3zM338.1 352.7h1.3v1.3h-1.3zM340.6 348.3h1.3v1.3h-1.3zM332.5 352.4h1.3v1.3h-1.3zM342.6 346.4h1.3v1.3h-1.3zM330.3 347.9h1.3v1.3h-1.3zM335.6 345.8h1.3v1.3h-1.3z" fill="#e2e2e2"/>
<path d="M345.0 318.6h1.3v1.3h-1.3zM389.6 338.2h1.3v1.3h-1.3zM371.8 344.5h1.3v1.3h-1.3zM347.8 319.8h1.3v1.3h-1.3zM369.7 364.7h1.3v1.3h-1.3zM362.1 336.5h1.3v1.3h-1.3zM389.0 358.2h1.3v1.3h-1.3zM373.7 348.7h1.3v1.3h-1.3zM332.7 336.6h1.3v1.3h-1.3zM333.5 336.4h1.3v1.3h-1.3zM348.4 321.6h1.3v1.3h-1.3zM364.9 365.1h1.3v1.3h-1.3zM342.1 350.2h1.3v1.3h-1.3zM388.3 382.8h1.3v1.3h-1.3zM316.3 388.3h1.3v1.3h-1.3zM356.7 345.0h1.3v1.3h-1.3zM333.6 353.9h1.3v1.3h-1.3zM333.0 389.4h1.3v1.3h-1.3zM320.8 398.7h1.3v1.3h-1.3zM361.9 331.6h1.3v1.3h-1.3zM359.5 389.1h1.3v1.3h-1.3zM403.0 342.3h1.3v1.3h-1.3zM323.6 389.9h1.3v1.3h-1.3zM388.9 341.6h1.3v1.3h-1.3zM320.0 394.1h1.3v1.3h-1.3zM313.7 400.2h1.3v1.3h-1.3zM361.3 332.8h1.3v1.3h-1.3zM363.8 309.6h1.3v1.3h-1.3zM353.3 350.1h1.3v1.3h-1.3zM358.7 315.0h1.3v1.3h-1.3zM351.8 325.4h1.3v1.3h-1.3zM377.0 343.5h1.3v1.3h-1.3zM397.2 350.0h1.3v1.3h-1.3zM368.0 332.3h1.3v1.3h-1.3zM367.4 362.4h1.3v1.3h-1.3zM334.3 346.8h1.3v1.3h-1.3zM326.0 395.6h1.3v1.3h-1.3zM366.1 369.4h1.3v1.3h-1.3zM366.2 337.4h1.3v1.3h-1.3zM402.1 360.0h1.3v1.3h-1.3zM376.9 374.5h1.3v1.3h-1.3zM332.5 340.9h1.3v1.3h-1.3zM352.5 329.9h1.3v1.3h-1.3zM389.8 385.6h1.3v1.3h-1.3zM316.1 395.6h1.3v1.3h-1.3zM358.8 337.8h1.3v1.3h-1.3zM350.3 317.6h1.3v1.3h-1.3zM372.8 351.7h1.3v1.3h-1.3zM404.1 357.8h1.3v1.3h-1.3zM364.9 322.6h1.3v1.3h-1.3zM392.2 351.5h1.3v1.3h-1.3zM354.9 353.4h1.3v1.3h-1.3zM333.9 337.4h1.3v1.3h-1.3zM364.5 390.7h1.3v1.3h-1.3zM377.6 364.7h1.3v1.3h-1.3zM351.6 309.7h1.3v1.3h-1.3zM373.2 379.0h1.3v1.3h-1.3zM337.4 347.1h1.3v1.3h-1.3zM407.7 342.1h1.3v1.3h-1.3zM352.0 324.8h1.3v1.3h-1.3zM366.1 356.7h1.3v1.3h-1.3zM341.1 352.8h1.3v1.3h-1.3zM398.1 345.3h1.3v1.3h-1.3zM371.4 331.2h1.3v1.3h-1.3zM371.2 355.8h1.3v1.3h-1.3zM367.4 327.4h1.3v1.3h-1.3zM322.2 397.6h1.3v1.3h-1.3zM372.6 354.2h1.3v1.3h-1.3zM394.4 365.6h1.3v1.3h-1.3zM362.4 339.6h1.3v1.3h-1.3zM384.4 337.5h1.3v1.3h-1.3zM325.2 342.7h1.3v1.3h-1.3zM360.8 318.4h1.3v1.3h-1.3zM409.4 354.5h1.3v1.3h-1.3zM329.9 341.8h1.3v1.3h-1.3zM368.4 364.9h1.3v1.3h-1.3zM354.2 331.1h1.3v1.3h-1.3zM390.9 340.0h1.3v1.3h-1.3zM357.8 319.6h1.3v1.3h-1.3zM398.8 363.3h1.3v1.3h-1.3zM357.1 340.7h1.3v1.3h-1.3zM354.8 348.7h1.3v1.3h-1.3zM371.7 353.4h1.3v1.3h-1.3zM353.2 350.2h1.3v1.3h-1.3zM335.7 340.5h1.3v1.3h-1.3zM358.5 339.1h1.3v1.3h-1.3zM348.9 324.6h1.3v1.3h-1.3zM367.8 355.9h1.3v1.3h-1.3zM372.5 364.1h1.3v1.3h-1.3zM391.2 381.2h1.3v1.3h-1.3zM348.9 319.3h1.3v1.3h-1.3zM353.0 336.1h1.3v1.3h-1.3zM328.6 395.4h1.3v1.3h-1.3zM351.9 319.1h1.3v1.3h-1.3zM360.8 321.1h1.3v1.3h-1.3zM364.0 321.4h1.3v1.3h-1.3zM418.4 343.6h1.3v1.3h-1.3zM408.7 349.2h1.3v1.3h-1.3zM365.7 371.2h1.3v1.3h-1.3zM368.6 333.7h1.3v1.3h-1.3zM318.3 395.9h1.3v1.3h-1.3zM328.4 351.4h1.3v1.3h-1.3zM385.8 340.9h1.3v1.3h-1.3zM353.1 317.6h1.3v1.3h-1.3zM364.5 317.3h1.3v1.3h-1.3zM381.1 350.1h1.3v1.3h-1.3zM369.2 351.6h1.3v1.3h-1.3zM321.6 405.6h1.3v1.3h-1.3zM396.5 359.9h1.3v1.3h-1.3zM405.3 352.6h1.3v1.3h-1.3zM371.5 372.4h1.3v1.3h-1.3zM392.6 383.8h1.3v1.3h-1.3zM380.6 314.3h1.3v1.3h-1.3zM369.4 380.2h1.3v1.3h-1.3zM364.6 390.6h1.3v1.3h-1.3zM356.3 314.5h1.3v1.3h-1.3zM407.3 353.6h1.3v1.3h-1.3zM321.7 401.3h1.3v1.3h-1.3zM374.6 352.6h1.3v1.3h-1.3zM389.8 345.6h1.3v1.3h-1.3zM393.7 345.0h1.3v1.3h-1.3zM356.9 338.7h1.3v1.3h-1.3zM351.3 316.2h1.3v1.3h-1.3zM352.6 331.2h1.3v1.3h-1.3zM377.5 343.8h1.3v1.3h-1.3zM361.1 340.1h1.3v1.3h-1.3zM370.2 373.6h1.3v1.3h-1.3zM370.6 367.5h1.3v1.3h-1.3zM312.5 397.5h1.3v1.3h-1.3zM369.6 364.0h1.3v1.3h-1.3zM357.8 334.3h1.3v1.3h-1.3zM388.1 339.3h1.3v1.3h-1.3zM376.7 353.1h1.3v1.3h-1.3zM347.6 368.2h1.3v1.3h-1.3zM383.5 353.6h1.3v1.3h-1.3zM327.8 384.5h1.3v1.3h-1.3zM373.0 367.5h1.3v1.3h-1.3zM376.0 355.4h1.3v1.3h-1.3zM349.5 322.5h1.3v1.3h-1.3zM361.5 323.3h1.3v1.3h-1.3zM358.7 353.0h1.3v1.3h-1.3z" fill="#d81b7a"/>
<path d="M339.8 338.2h1.3v1.3h-1.3zM328.8 344.4h1.3v1.3h-1.3zM333.4 347.6h1.3v1.3h-1.3zM362.2 320.4h1.3v1.3h-1.3zM353.2 313.5h1.3v1.3h-1.3zM370.5 326.7h1.3v1.3h-1.3zM327.9 384.4h1.3v1.3h-1.3zM355.6 339.8h1.3v1.3h-1.3zM324.5 383.6h1.3v1.3h-1.3zM367.2 323.4h1.3v1.3h-1.3zM365.5 317.1h1.3v1.3h-1.3zM342.3 321.2h1.3v1.3h-1.3zM414.6 349.7h1.3v1.3h-1.3zM364.6 325.0h1.3v1.3h-1.3zM358.2 327.4h1.3v1.3h-1.3zM361.1 323.2h1.3v1.3h-1.3zM329.9 386.3h1.3v1.3h-1.3zM395.3 342.2h1.3v1.3h-1.3zM405.4 357.2h1.3v1.3h-1.3zM412.9 335.8h1.3v1.3h-1.3zM341.5 353.8h1.3v1.3h-1.3zM366.6 327.6h1.3v1.3h-1.3zM321.8 397.9h1.3v1.3h-1.3zM412.5 356.2h1.3v1.3h-1.3zM368.6 363.7h1.3v1.3h-1.3zM404.7 348.8h1.3v1.3h-1.3zM356.1 306.6h1.3v1.3h-1.3zM344.5 370.1h1.3v1.3h-1.3zM367.9 338.6h1.3v1.3h-1.3zM327.4 391.4h1.3v1.3h-1.3zM371.1 359.2h1.3v1.3h-1.3zM329.9 391.1h1.3v1.3h-1.3zM348.7 344.4h1.3v1.3h-1.3zM341.2 377.7h1.3v1.3h-1.3zM369.7 351.4h1.3v1.3h-1.3zM321.7 398.9h1.3v1.3h-1.3zM399.5 353.6h1.3v1.3h-1.3zM361.4 329.7h1.3v1.3h-1.3zM358.3 352.2h1.3v1.3h-1.3zM361.3 330.1h1.3v1.3h-1.3zM369.2 363.1h1.3v1.3h-1.3zM349.0 330.8h1.3v1.3h-1.3zM375.9 360.6h1.3v1.3h-1.3zM340.1 351.4h1.3v1.3h-1.3zM311.0 400.4h1.3v1.3h-1.3zM319.5 399.9h1.3v1.3h-1.3zM347.1 376.7h1.3v1.3h-1.3zM367.5 313.9h1.3v1.3h-1.3zM362.5 331.9h1.3v1.3h-1.3zM362.2 334.5h1.3v1.3h-1.3zM369.0 375.3h1.3v1.3h-1.3zM370.7 326.8h1.3v1.3h-1.3zM358.9 329.9h1.3v1.3h-1.3zM326.8 348.4h1.3v1.3h-1.3zM345.9 319.0h1.3v1.3h-1.3zM355.5 327.5h1.3v1.3h-1.3zM415.3 349.8h1.3v1.3h-1.3zM368.1 344.9h1.3v1.3h-1.3zM407.7 355.8h1.3v1.3h-1.3zM401.0 354.9h1.3v1.3h-1.3zM319.4 394.2h1.3v1.3h-1.3z" fill="#c9975b"/>
<path d="M396.0 338.5h1.3v1.3h-1.3zM365.9 375.3h1.3v1.3h-1.3zM320.0 403.8h1.3v1.3h-1.3zM394.9 360.3h1.3v1.3h-1.3zM337.3 333.5h1.3v1.3h-1.3zM418.6 338.9h1.3v1.3h-1.3zM405.0 360.7h1.3v1.3h-1.3zM420.7 342.1h1.3v1.3h-1.3zM372.1 379.8h1.3v1.3h-1.3zM317.4 397.1h1.3v1.3h-1.3zM342.5 372.7h1.3v1.3h-1.3zM337.5 333.0h1.3v1.3h-1.3zM339.0 343.4h1.3v1.3h-1.3zM344.1 347.6h1.3v1.3h-1.3zM406.1 340.3h1.3v1.3h-1.3zM402.7 357.8h1.3v1.3h-1.3zM412.7 348.4h1.3v1.3h-1.3zM334.8 387.5h1.3v1.3h-1.3zM345.6 350.3h1.3v1.3h-1.3zM401.9 342.7h1.3v1.3h-1.3zM324.6 345.0h1.3v1.3h-1.3zM332.0 333.4h1.3v1.3h-1.3zM343.8 317.5h1.3v1.3h-1.3zM355.9 312.2h1.3v1.3h-1.3zM342.8 353.0h1.3v1.3h-1.3zM363.5 376.6h1.3v1.3h-1.3zM338.8 356.2h1.3v1.3h-1.3zM364.0 371.3h1.3v1.3h-1.3zM360.6 313.7h1.3v1.3h-1.3zM405.6 351.5h1.3v1.3h-1.3zM406.2 357.8h1.3v1.3h-1.3zM327.7 392.1h1.3v1.3h-1.3zM403.3 351.3h1.3v1.3h-1.3zM327.9 386.3h1.3v1.3h-1.3zM337.2 386.7h1.3v1.3h-1.3zM336.3 351.4h1.3v1.3h-1.3zM322.0 392.5h1.3v1.3h-1.3zM360.8 370.6h1.3v1.3h-1.3zM368.2 326.6h1.3v1.3h-1.3zM402.6 335.7h1.3v1.3h-1.3zM396.4 357.3h1.3v1.3h-1.3zM325.2 389.9h1.3v1.3h-1.3zM316.4 405.0h1.3v1.3h-1.3zM353.0 313.4h1.3v1.3h-1.3zM328.9 397.2h1.3v1.3h-1.3zM371.0 371.1h1.3v1.3h-1.3zM350.4 373.5h1.3v1.3h-1.3zM336.5 386.2h1.3v1.3h-1.3zM394.8 333.9h1.3v1.3h-1.3zM406.1 337.8h1.3v1.3h-1.3zM417.5 336.3h1.3v1.3h-1.3zM377.0 369.1h1.3v1.3h-1.3zM367.4 326.9h1.3v1.3h-1.3zM315.8 390.5h1.3v1.3h-1.3zM363.0 379.5h1.3v1.3h-1.3zM314.2 391.9h1.3v1.3h-1.3zM414.6 350.4h1.3v1.3h-1.3zM355.7 327.9h1.3v1.3h-1.3zM401.0 351.1h1.3v1.3h-1.3zM324.8 340.7h1.3v1.3h-1.3zM375.2 373.7h1.3v1.3h-1.3zM400.8 340.8h1.3v1.3h-1.3zM369.3 333.9h1.3v1.3h-1.3zM328.7 394.5h1.3v1.3h-1.3zM352.9 318.3h1.3v1.3h-1.3zM404.9 340.4h1.3v1.3h-1.3zM326.1 388.2h1.3v1.3h-1.3zM394.1 352.4h1.3v1.3h-1.3zM379.8 344.4h1.3v1.3h-1.3zM406.7 343.2h1.3v1.3h-1.3zM361.7 345.1h1.3v1.3h-1.3zM333.2 343.1h1.3v1.3h-1.3zM362.4 341.6h1.3v1.3h-1.3zM361.8 314.5h1.3v1.3h-1.3zM323.6 385.7h1.3v1.3h-1.3zM402.3 332.4h1.3v1.3h-1.3zM371.1 310.6h1.3v1.3h-1.3zM325.3 399.7h1.3v1.3h-1.3zM401.8 342.9h1.3v1.3h-1.3zM402.4 350.9h1.3v1.3h-1.3zM328.9 335.9h1.3v1.3h-1.3zM351.1 312.4h1.3v1.3h-1.3zM413.8 334.3h1.3v1.3h-1.3zM355.6 319.5h1.3v1.3h-1.3zM369.3 340.7h1.3v1.3h-1.3zM322.3 400.5h1.3v1.3h-1.3zM357.6 354.2h1.3v1.3h-1.3zM353.5 327.9h1.3v1.3h-1.3zM360.1 307.2h1.3v1.3h-1.3zM364.5 331.5h1.3v1.3h-1.3zM364.8 377.1h1.3v1.3h-1.3zM365.2 319.2h1.3v1.3h-1.3zM331.0 391.2h1.3v1.3h-1.3zM407.6 340.3h1.3v1.3h-1.3zM337.2 387.9h1.3v1.3h-1.3zM375.5 378.0h1.3v1.3h-1.3zM373.9 309.5h1.3v1.3h-1.3zM317.5 389.8h1.3v1.3h-1.3zM388.1 347.4h1.3v1.3h-1.3zM403.4 357.8h1.3v1.3h-1.3zM338.7 340.3h1.3v1.3h-1.3zM341.6 344.3h1.3v1.3h-1.3zM321.7 399.6h1.3v1.3h-1.3zM334.1 332.8h1.3v1.3h-1.3zM359.2 319.4h1.3v1.3h-1.3zM317.8 392.5h1.3v1.3h-1.3zM358.0 319.5h1.3v1.3h-1.3zM339.2 345.7h1.3v1.3h-1.3zM357.3 329.6h1.3v1.3h-1.3zM388.0 349.0h1.3v1.3h-1.3zM358.5 313.7h1.3v1.3h-1.3zM373.4 345.9h1.3v1.3h-1.3zM336.1 390.2h1.3v1.3h-1.3zM403.9 342.3h1.3v1.3h-1.3zM328.9 387.6h1.3v1.3h-1.3zM374.2 315.3h1.3v1.3h-1.3zM342.9 320.7h1.3v1.3h-1.3zM333.9 338.7h1.3v1.3h-1.3zM369.1 318.2h1.3v1.3h-1.3zM340.8 345.3h1.3v1.3h-1.3zM392.7 381.7h1.3v1.3h-1.3zM323.8 397.8h1.3v1.3h-1.3zM412.9 349.4h1.3v1.3h-1.3zM335.7 390.3h1.3v1.3h-1.3zM399.5 342.8h1.3v1.3h-1.3zM316.6 397.2h1.3v1.3h-1.3zM370.9 375.6h1.3v1.3h-1.3zM317.8 390.0h1.3v1.3h-1.3zM345.4 338.3h1.3v1.3h-1.3zM357.2 325.0h1.3v1.3h-1.3zM396.4 358.7h1.3v1.3h-1.3zM354.9 340.2h1.3v1.3h-1.3zM383.1 346.0h1.3v1.3h-1.3zM334.9 340.7h1.3v1.3h-1.3zM349.5 313.5h1.3v1.3h-1.3zM324.4 390.1h1.3v1.3h-1.3zM323.5 392.3h1.3v1.3h-1.3z" fill="#8f86cf"/>
<path d="M319.4 388.8h1.3v1.3h-1.3zM332.8 335.5h1.3v1.3h-1.3zM376.4 350.1h1.3v1.3h-1.3zM388.7 357.4h1.3v1.3h-1.3zM384.1 334.6h1.3v1.3h-1.3zM415.6 356.6h1.3v1.3h-1.3zM332.7 385.5h1.3v1.3h-1.3zM356.5 344.4h1.3v1.3h-1.3zM408.7 338.0h1.3v1.3h-1.3zM347.5 352.4h1.3v1.3h-1.3zM331.1 386.6h1.3v1.3h-1.3zM373.7 374.1h1.3v1.3h-1.3zM313.3 404.0h1.3v1.3h-1.3zM395.1 347.4h1.3v1.3h-1.3zM325.3 389.5h1.3v1.3h-1.3zM359.0 337.0h1.3v1.3h-1.3zM393.7 362.4h1.3v1.3h-1.3zM362.1 352.6h1.3v1.3h-1.3zM349.6 313.1h1.3v1.3h-1.3zM340.0 355.5h1.3v1.3h-1.3zM366.5 360.6h1.3v1.3h-1.3zM376.0 360.3h1.3v1.3h-1.3zM344.7 342.3h1.3v1.3h-1.3zM313.8 397.8h1.3v1.3h-1.3zM346.7 321.0h1.3v1.3h-1.3zM350.0 324.1h1.3v1.3h-1.3zM364.9 348.7h1.3v1.3h-1.3zM392.0 383.1h1.3v1.3h-1.3zM357.1 345.2h1.3v1.3h-1.3zM366.5 329.4h1.3v1.3h-1.3zM376.7 373.0h1.3v1.3h-1.3zM404.7 348.5h1.3v1.3h-1.3zM407.6 338.5h1.3v1.3h-1.3zM344.5 335.1h1.3v1.3h-1.3zM362.2 389.8h1.3v1.3h-1.3zM325.9 348.6h1.3v1.3h-1.3zM369.7 312.5h1.3v1.3h-1.3zM350.8 320.9h1.3v1.3h-1.3zM400.8 350.9h1.3v1.3h-1.3zM407.5 352.0h1.3v1.3h-1.3zM320.5 393.1h1.3v1.3h-1.3zM311.4 397.7h1.3v1.3h-1.3zM396.2 347.2h1.3v1.3h-1.3zM333.9 349.5h1.3v1.3h-1.3zM366.2 352.3h1.3v1.3h-1.3zM360.4 312.9h1.3v1.3h-1.3zM385.7 339.8h1.3v1.3h-1.3zM328.8 385.0h1.3v1.3h-1.3zM319.3 395.5h1.3v1.3h-1.3zM357.2 316.0h1.3v1.3h-1.3zM360.2 322.8h1.3v1.3h-1.3zM362.2 318.2h1.3v1.3h-1.3zM358.8 351.1h1.3v1.3h-1.3zM365.1 365.5h1.3v1.3h-1.3zM313.6 396.9h1.3v1.3h-1.3zM330.0 387.2h1.3v1.3h-1.3zM371.3 379.0h1.3v1.3h-1.3zM379.7 377.4h1.3v1.3h-1.3zM343.4 339.8h1.3v1.3h-1.3zM373.9 372.1h1.3v1.3h-1.3zM373.7 362.2h1.3v1.3h-1.3zM322.4 394.5h1.3v1.3h-1.3zM361.8 389.8h1.3v1.3h-1.3zM347.4 320.2h1.3v1.3h-1.3zM399.6 349.2h1.3v1.3h-1.3zM390.3 336.6h1.3v1.3h-1.3zM398.2 354.9h1.3v1.3h-1.3zM338.3 355.8h1.3v1.3h-1.3zM372.7 352.9h1.3v1.3h-1.3zM360.4 325.3h1.3v1.3h-1.3zM367.9 381.1h1.3v1.3h-1.3zM348.8 378.0h1.3v1.3h-1.3zM354.4 335.3h1.3v1.3h-1.3zM335.5 336.4h1.3v1.3h-1.3zM372.3 373.1h1.3v1.3h-1.3zM342.2 320.4h1.3v1.3h-1.3zM312.6 400.8h1.3v1.3h-1.3zM347.3 372.4h1.3v1.3h-1.3zM376.3 364.6h1.3v1.3h-1.3zM347.6 375.9h1.3v1.3h-1.3zM397.9 344.4h1.3v1.3h-1.3zM321.3 399.9h1.3v1.3h-1.3zM408.6 347.5h1.3v1.3h-1.3zM396.1 336.6h1.3v1.3h-1.3zM309.9 405.6h1.3v1.3h-1.3zM380.6 336.9h1.3v1.3h-1.3zM352.2 373.0h1.3v1.3h-1.3zM334.9 347.3h1.3v1.3h-1.3zM387.1 339.4h1.3v1.3h-1.3zM392.6 350.2h1.3v1.3h-1.3zM363.2 376.2h1.3v1.3h-1.3zM327.1 384.3h1.3v1.3h-1.3zM328.5 336.3h1.3v1.3h-1.3zM373.2 374.1h1.3v1.3h-1.3zM361.7 374.9h1.3v1.3h-1.3zM372.9 368.6h1.3v1.3h-1.3zM356.4 321.4h1.3v1.3h-1.3zM367.6 347.3h1.3v1.3h-1.3zM382.2 341.1h1.3v1.3h-1.3zM403.6 357.0h1.3v1.3h-1.3zM379.4 350.1h1.3v1.3h-1.3zM349.0 315.4h1.3v1.3h-1.3zM355.9 318.6h1.3v1.3h-1.3zM358.3 318.9h1.3v1.3h-1.3zM365.2 325.6h1.3v1.3h-1.3zM362.7 354.2h1.3v1.3h-1.3zM391.7 340.3h1.3v1.3h-1.3zM390.2 384.3h1.3v1.3h-1.3zM354.5 328.7h1.3v1.3h-1.3zM391.0 357.1h1.3v1.3h-1.3zM355.8 318.7h1.3v1.3h-1.3zM357.6 338.9h1.3v1.3h-1.3zM368.2 325.4h1.3v1.3h-1.3zM342.0 370.8h1.3v1.3h-1.3zM358.0 349.6h1.3v1.3h-1.3zM392.9 338.7h1.3v1.3h-1.3zM327.4 338.1h1.3v1.3h-1.3zM373.2 319.3h1.3v1.3h-1.3zM386.0 342.8h1.3v1.3h-1.3zM339.4 352.6h1.3v1.3h-1.3zM360.9 354.5h1.3v1.3h-1.3zM344.7 369.0h1.3v1.3h-1.3zM392.1 350.1h1.3v1.3h-1.3zM370.4 370.8h1.3v1.3h-1.3zM350.8 370.4h1.3v1.3h-1.3zM373.2 373.2h1.3v1.3h-1.3zM416.9 338.3h1.3v1.3h-1.3zM406.1 339.3h1.3v1.3h-1.3zM381.0 314.5h1.3v1.3h-1.3zM360.2 339.4h1.3v1.3h-1.3zM345.7 323.6h1.3v1.3h-1.3zM381.4 314.3h1.3v1.3h-1.3zM336.5 386.6h1.3v1.3h-1.3zM390.8 338.7h1.3v1.3h-1.3zM372.5 339.6h1.3v1.3h-1.3zM357.1 342.5h1.3v1.3h-1.3zM352.7 331.8h1.3v1.3h-1.3zM346.2 313.4h1.3v1.3h-1.3zM322.7 396.9h1.3v1.3h-1.3zM388.6 357.4h1.3v1.3h-1.3zM361.8 332.2h1.3v1.3h-1.3zM382.6 338.4h1.3v1.3h-1.3zM364.9 354.3h1.3v1.3h-1.3zM374.4 363.6h1.3v1.3h-1.3zM397.9 343.4h1.3v1.3h-1.3zM404.0 344.8h1.3v1.3h-1.3zM355.6 322.0h1.3v1.3h-1.3zM341.6 348.2h1.3v1.3h-1.3zM333.9 383.9h1.3v1.3h-1.3zM369.2 371.7h1.3v1.3h-1.3zM384.8 341.8h1.3v1.3h-1.3zM391.2 357.3h1.3v1.3h-1.3zM363.3 342.6h1.3v1.3h-1.3zM355.1 332.6h1.3v1.3h-1.3zM353.5 329.8h1.3v1.3h-1.3z" fill="#d81b7a"/>
<path d="M344.7 379.7h1.3v1.3h-1.3zM318.6 390.1h1.3v1.3h-1.3zM361.3 317.8h1.3v1.3h-1.3zM321.9 394.7h1.3v1.3h-1.3zM342.8 321.9h1.3v1.3h-1.3zM362.2 338.8h1.3v1.3h-1.3zM369.2 331.2h1.3v1.3h-1.3zM334.0 336.3h1.3v1.3h-1.3zM361.2 369.4h1.3v1.3h-1.3zM337.2 345.1h1.3v1.3h-1.3zM362.8 327.0h1.3v1.3h-1.3zM383.2 338.9h1.3v1.3h-1.3zM317.9 400.2h1.3v1.3h-1.3zM360.5 389.3h1.3v1.3h-1.3zM334.6 347.7h1.3v1.3h-1.3zM387.2 342.8h1.3v1.3h-1.3zM344.6 347.3h1.3v1.3h-1.3zM332.3 355.7h1.3v1.3h-1.3zM411.3 335.6h1.3v1.3h-1.3zM355.1 340.6h1.3v1.3h-1.3zM358.6 324.5h1.3v1.3h-1.3zM364.8 392.2h1.3v1.3h-1.3zM343.4 331.9h1.3v1.3h-1.3zM399.1 349.2h1.3v1.3h-1.3zM406.8 356.9h1.3v1.3h-1.3zM404.4 356.9h1.3v1.3h-1.3zM342.9 334.3h1.3v1.3h-1.3zM360.5 307.6h1.3v1.3h-1.3zM338.9 335.4h1.3v1.3h-1.3zM348.4 367.8h1.3v1.3h-1.3zM335.8 391.1h1.3v1.3h-1.3zM394.0 360.3h1.3v1.3h-1.3zM337.6 349.3h1.3v1.3h-1.3zM359.8 313.9h1.3v1.3h-1.3zM351.3 326.0h1.3v1.3h-1.3zM343.7 344.6h1.3v1.3h-1.3zM322.0 399.3h1.3v1.3h-1.3zM393.9 353.3h1.3v1.3h-1.3zM324.3 393.0h1.3v1.3h-1.3zM379.3 346.2h1.3v1.3h-1.3zM372.1 352.5h1.3v1.3h-1.3zM338.6 356.7h1.3v1.3h-1.3zM316.8 397.6h1.3v1.3h-1.3zM411.2 342.3h1.3v1.3h-1.3zM365.5 324.2h1.3v1.3h-1.3zM400.5 357.0h1.3v1.3h-1.3zM320.9 401.5h1.3v1.3h-1.3zM403.7 333.7h1.3v1.3h-1.3zM347.9 322.3h1.3v1.3h-1.3zM404.8 335.1h1.3v1.3h-1.3zM342.9 339.7h1.3v1.3h-1.3zM357.1 330.7h1.3v1.3h-1.3zM311.1 392.2h1.3v1.3h-1.3z" fill="#c9975b"/>
<path d="M332.4 339.8h1.3v1.3h-1.3zM369.2 327.2h1.3v1.3h-1.3zM354.0 329.8h1.3v1.3h-1.3zM343.9 346.6h1.3v1.3h-1.3zM338.3 335.8h1.3v1.3h-1.3zM319.4 386.7h1.3v1.3h-1.3zM404.4 346.0h1.3v1.3h-1.3zM360.8 325.7h1.3v1.3h-1.3zM372.0 314.0h1.3v1.3h-1.3zM324.0 393.9h1.3v1.3h-1.3zM403.0 342.8h1.3v1.3h-1.3zM367.2 320.8h1.3v1.3h-1.3zM383.7 347.0h1.3v1.3h-1.3zM335.6 387.8h1.3v1.3h-1.3zM408.9 346.6h1.3v1.3h-1.3zM376.5 348.4h1.3v1.3h-1.3zM420.1 339.0h1.3v1.3h-1.3zM400.1 340.2h1.3v1.3h-1.3zM397.1 345.2h1.3v1.3h-1.3zM326.2 385.9h1.3v1.3h-1.3zM325.2 399.0h1.3v1.3h-1.3zM370.0 323.7h1.3v1.3h-1.3zM390.6 360.3h1.3v1.3h-1.3zM397.9 337.2h1.3v1.3h-1.3zM351.1 375.5h1.3v1.3h-1.3zM318.0 404.3h1.3v1.3h-1.3zM416.8 349.5h1.3v1.3h-1.3zM382.3 339.9h1.3v1.3h-1.3zM318.7 396.1h1.3v1.3h-1.3zM355.9 349.9h1.3v1.3h-1.3zM409.2 345.4h1.3v1.3h-1.3zM360.1 311.3h1.3v1.3h-1.3zM359.2 332.1h1.3v1.3h-1.3zM346.6 378.8h1.3v1.3h-1.3zM368.5 372.1h1.3v1.3h-1.3zM370.5 327.1h1.3v1.3h-1.3zM371.3 332.1h1.3v1.3h-1.3zM360.3 359.7h1.3v1.3h-1.3zM404.3 346.1h1.3v1.3h-1.3zM350.4 320.6h1.3v1.3h-1.3zM326.9 396.0h1.3v1.3h-1.3zM357.4 314.4h1.3v1.3h-1.3zM345.7 315.9h1.3v1.3h-1.3zM315.1 398.8h1.3v1.3h-1.3zM411.8 340.7h1.3v1.3h-1.3zM400.5 335.6h1.3v1.3h-1.3zM369.7 315.1h1.3v1.3h-1.3zM326.0 397.1h1.3v1.3h-1.3zM387.8 349.7h1.3v1.3h-1.3zM325.9 397.4h1.3v1.3h-1.3zM357.7 352.3h1.3v1.3h-1.3zM412.1 342.1h1.3v1.3h-1.3zM399.3 335.5h1.3v1.3h-1.3zM418.8 337.4h1.3v1.3h-1.3zM389.6 338.1h1.3v1.3h-1.3zM358.6 311.1h1.3v1.3h-1.3zM347.8 329.6h1.3v1.3h-1.3zM362.7 318.9h1.3v1.3h-1.3zM342.5 331.3h1.3v1.3h-1.3zM347.9 333.2h1.3v1.3h-1.3zM413.7 352.7h1.3v1.3h-1.3zM386.3 358.2h1.3v1.3h-1.3zM321.4 394.7h1.3v1.3h-1.3zM404.6 355.3h1.3v1.3h-1.3zM363.2 314.2h1.3v1.3h-1.3zM373.5 315.3h1.3v1.3h-1.3zM360.4 333.2h1.3v1.3h-1.3zM359.6 316.5h1.3v1.3h-1.3zM351.8 317.1h1.3v1.3h-1.3zM323.0 397.3h1.3v1.3h-1.3zM338.3 346.2h1.3v1.3h-1.3zM335.2 386.5h1.3v1.3h-1.3zM396.5 344.7h1.3v1.3h-1.3zM336.2 356.4h1.3v1.3h-1.3zM404.1 361.0h1.3v1.3h-1.3zM325.5 385.8h1.3v1.3h-1.3zM332.5 341.3h1.3v1.3h-1.3zM406.5 344.4h1.3v1.3h-1.3zM395.6 345.4h1.3v1.3h-1.3zM356.2 338.1h1.3v1.3h-1.3zM367.6 373.4h1.3v1.3h-1.3zM394.6 335.5h1.3v1.3h-1.3zM316.9 402.9h1.3v1.3h-1.3zM345.4 377.9h1.3v1.3h-1.3zM362.3 328.2h1.3v1.3h-1.3zM330.8 340.5h1.3v1.3h-1.3zM319.4 393.3h1.3v1.3h-1.3zM390.5 383.5h1.3v1.3h-1.3zM353.4 320.8h1.3v1.3h-1.3zM357.7 309.5h1.3v1.3h-1.3zM410.9 349.6h1.3v1.3h-1.3zM345.4 379.5h1.3v1.3h-1.3zM351.2 368.3h1.3v1.3h-1.3zM329.8 340.1h1.3v1.3h-1.3zM417.6 340.7h1.3v1.3h-1.3zM367.7 324.2h1.3v1.3h-1.3zM395.6 338.4h1.3v1.3h-1.3zM375.8 313.5h1.3v1.3h-1.3zM391.0 346.7h1.3v1.3h-1.3zM361.3 348.6h1.3v1.3h-1.3zM339.9 344.7h1.3v1.3h-1.3zM403.1 351.7h1.3v1.3h-1.3zM343.8 343.2h1.3v1.3h-1.3zM333.4 351.0h1.3v1.3h-1.3zM373.7 376.6h1.3v1.3h-1.3zM338.5 349.1h1.3v1.3h-1.3zM361.3 319.6h1.3v1.3h-1.3zM363.1 333.6h1.3v1.3h-1.3zM351.0 313.7h1.3v1.3h-1.3zM360.4 314.7h1.3v1.3h-1.3zM335.6 356.6h1.3v1.3h-1.3zM330.2 334.8h1.3v1.3h-1.3zM313.3 395.3h1.3v1.3h-1.3zM342.5 344.6h1.3v1.3h-1.3zM409.4 335.9h1.3v1.3h-1.3zM346.7 336.3h1.3v1.3h-1.3zM360.9 311.4h1.3v1.3h-1.3zM349.6 376.5h1.3v1.3h-1.3zM336.3 350.9h1.3v1.3h-1.3zM328.2 342.4h1.3v1.3h-1.3zM355.7 322.9h1.3v1.3h-1.3zM358.3 328.9h1.3v1.3h-1.3zM388.5 349.8h1.3v1.3h-1.3zM400.8 342.2h1.3v1.3h-1.3zM316.0 404.0h1.3v1.3h-1.3zM322.1 393.4h1.3v1.3h-1.3zM342.9 375.5h1.3v1.3h-1.3zM405.3 347.5h1.3v1.3h-1.3zM392.3 340.0h1.3v1.3h-1.3zM313.4 396.9h1.3v1.3h-1.3zM360.6 318.7h1.3v1.3h-1.3zM391.1 383.9h1.3v1.3h-1.3z" fill="#8f86cf"/>
<path d="M354.4 309.8h1.3v1.3h-1.3zM323.7 394.9h1.3v1.3h-1.3zM317.8 388.9h1.3v1.3h-1.3zM352.6 308.7h1.3v1.3h-1.3zM404.3 346.5h1.3v1.3h-1.3zM388.5 343.6h1.3v1.3h-1.3zM363.5 367.2h1.3v1.3h-1.3zM356.9 347.4h1.3v1.3h-1.3zM351.0 328.2h1.3v1.3h-1.3zM397.4 354.0h1.3v1.3h-1.3zM391.5 342.5h1.3v1.3h-1.3zM333.2 334.9h1.3v1.3h-1.3zM396.5 345.7h1.3v1.3h-1.3zM397.4 361.8h1.3v1.3h-1.3zM361.4 323.2h1.3v1.3h-1.3zM393.9 334.3h1.3v1.3h-1.3zM345.3 372.8h1.3v1.3h-1.3zM398.8 334.3h1.3v1.3h-1.3zM407.2 336.5h1.3v1.3h-1.3zM346.4 377.6h1.3v1.3h-1.3zM325.2 348.0h1.3v1.3h-1.3zM402.8 352.6h1.3v1.3h-1.3zM402.6 340.4h1.3v1.3h-1.3zM377.1 373.6h1.3v1.3h-1.3zM370.7 338.4h1.3v1.3h-1.3zM371.0 329.1h1.3v1.3h-1.3zM326.9 348.2h1.3v1.3h-1.3zM362.9 328.1h1.3v1.3h-1.3zM404.1 335.6h1.3v1.3h-1.3zM385.7 349.0h1.3v1.3h-1.3zM371.8 344.4h1.3v1.3h-1.3zM402.9 338.8h1.3v1.3h-1.3zM410.6 342.9h1.3v1.3h-1.3zM387.0 354.6h1.3v1.3h-1.3zM331.0 338.4h1.3v1.3h-1.3zM351.6 323.9h1.3v1.3h-1.3zM322.2 395.0h1.3v1.3h-1.3zM358.3 326.5h1.3v1.3h-1.3zM396.0 335.1h1.3v1.3h-1.3zM333.2 351.9h1.3v1.3h-1.3zM364.7 374.6h1.3v1.3h-1.3zM315.8 394.7h1.3v1.3h-1.3zM338.5 345.0h1.3v1.3h-1.3zM400.3 340.4h1.3v1.3h-1.3zM347.2 354.9h1.3v1.3h-1.3zM356.0 318.6h1.3v1.3h-1.3zM333.6 352.9h1.3v1.3h-1.3zM355.6 308.5h1.3v1.3h-1.3zM346.5 313.5h1.3v1.3h-1.3zM337.0 344.1h1.3v1.3h-1.3zM405.7 336.3h1.3v1.3h-1.3zM377.2 366.9h1.3v1.3h-1.3zM326.6 348.9h1.3v1.3h-1.3zM388.1 357.9h1.3v1.3h-1.3zM413.8 353.7h1.3v1.3h-1.3zM355.9 347.3h1.3v1.3h-1.3zM379.5 318.8h1.3v1.3h-1.3zM361.5 365.6h1.3v1.3h-1.3zM410.2 352.5h1.3v1.3h-1.3zM373.2 350.3h1.3v1.3h-1.3zM336.5 388.8h1.3v1.3h-1.3zM357.0 324.1h1.3v1.3h-1.3zM381.9 348.6h1.3v1.3h-1.3zM351.3 329.7h1.3v1.3h-1.3zM398.8 359.6h1.3v1.3h-1.3zM369.3 358.8h1.3v1.3h-1.3zM356.3 347.4h1.3v1.3h-1.3zM364.7 350.7h1.3v1.3h-1.3zM376.0 347.4h1.3v1.3h-1.3zM370.3 346.1h1.3v1.3h-1.3zM362.2 351.0h1.3v1.3h-1.3zM404.8 352.7h1.3v1.3h-1.3zM345.3 342.2h1.3v1.3h-1.3zM377.6 346.8h1.3v1.3h-1.3zM382.9 345.2h1.3v1.3h-1.3zM337.3 337.9h1.3v1.3h-1.3zM399.6 348.7h1.3v1.3h-1.3zM365.2 349.7h1.3v1.3h-1.3zM370.4 374.7h1.3v1.3h-1.3zM360.7 351.4h1.3v1.3h-1.3zM326.5 401.7h1.3v1.3h-1.3zM346.5 347.6h1.3v1.3h-1.3zM361.0 389.0h1.3v1.3h-1.3zM343.7 321.6h1.3v1.3h-1.3zM340.7 333.7h1.3v1.3h-1.3zM349.4 315.8h1.3v1.3h-1.3zM389.0 382.6h1.3v1.3h-1.3zM399.7 342.8h1.3v1.3h-1.3zM386.1 342.6h1.3v1.3h-1.3zM366.0 350.4h1.3v1.3h-1.3zM358.0 302.0h1.3v1.3h-1.3zM375.3 351.6h1.3v1.3h-1.3zM408.0 350.4h1.3v1.3h-1.3zM369.5 369.9h1.3v1.3h-1.3zM387.0 347.4h1.3v1.3h-1.3zM345.1 376.6h1.3v1.3h-1.3zM358.3 335.8h1.3v1.3h-1.3zM385.2 317.2h1.3v1.3h-1.3zM346.1 380.3h1.3v1.3h-1.3zM362.1 341.8h1.3v1.3h-1.3zM364.3 337.1h1.3v1.3h-1.3zM322.3 394.6h1.3v1.3h-1.3zM366.4 333.5h1.3v1.3h-1.3zM345.3 379.8h1.3v1.3h-1.3zM394.7 347.9h1.3v1.3h-1.3zM393.4 360.9h1.3v1.3h-1.3zM412.7 349.5h1.3v1.3h-1.3zM328.5 386.7h1.3v1.3h-1.3zM370.6 341.5h1.3v1.3h-1.3zM364.4 313.3h1.3v1.3h-1.3zM394.2 382.9h1.3v1.3h-1.3zM392.3 382.2h1.3v1.3h-1.3zM334.8 348.7h1.3v1.3h-1.3zM369.7 335.8h1.3v1.3h-1.3zM402.2 358.6h1.3v1.3h-1.3zM365.4 342.0h1.3v1.3h-1.3zM362.2 328.5h1.3v1.3h-1.3zM371.6 352.5h1.3v1.3h-1.3zM351.5 335.3h1.3v1.3h-1.3zM399.3 341.5h1.3v1.3h-1.3zM351.5 325.1h1.3v1.3h-1.3zM369.6 328.8h1.3v1.3h-1.3zM373.0 366.8h1.3v1.3h-1.3zM385.3 354.2h1.3v1.3h-1.3zM354.3 312.4h1.3v1.3h-1.3zM360.6 339.0h1.3v1.3h-1.3zM361.0 370.2h1.3v1.3h-1.3zM394.8 384.5h1.3v1.3h-1.3zM391.1 345.7h1.3v1.3h-1.3zM337.4 330.0h1.3v1.3h-1.3zM378.9 346.2h1.3v1.3h-1.3zM392.6 351.7h1.3v1.3h-1.3zM372.8 347.1h1.3v1.3h-1.3z" fill="#d81b7a"/>
<path d="M361.5 323.8h1.3v1.3h-1.3zM397.8 333.9h1.3v1.3h-1.3zM366.8 370.0h1.3v1.3h-1.3zM318.6 391.4h1.3v1.3h-1.3zM370.4 366.0h1.3v1.3h-1.3zM365.2 312.4h1.3v1.3h-1.3zM412.8 353.3h1.3v1.3h-1.3zM412.1 356.1h1.3v1.3h-1.3zM346.8 369.1h1.3v1.3h-1.3zM408.7 350.4h1.3v1.3h-1.3zM401.7 347.3h1.3v1.3h-1.3zM391.2 342.9h1.3v1.3h-1.3zM357.8 311.2h1.3v1.3h-1.3zM345.6 372.4h1.3v1.3h-1.3zM377.0 378.3h1.3v1.3h-1.3zM360.3 389.6h1.3v1.3h-1.3zM325.3 389.9h1.3v1.3h-1.3zM340.0 351.7h1.3v1.3h-1.3zM352.4 349.2h1.3v1.3h-1.3zM374.6 312.2h1.3v1.3h-1.3zM395.8 350.6h1.3v1.3h-1.3zM330.4 387.3h1.3v1.3h-1.3zM340.5 348.9h1.3v1.3h-1.3zM364.6 340.1h1.3v1.3h-1.3zM351.3 314.9h1.3v1.3h-1.3zM381.2 316.7h1.3v1.3h-1.3zM409.1 338.0h1.3v1.3h-1.3zM388.4 344.0h1.3v1.3h-1.3zM373.7 356.0h1.3v1.3h-1.3zM407.0 345.4h1.3v1.3h-1.3zM380.1 314.4h1.3v1.3h-1.3zM345.6 373.4h1.3v1.3h-1.3zM394.9 384.5h1.3v1.3h-1.3zM336.2 346.8h1.3v1.3h-1.3zM328.9 390.2h1.3v1.3h-1.3zM400.3 352.3h1.3v1.3h-1.3zM391.6 341.4h1.3v1.3h-1.3zM319.7 401.1h1.3v1.3h-1.3zM343.3 377.9h1.3v1.3h-1.3zM331.4 385.1h1.3v1.3h-1.3zM349.1 372.6h1.3v1.3h-1.3zM369.0 319.9h1.3v1.3h-1.3zM335.0 343.2h1.3v1.3h-1.3zM338.1 337.6h1.3v1.3h-1.3zM406.7 346.7h1.3v1.3h-1.3zM359.2 330.0h1.3v1.3h-1.3zM320.9 397.0h1.3v1.3h-1.3zM373.6 360.7h1.3v1.3h-1.3zM363.3 360.1h1.3v1.3h-1.3zM361.8 320.7h1.3v1.3h-1.3zM396.0 341.1h1.3v1.3h-1.3zM359.1 320.1h1.3v1.3h-1.3zM371.0 368.9h1.3v1.3h-1.3zM398.8 351.9h1.3v1.3h-1.3zM397.1 354.6h1.3v1.3h-1.3zM376.2 329.6h1.3v1.3h-1.3zM359.1 359.2h1.3v1.3h-1.3zM339.4 354.2h1.3v1.3h-1.3zM334.9 339.1h1.3v1.3h-1.3zM362.9 340.0h1.3v1.3h-1.3z" fill="#c9975b"/>
<path d="M369.7 374.2h1.3v1.3h-1.3zM339.8 347.8h1.3v1.3h-1.3zM362.3 328.5h1.3v1.3h-1.3zM354.1 338.4h1.3v1.3h-1.3zM333.1 352.9h1.3v1.3h-1.3zM333.0 385.7h1.3v1.3h-1.3zM397.1 345.7h1.3v1.3h-1.3zM378.8 371.1h1.3v1.3h-1.3zM325.7 397.2h1.3v1.3h-1.3zM351.2 330.1h1.3v1.3h-1.3zM336.0 338.6h1.3v1.3h-1.3zM332.5 347.1h1.3v1.3h-1.3zM405.2 336.0h1.3v1.3h-1.3zM404.2 337.8h1.3v1.3h-1.3zM327.7 396.5h1.3v1.3h-1.3zM405.0 340.3h1.3v1.3h-1.3zM322.7 397.9h1.3v1.3h-1.3zM388.8 352.1h1.3v1.3h-1.3zM406.8 346.9h1.3v1.3h-1.3zM397.6 358.5h1.3v1.3h-1.3zM408.7 336.8h1.3v1.3h-1.3zM389.5 338.3h1.3v1.3h-1.3zM389.5 355.3h1.3v1.3h-1.3zM343.3 353.1h1.3v1.3h-1.3zM399.4 341.7h1.3v1.3h-1.3zM404.3 346.5h1.3v1.3h-1.3zM338.7 345.2h1.3v1.3h-1.3zM316.6 403.1h1.3v1.3h-1.3zM364.8 325.0h1.3v1.3h-1.3zM393.7 342.3h1.3v1.3h-1.3zM323.8 388.4h1.3v1.3h-1.3zM328.2 385.5h1.3v1.3h-1.3zM345.3 343.6h1.3v1.3h-1.3zM407.2 357.3h1.3v1.3h-1.3zM342.3 375.2h1.3v1.3h-1.3zM334.4 332.2h1.3v1.3h-1.3zM405.7 348.6h1.3v1.3h-1.3zM407.4 348.7h1.3v1.3h-1.3zM359.2 320.9h1.3v1.3h-1.3zM344.5 336.2h1.3v1.3h-1.3zM403.9 361.2h1.3v1.3h-1.3zM334.6 334.2h1.3v1.3h-1.3zM353.7 323.2h1.3v1.3h-1.3zM313.5 405.6h1.3v1.3h-1.3zM328.9 387.9h1.3v1.3h-1.3zM392.3 338.3h1.3v1.3h-1.3zM356.5 311.4h1.3v1.3h-1.3zM352.5 321.8h1.3v1.3h-1.3zM360.7 327.3h1.3v1.3h-1.3zM373.5 321.7h1.3v1.3h-1.3zM332.0 337.9h1.3v1.3h-1.3zM351.1 321.1h1.3v1.3h-1.3zM376.8 315.9h1.3v1.3h-1.3zM330.6 390.0h1.3v1.3h-1.3zM395.0 358.1h1.3v1.3h-1.3zM346.2 337.0h1.3v1.3h-1.3zM358.3 313.8h1.3v1.3h-1.3zM318.4 402.2h1.3v1.3h-1.3zM414.6 342.2h1.3v1.3h-1.3zM388.3 361.1h1.3v1.3h-1.3zM402.0 343.2h1.3v1.3h-1.3zM340.5 371.1h1.3v1.3h-1.3zM330.6 338.2h1.3v1.3h-1.3zM386.6 336.6h1.3v1.3h-1.3zM360.4 313.6h1.3v1.3h-1.3zM327.6 345.1h1.3v1.3h-1.3zM414.3 344.9h1.3v1.3h-1.3zM355.7 327.9h1.3v1.3h-1.3zM343.7 378.5h1.3v1.3h-1.3zM357.9 332.7h1.3v1.3h-1.3zM363.0 372.0h1.3v1.3h-1.3zM361.8 330.1h1.3v1.3h-1.3zM323.9 395.0h1.3v1.3h-1.3zM321.0 397.8h1.3v1.3h-1.3zM363.2 308.1h1.3v1.3h-1.3zM358.0 341.8h1.3v1.3h-1.3zM398.9 354.0h1.3v1.3h-1.3zM374.3 315.8h1.3v1.3h-1.3zM334.1 388.5h1.3v1.3h-1.3zM360.4 355.5h1.3v1.3h-1.3zM316.3 395.9h1.3v1.3h-1.3zM406.7 353.7h1.3v1.3h-1.3zM363.5 333.5h1.3v1.3h-1.3zM398.0 359.5h1.3v1.3h-1.3zM370.9 315.9h1.3v1.3h-1.3zM363.7 357.8h1.3v1.3h-1.3zM339.8 345.5h1.3v1.3h-1.3zM368.1 326.9h1.3v1.3h-1.3zM367.0 371.8h1.3v1.3h-1.3zM419.8 338.8h1.3v1.3h-1.3zM329.2 386.6h1.3v1.3h-1.3zM332.5 336.7h1.3v1.3h-1.3zM335.1 333.1h1.3v1.3h-1.3zM342.7 373.6h1.3v1.3h-1.3zM321.1 400.7h1.3v1.3h-1.3zM328.7 337.1h1.3v1.3h-1.3zM325.9 394.4h1.3v1.3h-1.3zM312.2 401.9h1.3v1.3h-1.3zM350.6 322.6h1.3v1.3h-1.3zM404.6 337.4h1.3v1.3h-1.3zM403.6 343.5h1.3v1.3h-1.3zM407.0 355.0h1.3v1.3h-1.3zM408.4 344.6h1.3v1.3h-1.3zM339.7 335.1h1.3v1.3h-1.3zM358.9 322.6h1.3v1.3h-1.3zM399.5 346.3h1.3v1.3h-1.3zM342.2 352.7h1.3v1.3h-1.3zM415.0 335.1h1.3v1.3h-1.3zM349.6 327.6h1.3v1.3h-1.3zM312.5 407.4h1.3v1.3h-1.3zM403.4 354.5h1.3v1.3h-1.3zM363.7 311.9h1.3v1.3h-1.3zM358.7 306.3h1.3v1.3h-1.3zM347.1 376.2h1.3v1.3h-1.3zM365.0 354.4h1.3v1.3h-1.3zM344.7 338.1h1.3v1.3h-1.3zM337.1 341.3h1.3v1.3h-1.3zM357.9 323.8h1.3v1.3h-1.3zM367.7 365.8h1.3v1.3h-1.3zM314.2 396.1h1.3v1.3h-1.3zM364.9 323.7h1.3v1.3h-1.3zM349.5 371.6h1.3v1.3h-1.3zM312.1 400.7h1.3v1.3h-1.3zM372.7 311.9h1.3v1.3h-1.3zM337.5 338.7h1.3v1.3h-1.3zM416.7 335.4h1.3v1.3h-1.3zM362.0 333.9h1.3v1.3h-1.3zM318.6 404.3h1.3v1.3h-1.3zM355.2 337.5h1.3v1.3h-1.3zM397.5 341.2h1.3v1.3h-1.3zM336.3 334.2h1.3v1.3h-1.3zM412.2 357.2h1.3v1.3h-1.3zM364.1 321.7h1.3v1.3h-1.3zM329.0 393.7h1.3v1.3h-1.3zM350.6 314.8h1.3v1.3h-1.3zM337.9 357.2h1.3v1.3h-1.3zM366.3 343.9h1.3v1.3h-1.3zM396.3 336.0h1.3v1.3h-1.3zM417.3 346.3h1.3v1.3h-1.3zM370.4 314.5h1.3v1.3h-1.3zM339.1 344.0h1.3v1.3h-1.3zM386.3 357.9h1.3v1.3h-1.3zM337.5 353.3h1.3v1.3h-1.3zM312.6 398.8h1.3v1.3h-1.3zM351.4 372.5h1.3v1.3h-1.3zM360.9 331.3h1.3v1.3h-1.3zM391.8 385.8h1.3v1.3h-1.3z" fill="#8f86cf"/>
<path d="M354.0 316.3h1.3v1.3h-1.3zM343.1 369.4h1.3v1.3h-1.3zM359.9 320.1h1.3v1.3h-1.3zM398.2 345.2h1.3v1.3h-1.3zM414.9 348.8h1.3v1.3h-1.3zM375.0 355.0h1.3v1.3h-1.3zM318.6 394.9h1.3v1.3h-1.3zM363.3 339.1h1.3v1.3h-1.3zM357.0 333.6h1.3v1.3h-1.3zM327.1 341.0h1.3v1.3h-1.3zM347.1 319.9h1.3v1.3h-1.3zM326.7 345.0h1.3v1.3h-1.3zM367.3 311.3h1.3v1.3h-1.3zM375.8 370.5h1.3v1.3h-1.3zM368.7 332.9h1.3v1.3h-1.3zM365.8 326.6h1.3v1.3h-1.3zM343.8 351.7h1.3v1.3h-1.3zM330.0 386.9h1.3v1.3h-1.3zM353.6 321.0h1.3v1.3h-1.3zM397.2 361.9h1.3v1.3h-1.3zM365.9 366.5h1.3v1.3h-1.3zM344.4 317.3h1.3v1.3h-1.3zM331.1 345.9h1.3v1.3h-1.3zM327.3 345.9h1.3v1.3h-1.3zM401.2 345.5h1.3v1.3h-1.3zM366.2 353.9h1.3v1.3h-1.3zM414.1 338.9h1.3v1.3h-1.3zM353.2 329.9h1.3v1.3h-1.3zM394.8 348.5h1.3v1.3h-1.3zM402.5 357.2h1.3v1.3h-1.3zM345.6 325.0h1.3v1.3h-1.3zM337.4 352.9h1.3v1.3h-1.3zM369.2 364.1h1.3v1.3h-1.3zM408.3 346.5h1.3v1.3h-1.3zM403.2 348.2h1.3v1.3h-1.3zM372.4 372.5h1.3v1.3h-1.3zM355.4 354.8h1.3v1.3h-1.3zM333.6 383.4h1.3v1.3h-1.3zM368.0 349.0h1.3v1.3h-1.3zM369.3 366.3h1.3v1.3h-1.3zM322.7 396.2h1.3v1.3h-1.3zM370.4 362.6h1.3v1.3h-1.3zM360.8 358.9h1.3v1.3h-1.3zM393.3 383.2h1.3v1.3h-1.3zM330.3 392.6h1.3v1.3h-1.3zM406.9 347.4h1.3v1.3h-1.3zM387.2 352.0h1.3v1.3h-1.3zM349.5 346.2h1.3v1.3h-1.3zM364.6 373.6h1.3v1.3h-1.3zM356.4 333.3h1.3v1.3h-1.3zM357.2 333.3h1.3v1.3h-1.3zM363.1 357.9h1.3v1.3h-1.3zM361.1 329.3h1.3v1.3h-1.3zM336.2 348.2h1.3v1.3h-1.3zM326.3 396.1h1.3v1.3h-1.3zM391.3 359.2h1.3v1.3h-1.3zM362.3 350.2h1.3v1.3h-1.3zM369.6 372.3h1.3v1.3h-1.3zM373.2 361.5h1.3v1.3h-1.3zM385.9 354.4h1.3v1.3h-1.3zM317.2 403.5h1.3v1.3h-1.3zM364.3 375.8h1.3v1.3h-1.3zM362.9 374.0h1.3v1.3h-1.3zM367.9 346.3h1.3v1.3h-1.3zM389.7 384.6h1.3v1.3h-1.3zM385.6 317.6h1.3v1.3h-1.3zM357.1 317.6h1.3v1.3h-1.3zM367.7 351.0h1.3v1.3h-1.3zM388.1 342.8h1.3v1.3h-1.3zM339.9 351.2h1.3v1.3h-1.3zM397.4 347.5h1.3v1.3h-1.3zM361.6 351.3h1.3v1.3h-1.3zM365.8 354.6h1.3v1.3h-1.3zM359.9 331.3h1.3v1.3h-1.3zM328.9 336.3h1.3v1.3h-1.3zM370.7 331.3h1.3v1.3h-1.3zM312.1 396.1h1.3v1.3h-1.3zM399.5 362.1h1.3v1.3h-1.3zM364.7 339.5h1.3v1.3h-1.3zM319.5 388.2h1.3v1.3h-1.3zM352.8 320.0h1.3v1.3h-1.3zM390.4 353.9h1.3v1.3h-1.3zM355.8 321.0h1.3v1.3h-1.3zM354.3 326.5h1.3v1.3h-1.3zM313.8 402.1h1.3v1.3h-1.3zM348.7 325.2h1.3v1.3h-1.3zM361.7 353.5h1.3v1.3h-1.3zM353.9 351.7h1.3v1.3h-1.3zM355.0 319.8h1.3v1.3h-1.3zM383.5 341.8h1.3v1.3h-1.3zM372.0 308.9h1.3v1.3h-1.3zM347.4 373.7h1.3v1.3h-1.3zM377.5 343.6h1.3v1.3h-1.3zM378.3 371.8h1.3v1.3h-1.3zM361.6 345.0h1.3v1.3h-1.3zM351.7 313.2h1.3v1.3h-1.3zM370.6 351.8h1.3v1.3h-1.3zM327.8 391.4h1.3v1.3h-1.3zM373.4 355.6h1.3v1.3h-1.3zM327.5 348.7h1.3v1.3h-1.3zM315.7 387.1h1.3v1.3h-1.3zM370.6 364.9h1.3v1.3h-1.3zM329.4 345.9h1.3v1.3h-1.3zM355.9 351.5h1.3v1.3h-1.3zM388.2 346.2h1.3v1.3h-1.3zM390.0 336.0h1.3v1.3h-1.3zM362.6 352.9h1.3v1.3h-1.3zM371.8 371.0h1.3v1.3h-1.3zM321.9 398.3h1.3v1.3h-1.3zM360.0 316.8h1.3v1.3h-1.3zM364.9 365.9h1.3v1.3h-1.3zM363.5 327.1h1.3v1.3h-1.3zM332.4 354.8h1.3v1.3h-1.3zM371.9 352.9h1.3v1.3h-1.3zM378.0 343.4h1.3v1.3h-1.3zM333.0 356.7h1.3v1.3h-1.3zM369.7 354.8h1.3v1.3h-1.3zM403.8 335.9h1.3v1.3h-1.3zM327.5 386.7h1.3v1.3h-1.3zM393.0 339.5h1.3v1.3h-1.3zM349.1 326.2h1.3v1.3h-1.3zM407.5 338.1h1.3v1.3h-1.3zM352.0 314.0h1.3v1.3h-1.3zM366.7 343.3h1.3v1.3h-1.3zM378.8 316.2h1.3v1.3h-1.3zM326.5 397.1h1.3v1.3h-1.3zM370.7 344.3h1.3v1.3h-1.3zM406.2 352.0h1.3v1.3h-1.3zM359.3 326.1h1.3v1.3h-1.3zM345.7 317.5h1.3v1.3h-1.3zM358.4 322.5h1.3v1.3h-1.3zM367.2 346.5h1.3v1.3h-1.3zM368.6 360.9h1.3v1.3h-1.3zM391.9 335.9h1.3v1.3h-1.3zM373.8 368.0h1.3v1.3h-1.3zM367.6 315.5h1.3v1.3h-1.3zM370.4 359.8h1.3v1.3h-1.3zM365.6 328.8h1.3v1.3h-1.3zM390.1 340.8h1.3v1.3h-1.3zM382.5 321.9h1.3v1.3h-1.3zM369.1 328.4h1.3v1.3h-1.3zM317.1 406.3h1.3v1.3h-1.3zM360.3 347.1h1.3v1.3h-1.3z" fill="#d81b7a"/>
<path d="M359.2 322.1h1.3v1.3h-1.3zM347.0 380.5h1.3v1.3h-1.3zM351.7 371.0h1.3v1.3h-1.3zM317.6 390.7h1.3v1.3h-1.3zM364.9 350.0h1.3v1.3h-1.3zM366.4 313.8h1.3v1.3h-1.3zM326.1 338.5h1.3v1.3h-1.3zM348.8 326.2h1.3v1.3h-1.3zM403.0 333.6h1.3v1.3h-1.3zM345.8 375.5h1.3v1.3h-1.3zM415.7 348.6h1.3v1.3h-1.3zM372.0 321.7h1.3v1.3h-1.3zM364.9 368.3h1.3v1.3h-1.3zM344.2 331.3h1.3v1.3h-1.3zM371.6 330.2h1.3v1.3h-1.3zM405.0 353.1h1.3v1.3h-1.3zM333.3 351.4h1.3v1.3h-1.3zM411.4 355.0h1.3v1.3h-1.3zM365.6 343.5h1.3v1.3h-1.3zM421.5 340.9h1.3v1.3h-1.3zM398.9 336.1h1.3v1.3h-1.3zM367.7 312.4h1.3v1.3h-1.3zM385.6 337.3h1.3v1.3h-1.3zM370.7 348.4h1.3v1.3h-1.3zM410.2 346.2h1.3v1.3h-1.3zM343.1 319.2h1.3v1.3h-1.3zM336.7 336.6h1.3v1.3h-1.3zM338.9 344.2h1.3v1.3h-1.3zM343.7 332.3h1.3v1.3h-1.3zM392.7 355.6h1.3v1.3h-1.3zM372.9 357.3h1.3v1.3h-1.3zM412.6 348.0h1.3v1.3h-1.3zM395.0 345.7h1.3v1.3h-1.3zM327.8 349.8h1.3v1.3h-1.3zM356.1 317.0h1.3v1.3h-1.3zM414.0 340.0h1.3v1.3h-1.3zM319.4 401.5h1.3v1.3h-1.3zM377.8 341.8h1.3v1.3h-1.3zM342.8 348.4h1.3v1.3h-1.3zM373.4 338.9h1.3v1.3h-1.3zM408.6 345.5h1.3v1.3h-1.3zM324.4 397.7h1.3v1.3h-1.3zM356.8 314.0h1.3v1.3h-1.3zM324.3 385.6h1.3v1.3h-1.3zM407.7 351.4h1.3v1.3h-1.3zM400.8 333.4h1.3v1.3h-1.3zM385.0 317.4h1.3v1.3h-1.3zM402.4 340.7h1.3v1.3h-1.3zM330.2 335.9h1.3v1.3h-1.3zM401.5 351.2h1.3v1.3h-1.3zM349.8 310.4h1.3v1.3h-1.3zM396.8 344.3h1.3v1.3h-1.3zM361.7 325.8h1.3v1.3h-1.3zM345.8 333.2h1.3v1.3h-1.3zM362.0 324.2h1.3v1.3h-1.3zM354.1 309.6h1.3v1.3h-1.3zM376.9 368.1h1.3v1.3h-1.3zM326.1 399.0h1.3v1.3h-1.3zM346.6 370.5h1.3v1.3h-1.3zM333.1 339.6h1.3v1.3h-1.3zM310.9 395.8h1.3v1.3h-1.3zM361.8 343.8h1.3v1.3h-1.3zM365.3 319.5h1.3v1.3h-1.3zM315.9 396.9h1.3v1.3h-1.3zM346.3 378.9h1.3v1.3h-1.3zM394.1 337.4h1.3v1.3h-1.3zM353.7 323.3h1.3v1.3h-1.3zM371.8 369.5h1.3v1.3h-1.3zM355.8 341.9h1.3v1.3h-1.3zM331.6 387.8h1.3v1.3h-1.3z" fill="#c9975b"/>
<path d="M360.1 333.6h1.3v1.3h-1.3zM353.2 332.3h1.3v1.3h-1.3zM391.2 358.4h1.3v1.3h-1.3zM337.8 342.2h1.3v1.3h-1.3zM312.6 400.2h1.3v1.3h-1.3zM339.2 353.9h1.3v1.3h-1.3zM395.7 340.5h1.3v1.3h-1.3zM389.9 354.9h1.3v1.3h-1.3zM326.1 390.1h1.3v1.3h-1.3zM374.8 321.1h1.3v1.3h-1.3zM330.5 382.4h1.3v1.3h-1.3zM318.1 390.0h1.3v1.3h-1.3zM372.6 311.3h1.3v1.3h-1.3zM355.8 330.6h1.3v1.3h-1.3zM326.3 396.6h1.3v1.3h-1.3zM336.6 338.3h1.3v1.3h-1.3zM360.4 327.1h1.3v1.3h-1.3zM399.0 336.1h1.3v1.3h-1.3zM402.3 351.3h1.3v1.3h-1.3zM351.3 323.9h1.3v1.3h-1.3zM333.0 349.9h1.3v1.3h-1.3zM348.6 325.6h1.3v1.3h-1.3zM366.6 325.0h1.3v1.3h-1.3zM376.8 313.7h1.3v1.3h-1.3zM373.5 322.5h1.3v1.3h-1.3zM320.9 400.1h1.3v1.3h-1.3zM366.0 324.2h1.3v1.3h-1.3zM356.7 322.5h1.3v1.3h-1.3zM336.6 337.3h1.3v1.3h-1.3zM369.2 333.4h1.3v1.3h-1.3zM408.8 352.8h1.3v1.3h-1.3zM366.4 342.3h1.3v1.3h-1.3zM396.1 356.3h1.3v1.3h-1.3zM391.7 341.8h1.3v1.3h-1.3zM354.1 313.7h1.3v1.3h-1.3zM365.0 372.2h1.3v1.3h-1.3zM325.8 389.4h1.3v1.3h-1.3zM407.5 354.4h1.3v1.3h-1.3zM404.5 347.7h1.3v1.3h-1.3zM347.3 345.6h1.3v1.3h-1.3zM311.9 396.6h1.3v1.3h-1.3zM327.9 390.8h1.3v1.3h-1.3zM404.7 340.9h1.3v1.3h-1.3zM317.6 384.2h1.3v1.3h-1.3zM397.5 353.0h1.3v1.3h-1.3zM362.9 320.6h1.3v1.3h-1.3zM368.3 351.1h1.3v1.3h-1.3zM360.7 311.8h1.3v1.3h-1.3zM352.5 312.5h1.3v1.3h-1.3zM333.0 355.1h1.3v1.3h-1.3zM409.2 358.4h1.3v1.3h-1.3zM343.1 334.4h1.3v1.3h-1.3zM372.2 371.3h1.3v1.3h-1.3zM362.8 328.2h1.3v1.3h-1.3zM315.9 402.0h1.3v1.3h-1.3zM400.8 350.6h1.3v1.3h-1.3zM385.3 358.0h1.3v1.3h-1.3zM396.4 361.8h1.3v1.3h-1.3zM340.3 330.9h1.3v1.3h-1.3zM350.1 369.6h1.3v1.3h-1.3zM375.0 319.1h1.3v1.3h-1.3zM346.9 313.3h1.3v1.3h-1.3zM344.9 319.7h1.3v1.3h-1.3zM327.2 339.3h1.3v1.3h-1.3zM335.8 349.9h1.3v1.3h-1.3zM376.4 353.7h1.3v1.3h-1.3zM419.5 341.5h1.3v1.3h-1.3zM376.6 346.3h1.3v1.3h-1.3zM420.4 342.6h1.3v1.3h-1.3zM362.8 359.0h1.3v1.3h-1.3zM376.4 375.0h1.3v1.3h-1.3zM356.9 354.2h1.3v1.3h-1.3zM343.5 341.7h1.3v1.3h-1.3zM368.8 359.7h1.3v1.3h-1.3zM374.6 315.7h1.3v1.3h-1.3zM403.5 334.9h1.3v1.3h-1.3zM358.5 314.6h1.3v1.3h-1.3zM406.8 333.8h1.3v1.3h-1.3zM322.3 396.6h1.3v1.3h-1.3zM373.2 317.1h1.3v1.3h-1.3zM314.8 402.7h1.3v1.3h-1.3zM340.8 337.2h1.3v1.3h-1.3zM418.6 345.8h1.3v1.3h-1.3zM408.3 347.2h1.3v1.3h-1.3zM368.2 323.4h1.3v1.3h-1.3zM368.3 330.3h1.3v1.3h-1.3zM400.8 338.5h1.3v1.3h-1.3zM416.8 339.8h1.3v1.3h-1.3zM403.0 352.1h1.3v1.3h-1.3zM342.9 376.0h1.3v1.3h-1.3zM330.1 351.5h1.3v1.3h-1.3zM346.2 323.4h1.3v1.3h-1.3zM362.2 319.7h1.3v1.3h-1.3zM311.1 394.2h1.3v1.3h-1.3zM351.8 334.2h1.3v1.3h-1.3zM341.0 340.5h1.3v1.3h-1.3zM377.7 327.3h1.3v1.3h-1.3zM317.3 389.2h1.3v1.3h-1.3zM409.6 351.2h1.3v1.3h-1.3zM350.3 343.7h1.3v1.3h-1.3zM363.6 317.3h1.3v1.3h-1.3zM337.2 338.1h1.3v1.3h-1.3zM397.9 354.6h1.3v1.3h-1.3zM329.3 389.4h1.3v1.3h-1.3zM390.7 341.4h1.3v1.3h-1.3zM352.0 326.1h1.3v1.3h-1.3zM311.5 391.1h1.3v1.3h-1.3zM352.7 334.8h1.3v1.3h-1.3zM349.0 377.1h1.3v1.3h-1.3zM347.3 320.7h1.3v1.3h-1.3zM412.3 351.6h1.3v1.3h-1.3zM359.2 332.1h1.3v1.3h-1.3zM356.3 323.8h1.3v1.3h-1.3zM368.2 309.6h1.3v1.3h-1.3zM319.6 391.8h1.3v1.3h-1.3zM397.3 347.0h1.3v1.3h-1.3zM399.5 339.2h1.3v1.3h-1.3zM367.8 317.9h1.3v1.3h-1.3zM335.1 387.7h1.3v1.3h-1.3zM341.4 334.7h1.3v1.3h-1.3zM395.7 332.8h1.3v1.3h-1.3zM352.5 341.0h1.3v1.3h-1.3zM356.1 323.1h1.3v1.3h-1.3zM342.2 347.3h1.3v1.3h-1.3zM357.6 327.6h1.3v1.3h-1.3zM393.3 353.8h1.3v1.3h-1.3zM356.0 323.1h1.3v1.3h-1.3z" fill="#8f86cf"/>
<path d="M335.1 352.0h1.3v1.3h-1.3zM334.4 348.8h1.3v1.3h-1.3zM333.2 355.5h1.3v1.3h-1.3zM333.3 350.2h1.3v1.3h-1.3zM332.2 348.2h1.3v1.3h-1.3zM335.3 350.6h1.3v1.3h-1.3zM342.4 351.0h1.3v1.3h-1.3zM330.0 353.7h1.3v1.3h-1.3zM333.5 344.7h1.3v1.3h-1.3zM339.7 346.0h1.3v1.3h-1.3zM332.1 349.2h1.3v1.3h-1.3zM338.3 355.9h1.3v1.3h-1.3zM334.0 345.3h1.3v1.3h-1.3zM332.3 346.5h1.3v1.3h-1.3zM329.6 348.0h1.3v1.3h-1.3zM337.7 344.1h1.3v1.3h-1.3zM338.1 351.0h1.3v1.3h-1.3zM328.4 344.8h1.3v1.3h-1.3zM331.6 353.2h1.3v1.3h-1.3zM335.2 348.2h1.3v1.3h-1.3zM328.2 350.3h1.3v1.3h-1.3zM337.4 352.4h1.3v1.3h-1.3zM341.1 345.8h1.3v1.3h-1.3zM339.0 350.1h1.3v1.3h-1.3zM334.0 355.7h1.3v1.3h-1.3zM331.4 355.1h1.3v1.3h-1.3zM341.6 351.2h1.3v1.3h-1.3zM336.8 348.6h1.3v1.3h-1.3zM334.2 352.4h1.3v1.3h-1.3zM331.2 346.8h1.3v1.3h-1.3zM334.5 349.2h1.3v1.3h-1.3zM335.7 355.8h1.3v1.3h-1.3zM337.1 347.0h1.3v1.3h-1.3zM337.1 346.6h1.3v1.3h-1.3zM334.3 354.5h1.3v1.3h-1.3zM337.1 356.9h1.3v1.3h-1.3zM336.6 352.9h1.3v1.3h-1.3zM339.1 355.1h1.3v1.3h-1.3zM329.6 353.9h1.3v1.3h-1.3zM337.2 347.1h1.3v1.3h-1.3zM338.9 350.3h1.3v1.3h-1.3zM336.6 344.3h1.3v1.3h-1.3zM336.1 347.9h1.3v1.3h-1.3zM328.0 348.0h1.3v1.3h-1.3zM342.5 348.2h1.3v1.3h-1.3zM333.2 345.5h1.3v1.3h-1.3zM342.6 347.0h1.3v1.3h-1.3zM338.6 349.0h1.3v1.3h-1.3zM334.6 356.4h1.3v1.3h-1.3zM343.4 352.5h1.3v1.3h-1.3zM339.9 351.3h1.3v1.3h-1.3zM333.7 354.7h1.3v1.3h-1.3zM334.3 355.7h1.3v1.3h-1.3zM333.4 353.0h1.3v1.3h-1.3zM335.0 354.8h1.3v1.3h-1.3zM339.1 356.3h1.3v1.3h-1.3zM335.2 344.0h1.3v1.3h-1.3zM337.3 349.7h1.3v1.3h-1.3zM335.4 354.4h1.3v1.3h-1.3zM333.7 354.5h1.3v1.3h-1.3zM340.1 348.5h1.3v1.3h-1.3zM332.3 356.4h1.3v1.3h-1.3zM331.1 346.8h1.3v1.3h-1.3zM327.5 348.7h1.3v1.3h-1.3zM399.1 360.0h1.3v1.3h-1.3zM406.1 352.4h1.3v1.3h-1.3zM410.2 346.7h1.3v1.3h-1.3zM416.1 354.7h1.3v1.3h-1.3zM401.2 355.9h1.3v1.3h-1.3zM405.2 359.3h1.3v1.3h-1.3zM415.7 357.0h1.3v1.3h-1.3zM405.9 354.1h1.3v1.3h-1.3zM407.6 359.7h1.3v1.3h-1.3zM405.4 357.0h1.3v1.3h-1.3zM404.8 350.3h1.3v1.3h-1.3zM418.0 355.6h1.3v1.3h-1.3zM410.0 355.9h1.3v1.3h-1.3zM414.2 354.0h1.3v1.3h-1.3zM397.2 354.2h1.3v1.3h-1.3zM409.3 358.2h1.3v1.3h-1.3zM407.7 352.6h1.3v1.3h-1.3zM403.7 356.3h1.3v1.3h-1.3zM409.8 357.3h1.3v1.3h-1.3zM398.7 353.4h1.3v1.3h-1.3zM406.2 356.6h1.3v1.3h-1.3zM409.4 354.7h1.3v1.3h-1.3zM404.0 352.7h1.3v1.3h-1.3zM404.6 352.9h1.3v1.3h-1.3zM413.8 352.0h1.3v1.3h-1.3zM415.1 351.2h1.3v1.3h-1.3zM398.2 356.8h1.3v1.3h-1.3zM416.0 353.2h1.3v1.3h-1.3zM409.6 352.8h1.3v1.3h-1.3zM407.9 352.6h1.3v1.3h-1.3zM403.7 351.9h1.3v1.3h-1.3zM407.0 353.4h1.3v1.3h-1.3zM413.6 357.6h1.3v1.3h-1.3zM403.7 351.0h1.3v1.3h-1.3zM406.2 357.7h1.3v1.3h-1.3zM405.8 353.3h1.3v1.3h-1.3zM415.8 357.7h1.3v1.3h-1.3zM412.0 348.6h1.3v1.3h-1.3zM412.8 356.1h1.3v1.3h-1.3zM408.6 360.6h1.3v1.3h-1.3zM407.6 356.4h1.3v1.3h-1.3zM415.7 354.4h1.3v1.3h-1.3zM407.1 360.4h1.3v1.3h-1.3zM415.9 354.5h1.3v1.3h-1.3zM410.7 357.9h1.3v1.3h-1.3zM397.0 355.5h1.3v1.3h-1.3zM403.7 359.2h1.3v1.3h-1.3zM404.3 356.1h1.3v1.3h-1.3zM405.5 346.8h1.3v1.3h-1.3zM414.2 356.0h1.3v1.3h-1.3zM408.3 354.7h1.3v1.3h-1.3zM415.6 351.1h1.3v1.3h-1.3zM405.8 348.4h1.3v1.3h-1.3zM398.6 353.6h1.3v1.3h-1.3zM409.1 355.0h1.3v1.3h-1.3zM411.2 358.8h1.3v1.3h-1.3zM414.8 352.5h1.3v1.3h-1.3zM408.8 356.7h1.3v1.3h-1.3zM407.5 355.4h1.3v1.3h-1.3zM400.4 351.8h1.3v1.3h-1.3zM408.6 355.8h1.3v1.3h-1.3zM409.5 355.4h1.3v1.3h-1.3zM415.2 351.9h1.3v1.3h-1.3zM400.7 358.2h1.3v1.3h-1.3zM415.0 351.2h1.3v1.3h-1.3zM410.1 359.0h1.3v1.3h-1.3zM397.3 357.2h1.3v1.3h-1.3zM400.7 354.1h1.3v1.3h-1.3zM410.4 350.3h1.3v1.3h-1.3zM411.4 360.4h1.3v1.3h-1.3zM407.8 356.2h1.3v1.3h-1.3zM400.2 352.3h1.3v1.3h-1.3zM399.0 351.3h1.3v1.3h-1.3zM413.1 357.5h1.3v1.3h-1.3zM412.3 352.4h1.3v1.3h-1.3zM401.1 358.5h1.3v1.3h-1.3zM401.8 357.3h1.3v1.3h-1.3zM417.5 356.0h1.3v1.3h-1.3zM405.8 354.7h1.3v1.3h-1.3zM409.7 346.5h1.3v1.3h-1.3zM415.2 358.4h1.3v1.3h-1.3zM412.1 353.9h1.3v1.3h-1.3zM403.9 353.7h1.3v1.3h-1.3zM407.4 360.5h1.3v1.3h-1.3zM416.6 359.0h1.3v1.3h-1.3zM403.5 356.7h1.3v1.3h-1.3zM414.7 355.1h1.3v1.3h-1.3zM407.6 349.3h1.3v1.3h-1.3zM414.5 358.5h1.3v1.3h-1.3zM404.6 358.2h1.3v1.3h-1.3zM326.7 383.7h1.3v1.3h-1.3zM324.5 383.7h1.3v1.3h-1.3zM326.7 386.3h1.3v1.3h-1.3zM322.6 391.8h1.3v1.3h-1.3zM324.5 391.9h1.3v1.3h-1.3zM317.7 395.0h1.3v1.3h-1.3zM315.4 393.3h1.3v1.3h-1.3zM316.6 392.2h1.3v1.3h-1.3zM317.5 388.8h1.3v1.3h-1.3zM324.2 386.3h1.3v1.3h-1.3zM316.9 387.9h1.3v1.3h-1.3zM323.5 392.0h1.3v1.3h-1.3zM325.7 390.8h1.3v1.3h-1.3zM324.4 386.6h1.3v1.3h-1.3zM319.1 396.3h1.3v1.3h-1.3zM327.6 389.7h1.3v1.3h-1.3zM320.1 391.7h1.3v1.3h-1.3zM320.8 392.5h1.3v1.3h-1.3zM317.0 392.3h1.3v1.3h-1.3zM318.9 389.4h1.3v1.3h-1.3zM319.7 391.6h1.3v1.3h-1.3zM320.5 388.5h1.3v1.3h-1.3zM320.5 391.7h1.3v1.3h-1.3zM317.9 393.3h1.3v1.3h-1.3zM320.9 390.8h1.3v1.3h-1.3zM315.3 388.3h1.3v1.3h-1.3zM322.3 389.4h1.3v1.3h-1.3zM325.9 383.5h1.3v1.3h-1.3zM321.6 389.8h1.3v1.3h-1.3zM326.2 384.4h1.3v1.3h-1.3zM325.5 385.3h1.3v1.3h-1.3zM326.1 383.6h1.3v1.3h-1.3zM321.9 394.9h1.3v1.3h-1.3zM323.1 389.8h1.3v1.3h-1.3zM326.0 390.2h1.3v1.3h-1.3zM317.8 394.3h1.3v1.3h-1.3zM324.8 387.2h1.3v1.3h-1.3zM320.5 389.1h1.3v1.3h-1.3zM329.0 384.1h1.3v1.3h-1.3zM322.2 389.3h1.3v1.3h-1.3zM349.4 319.4h1.3v1.3h-1.3zM348.5 332.2h1.3v1.3h-1.3zM351.1 332.2h1.3v1.3h-1.3zM348.7 324.9h1.3v1.3h-1.3zM349.2 335.0h1.3v1.3h-1.3zM355.5 331.4h1.3v1.3h-1.3zM350.9 333.7h1.3v1.3h-1.3zM352.1 331.3h1.3v1.3h-1.3zM350.8 321.7h1.3v1.3h-1.3zM349.9 330.2h1.3v1.3h-1.3zM347.0 327.3h1.3v1.3h-1.3zM351.2 319.4h1.3v1.3h-1.3zM349.5 333.2h1.3v1.3h-1.3zM352.9 329.9h1.3v1.3h-1.3zM349.9 327.6h1.3v1.3h-1.3zM351.1 335.7h1.3v1.3h-1.3zM349.3 330.3h1.3v1.3h-1.3zM350.9 322.7h1.3v1.3h-1.3zM354.3 332.7h1.3v1.3h-1.3zM349.9 334.6h1.3v1.3h-1.3zM350.1 335.8h1.3v1.3h-1.3zM354.2 326.1h1.3v1.3h-1.3zM354.7 328.9h1.3v1.3h-1.3zM346.8 328.7h1.3v1.3h-1.3zM351.7 326.1h1.3v1.3h-1.3zM354.4 324.3h1.3v1.3h-1.3zM354.2 329.5h1.3v1.3h-1.3zM352.8 329.1h1.3v1.3h-1.3zM350.3 337.2h1.3v1.3h-1.3zM350.4 322.3h1.3v1.3h-1.3zM354.4 329.0h1.3v1.3h-1.3zM346.1 329.1h1.3v1.3h-1.3zM350.5 320.2h1.3v1.3h-1.3zM354.7 329.0h1.3v1.3h-1.3zM349.1 327.0h1.3v1.3h-1.3zM353.2 330.1h1.3v1.3h-1.3zM352.0 328.9h1.3v1.3h-1.3zM355.4 333.1h1.3v1.3h-1.3zM353.2 332.0h1.3v1.3h-1.3zM356.2 324.4h1.3v1.3h-1.3zM367.7 340.3h1.3v1.3h-1.3zM363.1 342.4h1.3v1.3h-1.3zM363.4 344.5h1.3v1.3h-1.3zM361.7 344.4h1.3v1.3h-1.3zM363.3 341.4h1.3v1.3h-1.3zM362.2 337.4h1.3v1.3h-1.3zM367.4 340.8h1.3v1.3h-1.3zM358.0 340.7h1.3v1.3h-1.3zM359.7 343.6h1.3v1.3h-1.3zM359.8 342.7h1.3v1.3h-1.3zM364.0 338.5h1.3v1.3h-1.3zM361.4 344.3h1.3v1.3h-1.3zM358.2 344.0h1.3v1.3h-1.3zM365.9 344.9h1.3v1.3h-1.3zM362.3 335.8h1.3v1.3h-1.3zM361.8 343.3h1.3v1.3h-1.3zM356.7 341.6h1.3v1.3h-1.3zM360.2 343.2h1.3v1.3h-1.3zM355.3 342.4h1.3v1.3h-1.3zM356.7 343.5h1.3v1.3h-1.3zM369.8 372.5h1.3v1.3h-1.3zM371.1 365.7h1.3v1.3h-1.3zM369.4 373.1h1.3v1.3h-1.3zM369.5 374.8h1.3v1.3h-1.3zM370.2 371.1h1.3v1.3h-1.3zM363.2 368.4h1.3v1.3h-1.3zM363.2 367.0h1.3v1.3h-1.3zM369.5 369.5h1.3v1.3h-1.3zM366.3 371.4h1.3v1.3h-1.3zM366.5 371.7h1.3v1.3h-1.3zM373.8 365.5h1.3v1.3h-1.3zM365.5 371.3h1.3v1.3h-1.3zM370.9 371.5h1.3v1.3h-1.3zM366.4 371.5h1.3v1.3h-1.3zM366.6 373.4h1.3v1.3h-1.3zM367.1 365.0h1.3v1.3h-1.3zM363.5 372.3h1.3v1.3h-1.3zM370.1 371.2h1.3v1.3h-1.3zM366.8 367.0h1.3v1.3h-1.3zM374.0 371.5h1.3v1.3h-1.3zM371.9 371.9h1.3v1.3h-1.3zM372.7 365.4h1.3v1.3h-1.3zM374.9 371.5h1.3v1.3h-1.3zM372.1 370.0h1.3v1.3h-1.3zM375.5 366.3h1.3v1.3h-1.3zM373.9 366.8h1.3v1.3h-1.3zM367.9 371.4h1.3v1.3h-1.3zM366.2 372.9h1.3v1.3h-1.3zM366.4 369.8h1.3v1.3h-1.3zM371.5 366.3h1.3v1.3h-1.3zM345.3 378.0h1.3v1.3h-1.3zM347.0 377.9h1.3v1.3h-1.3zM347.0 369.4h1.3v1.3h-1.3zM346.4 377.3h1.3v1.3h-1.3zM347.2 373.0h1.3v1.3h-1.3zM345.2 375.6h1.3v1.3h-1.3zM344.6 374.6h1.3v1.3h-1.3zM347.5 373.3h1.3v1.3h-1.3zM349.2 373.1h1.3v1.3h-1.3zM348.6 375.6h1.3v1.3h-1.3zM348.2 375.6h1.3v1.3h-1.3zM345.3 373.1h1.3v1.3h-1.3zM346.2 376.1h1.3v1.3h-1.3zM348.0 376.3h1.3v1.3h-1.3zM346.4 376.4h1.3v1.3h-1.3zM345.9 372.4h1.3v1.3h-1.3zM345.3 372.3h1.3v1.3h-1.3zM342.9 373.4h1.3v1.3h-1.3zM346.1 376.3h1.3v1.3h-1.3zM345.8 372.9h1.3v1.3h-1.3z" fill="#e2e2e2"/>
<line x1="307" y1="302.6" x2="307" y2="408.9" stroke="#1a1a1a" stroke-width="1.6"/>
<path d="M307,299.4 L309.8,304.0 L307,303.2 L304.2,304.0 Z" fill="#000"/>
<line x1="306.2" y1="408.1" x2="420" y2="408.1" stroke="#1a1a1a" stroke-width="1.2"/>
<path d="M424,408.1 L419.4,405.5 L420.2,408.1 L419.4,410.70000000000005 Z" fill="#000"/>
<text transform="translate(304.3,365.1) rotate(-90)" font-size="9.6" fill="#222" textLength="19.8" lengthAdjust="spacingAndGlyphs">tSNE2</text>
<text x="294.6" y="189.4" font-size="8.8" fill="#333" textLength="6.9" lengthAdjust="spacingAndGlyphs">(i)</text>
<text x="294.8" y="305.9" font-size="8.8" fill="#333" textLength="9.2" lengthAdjust="spacingAndGlyphs">(ii)</text>
<text x="353.5" y="418.3" font-size="9.6" fill="#222" textLength="19.7" lengthAdjust="spacingAndGlyphs">tSNE1</text>
<text x="428" y="212.6" font-size="7.3" fill="#111" font-weight="bold" stroke="#111" stroke-width="0.3" textLength="84" lengthAdjust="spacingAndGlyphs">Mutational classification</text>
<circle cx="444.6" cy="222.5" r="2.2" fill="#c8102e"/>
<text x="450.4" y="225.1" font-size="7.6" fill="#222" textLength="47.5" lengthAdjust="spacingAndGlyphs">High-mutation</text>
<circle cx="444.6" cy="232.95" r="2.2" fill="#f28a1c"/>
<text x="450.4" y="235.54999999999998" font-size="7.6" fill="#222" textLength="45.6" lengthAdjust="spacingAndGlyphs">Low-mutation</text>
<circle cx="444.6" cy="243.4" r="2.2" fill="#1c9a5c"/>
<text x="450.4" y="246.0" font-size="7.6" fill="#222">cfBRAF<tspan font-size="4.8" dy="-2.9">V600E</tspan><tspan dy="2.9"> (–)</tspan></text>
<circle cx="444.6" cy="253.85" r="2.2" fill="#dddddd"/>
<text x="450.4" y="256.45" font-size="7.6" fill="#222" textLength="24.8" lengthAdjust="spacingAndGlyphs">Control</text>
<text x="433" y="335" font-size="7.3" fill="#111" font-weight="bold" stroke="#111" stroke-width="0.3" textLength="70" lengthAdjust="spacingAndGlyphs">Clinical classification</text>
<circle cx="450.2" cy="346.0" r="2.2" fill="#d81b7a"/>
<text x="456" y="348.6" font-size="7.6" fill="#222" textLength="43.2" lengthAdjust="spacingAndGlyphs">MS–high risk</text>
<circle cx="450.2" cy="356.55" r="2.2" fill="#c9975b"/>
<text x="456" y="359.15000000000003" font-size="7.6" fill="#222" textLength="40.5" lengthAdjust="spacingAndGlyphs">MS–low risk</text>
<circle cx="450.2" cy="367.1" r="2.2" fill="#8f86cf"/>
<text x="456" y="369.70000000000005" font-size="7.6" fill="#222" textLength="38" lengthAdjust="spacingAndGlyphs">SS–low risk</text>
<circle cx="450.2" cy="377.65" r="2.2" fill="#dddddd"/>
<text x="456" y="380.25" font-size="7.6" fill="#222" textLength="25.2" lengthAdjust="spacingAndGlyphs">Control</text>
<circle cx="80.5" cy="455.5" r="2.5" fill="#f4a0a8"/>
<circle cx="90.5" cy="455.5" r="0.6" fill="#4858a8"/>
<circle cx="100.5" cy="455.5" r="1.0" fill="#c8c8e8"/>
<circle cx="110.5" cy="455.5" r="1.0" fill="#d0d0ea"/>
<circle cx="120.5" cy="455.5" r="0.6" fill="#6070b0"/>
<circle cx="130.5" cy="455.5" r="0.4" fill="#b8b8dc"/>
<circle cx="140.5" cy="455.5" r="2.75" fill="#7a0c14"/>
<circle cx="150.5" cy="455.5" r="2.75" fill="#7a0c14"/>
<circle cx="160.5" cy="455.5" r="2.75" fill="#7a0c14"/>
<circle cx="170.5" cy="455.5" r="2.75" fill="#7a0c14"/>
<circle cx="180.5" cy="455.5" r="2.75" fill="#7a0c14"/>
<circle cx="80.5" cy="470.8" r="1.25" fill="#28308c"/>
<circle cx="90.5" cy="470.8" r="1.0" fill="#e6e6f3"/>
<circle cx="100.5" cy="470.8" r="2.25" fill="#f8d0d0"/>
<circle cx="110.5" cy="470.8" r="1.5" fill="#f4a0a8"/>
<circle cx="120.5" cy="470.8" r="2.0" fill="#ee6070"/>
<circle cx="130.5" cy="470.8" r="2.25" fill="#e8101e"/>
<circle cx="140.5" cy="470.8" r="2.5" fill="#ea4048"/>
<circle cx="150.5" cy="470.8" r="2.75" fill="#ec5860"/>
<circle cx="160.5" cy="470.8" r="0.6" fill="#4858a8"/>
<circle cx="170.5" cy="470.8" r="0.6" fill="#6070b0"/>
<circle cx="180.5" cy="470.8" r="1.5" fill="#f8b0b8"/>
<circle cx="80.5" cy="486.1" r="2.25" fill="#ea4050"/>
<circle cx="90.5" cy="486.1" r="1.75" fill="#e83848"/>
<circle cx="100.5" cy="486.1" r="2.25" fill="#ee6070"/>
<circle cx="110.5" cy="486.1" r="1.5" fill="#f07080"/>
<circle cx="120.5" cy="486.1" r="2.0" fill="#ee7080"/>
<circle cx="130.5" cy="486.1" r="0.75" fill="#b8b8dc"/>
<circle cx="140.5" cy="486.1" r="2.0" fill="#e6e6f3"/>
<circle cx="150.5" cy="486.1" r="2.5" fill="#fadcdc"/>
<circle cx="160.5" cy="486.1" r="0.75" fill="#fadcdc"/>
<circle cx="170.5" cy="486.1" r="0.75" fill="#b8b8dc"/>
<circle cx="180.5" cy="486.1" r="0.75" fill="#b8b8dc"/>
<circle cx="80.5" cy="501.4" r="1.25" fill="#28308c"/>
<circle cx="90.5" cy="501.4" r="0.6" fill="#28308c"/>
<circle cx="100.5" cy="501.4" r="1.25" fill="#28308c"/>
<circle cx="110.5" cy="501.4" r="0.5" fill="#28308c"/>
<circle cx="120.5" cy="501.4" r="1.0" fill="#28308c"/>
<circle cx="130.5" cy="501.4" r="0.75" fill="#8088c8"/>
<circle cx="140.5" cy="501.4" r="0.75" fill="#28308c"/>
<circle cx="150.5" cy="501.4" r="1.25" fill="#101880"/>
<circle cx="160.5" cy="501.4" r="0.75" fill="#28308c"/>
<circle cx="170.5" cy="501.4" r="0.75" fill="#b8b8dc"/>
<circle cx="180.5" cy="501.4" r="0.6" fill="#b8b8dc"/>
<rect x="135.5" y="450.1" width="48.4" height="10.6" rx="0.8" fill="none" stroke="#2a2a2a" stroke-width="1.3"/>
<rect x="106.8" y="465.4" width="47.7" height="10.6" rx="0.8" fill="none" stroke="#2a2a2a" stroke-width="1.3"/>
<rect x="76.3" y="480.7" width="48.2" height="10.6" rx="0.8" fill="none" stroke="#2a2a2a" stroke-width="1.3"/>
<rect x="70.6" y="445" width="119.6" height="66.0" fill="none" stroke="#111" stroke-width="1.5"/>
<path d="M67.0 455.5H70.6M67.0 470.8H70.6M67.0 486.1H70.6M67.0 501.4H70.6M80.5 511V514.2M90.5 511V514.2M100.5 511V514.2M110.5 511V514.2M120.5 511V514.2M130.5 511V514.2M140.5 511V514.2M150.5 511V514.2M160.5 511V514.2M170.5 511V514.2M180.5 511V514.2" stroke="#111" stroke-width="1.1" fill="none"/>
<text transform="translate(83.5,517.4) rotate(-90)" font-size="7.7" fill="#222" text-anchor="end" font-style="italic">IFITM1</text>
<text transform="translate(93.5,517.4) rotate(-90)" font-size="7.7" fill="#222" text-anchor="end" font-style="italic">OASL</text>
<text transform="translate(103.5,517.4) rotate(-90)" font-size="7.7" fill="#222" text-anchor="end" font-style="italic">DDIT4</text>
<text transform="translate(113.5,517.4) rotate(-90)" font-size="7.7" fill="#222" text-anchor="end" font-style="italic">EREG</text>
<text transform="translate(123.5,517.4) rotate(-90)" font-size="7.7" fill="#222" text-anchor="end" font-style="italic">THBS1</text>
<text transform="translate(133.5,517.4) rotate(-90)" font-size="7.7" fill="#222" text-anchor="end" font-style="italic">ZNF721</text>
<text transform="translate(143.5,517.4) rotate(-90)" font-size="7.7" fill="#222" text-anchor="end" font-style="italic">MZB1</text>
<text transform="translate(153.5,517.4) rotate(-90)" font-size="7.7" fill="#222" text-anchor="end" font-style="italic">JCHAIN</text>
<text transform="translate(163.5,517.4) rotate(-90)" font-size="7.7" fill="#222" text-anchor="end" font-style="italic">CLU</text>
<text transform="translate(173.5,517.4) rotate(-90)" font-size="7.7" fill="#222" text-anchor="end" font-style="italic">HBB</text>
<text transform="translate(183.5,517.4) rotate(-90)" font-size="7.7" fill="#222" text-anchor="end" font-style="italic">HBA2</text>
<text x="64.5" y="457.5" font-size="7.9" fill="#222" text-anchor="end" textLength="50.5" lengthAdjust="spacingAndGlyphs">High-mutation</text>
<text x="64.5" y="472.8" font-size="7.9" fill="#222" text-anchor="end" textLength="47.7" lengthAdjust="spacingAndGlyphs">Low-mutation</text>
<text x="64.5" y="488.1" font-size="7.9" fill="#222" text-anchor="end" textLength="52" lengthAdjust="spacingAndGlyphs">cfBRAF<tspan font-size="5.6" dy="-3.2">V600E</tspan><tspan dy="3.2"> (-)</tspan></text>
<text x="64.5" y="503.4" font-size="7.9" fill="#222" text-anchor="end" textLength="26.3" lengthAdjust="spacingAndGlyphs">Control</text>
<circle cx="227" cy="455.5" r="1.5" fill="#e6e6f3"/>
<circle cx="237" cy="455.5" r="1.5" fill="#fad8d8"/>
<circle cx="247" cy="455.5" r="0.5" fill="#4858a8"/>
<circle cx="267" cy="455.5" r="0.6" fill="#4858a8"/>
<circle cx="277" cy="455.5" r="0.75" fill="#b8b8dc"/>
<circle cx="287" cy="455.5" r="0.5" fill="#b8b8dc"/>
<circle cx="297" cy="455.5" r="0.5" fill="#b8b8dc"/>
<circle cx="307" cy="455.5" r="0.5" fill="#b8b8dc"/>
<circle cx="317" cy="455.5" r="2.75" fill="#b0101c"/>
<circle cx="327" cy="455.5" r="2.5" fill="#8c0c14"/>
<circle cx="337" cy="455.5" r="2.75" fill="#c41620"/>
<circle cx="347" cy="455.5" r="2.75" fill="#8c0c14"/>
<circle cx="357" cy="455.5" r="2.75" fill="#800a10"/>
<circle cx="237" cy="470.8" r="0.6" fill="#4858a8"/>
<circle cx="247" cy="470.8" r="0.6" fill="#4858a8"/>
<circle cx="257" cy="470.8" r="1.25" fill="#d8d8ec"/>
<circle cx="267" cy="470.8" r="0.6" fill="#4858a8"/>
<circle cx="277" cy="470.8" r="2.0" fill="#e81020"/>
<circle cx="287" cy="470.8" r="2.25" fill="#e81020"/>
<circle cx="297" cy="470.8" r="1.75" fill="#e8101c"/>
<circle cx="307" cy="470.8" r="2.5" fill="#c8141e"/>
<circle cx="317" cy="470.8" r="1.5" fill="#e6e6f3"/>
<circle cx="327" cy="470.8" r="0.5" fill="#4858a8"/>
<circle cx="337" cy="470.8" r="1.0" fill="#4050a8"/>
<circle cx="347" cy="470.8" r="0.75" fill="#4858a8"/>
<circle cx="357" cy="470.8" r="0.6" fill="#4858a8"/>
<circle cx="227" cy="486.1" r="2.0" fill="#ee6068"/>
<circle cx="237" cy="486.1" r="2.25" fill="#ea3a44"/>
<circle cx="247" cy="486.1" r="2.25" fill="#e8101c"/>
<circle cx="257" cy="486.1" r="2.25" fill="#ee5a62"/>
<circle cx="267" cy="486.1" r="2.5" fill="#e41018"/>
<circle cx="277" cy="486.1" r="0.75" fill="#b8b8dc"/>
<circle cx="287" cy="486.1" r="0.5" fill="#b8b8dc"/>
<circle cx="297" cy="486.1" r="0.75" fill="#fadcdc"/>
<circle cx="307" cy="486.1" r="1.75" fill="#f4a8b0"/>
<circle cx="317" cy="486.1" r="1.25" fill="#5060b0"/>
<circle cx="327" cy="486.1" r="0.5" fill="#b8b8dc"/>
<circle cx="337" cy="486.1" r="1.5" fill="#fadcdc"/>
<circle cx="347" cy="486.1" r="1.25" fill="#e6e6f3"/>
<circle cx="357" cy="486.1" r="0.75" fill="#8088c8"/>
<circle cx="227" cy="501.4" r="1.0" fill="#28308c"/>
<circle cx="237" cy="501.4" r="1.0" fill="#28308c"/>
<circle cx="247" cy="501.4" r="0.75" fill="#4858a8"/>
<circle cx="257" cy="501.4" r="1.25" fill="#28308c"/>
<circle cx="267" cy="501.4" r="0.75" fill="#4858a8"/>
<circle cx="277" cy="501.4" r="0.75" fill="#b8b8dc"/>
<circle cx="287" cy="501.4" r="0.75" fill="#b8b8dc"/>
<circle cx="297" cy="501.4" r="0.5" fill="#b8b8dc"/>
<circle cx="307" cy="501.4" r="0.6" fill="#4858a8"/>
<circle cx="317" cy="501.4" r="1.5" fill="#8088c8"/>
<circle cx="327" cy="501.4" r="0.5" fill="#b8b8dc"/>
<circle cx="337" cy="501.4" r="1.25" fill="#28308c"/>
<circle cx="347" cy="501.4" r="0.75" fill="#4858a8"/>
<circle cx="357" cy="501.4" r="0.75" fill="#4858a8"/>
<rect x="313.8" y="450.1" width="50.0" height="10.6" rx="0.8" fill="none" stroke="#2a2a2a" stroke-width="1.3"/>
<rect x="272.5" y="465.4" width="40.5" height="10.6" rx="0.8" fill="none" stroke="#2a2a2a" stroke-width="1.3"/>
<rect x="223.8" y="480.7" width="47.5" height="10.6" rx="0.8" fill="none" stroke="#2a2a2a" stroke-width="1.3"/>
<rect x="217" y="445" width="152.5" height="66.0" fill="none" stroke="#111" stroke-width="1.5"/>
<path d="M213.4 455.5H217M213.4 470.8H217M213.4 486.1H217M213.4 501.4H217M227 511V514.2M237 511V514.2M247 511V514.2M257 511V514.2M267 511V514.2M277 511V514.2M287 511V514.2M297 511V514.2M307 511V514.2M317 511V514.2M327 511V514.2M337 511V514.2M347 511V514.2M357 511V514.2" stroke="#111" stroke-width="1.1" fill="none"/>
<text transform="translate(230.0,517.4) rotate(-90)" font-size="7.7" fill="#222" text-anchor="end" font-style="italic">ARRDC3</text>
<text transform="translate(240.0,517.4) rotate(-90)" font-size="7.7" fill="#222" text-anchor="end" font-style="italic">GIMAP7</text>
<text transform="translate(250.0,517.4) rotate(-90)" font-size="7.7" fill="#222" text-anchor="end" font-style="italic">IFIT1</text>
<text transform="translate(260.0,517.4) rotate(-90)" font-size="7.7" fill="#222" text-anchor="end" font-style="italic">SAMD9L</text>
<text transform="translate(270.0,517.4) rotate(-90)" font-size="7.7" fill="#222" text-anchor="end" font-style="italic">SIGLEC1</text>
<text transform="translate(280.0,517.4) rotate(-90)" font-size="7.7" fill="#222" text-anchor="end" font-style="italic">KDM5D</text>
<text transform="translate(290.0,517.4) rotate(-90)" font-size="7.7" fill="#222" text-anchor="end" font-style="italic">LRCH1</text>
<text transform="translate(300.0,517.4) rotate(-90)" font-size="7.7" fill="#222" text-anchor="end" font-style="italic">TTC9</text>
<text transform="translate(310.0,517.4) rotate(-90)" font-size="7.7" fill="#222" text-anchor="end" font-style="italic">THBS1</text>
<text transform="translate(320.0,517.4) rotate(-90)" font-size="7.7" fill="#222" text-anchor="end" font-style="italic">C1QA</text>
<text transform="translate(330.0,517.4) rotate(-90)" font-size="7.7" fill="#222" text-anchor="end" font-style="italic">C1QC</text>
<text transform="translate(340.0,517.4) rotate(-90)" font-size="7.7" fill="#222" text-anchor="end" font-style="italic">SLAMF7</text>
<text transform="translate(350.0,517.4) rotate(-90)" font-size="7.7" fill="#222" text-anchor="end" font-style="italic">FCGR3B</text>
<text transform="translate(360.0,517.4) rotate(-90)" font-size="7.7" fill="#222" text-anchor="end" font-style="italic">C1QB</text>
<circle cx="80.5" cy="579.1" r="2.0" fill="#f8c0c4"/>
<circle cx="90.5" cy="579.1" r="1.25" fill="#f8c0c4"/>
<circle cx="100.5" cy="579.1" r="1.5" fill="#fad0d4"/>
<circle cx="110.5" cy="579.1" r="2.5" fill="#f08088"/>
<circle cx="120.5" cy="579.1" r="1.5" fill="#fad0d4"/>
<circle cx="130.5" cy="579.1" r="1.75" fill="#e4e4f2"/>
<circle cx="140.5" cy="579.1" r="1.25" fill="#e6e6f3"/>
<circle cx="150.5" cy="579.1" r="2.5" fill="#f07078"/>
<circle cx="160.5" cy="579.1" r="2.0" fill="#f4a0a8"/>
<circle cx="170.5" cy="579.1" r="1.75" fill="#f4a0a8"/>
<circle cx="180.5" cy="579.1" r="2.75" fill="#f07078"/>
<circle cx="190.5" cy="579.1" r="2.75" fill="#e8101c"/>
<circle cx="80.5" cy="594.4" r="2.5" fill="#f06068"/>
<circle cx="90.5" cy="594.4" r="2.5" fill="#e82028"/>
<circle cx="100.5" cy="594.4" r="2.5" fill="#f07880"/>
<circle cx="110.5" cy="594.4" r="2.75" fill="#e8141c"/>
<circle cx="120.5" cy="594.4" r="2.75" fill="#e8141c"/>
<circle cx="130.5" cy="594.4" r="2.75" fill="#b8141c"/>
<circle cx="140.5" cy="594.4" r="2.75" fill="#b0141c"/>
<circle cx="150.5" cy="594.4" r="2.75" fill="#e8141c"/>
<circle cx="160.5" cy="594.4" r="2.75" fill="#d8141c"/>
<circle cx="170.5" cy="594.4" r="2.75" fill="#ec5058"/>
<circle cx="180.5" cy="594.4" r="2.25" fill="#f07078"/>
<circle cx="190.5" cy="594.4" r="1.25" fill="#3040a0"/>
<circle cx="80.5" cy="609.7" r="2.75" fill="#c01018"/>
<circle cx="90.5" cy="609.7" r="2.75" fill="#ec4048"/>
<circle cx="100.5" cy="609.7" r="2.75" fill="#a00c14"/>
<circle cx="110.5" cy="609.7" r="2.75" fill="#e81018"/>
<circle cx="120.5" cy="609.7" r="2.75" fill="#e80c14"/>
<circle cx="130.5" cy="609.7" r="2.75" fill="#e8141c"/>
<circle cx="140.5" cy="609.7" r="2.25" fill="#f07880"/>
<circle cx="150.5" cy="609.7" r="2.75" fill="#e80c14"/>
<circle cx="160.5" cy="609.7" r="2.25" fill="#f4a0a8"/>
<circle cx="170.5" cy="609.7" r="2.25" fill="#f07078"/>
<circle cx="180.5" cy="609.7" r="1.75" fill="#e6e6f3"/>
<circle cx="190.5" cy="609.7" r="1.5" fill="#6070b8"/>
<circle cx="80.5" cy="625.0" r="0.5" fill="#28308c"/>
<circle cx="90.5" cy="625.0" r="0.4" fill="#b8b8dc"/>
<circle cx="100.5" cy="625.0" r="0.5" fill="#4858a8"/>
<circle cx="110.5" cy="625.0" r="0.5" fill="#4858a8"/>
<circle cx="120.5" cy="625.0" r="0.6" fill="#4858a8"/>
<circle cx="130.5" cy="625.0" r="0.75" fill="#28308c"/>
<circle cx="140.5" cy="625.0" r="0.4" fill="#b8b8dc"/>
<circle cx="150.5" cy="625.0" r="0.5" fill="#4858a8"/>
<circle cx="160.5" cy="625.0" r="0.6" fill="#4858a8"/>
<circle cx="170.5" cy="625.0" r="0.5" fill="#4858a8"/>
<circle cx="180.5" cy="625.0" r="0.6" fill="#4858a8"/>
<circle cx="190.5" cy="625.0" r="0.75" fill="#28308c"/>
<rect x="145.5" y="573.7" width="50.0" height="10.6" rx="0.8" fill="none" stroke="#2a2a2a" stroke-width="1.3"/>
<rect x="115.5" y="589.0" width="50.0" height="10.6" rx="0.8" fill="none" stroke="#2a2a2a" stroke-width="1.3"/>
<rect x="76.8" y="604.3" width="47.7" height="10.6" rx="0.8" fill="none" stroke="#2a2a2a" stroke-width="1.3"/>
<rect x="70.6" y="568.6" width="129.9" height="66.2" fill="none" stroke="#111" stroke-width="1.5"/>
<path d="M67.0 579.1H70.6M67.0 594.4H70.6M67.0 609.7H70.6M67.0 625.0H70.6M80.5 634.8V638.0M90.5 634.8V638.0M100.5 634.8V638.0M110.5 634.8V638.0M120.5 634.8V638.0M130.5 634.8V638.0M140.5 634.8V638.0M150.5 634.8V638.0M160.5 634.8V638.0M170.5 634.8V638.0M180.5 634.8V638.0M190.5 634.8V638.0" stroke="#111" stroke-width="1.1" fill="none"/>
<text transform="translate(83.5,641.1999999999999) rotate(-90)" font-size="7.7" fill="#222" text-anchor="end" font-style="italic">C12orf75</text>
<text transform="translate(93.5,641.1999999999999) rotate(-90)" font-size="7.7" fill="#222" text-anchor="end" font-style="italic">PTGDS</text>
<text transform="translate(103.5,641.1999999999999) rotate(-90)" font-size="7.7" fill="#222" text-anchor="end" font-style="italic">LILRA4</text>
<text transform="translate(113.5,641.1999999999999) rotate(-90)" font-size="7.7" fill="#222" text-anchor="end" font-style="italic">JCHAIN</text>
<text transform="translate(123.5,641.1999999999999) rotate(-90)" font-size="7.7" fill="#222" text-anchor="end" font-style="italic">GZMB</text>
<text transform="translate(133.5,641.1999999999999) rotate(-90)" font-size="7.7" fill="#222" text-anchor="end" font-style="italic">UGCG</text>
<text transform="translate(143.5,641.1999999999999) rotate(-90)" font-size="7.7" fill="#222" text-anchor="end" font-style="italic">SERPINF1</text>
<text transform="translate(153.5,641.1999999999999) rotate(-90)" font-size="7.7" fill="#222" text-anchor="end" font-style="italic">JCHAIN</text>
<text transform="translate(163.5,641.1999999999999) rotate(-90)" font-size="7.7" fill="#222" text-anchor="end" font-style="italic">MZB1</text>
<text transform="translate(173.5,641.1999999999999) rotate(-90)" font-size="7.7" fill="#222" text-anchor="end" font-style="italic">CYB561A3</text>
<text transform="translate(183.5,641.1999999999999) rotate(-90)" font-size="7.7" fill="#222" text-anchor="end" font-style="italic">XPO1</text>
<text transform="translate(193.5,641.1999999999999) rotate(-90)" font-size="7.7" fill="#222" text-anchor="end" font-style="italic">DYNLL1</text>
<text x="64.5" y="581.1" font-size="7.9" fill="#222" text-anchor="end" textLength="50.5" lengthAdjust="spacingAndGlyphs">High-mutation</text>
<text x="64.5" y="596.4" font-size="7.9" fill="#222" text-anchor="end" textLength="47.7" lengthAdjust="spacingAndGlyphs">Low-mutation</text>
<text x="64.5" y="611.7" font-size="7.9" fill="#222" text-anchor="end" textLength="52" lengthAdjust="spacingAndGlyphs">cfBRAF<tspan font-size="5.6" dy="-3.2">V600E</tspan><tspan dy="3.2"> (-)</tspan></text>
<text x="64.5" y="627.0" font-size="7.9" fill="#222" text-anchor="end" textLength="26.3" lengthAdjust="spacingAndGlyphs">Control</text>
<circle cx="227" cy="579.1" r="0.75" fill="#8088c8"/>
<circle cx="237" cy="579.1" r="2.75" fill="#f8c8cc"/>
<circle cx="247" cy="579.1" r="0.6" fill="#b8b8dc"/>
<circle cx="257" cy="579.1" r="1.0" fill="#3040a0"/>
<circle cx="267" cy="579.1" r="1.5" fill="#e6e6f3"/>
<circle cx="277" cy="579.1" r="0.4" fill="#b8b8dc"/>
<circle cx="287" cy="579.1" r="0.5" fill="#8088c8"/>
<circle cx="297" cy="579.1" r="2.0" fill="#e8101c"/>
<circle cx="307" cy="579.1" r="2.75" fill="#e8101c"/>
<circle cx="317" cy="579.1" r="2.5" fill="#900c14"/>
<circle cx="327" cy="579.1" r="2.75" fill="#800a10"/>
<circle cx="337" cy="579.1" r="2.75" fill="#800a10"/>
<circle cx="347" cy="579.1" r="2.25" fill="#900c14"/>
<circle cx="227" cy="594.4" r="0.5" fill="#b8b8dc"/>
<circle cx="237" cy="594.4" r="1.25" fill="#203090"/>
<circle cx="247" cy="594.4" r="0.6" fill="#4858a8"/>
<circle cx="257" cy="594.4" r="0.5" fill="#4858a8"/>
<circle cx="267" cy="594.4" r="2.5" fill="#e82028"/>
<circle cx="277" cy="594.4" r="2.75" fill="#b0101c"/>
<circle cx="287" cy="594.4" r="2.0" fill="#f07078"/>
<circle cx="297" cy="594.4" r="2.0" fill="#e8101c"/>
<circle cx="307" cy="594.4" r="2.0" fill="#f4a0a8"/>
<circle cx="317" cy="594.4" r="0.5" fill="#4858a8"/>
<circle cx="327" cy="594.4" r="0.6" fill="#4858a8"/>
<circle cx="337" cy="594.4" r="1.5" fill="#9098d0"/>
<circle cx="347" cy="594.4" r="0.5" fill="#b8b8dc"/>
<circle cx="227" cy="609.7" r="2.0" fill="#e8141c"/>
<circle cx="237" cy="609.7" r="2.75" fill="#e8101c"/>
<circle cx="247" cy="609.7" r="2.25" fill="#e8141c"/>
<circle cx="257" cy="609.7" r="2.75" fill="#b8141c"/>
<circle cx="267" cy="609.7" r="2.25" fill="#f07880"/>
<circle cx="277" cy="609.7" r="1.25" fill="#e4e4f2"/>
<circle cx="287" cy="609.7" r="1.5" fill="#f07078"/>
<circle cx="297" cy="609.7" r="0.6" fill="#4858a8"/>
<circle cx="307" cy="609.7" r="2.5" fill="#f4a0a8"/>
<circle cx="317" cy="609.7" r="0.6" fill="#b8b8dc"/>
<circle cx="327" cy="609.7" r="0.75" fill="#4858a8"/>
<circle cx="337" cy="609.7" r="1.25" fill="#9098d0"/>
<circle cx="347" cy="609.7" r="0.5" fill="#b8b8dc"/>
<circle cx="227" cy="625.0" r="0.5" fill="#b8b8dc"/>
<circle cx="237" cy="625.0" r="1.5" fill="#4050a8"/>
<circle cx="247" cy="625.0" r="0.6" fill="#4858a8"/>
<circle cx="257" cy="625.0" r="1.25" fill="#5060b0"/>
<circle cx="267" cy="625.0" r="0.6" fill="#4858a8"/>
<circle cx="277" cy="625.0" r="1.25" fill="#b0b0d8"/>
<circle cx="287" cy="625.0" r="0.5" fill="#4858a8"/>
<circle cx="297" cy="625.0" r="0.6" fill="#4858a8"/>
<circle cx="307" cy="625.0" r="0.75" fill="#28308c"/>
<circle cx="317" cy="625.0" r="0.6" fill="#b8b8dc"/>
<circle cx="327" cy="625.0" r="1.0" fill="#8088c8"/>
<circle cx="337" cy="625.0" r="1.25" fill="#6070b8"/>
<circle cx="347" cy="625.0" r="0.5" fill="#b8b8dc"/>
<rect x="302.5" y="573.7" width="50.5" height="10.6" rx="0.8" fill="none" stroke="#2a2a2a" stroke-width="1.3"/>
<rect x="262.7" y="589.0" width="48.3" height="10.6" rx="0.8" fill="none" stroke="#2a2a2a" stroke-width="1.3"/>
<rect x="223.3" y="604.3" width="48.0" height="10.6" rx="0.8" fill="none" stroke="#2a2a2a" stroke-width="1.3"/>
<rect x="216.5" y="568.6" width="141.5" height="66.2" fill="none" stroke="#111" stroke-width="1.5"/>
<path d="M212.9 579.1H216.5M212.9 594.4H216.5M212.9 609.7H216.5M212.9 625.0H216.5M227 634.8V638.0M237 634.8V638.0M247 634.8V638.0M257 634.8V638.0M267 634.8V638.0M277 634.8V638.0M287 634.8V638.0M297 634.8V638.0M307 634.8V638.0M317 634.8V638.0M327 634.8V638.0M337 634.8V638.0M347 634.8V638.0" stroke="#111" stroke-width="1.1" fill="none"/>
<text transform="translate(230.0,641.1999999999999) rotate(-90)" font-size="7.7" fill="#222" text-anchor="end" font-style="italic">HERC5</text>
<text transform="translate(240.0,641.1999999999999) rotate(-90)" font-size="7.7" fill="#222" text-anchor="end" font-style="italic">ISG15</text>
<text transform="translate(250.0,641.1999999999999) rotate(-90)" font-size="7.7" fill="#222" text-anchor="end" font-style="italic">SIGLEC1</text>
<text transform="translate(260.0,641.1999999999999) rotate(-90)" font-size="7.7" fill="#222" text-anchor="end" font-style="italic">IFI44L</text>
<text transform="translate(270.0,641.1999999999999) rotate(-90)" font-size="7.7" fill="#222" text-anchor="end" font-style="italic">AREG</text>
<text transform="translate(280.0,641.1999999999999) rotate(-90)" font-size="7.7" fill="#222" text-anchor="end" font-style="italic">G0S2</text>
<text transform="translate(290.0,641.1999999999999) rotate(-90)" font-size="7.7" fill="#222" text-anchor="end" font-style="italic">EREG</text>
<text transform="translate(300.0,641.1999999999999) rotate(-90)" font-size="7.7" fill="#222" text-anchor="end" font-style="italic">CD1E</text>
<text transform="translate(310.0,641.1999999999999) rotate(-90)" font-size="7.7" fill="#222" text-anchor="end" font-style="italic">JCHAIN</text>
<text transform="translate(320.0,641.1999999999999) rotate(-90)" font-size="7.7" fill="#222" text-anchor="end" font-style="italic">FKBP4</text>
<text transform="translate(330.0,641.1999999999999) rotate(-90)" font-size="7.7" fill="#222" text-anchor="end" font-style="italic">C1QB</text>
<text transform="translate(340.0,641.1999999999999) rotate(-90)" font-size="7.7" fill="#222" text-anchor="end" font-style="italic">GAS6</text>
<text transform="translate(350.0,641.1999999999999) rotate(-90)" font-size="7.7" fill="#222" text-anchor="end" font-style="italic">MSLN</text>
<text x="110.8" y="439.7" font-size="7.7" fill="#222" textLength="38.2" lengthAdjust="spacingAndGlyphs">CD14<tspan font-size="5.2" dy="-2.8">+</tspan><tspan dy="2.8"> Mo</tspan></text>
<line x1="109.6" y1="440.59999999999997" x2="150.2" y2="440.59999999999997" stroke="#222" stroke-width="0.8"/>
<text x="271" y="439.7" font-size="7.7" fill="#222" textLength="42" lengthAdjust="spacingAndGlyphs">CD16<tspan font-size="5.2" dy="-2.8">++</tspan><tspan dy="2.8"> Mo</tspan></text>
<line x1="269.8" y1="440.59999999999997" x2="314.2" y2="440.59999999999997" stroke="#222" stroke-width="0.8"/>
<text x="128.7" y="563" font-size="7.7" fill="#222" textLength="13.8" lengthAdjust="spacingAndGlyphs">iMo</text>
<line x1="127.49999999999999" y1="563.9" x2="143.7" y2="563.9" stroke="#222" stroke-width="0.8"/>
<text x="268" y="563" font-size="7.7" fill="#222" textLength="39.3" lengthAdjust="spacingAndGlyphs">cDC2/DC3</text>
<line x1="266.8" y1="563.9" x2="308.5" y2="563.9" stroke="#222" stroke-width="0.8"/>
<defs><linearGradient id="cb" x1="0" y1="0" x2="0" y2="1"><stop offset="0" stop-color="#6e0a14"/><stop offset="0.27" stop-color="#e41a24"/><stop offset="0.5" stop-color="#ffffff"/><stop offset="0.75" stop-color="#3a4fae"/><stop offset="1" stop-color="#161650"/></linearGradient></defs>
<rect x="387" y="477.3" width="7" height="47.6" fill="url(#cb)" stroke="#000" stroke-width="1.1"/>
<text x="387.5" y="462.3" font-size="7.7" fill="#222" textLength="21.8" lengthAdjust="spacingAndGlyphs">Scaled</text>
<text x="387.5" y="471.2" font-size="7.7" fill="#222" textLength="35.5" lengthAdjust="spacingAndGlyphs">expression</text>
<line x1="394.5" y1="477.3" x2="397.2" y2="477.3" stroke="#000" stroke-width="1.1"/>
<text x="400.6" y="480.0" font-size="7.6" fill="#222" textLength="9.8" lengthAdjust="spacingAndGlyphs">1.0</text>
<line x1="394.5" y1="489.15000000000003" x2="397.2" y2="489.15000000000003" stroke="#000" stroke-width="1.1"/>
<text x="400.6" y="491.85" font-size="7.6" fill="#222" textLength="9.8" lengthAdjust="spacingAndGlyphs">0.5</text>
<line x1="394.5" y1="501.0" x2="397.2" y2="501.0" stroke="#000" stroke-width="1.1"/>
<text x="400.6" y="503.7" font-size="7.6" fill="#222" textLength="9.8" lengthAdjust="spacingAndGlyphs">0.0</text>
<line x1="394.5" y1="512.85" x2="397.2" y2="512.85" stroke="#000" stroke-width="1.1"/>
<text x="398.4" y="515.5500000000001" font-size="7.6" fill="#222" textLength="16.8" lengthAdjust="spacingAndGlyphs">−0.5</text>
<line x1="394.5" y1="524.7" x2="397.2" y2="524.7" stroke="#000" stroke-width="1.1"/>
<text x="398.4" y="527.4000000000001" font-size="7.6" fill="#222" textLength="16.8" lengthAdjust="spacingAndGlyphs">−1.0</text>
<text x="386.4" y="547.6" font-size="7.7" fill="#222" textLength="37.5" lengthAdjust="spacingAndGlyphs">Percentage</text>
<text x="386.4" y="556.3" font-size="7.7" fill="#222" textLength="35.6" lengthAdjust="spacingAndGlyphs">expression</text>
<circle cx="390.6" cy="564.4" r="3.1" fill="#231f20"/>
<text x="396.5" y="567.1" font-size="7.6" fill="#222" textLength="14.3" lengthAdjust="spacingAndGlyphs">60%</text>
<circle cx="390.6" cy="573.5" r="2.7" fill="#231f20"/>
<text x="396.5" y="576.2" font-size="7.6" fill="#222" textLength="14.3" lengthAdjust="spacingAndGlyphs">50%</text>
<circle cx="390.6" cy="582.1" r="2.2" fill="#231f20"/>
<text x="396.5" y="584.8000000000001" font-size="7.6" fill="#222" textLength="14.3" lengthAdjust="spacingAndGlyphs">40%</text>
<circle cx="390.6" cy="590.8" r="1.75" fill="#231f20"/>
<text x="396.5" y="593.5" font-size="7.6" fill="#222" textLength="14.3" lengthAdjust="spacingAndGlyphs">30%</text>
<circle cx="390.6" cy="599.6" r="1.25" fill="#231f20"/>
<text x="396.5" y="602.3000000000001" font-size="7.6" fill="#222" textLength="14.3" lengthAdjust="spacingAndGlyphs">20%</text>
<circle cx="390.6" cy="608.1" r="0.9" fill="#231f20"/>
<text x="396.5" y="610.8000000000001" font-size="7.6" fill="#222" textLength="14.3" lengthAdjust="spacingAndGlyphs">10%</text>
</svg></body></html>
